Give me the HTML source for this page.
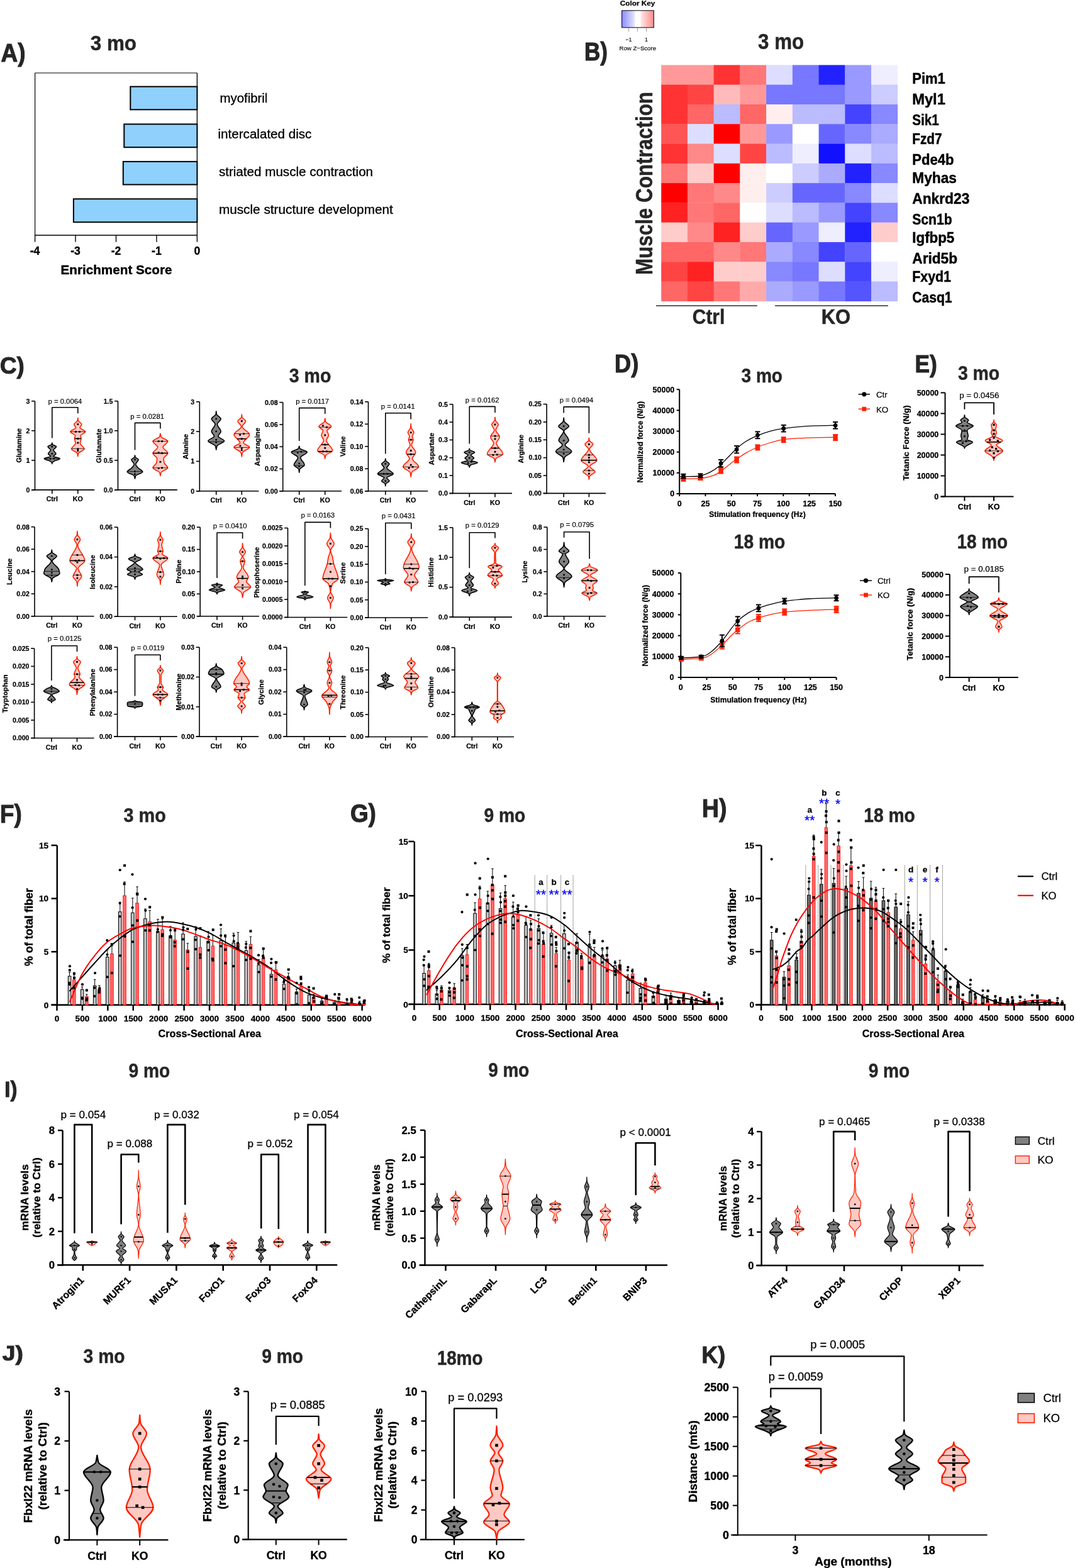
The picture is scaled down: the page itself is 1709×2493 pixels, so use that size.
<!DOCTYPE html><html><head><meta charset="utf-8"><title>Figure</title><style>html,body{margin:0;padding:0;background:#fff;width:1709px;height:2493px;overflow:hidden;}svg{display:block;}text{font-family:"Liberation Sans",Arial,Helvetica,sans-serif;}</style></head><body><svg width="1709" height="2493" viewBox="0 0 1709 2493" font-family="Liberation Sans, Arial, Helvetica, sans-serif"><text x="1.5" y="97.5" font-size="41" font-weight="bold" fill="#262626" textLength="39" lengthAdjust="spacingAndGlyphs" stroke="#262626" stroke-width="1.1" stroke-linejoin="round">A)</text>
<text x="143.7" y="80.4" font-size="32.7" font-weight="bold" stroke="#262626" stroke-width="0.48" fill="#262626" textLength="73.3" lengthAdjust="spacingAndGlyphs">3 mo</text>
<line x1="55.6" y1="116" x2="313.4" y2="116" stroke="#000" stroke-width="1.2"/>
<line x1="55.6" y1="116" x2="55.6" y2="374" stroke="#000" stroke-width="1.2"/>
<line x1="313.4" y1="116" x2="313.4" y2="374" stroke="#000" stroke-width="1.4"/>
<line x1="55.1" y1="374" x2="313.9" y2="374" stroke="#000" stroke-width="1.6"/>
<line x1="55.6" y1="374" x2="55.6" y2="384.7" stroke="#000" stroke-width="1.4"/>
<text x="55.6" y="405.1" font-size="17.6" font-weight="bold" stroke="#000" stroke-width="0.35" text-anchor="middle">-4</text>
<line x1="120.05" y1="374" x2="120.05" y2="384.7" stroke="#000" stroke-width="1.4"/>
<text x="120.05" y="405.1" font-size="17.6" font-weight="bold" stroke="#000" stroke-width="0.35" text-anchor="middle">-3</text>
<line x1="184.5" y1="374" x2="184.5" y2="384.7" stroke="#000" stroke-width="1.4"/>
<text x="184.5" y="405.1" font-size="17.6" font-weight="bold" stroke="#000" stroke-width="0.35" text-anchor="middle">-2</text>
<line x1="248.95" y1="374" x2="248.95" y2="384.7" stroke="#000" stroke-width="1.4"/>
<text x="248.95" y="405.1" font-size="17.6" font-weight="bold" stroke="#000" stroke-width="0.35" text-anchor="middle">-1</text>
<line x1="313.4" y1="374" x2="313.4" y2="384.7" stroke="#000" stroke-width="1.4"/>
<text x="313.4" y="405.1" font-size="17.6" font-weight="bold" stroke="#000" stroke-width="0.35" text-anchor="middle">0</text>
<text x="96.5" y="436.2" font-size="20.68" font-weight="bold" stroke="#000" stroke-width="0.41" textLength="177" lengthAdjust="spacingAndGlyphs">Enrichment Score</text>
<rect x="207.3" y="137.7" width="106.1" height="36.6" fill="#8fd0fc" stroke="#000" stroke-width="2"/>
<rect x="197.3" y="197.4" width="116.1" height="36.8" fill="#8fd0fc" stroke="#000" stroke-width="2"/>
<rect x="195.8" y="256.9" width="117.6" height="36.6" fill="#8fd0fc" stroke="#000" stroke-width="2"/>
<rect x="116.9" y="316.3" width="196.5" height="36.9" fill="#8fd0fc" stroke="#000" stroke-width="2"/>
<text x="349.5" y="162.7" font-size="20.39" stroke="#000" stroke-width="0.32" textLength="75.9" lengthAdjust="spacingAndGlyphs">myofibril</text>
<text x="346.5" y="219.5" font-size="20.61" stroke="#000" stroke-width="0.32" textLength="148.9" lengthAdjust="spacingAndGlyphs">intercalated disc</text>
<text x="347.9" y="280.4" font-size="20.62" stroke="#000" stroke-width="0.32" textLength="245.2" lengthAdjust="spacingAndGlyphs">striated muscle contraction</text>
<text x="347.9" y="339.8" font-size="20.76" stroke="#000" stroke-width="0.33" textLength="276.9" lengthAdjust="spacingAndGlyphs">muscle structure development</text>
<text x="928.9" y="95.9" font-size="39.8" font-weight="bold" fill="#262626" textLength="37" lengthAdjust="spacingAndGlyphs" stroke="#262626" stroke-width="1.1" stroke-linejoin="round">B)</text>
<text x="1205.1" y="77.8" font-size="34.6" font-weight="bold" stroke="#262626" stroke-width="0.48" fill="#262626" textLength="73" lengthAdjust="spacingAndGlyphs">3 mo</text>
<text x="985.8" y="9" font-size="11.77" font-weight="bold" stroke="#000" stroke-width="0.24" textLength="55.6" lengthAdjust="spacingAndGlyphs">Color Key</text>
<defs><linearGradient id="ck" x1="0" x2="1" y1="0" y2="0"><stop offset="0" stop-color="#8b8bff"/><stop offset="0.4" stop-color="#e6e6ff"/><stop offset="0.42" stop-color="#fff"/><stop offset="0.58" stop-color="#fff"/><stop offset="0.6" stop-color="#ffe6e6"/><stop offset="1" stop-color="#ff8b8b"/></linearGradient></defs>
<rect x="988.6" y="16.8" width="50.7" height="27" fill="url(#ck)" stroke="#000" stroke-width="1"/>
<line x1="999.5" y1="44.2" x2="999.5" y2="50.2" stroke="#555" stroke-width="0.6"/>
<line x1="1013.4" y1="44.2" x2="1013.4" y2="50.2" stroke="#555" stroke-width="0.6"/>
<line x1="1027.5" y1="44.2" x2="1027.5" y2="50.2" stroke="#555" stroke-width="0.6"/>
<text x="999.5" y="65.5" font-size="9" stroke="#000" stroke-width="0.14" text-anchor="middle">−1</text>
<text x="1027.5" y="65.5" font-size="9" stroke="#000" stroke-width="0.14" text-anchor="middle">1</text>
<text x="984.6" y="80.4" font-size="9.6" stroke="#000" stroke-width="0.15" textLength="58.4" lengthAdjust="spacingAndGlyphs">Row Z−Score</text>
<rect x="1051.2" y="103.4" width="42.08" height="31.63" fill="#ff9999"/>
<rect x="1092.93" y="103.4" width="42.08" height="31.63" fill="#ff9999"/>
<rect x="1134.67" y="103.4" width="42.08" height="31.63" fill="#ff3333"/>
<rect x="1176.4" y="103.4" width="42.08" height="31.63" fill="#ff7777"/>
<rect x="1218.13" y="103.4" width="42.08" height="31.63" fill="#ddddff"/>
<rect x="1259.87" y="103.4" width="42.08" height="31.63" fill="#7777ff"/>
<rect x="1301.6" y="103.4" width="42.08" height="31.63" fill="#2222ff"/>
<rect x="1343.33" y="103.4" width="42.08" height="31.63" fill="#9999ff"/>
<rect x="1385.07" y="103.4" width="42.08" height="31.63" fill="#eeeeff"/>
<rect x="1051.2" y="134.68" width="42.08" height="31.63" fill="#ff3333"/>
<rect x="1092.93" y="134.68" width="42.08" height="31.63" fill="#ff4444"/>
<rect x="1134.67" y="134.68" width="42.08" height="31.63" fill="#ffbbbb"/>
<rect x="1176.4" y="134.68" width="42.08" height="31.63" fill="#ff9999"/>
<rect x="1218.13" y="134.68" width="42.08" height="31.63" fill="#7777ff"/>
<rect x="1259.87" y="134.68" width="42.08" height="31.63" fill="#7777ff"/>
<rect x="1301.6" y="134.68" width="42.08" height="31.63" fill="#7777ff"/>
<rect x="1343.33" y="134.68" width="42.08" height="31.63" fill="#9999ff"/>
<rect x="1385.07" y="134.68" width="42.08" height="31.63" fill="#ccccff"/>
<rect x="1051.2" y="165.97" width="42.08" height="31.63" fill="#ff3333"/>
<rect x="1092.93" y="165.97" width="42.08" height="31.63" fill="#ff6666"/>
<rect x="1134.67" y="165.97" width="42.08" height="31.63" fill="#bbbbff"/>
<rect x="1176.4" y="165.97" width="42.08" height="31.63" fill="#ff6666"/>
<rect x="1218.13" y="165.97" width="42.08" height="31.63" fill="#ffeeee"/>
<rect x="1259.87" y="165.97" width="42.08" height="31.63" fill="#bbbbff"/>
<rect x="1301.6" y="165.97" width="42.08" height="31.63" fill="#bbbbff"/>
<rect x="1343.33" y="165.97" width="42.08" height="31.63" fill="#4444ff"/>
<rect x="1385.07" y="165.97" width="42.08" height="31.63" fill="#8888ff"/>
<rect x="1051.2" y="197.25" width="42.08" height="31.63" fill="#ff5555"/>
<rect x="1092.93" y="197.25" width="42.08" height="31.63" fill="#ddddff"/>
<rect x="1134.67" y="197.25" width="42.08" height="31.63" fill="#ff0000"/>
<rect x="1176.4" y="197.25" width="42.08" height="31.63" fill="#ff9999"/>
<rect x="1218.13" y="197.25" width="42.08" height="31.63" fill="#9999ff"/>
<rect x="1259.87" y="197.25" width="42.08" height="31.63" fill="#ffffff"/>
<rect x="1301.6" y="197.25" width="42.08" height="31.63" fill="#6666ff"/>
<rect x="1343.33" y="197.25" width="42.08" height="31.63" fill="#8888ff"/>
<rect x="1385.07" y="197.25" width="42.08" height="31.63" fill="#aaaaff"/>
<rect x="1051.2" y="228.53" width="42.08" height="31.63" fill="#ff3333"/>
<rect x="1092.93" y="228.53" width="42.08" height="31.63" fill="#ff8888"/>
<rect x="1134.67" y="228.53" width="42.08" height="31.63" fill="#ddddff"/>
<rect x="1176.4" y="228.53" width="42.08" height="31.63" fill="#ff4444"/>
<rect x="1218.13" y="228.53" width="42.08" height="31.63" fill="#bbbbff"/>
<rect x="1259.87" y="228.53" width="42.08" height="31.63" fill="#eeeeff"/>
<rect x="1301.6" y="228.53" width="42.08" height="31.63" fill="#1111ff"/>
<rect x="1343.33" y="228.53" width="42.08" height="31.63" fill="#ddddff"/>
<rect x="1385.07" y="228.53" width="42.08" height="31.63" fill="#bbbbff"/>
<rect x="1051.2" y="259.82" width="42.08" height="31.63" fill="#ff7777"/>
<rect x="1092.93" y="259.82" width="42.08" height="31.63" fill="#ffcccc"/>
<rect x="1134.67" y="259.82" width="42.08" height="31.63" fill="#ff0000"/>
<rect x="1176.4" y="259.82" width="42.08" height="31.63" fill="#ffeeee"/>
<rect x="1218.13" y="259.82" width="42.08" height="31.63" fill="#ffffff"/>
<rect x="1259.87" y="259.82" width="42.08" height="31.63" fill="#ccccff"/>
<rect x="1301.6" y="259.82" width="42.08" height="31.63" fill="#aaaaff"/>
<rect x="1343.33" y="259.82" width="42.08" height="31.63" fill="#2222ff"/>
<rect x="1385.07" y="259.82" width="42.08" height="31.63" fill="#8888ff"/>
<rect x="1051.2" y="291.1" width="42.08" height="31.63" fill="#ff0000"/>
<rect x="1092.93" y="291.1" width="42.08" height="31.63" fill="#ff7777"/>
<rect x="1134.67" y="291.1" width="42.08" height="31.63" fill="#ff8888"/>
<rect x="1176.4" y="291.1" width="42.08" height="31.63" fill="#ffeeee"/>
<rect x="1218.13" y="291.1" width="42.08" height="31.63" fill="#ccccff"/>
<rect x="1259.87" y="291.1" width="42.08" height="31.63" fill="#6666ff"/>
<rect x="1301.6" y="291.1" width="42.08" height="31.63" fill="#6666ff"/>
<rect x="1343.33" y="291.1" width="42.08" height="31.63" fill="#8888ff"/>
<rect x="1385.07" y="291.1" width="42.08" height="31.63" fill="#ddddff"/>
<rect x="1051.2" y="322.38" width="42.08" height="31.63" fill="#ff2222"/>
<rect x="1092.93" y="322.38" width="42.08" height="31.63" fill="#ff7777"/>
<rect x="1134.67" y="322.38" width="42.08" height="31.63" fill="#ff6666"/>
<rect x="1176.4" y="322.38" width="42.08" height="31.63" fill="#ffffff"/>
<rect x="1218.13" y="322.38" width="42.08" height="31.63" fill="#ddddff"/>
<rect x="1259.87" y="322.38" width="42.08" height="31.63" fill="#bbbbff"/>
<rect x="1301.6" y="322.38" width="42.08" height="31.63" fill="#9999ff"/>
<rect x="1343.33" y="322.38" width="42.08" height="31.63" fill="#4444ff"/>
<rect x="1385.07" y="322.38" width="42.08" height="31.63" fill="#8888ff"/>
<rect x="1051.2" y="353.67" width="42.08" height="31.63" fill="#ffcccc"/>
<rect x="1092.93" y="353.67" width="42.08" height="31.63" fill="#ff8888"/>
<rect x="1134.67" y="353.67" width="42.08" height="31.63" fill="#ff2222"/>
<rect x="1176.4" y="353.67" width="42.08" height="31.63" fill="#ffcccc"/>
<rect x="1218.13" y="353.67" width="42.08" height="31.63" fill="#6666ff"/>
<rect x="1259.87" y="353.67" width="42.08" height="31.63" fill="#9999ff"/>
<rect x="1301.6" y="353.67" width="42.08" height="31.63" fill="#eeeeff"/>
<rect x="1343.33" y="353.67" width="42.08" height="31.63" fill="#2222ff"/>
<rect x="1385.07" y="353.67" width="42.08" height="31.63" fill="#ffcccc"/>
<rect x="1051.2" y="384.95" width="42.08" height="31.63" fill="#ff6666"/>
<rect x="1092.93" y="384.95" width="42.08" height="31.63" fill="#ff6666"/>
<rect x="1134.67" y="384.95" width="42.08" height="31.63" fill="#ff8888"/>
<rect x="1176.4" y="384.95" width="42.08" height="31.63" fill="#ff7777"/>
<rect x="1218.13" y="384.95" width="42.08" height="31.63" fill="#aaaaff"/>
<rect x="1259.87" y="384.95" width="42.08" height="31.63" fill="#8888ff"/>
<rect x="1301.6" y="384.95" width="42.08" height="31.63" fill="#4444ff"/>
<rect x="1343.33" y="384.95" width="42.08" height="31.63" fill="#6666ff"/>
<rect x="1385.07" y="384.95" width="42.08" height="31.63" fill="#ffffff"/>
<rect x="1051.2" y="416.23" width="42.08" height="31.63" fill="#ff4444"/>
<rect x="1092.93" y="416.23" width="42.08" height="31.63" fill="#ff2222"/>
<rect x="1134.67" y="416.23" width="42.08" height="31.63" fill="#ffcccc"/>
<rect x="1176.4" y="416.23" width="42.08" height="31.63" fill="#ffcccc"/>
<rect x="1218.13" y="416.23" width="42.08" height="31.63" fill="#8888ff"/>
<rect x="1259.87" y="416.23" width="42.08" height="31.63" fill="#7777ff"/>
<rect x="1301.6" y="416.23" width="42.08" height="31.63" fill="#ddddff"/>
<rect x="1343.33" y="416.23" width="42.08" height="31.63" fill="#4444ff"/>
<rect x="1385.07" y="416.23" width="42.08" height="31.63" fill="#eeeeff"/>
<rect x="1051.2" y="447.52" width="42.08" height="31.63" fill="#ff6666"/>
<rect x="1092.93" y="447.52" width="42.08" height="31.63" fill="#ff4444"/>
<rect x="1134.67" y="447.52" width="42.08" height="31.63" fill="#ff7777"/>
<rect x="1176.4" y="447.52" width="42.08" height="31.63" fill="#ffaaaa"/>
<rect x="1218.13" y="447.52" width="42.08" height="31.63" fill="#aaaaff"/>
<rect x="1259.87" y="447.52" width="42.08" height="31.63" fill="#9999ff"/>
<rect x="1301.6" y="447.52" width="42.08" height="31.63" fill="#7777ff"/>
<rect x="1343.33" y="447.52" width="42.08" height="31.63" fill="#5555ff"/>
<rect x="1385.07" y="447.52" width="42.08" height="31.63" fill="#bbbbff"/>
<text x="1450.3" y="133.4" font-size="23.5" font-weight="bold" stroke="#000" stroke-width="0.47" textLength="52.5" lengthAdjust="spacingAndGlyphs">Pim1</text>
<text x="1450.3" y="166.4" font-size="23.5" font-weight="bold" stroke="#000" stroke-width="0.47" textLength="52.5" lengthAdjust="spacingAndGlyphs">Myl1</text>
<text x="1450.3" y="198.9" font-size="23.5" font-weight="bold" stroke="#000" stroke-width="0.47" textLength="42.4" lengthAdjust="spacingAndGlyphs">Sik1</text>
<text x="1450.3" y="228.5" font-size="23.5" font-weight="bold" stroke="#000" stroke-width="0.47" textLength="47.1" lengthAdjust="spacingAndGlyphs">Fzd7</text>
<text x="1450.3" y="261.5" font-size="23.5" font-weight="bold" stroke="#000" stroke-width="0.47" textLength="66.1" lengthAdjust="spacingAndGlyphs">Pde4b</text>
<text x="1450.3" y="291.1" font-size="23.5" font-weight="bold" stroke="#000" stroke-width="0.47" textLength="70.6" lengthAdjust="spacingAndGlyphs">Myhas</text>
<text x="1450.3" y="323.6" font-size="23.5" font-weight="bold" stroke="#000" stroke-width="0.47" textLength="91" lengthAdjust="spacingAndGlyphs">Ankrd23</text>
<text x="1450.3" y="356.7" font-size="23.5" font-weight="bold" stroke="#000" stroke-width="0.47" textLength="63.3" lengthAdjust="spacingAndGlyphs">Scn1b</text>
<text x="1450.3" y="386.2" font-size="23.5" font-weight="bold" stroke="#000" stroke-width="0.47" textLength="67" lengthAdjust="spacingAndGlyphs">Igfbp5</text>
<text x="1450.3" y="418.5" font-size="23.5" font-weight="bold" stroke="#000" stroke-width="0.47" textLength="71.7" lengthAdjust="spacingAndGlyphs">Arid5b</text>
<text x="1450.3" y="448.2" font-size="23.5" font-weight="bold" stroke="#000" stroke-width="0.47" textLength="61.6" lengthAdjust="spacingAndGlyphs">Fxyd1</text>
<text x="1450.3" y="481.1" font-size="23.5" font-weight="bold" stroke="#000" stroke-width="0.47" textLength="63.3" lengthAdjust="spacingAndGlyphs">Casq1</text>
<line x1="1043" y1="486.1" x2="1203.8" y2="486.1" stroke="#000" stroke-width="1.3"/>
<line x1="1232.1" y1="486.1" x2="1411.9" y2="486.1" stroke="#000" stroke-width="1.3"/>
<text x="1100.8" y="514.7" font-size="34" font-weight="bold" stroke="#262626" stroke-width="0.48" fill="#262626" textLength="51.5" lengthAdjust="spacingAndGlyphs">Ctrl</text>
<text x="1305.7" y="514.7" font-size="34" font-weight="bold" stroke="#262626" stroke-width="0.48" fill="#262626" textLength="46.5" lengthAdjust="spacingAndGlyphs">KO</text>
<text x="1037.1" y="437" font-size="36" font-weight="bold" stroke="#262626" stroke-width="0.48" fill="#262626" textLength="291" lengthAdjust="spacingAndGlyphs" transform="rotate(-90 1037.1 437)">Muscle Contraction</text>
<text x="0" y="594" font-size="37.5" font-weight="bold" fill="#262626" textLength="38.7" lengthAdjust="spacingAndGlyphs" stroke="#262626" stroke-width="1.1" stroke-linejoin="round">C)</text>
<text x="459.8" y="608" font-size="30.8" font-weight="bold" stroke="#262626" stroke-width="0.48" fill="#262626" textLength="66.5" lengthAdjust="spacingAndGlyphs">3 mo</text>
<line x1="55.5" y1="637.7" x2="55.5" y2="779.7" stroke="#000" stroke-width="1.6"/>
<line x1="50.1" y1="778.9" x2="150.2" y2="778.9" stroke="#000" stroke-width="1.6"/>
<line x1="50.1" y1="778.9" x2="55.5" y2="778.9" stroke="#000" stroke-width="1.6"/>
<text x="47.4" y="782.7" font-size="10.6" font-weight="bold" stroke="#000" stroke-width="0.21" text-anchor="end">0</text>
<line x1="50.1" y1="731.83" x2="55.5" y2="731.83" stroke="#000" stroke-width="1.6"/>
<text x="47.4" y="735.63" font-size="10.6" font-weight="bold" stroke="#000" stroke-width="0.21" text-anchor="end">1</text>
<line x1="50.1" y1="684.77" x2="55.5" y2="684.77" stroke="#000" stroke-width="1.6"/>
<text x="47.4" y="688.57" font-size="10.6" font-weight="bold" stroke="#000" stroke-width="0.21" text-anchor="end">2</text>
<line x1="50.1" y1="637.7" x2="55.5" y2="637.7" stroke="#000" stroke-width="1.6"/>
<text x="47.4" y="641.5" font-size="10.6" font-weight="bold" stroke="#000" stroke-width="0.21" text-anchor="end">3</text>
<line x1="82.8" y1="778.9" x2="82.8" y2="784.9" stroke="#000" stroke-width="1.6"/>
<text x="82.8" y="797.4" font-size="10.6" font-weight="bold" stroke="#000" stroke-width="0.21" text-anchor="middle">Ctrl</text>
<line x1="123.8" y1="778.9" x2="123.8" y2="784.9" stroke="#000" stroke-width="1.6"/>
<text x="123.8" y="797.4" font-size="10.6" font-weight="bold" stroke="#000" stroke-width="0.21" text-anchor="middle">KO</text>
<text x="34.4" y="708.3" font-size="11.2" font-weight="bold" stroke="#000" stroke-width="0.22" text-anchor="middle" transform="rotate(-90 34.4 708.3)">Glutamine</text>
<text x="103.4" y="641.5" font-size="11.3" stroke="#000" stroke-width="0.18" text-anchor="middle">p = 0.0064</text>
<polyline points="82.8,696.5 82.8,647.7 123.8,647.7 123.8,657.3" fill="none" stroke="#000" stroke-width="1.6" stroke-linejoin="round" stroke-linecap="butt"/>
<path d="M82.8,704.1C83,704.9 83.1,705.8 83.5,706.6C84,707.8 89.6,708.9 89.6,710.1C89.6,711.9 85,713.8 85,715.6C85,717.5 89,719.5 89,721.4C89,722.8 85,724.2 85,725.6C85,726.8 95.3,728 95.3,729.2C95.3,730.7 86.9,732.3 85,733.8C84.1,734.5 83.2,735.2 83,735.9C82.9,736.4 82.9,736.9 82.8,737.4C82.7,736.9 82.7,736.4 82.6,735.9C82.4,735.2 81.5,734.5 80.6,733.8C78.7,732.3 70.3,730.7 70.3,729.2C70.3,728 80.6,726.8 80.6,725.6C80.6,724.2 76.6,722.8 76.6,721.4C76.6,719.5 80.6,717.5 80.6,715.6C80.6,713.8 76,711.9 76,710.1C76,708.9 81.6,707.8 82.1,706.6C82.5,705.8 82.6,704.9 82.8,704.1Z" fill="#808080" stroke="#000" stroke-width="1.6" stroke-linejoin="round"/>
<line x1="70.3" y1="729.2" x2="95.3" y2="729.2" stroke="#000" stroke-width="0.8"/>
<circle cx="82.8" cy="710.3" r="1.44" fill="#000"/>
<circle cx="82.8" cy="721.4" r="1.44" fill="#000"/>
<circle cx="80" cy="729.8" r="1.44" fill="#000"/>
<circle cx="85.9" cy="729.2" r="1.44" fill="#000"/>
<path d="M123.8,664.6C124,666 124.1,667.4 124.4,668.8C124.9,670.7 129.9,672.7 129.9,674.6C129.9,676.4 127,678.3 127,680.1C127,682.2 135.7,684.3 135.7,686.4C135.7,688.5 128,690.7 128,692.8C128,694.3 129,695.9 129,697.4C129,699.8 127.5,702.3 127.5,704.7C127.5,707.7 134,710.8 134,713.8C134,716.1 125.6,718.4 124.8,720.6C124.3,722.3 124.1,723.9 123.8,725.6C123.5,723.9 123.3,722.3 122.8,720.6C122,718.4 113.6,716.1 113.6,713.8C113.6,710.8 120.1,707.7 120.1,704.7C120.1,702.3 118.6,699.8 118.6,697.4C118.6,695.9 119.6,694.3 119.6,692.8C119.6,690.7 111.9,688.5 111.9,686.4C111.9,684.3 120.6,682.2 120.6,680.1C120.6,678.3 117.7,676.4 117.7,674.6C117.7,672.7 122.7,670.7 123.2,668.8C123.5,667.4 123.6,666 123.8,664.6Z" fill="#ffc9c3" stroke="#ff2000" stroke-width="1.6" stroke-linejoin="round"/>
<line x1="111.9" y1="686.4" x2="135.7" y2="686.4" stroke="#000" stroke-width="0.8"/>
<line x1="118.6" y1="697.4" x2="129" y2="697.4" stroke="#000" stroke-width="1.6"/>
<line x1="113.66" y1="713.3" x2="133.94" y2="713.3" stroke="#000" stroke-width="0.8"/>
<rect x="122.4" y="673.2" width="2.8" height="2.8" fill="#000"/>
<rect x="119.1" y="685" width="2.8" height="2.8" fill="#000"/>
<rect x="125.1" y="685" width="2.8" height="2.8" fill="#000"/>
<rect x="122.4" y="696" width="2.8" height="2.8" fill="#000"/>
<rect x="122.4" y="702.7" width="2.8" height="2.8" fill="#000"/>
<rect x="122.4" y="712.4" width="2.8" height="2.8" fill="#000"/>
<rect x="122.4" y="715.2" width="2.8" height="2.8" fill="#000"/>
<line x1="187.5" y1="637.7" x2="187.5" y2="779.7" stroke="#000" stroke-width="1.6"/>
<line x1="182.1" y1="778.9" x2="281.8" y2="778.9" stroke="#000" stroke-width="1.6"/>
<line x1="182.1" y1="778.9" x2="187.5" y2="778.9" stroke="#000" stroke-width="1.6"/>
<text x="179.4" y="782.7" font-size="10.6" font-weight="bold" stroke="#000" stroke-width="0.21" text-anchor="end">0.0</text>
<line x1="182.1" y1="731.83" x2="187.5" y2="731.83" stroke="#000" stroke-width="1.6"/>
<text x="179.4" y="735.63" font-size="10.6" font-weight="bold" stroke="#000" stroke-width="0.21" text-anchor="end">0.5</text>
<line x1="182.1" y1="684.77" x2="187.5" y2="684.77" stroke="#000" stroke-width="1.6"/>
<text x="179.4" y="688.57" font-size="10.6" font-weight="bold" stroke="#000" stroke-width="0.21" text-anchor="end">1.0</text>
<line x1="182.1" y1="637.7" x2="187.5" y2="637.7" stroke="#000" stroke-width="1.6"/>
<text x="179.4" y="641.5" font-size="10.6" font-weight="bold" stroke="#000" stroke-width="0.21" text-anchor="end">1.5</text>
<line x1="214.5" y1="778.9" x2="214.5" y2="784.9" stroke="#000" stroke-width="1.6"/>
<text x="214.5" y="797.4" font-size="10.6" font-weight="bold" stroke="#000" stroke-width="0.21" text-anchor="middle">Ctrl</text>
<line x1="254.9" y1="778.9" x2="254.9" y2="784.9" stroke="#000" stroke-width="1.6"/>
<text x="254.9" y="797.4" font-size="10.6" font-weight="bold" stroke="#000" stroke-width="0.21" text-anchor="middle">KO</text>
<text x="160.9" y="708.8" font-size="11.2" font-weight="bold" stroke="#000" stroke-width="0.22" text-anchor="middle" transform="rotate(-90 160.9 708.8)">Glutamate</text>
<text x="234.1" y="665.5" font-size="11.3" stroke="#000" stroke-width="0.18" text-anchor="middle">p = 0.0281</text>
<polyline points="214.5,715.6 214.5,672.4 254.9,672.4 254.9,681.5" fill="none" stroke="#000" stroke-width="1.6" stroke-linejoin="round" stroke-linecap="butt"/>
<path d="M214.5,723.8C214.7,724.8 214.7,725.7 215.1,726.7C215.5,728 220.1,729.4 220.1,730.7C220.1,733.2 215.7,735.8 215.7,738.3C215.7,740.2 218.1,742.1 219.7,744C221.5,746.1 226.8,748.1 226.8,750.2C226.8,752.3 216.7,754.4 215.7,756.5C215,758 214.9,759.6 214.5,761.1C214.1,759.6 214,758 213.3,756.5C212.3,754.4 202.2,752.3 202.2,750.2C202.2,748.1 207.5,746.1 209.3,744C210.9,742.1 213.3,740.2 213.3,738.3C213.3,735.8 208.9,733.2 208.9,730.7C208.9,729.4 213.5,728 213.9,726.7C214.3,725.7 214.3,724.8 214.5,723.8Z" fill="#808080" stroke="#000" stroke-width="1.6" stroke-linejoin="round"/>
<line x1="202.34" y1="749.6" x2="226.66" y2="749.6" stroke="#000" stroke-width="0.8"/>
<circle cx="214.5" cy="730.7" r="1.44" fill="#000"/>
<circle cx="214.5" cy="749.6" r="1.44" fill="#000"/>
<circle cx="214.5" cy="753.8" r="1.44" fill="#000"/>
<path d="M254.9,689.2C255.3,690.9 255.4,692.7 256.1,694.4C257,696.8 266.8,699.2 266.8,701.6C266.8,704.7 259.1,707.9 259.1,711C259.1,714.2 266.8,717.3 266.8,720.5C266.8,723.4 260.1,726.3 260.1,729.2C260.1,731.5 260.6,733.7 261.1,736C261.7,738.6 266.8,741.2 266.8,743.8C266.8,746.3 257,748.7 256.1,751.2C255.4,752.9 255.3,754.7 254.9,756.5C254.5,754.7 254.4,752.9 253.7,751.2C252.8,748.7 243,746.3 243,743.8C243,741.2 248.1,738.6 248.7,736C249.2,733.7 249.7,731.5 249.7,729.2C249.7,726.3 243,723.4 243,720.5C243,717.3 250.7,714.2 250.7,711C250.7,707.9 243,704.7 243,701.6C243,699.2 252.8,696.8 253.7,694.4C254.4,692.7 254.5,690.9 254.9,689.2Z" fill="#ffc9c3" stroke="#ff2000" stroke-width="1.6" stroke-linejoin="round"/>
<line x1="243" y1="701.6" x2="266.8" y2="701.6" stroke="#000" stroke-width="0.8"/>
<line x1="243" y1="720.5" x2="266.8" y2="720.5" stroke="#000" stroke-width="1.6"/>
<line x1="243" y1="743.8" x2="266.8" y2="743.8" stroke="#000" stroke-width="0.8"/>
<rect x="250.7" y="700.2" width="2.8" height="2.8" fill="#000"/>
<rect x="256.2" y="700.2" width="2.8" height="2.8" fill="#000"/>
<rect x="250.7" y="718.4" width="2.8" height="2.8" fill="#000"/>
<rect x="256.2" y="719.1" width="2.8" height="2.8" fill="#000"/>
<rect x="253.5" y="732.9" width="2.8" height="2.8" fill="#000"/>
<rect x="250.7" y="743.3" width="2.8" height="2.8" fill="#000"/>
<rect x="256.2" y="742.4" width="2.8" height="2.8" fill="#000"/>
<line x1="317.3" y1="638.8" x2="317.3" y2="781.6" stroke="#000" stroke-width="1.6"/>
<line x1="311.9" y1="780.8" x2="411.4" y2="780.8" stroke="#000" stroke-width="1.6"/>
<line x1="311.9" y1="780.8" x2="317.3" y2="780.8" stroke="#000" stroke-width="1.6"/>
<text x="309.2" y="784.6" font-size="10.6" font-weight="bold" stroke="#000" stroke-width="0.21" text-anchor="end">0</text>
<line x1="311.9" y1="733.47" x2="317.3" y2="733.47" stroke="#000" stroke-width="1.6"/>
<text x="309.2" y="737.27" font-size="10.6" font-weight="bold" stroke="#000" stroke-width="0.21" text-anchor="end">1</text>
<line x1="311.9" y1="686.13" x2="317.3" y2="686.13" stroke="#000" stroke-width="1.6"/>
<text x="309.2" y="689.93" font-size="10.6" font-weight="bold" stroke="#000" stroke-width="0.21" text-anchor="end">2</text>
<line x1="311.9" y1="638.8" x2="317.3" y2="638.8" stroke="#000" stroke-width="1.6"/>
<text x="309.2" y="642.6" font-size="10.6" font-weight="bold" stroke="#000" stroke-width="0.21" text-anchor="end">3</text>
<line x1="343.7" y1="780.8" x2="343.7" y2="786.8" stroke="#000" stroke-width="1.6"/>
<text x="343.7" y="799.3" font-size="10.6" font-weight="bold" stroke="#000" stroke-width="0.21" text-anchor="middle">Ctrl</text>
<line x1="384.3" y1="780.8" x2="384.3" y2="786.8" stroke="#000" stroke-width="1.6"/>
<text x="384.3" y="799.3" font-size="10.6" font-weight="bold" stroke="#000" stroke-width="0.21" text-anchor="middle">KO</text>
<text x="299.3" y="710.1" font-size="11.2" font-weight="bold" stroke="#000" stroke-width="0.22" text-anchor="middle" transform="rotate(-90 299.3 710.1)">Alanine</text>
<path d="M343.7,653.7C343.9,655.4 344,657.1 344.4,658.8C345,661.2 351.1,663.5 351.1,665.9C351.1,668.8 345.4,671.7 345.4,674.6C345.4,678.4 351.1,682.1 351.1,685.9C351.1,688.5 346.9,691.1 346.9,693.7C346.9,696.1 356.6,698.6 356.6,701C356.6,703.7 346,706.4 345,709.1C344.3,711.1 344.1,713 343.7,715C343.3,713 343.1,711.1 342.4,709.1C341.4,706.4 330.8,703.7 330.8,701C330.8,698.6 340.5,696.1 340.5,693.7C340.5,691.1 336.3,688.5 336.3,685.9C336.3,682.1 342,678.4 342,674.6C342,671.7 336.3,668.8 336.3,665.9C336.3,663.5 342.4,661.2 343,658.8C343.4,657.1 343.5,655.4 343.7,653.7Z" fill="#808080" stroke="#000" stroke-width="1.6" stroke-linejoin="round"/>
<line x1="331.53" y1="702.3" x2="355.87" y2="702.3" stroke="#000" stroke-width="0.8"/>
<circle cx="343.7" cy="665.9" r="1.44" fill="#000"/>
<circle cx="343.7" cy="685.9" r="1.44" fill="#000"/>
<circle cx="343.7" cy="699.2" r="1.44" fill="#000"/>
<circle cx="343.7" cy="703.2" r="1.44" fill="#000"/>
<path d="M384.3,659.1C384.5,660.6 384.6,662 384.9,663.5C385.4,665.5 390.6,667.5 390.6,669.5C390.6,672.4 385,675.4 385,678.3C385,682.5 396.6,686.8 396.6,691C396.6,695.4 387,699.7 387,704.1C387,706.4 396.6,708.7 396.6,711C396.6,713.9 386.5,716.8 385.5,719.7C384.8,721.8 384.7,723.9 384.3,726C383.9,723.9 383.8,721.8 383.1,719.7C382.1,716.8 372,713.9 372,711C372,708.7 381.6,706.4 381.6,704.1C381.6,699.7 372,695.4 372,691C372,686.8 383.6,682.5 383.6,678.3C383.6,675.4 378,672.4 378,669.5C378,667.5 383.2,665.5 383.7,663.5C384,662 384.1,660.6 384.3,659.1Z" fill="#ffc9c3" stroke="#ff2000" stroke-width="1.6" stroke-linejoin="round"/>
<line x1="372.39" y1="689.6" x2="396.21" y2="689.6" stroke="#000" stroke-width="0.8"/>
<line x1="376.96" y1="697.7" x2="391.64" y2="697.7" stroke="#000" stroke-width="1.6"/>
<line x1="372.06" y1="711.4" x2="396.54" y2="711.4" stroke="#000" stroke-width="0.8"/>
<rect x="382.9" y="668.1" width="2.8" height="2.8" fill="#000"/>
<rect x="380.2" y="690" width="2.8" height="2.8" fill="#000"/>
<rect x="386" y="688.3" width="2.8" height="2.8" fill="#000"/>
<rect x="382.9" y="696.3" width="2.8" height="2.8" fill="#000"/>
<rect x="380.5" y="707.4" width="2.8" height="2.8" fill="#000"/>
<rect x="382.9" y="711.1" width="2.8" height="2.8" fill="#000"/>
<rect x="382.9" y="714.2" width="2.8" height="2.8" fill="#000"/>
<line x1="449.7" y1="639.7" x2="449.7" y2="781.6" stroke="#000" stroke-width="1.6"/>
<line x1="444.3" y1="780.8" x2="543.1" y2="780.8" stroke="#000" stroke-width="1.6"/>
<line x1="444.3" y1="780.8" x2="449.7" y2="780.8" stroke="#000" stroke-width="1.6"/>
<text x="441.6" y="784.6" font-size="10.6" font-weight="bold" stroke="#000" stroke-width="0.21" text-anchor="end">0.00</text>
<line x1="444.3" y1="745.52" x2="449.7" y2="745.52" stroke="#000" stroke-width="1.6"/>
<text x="441.6" y="749.32" font-size="10.6" font-weight="bold" stroke="#000" stroke-width="0.21" text-anchor="end">0.02</text>
<line x1="444.3" y1="710.25" x2="449.7" y2="710.25" stroke="#000" stroke-width="1.6"/>
<text x="441.6" y="714.05" font-size="10.6" font-weight="bold" stroke="#000" stroke-width="0.21" text-anchor="end">0.04</text>
<line x1="444.3" y1="674.98" x2="449.7" y2="674.98" stroke="#000" stroke-width="1.6"/>
<text x="441.6" y="678.77" font-size="10.6" font-weight="bold" stroke="#000" stroke-width="0.21" text-anchor="end">0.06</text>
<line x1="444.3" y1="639.7" x2="449.7" y2="639.7" stroke="#000" stroke-width="1.6"/>
<text x="441.6" y="643.5" font-size="10.6" font-weight="bold" stroke="#000" stroke-width="0.21" text-anchor="end">0.08</text>
<line x1="475.7" y1="780.8" x2="475.7" y2="786.8" stroke="#000" stroke-width="1.6"/>
<text x="475.7" y="799.3" font-size="10.6" font-weight="bold" stroke="#000" stroke-width="0.21" text-anchor="middle">Ctrl</text>
<line x1="516.7" y1="780.8" x2="516.7" y2="786.8" stroke="#000" stroke-width="1.6"/>
<text x="516.7" y="799.3" font-size="10.6" font-weight="bold" stroke="#000" stroke-width="0.21" text-anchor="middle">KO</text>
<text x="413.2" y="710.6" font-size="11.2" font-weight="bold" stroke="#000" stroke-width="0.22" text-anchor="middle" transform="rotate(-90 413.2 710.6)">Asparagine</text>
<text x="496.6" y="641.8" font-size="11.3" stroke="#000" stroke-width="0.18" text-anchor="middle">p = 0.0117</text>
<polyline points="475.7,701 475.7,648.6 516.7,648.6 516.7,657.9" fill="none" stroke="#000" stroke-width="1.6" stroke-linejoin="round" stroke-linecap="butt"/>
<path d="M475.7,709.2C476.1,710.5 476.3,711.9 476.9,713.2C477.9,715 488.2,716.9 488.2,718.7C488.2,721.6 477.9,724.5 477.9,727.4C477.9,731.3 484,735.3 484,739.2C484,741.5 477.2,743.8 476.5,746.1C476.1,747.8 476,749.4 475.7,751.1C475.4,749.4 475.3,747.8 474.9,746.1C474.2,743.8 467.4,741.5 467.4,739.2C467.4,735.3 473.5,731.3 473.5,727.4C473.5,724.5 463.2,721.6 463.2,718.7C463.2,716.9 473.5,715 474.4,713.2C475.1,711.9 475.3,710.5 475.7,709.2Z" fill="#808080" stroke="#000" stroke-width="1.6" stroke-linejoin="round"/>
<line x1="463.36" y1="718.3" x2="488.04" y2="718.3" stroke="#000" stroke-width="0.8"/>
<line x1="467.79" y1="740.2" x2="483.61" y2="740.2" stroke="#000" stroke-width="0.8"/>
<circle cx="473.4" cy="719.8" r="1.44" fill="#000"/>
<circle cx="478.8" cy="718.3" r="1.44" fill="#000"/>
<circle cx="475.7" cy="736.9" r="1.44" fill="#000"/>
<circle cx="475.7" cy="741.6" r="1.44" fill="#000"/>
<path d="M516.7,665.1C517,666.9 517.1,668.7 517.7,670.5C518.4,673 526.5,675.4 526.5,677.9C526.5,680.1 519.9,682.4 519.9,684.6C519.9,687 522.4,689.5 522.4,691.9C522.4,694.6 518.9,697.4 518.9,700.1C518.9,705.6 528.6,711 528.6,716.5C528.6,719 518.8,721.4 517.9,723.9C517.2,725.6 517.1,727.4 516.7,729.2C516.3,727.4 516.2,725.6 515.5,723.9C514.6,721.4 504.8,719 504.8,716.5C504.8,711 514.5,705.6 514.5,700.1C514.5,697.4 511,694.6 511,691.9C511,689.5 513.5,687 513.5,684.6C513.5,682.4 506.9,680.1 506.9,677.9C506.9,675.4 515,673 515.7,670.5C516.3,668.7 516.4,666.9 516.7,665.1Z" fill="#ffc9c3" stroke="#ff2000" stroke-width="1.6" stroke-linejoin="round"/>
<line x1="507.55" y1="679.2" x2="525.85" y2="679.2" stroke="#000" stroke-width="0.8"/>
<line x1="510.79" y1="707" x2="522.61" y2="707" stroke="#000" stroke-width="1.6"/>
<line x1="505.61" y1="717.8" x2="527.79" y2="717.8" stroke="#000" stroke-width="1.6"/>
<rect x="512" y="675.4" width="2.8" height="2.8" fill="#000"/>
<rect x="518" y="677.8" width="2.8" height="2.8" fill="#000"/>
<rect x="515.3" y="690.5" width="2.8" height="2.8" fill="#000"/>
<rect x="515.3" y="705.6" width="2.8" height="2.8" fill="#000"/>
<rect x="515.3" y="710.9" width="2.8" height="2.8" fill="#000"/>
<rect x="512" y="716.4" width="2.8" height="2.8" fill="#000"/>
<rect x="518" y="716.4" width="2.8" height="2.8" fill="#000"/>
<line x1="585.5" y1="638.8" x2="585.5" y2="781.6" stroke="#000" stroke-width="1.6"/>
<line x1="580.1" y1="780.8" x2="680.2" y2="780.8" stroke="#000" stroke-width="1.6"/>
<line x1="580.1" y1="780.8" x2="585.5" y2="780.8" stroke="#000" stroke-width="1.6"/>
<text x="577.4" y="784.6" font-size="10.6" font-weight="bold" stroke="#000" stroke-width="0.21" text-anchor="end">0.06</text>
<line x1="580.1" y1="745.3" x2="585.5" y2="745.3" stroke="#000" stroke-width="1.6"/>
<text x="577.4" y="749.1" font-size="10.6" font-weight="bold" stroke="#000" stroke-width="0.21" text-anchor="end">0.08</text>
<line x1="580.1" y1="709.8" x2="585.5" y2="709.8" stroke="#000" stroke-width="1.6"/>
<text x="577.4" y="713.6" font-size="10.6" font-weight="bold" stroke="#000" stroke-width="0.21" text-anchor="end">0.10</text>
<line x1="580.1" y1="674.3" x2="585.5" y2="674.3" stroke="#000" stroke-width="1.6"/>
<text x="577.4" y="678.1" font-size="10.6" font-weight="bold" stroke="#000" stroke-width="0.21" text-anchor="end">0.12</text>
<line x1="580.1" y1="638.8" x2="585.5" y2="638.8" stroke="#000" stroke-width="1.6"/>
<text x="577.4" y="642.6" font-size="10.6" font-weight="bold" stroke="#000" stroke-width="0.21" text-anchor="end">0.14</text>
<line x1="612.8" y1="780.8" x2="612.8" y2="786.8" stroke="#000" stroke-width="1.6"/>
<text x="612.8" y="799.3" font-size="10.6" font-weight="bold" stroke="#000" stroke-width="0.21" text-anchor="middle">Ctrl</text>
<line x1="653.2" y1="780.8" x2="653.2" y2="786.8" stroke="#000" stroke-width="1.6"/>
<text x="653.2" y="799.3" font-size="10.6" font-weight="bold" stroke="#000" stroke-width="0.21" text-anchor="middle">KO</text>
<text x="548.9" y="709.7" font-size="11.2" font-weight="bold" stroke="#000" stroke-width="0.22" text-anchor="middle" transform="rotate(-90 548.9 709.7)">Valine</text>
<text x="632.6" y="650" font-size="11.3" stroke="#000" stroke-width="0.18" text-anchor="middle">p = 0.0141</text>
<polyline points="612.8,721.6 612.8,656.8 653.2,656.8 653.2,666.4" fill="none" stroke="#000" stroke-width="1.6" stroke-linejoin="round" stroke-linecap="butt"/>
<path d="M612.8,729.2C613,730.3 613.1,731.5 613.4,732.6C613.9,734.2 618.9,735.8 618.9,737.4C618.9,739.5 615,741.7 615,743.8C615,747 625.1,750.2 625.1,753.4C625.1,755.5 615,757.7 615,759.8C615,761.4 618.9,763.1 618.9,764.7C618.9,766.2 613.9,767.8 613.4,769.3C613.1,770.4 613,771.5 612.8,772.6C612.6,771.5 612.5,770.4 612.2,769.3C611.7,767.8 606.7,766.2 606.7,764.7C606.7,763.1 610.6,761.4 610.6,759.8C610.6,757.7 600.5,755.5 600.5,753.4C600.5,750.2 610.6,747 610.6,743.8C610.6,741.7 606.7,739.5 606.7,737.4C606.7,735.8 611.7,734.2 612.2,732.6C612.5,731.5 612.6,730.3 612.8,729.2Z" fill="#808080" stroke="#000" stroke-width="1.6" stroke-linejoin="round"/>
<line x1="600.5" y1="753.4" x2="625.1" y2="753.4" stroke="#000" stroke-width="1.6"/>
<circle cx="612.8" cy="737.4" r="1.44" fill="#000"/>
<circle cx="610" cy="753.4" r="1.44" fill="#000"/>
<circle cx="615.5" cy="753.4" r="1.44" fill="#000"/>
<circle cx="612.8" cy="764.7" r="1.44" fill="#000"/>
<path d="M653.2,673.7C653.4,675.7 653.4,677.6 653.7,679.6C654,682.3 657.9,685 657.9,687.7C657.9,689.7 655.4,691.7 655.4,693.7C655.4,695.7 656.9,697.6 656.9,699.6C656.9,702.2 654.4,704.8 654.4,707.4C654.4,711.3 660.8,715.3 660.8,719.2C660.8,722.5 655.4,725.9 655.4,729.2C655.4,733.5 665.7,737.7 665.7,742C665.7,745.1 655.4,748.2 654.5,751.3C653.8,753.5 653.6,755.8 653.2,758C652.8,755.8 652.6,753.5 652,751.3C651,748.2 640.7,745.1 640.7,742C640.7,737.7 651,733.5 651,729.2C651,725.9 645.6,722.5 645.6,719.2C645.6,715.3 652,711.3 652,707.4C652,704.8 649.5,702.2 649.5,699.6C649.5,697.6 651,695.7 651,693.7C651,691.7 648.5,689.7 648.5,687.7C648.5,685 652.4,682.3 652.7,679.6C653,677.6 653,675.7 653.2,673.7Z" fill="#ffc9c3" stroke="#ff2000" stroke-width="1.6" stroke-linejoin="round"/>
<line x1="649.52" y1="699.2" x2="656.88" y2="699.2" stroke="#000" stroke-width="0.8"/>
<line x1="646.84" y1="722.3" x2="659.56" y2="722.3" stroke="#000" stroke-width="1.6"/>
<line x1="640.73" y1="742.3" x2="665.67" y2="742.3" stroke="#000" stroke-width="0.8"/>
<rect x="651.8" y="686.3" width="2.8" height="2.8" fill="#000"/>
<rect x="651.8" y="697.8" width="2.8" height="2.8" fill="#000"/>
<rect x="651.8" y="715.1" width="2.8" height="2.8" fill="#000"/>
<rect x="651.8" y="720.9" width="2.8" height="2.8" fill="#000"/>
<rect x="651.8" y="737.8" width="2.8" height="2.8" fill="#000"/>
<rect x="648.7" y="742.8" width="2.8" height="2.8" fill="#000"/>
<rect x="654.7" y="740.9" width="2.8" height="2.8" fill="#000"/>
<line x1="719.9" y1="642.8" x2="719.9" y2="785.2" stroke="#000" stroke-width="1.6"/>
<line x1="714.5" y1="784.4" x2="814" y2="784.4" stroke="#000" stroke-width="1.6"/>
<line x1="714.5" y1="784.4" x2="719.9" y2="784.4" stroke="#000" stroke-width="1.6"/>
<text x="711.8" y="788.2" font-size="10.6" font-weight="bold" stroke="#000" stroke-width="0.21" text-anchor="end">0.0</text>
<line x1="714.5" y1="756.08" x2="719.9" y2="756.08" stroke="#000" stroke-width="1.6"/>
<text x="711.8" y="759.88" font-size="10.6" font-weight="bold" stroke="#000" stroke-width="0.21" text-anchor="end">0.1</text>
<line x1="714.5" y1="727.76" x2="719.9" y2="727.76" stroke="#000" stroke-width="1.6"/>
<text x="711.8" y="731.56" font-size="10.6" font-weight="bold" stroke="#000" stroke-width="0.21" text-anchor="end">0.2</text>
<line x1="714.5" y1="699.44" x2="719.9" y2="699.44" stroke="#000" stroke-width="1.6"/>
<text x="711.8" y="703.24" font-size="10.6" font-weight="bold" stroke="#000" stroke-width="0.21" text-anchor="end">0.3</text>
<line x1="714.5" y1="671.12" x2="719.9" y2="671.12" stroke="#000" stroke-width="1.6"/>
<text x="711.8" y="674.92" font-size="10.6" font-weight="bold" stroke="#000" stroke-width="0.21" text-anchor="end">0.4</text>
<line x1="714.5" y1="642.8" x2="719.9" y2="642.8" stroke="#000" stroke-width="1.6"/>
<text x="711.8" y="646.6" font-size="10.6" font-weight="bold" stroke="#000" stroke-width="0.21" text-anchor="end">0.5</text>
<line x1="746.3" y1="784.4" x2="746.3" y2="790.4" stroke="#000" stroke-width="1.6"/>
<text x="746.3" y="802.9" font-size="10.6" font-weight="bold" stroke="#000" stroke-width="0.21" text-anchor="middle">Ctrl</text>
<line x1="787" y1="784.4" x2="787" y2="790.4" stroke="#000" stroke-width="1.6"/>
<text x="787" y="802.9" font-size="10.6" font-weight="bold" stroke="#000" stroke-width="0.21" text-anchor="middle">KO</text>
<text x="689.6" y="713.8" font-size="11.2" font-weight="bold" stroke="#000" stroke-width="0.22" text-anchor="middle" transform="rotate(-90 689.6 713.8)">Aspartate</text>
<text x="766.7" y="639.7" font-size="11.3" stroke="#000" stroke-width="0.18" text-anchor="middle">p = 0.0162</text>
<polyline points="746.3,705.6 746.3,646.4 787,646.4 787,656" fill="none" stroke="#000" stroke-width="1.6" stroke-linejoin="round" stroke-linecap="butt"/>
<path d="M746.3,713.2C746.6,714 746.7,714.9 747.1,715.7C747.8,716.9 754.6,718 754.6,719.2C754.6,720.6 748.5,722 748.5,723.4C748.5,725 753.5,726.7 753.5,728.3C753.5,729.5 749.5,730.8 749.5,732C749.5,733.2 759.2,734.4 759.2,735.6C759.2,737 748.6,738.4 747.6,739.8C746.9,740.9 746.7,741.9 746.3,742.9C745.9,741.9 745.7,740.9 745,739.8C744,738.4 733.4,737 733.4,735.6C733.4,734.4 743.1,733.2 743.1,732C743.1,730.8 739.1,729.5 739.1,728.3C739.1,726.7 744.1,725 744.1,723.4C744.1,722 738,720.6 738,719.2C738,718 744.8,716.9 745.5,715.7C745.9,714.9 746,714 746.3,713.2Z" fill="#808080" stroke="#000" stroke-width="1.6" stroke-linejoin="round"/>
<line x1="738.25" y1="733.8" x2="754.35" y2="733.8" stroke="#000" stroke-width="0.8"/>
<circle cx="746.3" cy="719.2" r="1.44" fill="#000"/>
<circle cx="746.3" cy="728.3" r="1.44" fill="#000"/>
<circle cx="749.4" cy="734.3" r="1.44" fill="#000"/>
<circle cx="744.1" cy="736.5" r="1.44" fill="#000"/>
<path d="M787,663.3C787.2,664.9 787.2,666.6 787.5,668.2C787.9,670.5 792.2,672.7 792.2,675C792.2,677.9 788.2,680.8 788.2,683.7C788.2,687.5 794.2,691.2 794.2,695C794.2,698.2 789.2,701.5 789.2,704.7C789.2,710.4 799.5,716.2 799.5,721.9C799.5,724.4 789.2,726.8 788.2,729.3C787.6,731.1 787.4,732.9 787,734.7C786.6,732.9 786.4,731.1 785.8,729.3C784.8,726.8 774.5,724.4 774.5,721.9C774.5,716.2 784.8,710.4 784.8,704.7C784.8,701.5 779.8,698.2 779.8,695C779.8,691.2 785.8,687.5 785.8,683.7C785.8,680.8 781.8,677.9 781.8,675C781.8,672.7 786.1,670.5 786.5,668.2C786.8,666.6 786.8,664.9 787,663.3Z" fill="#ffc9c3" stroke="#ff2000" stroke-width="1.6" stroke-linejoin="round"/>
<line x1="780.21" y1="693.2" x2="793.79" y2="693.2" stroke="#000" stroke-width="0.8"/>
<line x1="780.37" y1="712.5" x2="793.63" y2="712.5" stroke="#000" stroke-width="1.6"/>
<line x1="775.01" y1="722.9" x2="798.99" y2="722.9" stroke="#000" stroke-width="0.8"/>
<rect x="785.6" y="673.6" width="2.8" height="2.8" fill="#000"/>
<rect x="785.6" y="691.8" width="2.8" height="2.8" fill="#000"/>
<rect x="785.6" y="696.5" width="2.8" height="2.8" fill="#000"/>
<rect x="785.6" y="711.1" width="2.8" height="2.8" fill="#000"/>
<rect x="785.6" y="716.9" width="2.8" height="2.8" fill="#000"/>
<rect x="782.5" y="722" width="2.8" height="2.8" fill="#000"/>
<rect x="788.9" y="721.5" width="2.8" height="2.8" fill="#000"/>
<line x1="869.1" y1="642.6" x2="869.1" y2="785.2" stroke="#000" stroke-width="1.6"/>
<line x1="863.7" y1="784.4" x2="963" y2="784.4" stroke="#000" stroke-width="1.6"/>
<line x1="863.7" y1="784.4" x2="869.1" y2="784.4" stroke="#000" stroke-width="1.6"/>
<text x="861" y="788.2" font-size="10.6" font-weight="bold" stroke="#000" stroke-width="0.21" text-anchor="end">0.00</text>
<line x1="863.7" y1="756.04" x2="869.1" y2="756.04" stroke="#000" stroke-width="1.6"/>
<text x="861" y="759.84" font-size="10.6" font-weight="bold" stroke="#000" stroke-width="0.21" text-anchor="end">0.05</text>
<line x1="863.7" y1="727.68" x2="869.1" y2="727.68" stroke="#000" stroke-width="1.6"/>
<text x="861" y="731.48" font-size="10.6" font-weight="bold" stroke="#000" stroke-width="0.21" text-anchor="end">0.10</text>
<line x1="863.7" y1="699.32" x2="869.1" y2="699.32" stroke="#000" stroke-width="1.6"/>
<text x="861" y="703.12" font-size="10.6" font-weight="bold" stroke="#000" stroke-width="0.21" text-anchor="end">0.15</text>
<line x1="863.7" y1="670.96" x2="869.1" y2="670.96" stroke="#000" stroke-width="1.6"/>
<text x="861" y="674.76" font-size="10.6" font-weight="bold" stroke="#000" stroke-width="0.21" text-anchor="end">0.20</text>
<line x1="863.7" y1="642.6" x2="869.1" y2="642.6" stroke="#000" stroke-width="1.6"/>
<text x="861" y="646.4" font-size="10.6" font-weight="bold" stroke="#000" stroke-width="0.21" text-anchor="end">0.25</text>
<line x1="896.2" y1="784.4" x2="896.2" y2="790.4" stroke="#000" stroke-width="1.6"/>
<text x="896.2" y="802.9" font-size="10.6" font-weight="bold" stroke="#000" stroke-width="0.21" text-anchor="middle">Ctrl</text>
<line x1="936.4" y1="784.4" x2="936.4" y2="790.4" stroke="#000" stroke-width="1.6"/>
<text x="936.4" y="802.9" font-size="10.6" font-weight="bold" stroke="#000" stroke-width="0.21" text-anchor="middle">KO</text>
<text x="832.1" y="713.7" font-size="11.2" font-weight="bold" stroke="#000" stroke-width="0.22" text-anchor="middle" transform="rotate(-90 832.1 713.7)">Arginine</text>
<text x="916.5" y="640.1" font-size="11.3" stroke="#000" stroke-width="0.18" text-anchor="middle">p = 0.0494</text>
<polyline points="896.2,656.4 896.2,646.9 936.4,646.9 936.4,688.8" fill="none" stroke="#000" stroke-width="1.6" stroke-linejoin="round" stroke-linecap="butt"/>
<path d="M896.2,664.2C896.5,666.1 896.6,668 897,669.9C897.6,672.5 904.4,675.2 904.4,677.8C904.4,680.3 896.5,682.8 896.5,685.3C896.5,690.3 904.1,695.4 904.1,700.4C904.1,702.7 898.4,705.1 898.4,707.4C898.4,710.9 908.7,714.4 908.7,717.9C908.7,721.1 898.4,724.3 897.5,727.5C896.8,729.9 896.6,732.2 896.2,734.5C895.8,732.2 895.6,729.9 895,727.5C894,724.3 883.7,721.1 883.7,717.9C883.7,714.4 894,710.9 894,707.4C894,705.1 888.3,702.7 888.3,700.4C888.3,695.4 896,690.3 896,685.3C896,682.8 888,680.3 888,677.8C888,675.2 894.8,672.5 895.4,669.9C895.8,668 895.9,666.1 896.2,664.2Z" fill="#808080" stroke="#000" stroke-width="1.6" stroke-linejoin="round"/>
<line x1="884.01" y1="718.9" x2="908.39" y2="718.9" stroke="#000" stroke-width="0.8"/>
<circle cx="896.2" cy="677.8" r="1.44" fill="#000"/>
<circle cx="896.2" cy="700.4" r="1.44" fill="#000"/>
<circle cx="896.2" cy="714.9" r="1.44" fill="#000"/>
<circle cx="896.2" cy="721.4" r="1.44" fill="#000"/>
<path d="M936.4,696.3C936.6,697.7 936.7,699.1 937,700.5C937.5,702.4 942.8,704.3 942.8,706.2C942.8,708.8 937.1,711.3 937.1,713.9C937.1,719.9 948.9,726 948.9,732C948.9,735.2 937.6,738.3 937.6,741.5C937.6,744.4 945.9,747.2 945.9,750.1C945.9,752.4 938.1,754.7 937.4,757.1C936.8,758.7 936.7,760.4 936.4,762.1C936.1,760.4 936,758.7 935.4,757.1C934.7,754.7 926.9,752.4 926.9,750.1C926.9,747.2 935.2,744.4 935.2,741.5C935.2,738.3 923.9,735.2 923.9,732C923.9,726 935.7,719.9 935.7,713.9C935.7,711.3 930,708.8 930,706.2C930,704.3 935.3,702.4 935.8,700.5C936.1,699.1 936.2,697.7 936.4,696.3Z" fill="#ffc9c3" stroke="#ff2000" stroke-width="1.6" stroke-linejoin="round"/>
<line x1="929.46" y1="723.3" x2="943.34" y2="723.3" stroke="#000" stroke-width="0.8"/>
<line x1="923.91" y1="731.7" x2="948.89" y2="731.7" stroke="#000" stroke-width="1.6"/>
<line x1="928.04" y1="748.1" x2="944.76" y2="748.1" stroke="#000" stroke-width="0.8"/>
<rect x="935" y="705" width="2.8" height="2.8" fill="#000"/>
<rect x="935" y="721.9" width="2.8" height="2.8" fill="#000"/>
<rect x="935" y="726.1" width="2.8" height="2.8" fill="#000"/>
<rect x="935" y="730.3" width="2.8" height="2.8" fill="#000"/>
<rect x="935" y="733.6" width="2.8" height="2.8" fill="#000"/>
<rect x="935" y="746.7" width="2.8" height="2.8" fill="#000"/>
<rect x="935" y="751.7" width="2.8" height="2.8" fill="#000"/>
<line x1="55" y1="837.7" x2="55" y2="980.5" stroke="#000" stroke-width="1.6"/>
<line x1="49.6" y1="979.7" x2="149.6" y2="979.7" stroke="#000" stroke-width="1.6"/>
<line x1="49.6" y1="979.7" x2="55" y2="979.7" stroke="#000" stroke-width="1.6"/>
<text x="46.9" y="983.5" font-size="10.6" font-weight="bold" stroke="#000" stroke-width="0.21" text-anchor="end">0.00</text>
<line x1="49.6" y1="944.2" x2="55" y2="944.2" stroke="#000" stroke-width="1.6"/>
<text x="46.9" y="948" font-size="10.6" font-weight="bold" stroke="#000" stroke-width="0.21" text-anchor="end">0.02</text>
<line x1="49.6" y1="908.7" x2="55" y2="908.7" stroke="#000" stroke-width="1.6"/>
<text x="46.9" y="912.5" font-size="10.6" font-weight="bold" stroke="#000" stroke-width="0.21" text-anchor="end">0.04</text>
<line x1="49.6" y1="873.2" x2="55" y2="873.2" stroke="#000" stroke-width="1.6"/>
<text x="46.9" y="877" font-size="10.6" font-weight="bold" stroke="#000" stroke-width="0.21" text-anchor="end">0.06</text>
<line x1="49.6" y1="837.7" x2="55" y2="837.7" stroke="#000" stroke-width="1.6"/>
<text x="46.9" y="841.5" font-size="10.6" font-weight="bold" stroke="#000" stroke-width="0.21" text-anchor="end">0.08</text>
<line x1="82.3" y1="979.7" x2="82.3" y2="985.7" stroke="#000" stroke-width="1.6"/>
<text x="82.3" y="998.2" font-size="10.6" font-weight="bold" stroke="#000" stroke-width="0.21" text-anchor="middle">Ctrl</text>
<line x1="122.9" y1="979.7" x2="122.9" y2="985.7" stroke="#000" stroke-width="1.6"/>
<text x="122.9" y="998.2" font-size="10.6" font-weight="bold" stroke="#000" stroke-width="0.21" text-anchor="middle">KO</text>
<text x="18.6" y="908.8" font-size="11.2" font-weight="bold" stroke="#000" stroke-width="0.22" text-anchor="middle" transform="rotate(-90 18.6 908.8)">Leucine</text>
<path d="M82.3,874.3C82.6,875.7 82.7,877 83.1,878.4C83.7,880.3 90.2,882.2 90.2,884.1C90.2,886.7 83,889.3 83,891.9C83,896.5 92.1,901 93.5,905.6C94.1,907.7 94.8,909.8 94.8,911.9C94.8,914.5 84.5,917 83.5,919.6C82.9,921.5 82.7,923.3 82.3,925.2C81.9,923.3 81.7,921.5 81,919.6C80.1,917 69.8,914.5 69.8,911.9C69.8,909.8 70.5,907.7 71.1,905.6C72.5,901 81.6,896.5 81.6,891.9C81.6,889.3 74.4,886.7 74.4,884.1C74.4,882.2 80.9,880.3 81.5,878.4C81.9,877 82,875.7 82.3,874.3Z" fill="#808080" stroke="#000" stroke-width="1.6" stroke-linejoin="round"/>
<line x1="70.32" y1="908.3" x2="94.28" y2="908.3" stroke="#000" stroke-width="0.8"/>
<line x1="72.2" y1="914.3" x2="92.4" y2="914.3" stroke="#000" stroke-width="0.8"/>
<circle cx="82.3" cy="884.1" r="1.44" fill="#000"/>
<circle cx="82.3" cy="905.6" r="1.44" fill="#000"/>
<circle cx="82.3" cy="910.7" r="1.44" fill="#000"/>
<circle cx="82.3" cy="915" r="1.44" fill="#000"/>
<path d="M122.9,844.6C123.1,846.4 123.1,848.3 123.4,850.1C123.7,852.6 127.6,855.2 127.6,857.7C127.6,860.6 123.6,863.5 123.6,866.4C123.6,874.7 134.8,883.1 134.8,891.4C134.8,895.5 124.1,899.6 124.1,903.7C124.1,908 129.7,912.2 129.7,916.5C129.7,919.5 124.1,922.5 123.6,925.5C123.2,927.7 123.1,929.8 122.9,932C122.7,929.8 122.6,927.7 122.2,925.5C121.7,922.5 116.1,919.5 116.1,916.5C116.1,912.2 121.7,908 121.7,903.7C121.7,899.6 111,895.5 111,891.4C111,883.1 122.2,874.7 122.2,866.4C122.2,863.5 118.2,860.6 118.2,857.7C118.2,855.2 122.1,852.6 122.4,850.1C122.7,848.3 122.7,846.4 122.9,844.6Z" fill="#ffc9c3" stroke="#ff2000" stroke-width="1.6" stroke-linejoin="round"/>
<line x1="114.31" y1="882.4" x2="131.49" y2="882.4" stroke="#000" stroke-width="0.8"/>
<line x1="111" y1="891.4" x2="134.8" y2="891.4" stroke="#000" stroke-width="1.6"/>
<line x1="116.54" y1="914.3" x2="129.26" y2="914.3" stroke="#000" stroke-width="0.8"/>
<rect x="121.5" y="856.3" width="2.8" height="2.8" fill="#000"/>
<rect x="121.5" y="881" width="2.8" height="2.8" fill="#000"/>
<rect x="118.7" y="890" width="2.8" height="2.8" fill="#000"/>
<rect x="124.2" y="889.6" width="2.8" height="2.8" fill="#000"/>
<rect x="121.5" y="892.7" width="2.8" height="2.8" fill="#000"/>
<rect x="121.5" y="912.9" width="2.8" height="2.8" fill="#000"/>
<rect x="121.5" y="917.8" width="2.8" height="2.8" fill="#000"/>
<line x1="187.1" y1="838.2" x2="187.1" y2="981" stroke="#000" stroke-width="1.6"/>
<line x1="181.7" y1="980.2" x2="281.8" y2="980.2" stroke="#000" stroke-width="1.6"/>
<line x1="181.7" y1="980.2" x2="187.1" y2="980.2" stroke="#000" stroke-width="1.6"/>
<text x="179" y="984" font-size="10.6" font-weight="bold" stroke="#000" stroke-width="0.21" text-anchor="end">0.00</text>
<line x1="181.7" y1="932.87" x2="187.1" y2="932.87" stroke="#000" stroke-width="1.6"/>
<text x="179" y="936.67" font-size="10.6" font-weight="bold" stroke="#000" stroke-width="0.21" text-anchor="end">0.02</text>
<line x1="181.7" y1="885.53" x2="187.1" y2="885.53" stroke="#000" stroke-width="1.6"/>
<text x="179" y="889.33" font-size="10.6" font-weight="bold" stroke="#000" stroke-width="0.21" text-anchor="end">0.04</text>
<line x1="181.7" y1="838.2" x2="187.1" y2="838.2" stroke="#000" stroke-width="1.6"/>
<text x="179" y="842" font-size="10.6" font-weight="bold" stroke="#000" stroke-width="0.21" text-anchor="end">0.06</text>
<line x1="214.5" y1="980.2" x2="214.5" y2="986.2" stroke="#000" stroke-width="1.6"/>
<text x="214.5" y="998.7" font-size="10.6" font-weight="bold" stroke="#000" stroke-width="0.21" text-anchor="middle">Ctrl</text>
<line x1="254.9" y1="980.2" x2="254.9" y2="986.2" stroke="#000" stroke-width="1.6"/>
<text x="254.9" y="998.7" font-size="10.6" font-weight="bold" stroke="#000" stroke-width="0.21" text-anchor="middle">KO</text>
<text x="150.9" y="909.7" font-size="11.2" font-weight="bold" stroke="#000" stroke-width="0.22" text-anchor="middle" transform="rotate(-90 150.9 909.7)">Isoleucine</text>
<path d="M214.5,881C214.8,882.1 214.9,883.1 215.5,884.2C216.3,885.7 224.6,887.1 224.6,888.6C224.6,890.6 215.2,892.6 215.2,894.6C215.2,898.1 227,901.7 227,905.2C227,906.5 220.7,907.9 220.7,909.2C220.7,910.5 226.4,911.9 226.4,913.2C226.4,914.7 216.6,916.2 215.7,917.7C215,918.8 214.9,919.9 214.5,921C214.1,919.9 214,918.8 213.3,917.7C212.4,916.2 202.6,914.7 202.6,913.2C202.6,911.9 208.3,910.5 208.3,909.2C208.3,907.9 202,906.5 202,905.2C202,901.7 213.8,898.1 213.8,894.6C213.8,892.6 204.4,890.6 204.4,888.6C204.4,887.1 212.7,885.7 213.5,884.2C214.1,883.1 214.2,882.1 214.5,881Z" fill="#808080" stroke="#000" stroke-width="1.6" stroke-linejoin="round"/>
<line x1="202.05" y1="904.8" x2="226.95" y2="904.8" stroke="#000" stroke-width="0.8"/>
<line x1="208.3" y1="909.2" x2="220.7" y2="909.2" stroke="#000" stroke-width="0.8"/>
<circle cx="214.5" cy="888.6" r="1.44" fill="#000"/>
<circle cx="214.5" cy="903.2" r="1.44" fill="#000"/>
<circle cx="214.5" cy="907.4" r="1.44" fill="#000"/>
<circle cx="214.5" cy="913.2" r="1.44" fill="#000"/>
<path d="M254.9,845.9C255,847.6 255.1,849.3 255.3,851.1C255.6,853.4 259.1,855.8 259.1,858.2C259.1,860.9 257.1,863.7 257.1,866.4C257.1,869.7 259.1,873.1 259.1,876.4C259.1,877.8 257.6,879.1 257.6,880.5C257.6,882.8 266.8,885.1 266.8,887.4C266.8,891 256.1,894.7 256.1,898.3C256.1,903.5 260.5,908.6 260.5,913.8C260.5,916.8 255.9,919.8 255.5,922.7C255.1,924.9 255.1,927 254.9,929.2C254.7,927 254.7,924.9 254.3,922.7C253.9,919.8 249.3,916.8 249.3,913.8C249.3,908.6 253.7,903.5 253.7,898.3C253.7,894.7 243,891 243,887.4C243,885.1 252.2,882.8 252.2,880.5C252.2,879.1 250.7,877.8 250.7,876.4C250.7,873.1 252.7,869.7 252.7,866.4C252.7,863.7 250.7,860.9 250.7,858.2C250.7,855.8 254.2,853.4 254.5,851.1C254.7,849.3 254.8,847.6 254.9,845.9Z" fill="#ffc9c3" stroke="#ff2000" stroke-width="1.6" stroke-linejoin="round"/>
<line x1="250.7" y1="876.4" x2="259.1" y2="876.4" stroke="#000" stroke-width="0.8"/>
<line x1="243" y1="887.4" x2="266.8" y2="887.4" stroke="#000" stroke-width="1.6"/>
<line x1="250.09" y1="909.6" x2="259.71" y2="909.6" stroke="#000" stroke-width="0.8"/>
<rect x="253.5" y="856.8" width="2.8" height="2.8" fill="#000"/>
<rect x="253.5" y="875" width="2.8" height="2.8" fill="#000"/>
<rect x="248" y="885.1" width="2.8" height="2.8" fill="#000"/>
<rect x="253.5" y="886.9" width="2.8" height="2.8" fill="#000"/>
<rect x="259.3" y="886" width="2.8" height="2.8" fill="#000"/>
<rect x="253.5" y="908.2" width="2.8" height="2.8" fill="#000"/>
<rect x="253.5" y="915.5" width="2.8" height="2.8" fill="#000"/>
<line x1="318.2" y1="838.2" x2="318.2" y2="980.5" stroke="#000" stroke-width="1.6"/>
<line x1="312.8" y1="979.7" x2="412" y2="979.7" stroke="#000" stroke-width="1.6"/>
<line x1="312.8" y1="979.7" x2="318.2" y2="979.7" stroke="#000" stroke-width="1.6"/>
<text x="310.1" y="983.5" font-size="10.6" font-weight="bold" stroke="#000" stroke-width="0.21" text-anchor="end">0.00</text>
<line x1="312.8" y1="944.33" x2="318.2" y2="944.33" stroke="#000" stroke-width="1.6"/>
<text x="310.1" y="948.12" font-size="10.6" font-weight="bold" stroke="#000" stroke-width="0.21" text-anchor="end">0.05</text>
<line x1="312.8" y1="908.95" x2="318.2" y2="908.95" stroke="#000" stroke-width="1.6"/>
<text x="310.1" y="912.75" font-size="10.6" font-weight="bold" stroke="#000" stroke-width="0.21" text-anchor="end">0.10</text>
<line x1="312.8" y1="873.58" x2="318.2" y2="873.58" stroke="#000" stroke-width="1.6"/>
<text x="310.1" y="877.38" font-size="10.6" font-weight="bold" stroke="#000" stroke-width="0.21" text-anchor="end">0.15</text>
<line x1="312.8" y1="838.2" x2="318.2" y2="838.2" stroke="#000" stroke-width="1.6"/>
<text x="310.1" y="842" font-size="10.6" font-weight="bold" stroke="#000" stroke-width="0.21" text-anchor="end">0.20</text>
<line x1="345" y1="979.7" x2="345" y2="985.7" stroke="#000" stroke-width="1.6"/>
<text x="345" y="998.2" font-size="10.6" font-weight="bold" stroke="#000" stroke-width="0.21" text-anchor="middle">Ctrl</text>
<line x1="385.6" y1="979.7" x2="385.6" y2="985.7" stroke="#000" stroke-width="1.6"/>
<text x="385.6" y="998.2" font-size="10.6" font-weight="bold" stroke="#000" stroke-width="0.21" text-anchor="middle">KO</text>
<text x="288" y="908.8" font-size="11.2" font-weight="bold" stroke="#000" stroke-width="0.22" text-anchor="middle" transform="rotate(-90 288 908.8)">Proline</text>
<text x="365.6" y="840" font-size="11.3" stroke="#000" stroke-width="0.18" text-anchor="middle">p = 0.0410</text>
<polyline points="345,918.9 345,847 385.6,847 385.6,856.4" fill="none" stroke="#000" stroke-width="1.6" stroke-linejoin="round" stroke-linecap="butt"/>
<path d="M345,926.9C345.3,927.4 345.4,927.8 345.9,928.3C346.5,928.9 353.5,929.6 353.5,930.2C353.5,931.4 348.2,932.6 348.2,933.8C348.2,935.2 357.5,936.6 357.5,938C357.5,939.2 347.2,940.5 346.2,941.7C345.6,942.6 345.4,943.5 345,944.4C344.6,943.5 344.4,942.6 343.8,941.7C342.8,940.5 332.5,939.2 332.5,938C332.5,936.6 341.8,935.2 341.8,933.8C341.8,932.6 336.5,931.4 336.5,930.2C336.5,929.6 343.5,928.9 344.1,928.3C344.6,927.8 344.7,927.4 345,926.9Z" fill="#808080" stroke="#000" stroke-width="1.6" stroke-linejoin="round"/>
<line x1="333.02" y1="937.4" x2="356.98" y2="937.4" stroke="#000" stroke-width="0.8"/>
<circle cx="345" cy="930.2" r="1.44" fill="#000"/>
<circle cx="345" cy="938.3" r="1.44" fill="#000"/>
<path d="M385.6,863.7C385.8,865.7 385.8,867.6 386.1,869.6C386.4,872.3 390.3,875 390.3,877.7C390.3,880 386.3,882.3 386.3,884.6C386.3,887.2 389.3,889.7 389.3,892.3C389.3,895.5 386.8,898.7 386.8,901.9C386.8,907.1 394.8,912.2 394.8,917.4C394.8,919.8 391.8,922.3 391.8,924.7C391.8,927.4 398.5,930.2 398.5,932.9C398.5,936.2 387.9,939.6 386.9,942.9C386.2,945.4 386,947.8 385.6,950.2C385.2,947.8 385,945.4 384.3,942.9C383.3,939.6 372.7,936.2 372.7,932.9C372.7,930.2 379.4,927.4 379.4,924.7C379.4,922.3 376.4,919.8 376.4,917.4C376.4,912.2 384.4,907.1 384.4,901.9C384.4,898.7 381.9,895.5 381.9,892.3C381.9,889.7 384.9,887.2 384.9,884.6C384.9,882.3 380.9,880 380.9,877.7C380.9,875 384.8,872.3 385.1,869.6C385.4,867.6 385.4,865.7 385.6,863.7Z" fill="#ffc9c3" stroke="#ff2000" stroke-width="1.6" stroke-linejoin="round"/>
<line x1="381.9" y1="892.3" x2="389.3" y2="892.3" stroke="#000" stroke-width="0.8"/>
<line x1="377.05" y1="919.6" x2="394.15" y2="919.6" stroke="#000" stroke-width="1.6"/>
<line x1="372.78" y1="933.4" x2="398.42" y2="933.4" stroke="#000" stroke-width="0.8"/>
<rect x="384.2" y="876.3" width="2.8" height="2.8" fill="#000"/>
<rect x="384.2" y="890.9" width="2.8" height="2.8" fill="#000"/>
<rect x="384.2" y="915.1" width="2.8" height="2.8" fill="#000"/>
<rect x="384.2" y="918.2" width="2.8" height="2.8" fill="#000"/>
<rect x="384.2" y="928.8" width="2.8" height="2.8" fill="#000"/>
<rect x="384.2" y="934.2" width="2.8" height="2.8" fill="#000"/>
<line x1="457.5" y1="839.5" x2="457.5" y2="982.3" stroke="#000" stroke-width="1.6"/>
<line x1="452.1" y1="981.5" x2="552.2" y2="981.5" stroke="#000" stroke-width="1.6"/>
<line x1="452.1" y1="981.5" x2="457.5" y2="981.5" stroke="#000" stroke-width="1.6"/>
<text x="449.4" y="985.3" font-size="10.6" font-weight="bold" stroke="#000" stroke-width="0.21" text-anchor="end">0.0000</text>
<line x1="452.1" y1="953.1" x2="457.5" y2="953.1" stroke="#000" stroke-width="1.6"/>
<text x="449.4" y="956.9" font-size="10.6" font-weight="bold" stroke="#000" stroke-width="0.21" text-anchor="end">0.0005</text>
<line x1="452.1" y1="924.7" x2="457.5" y2="924.7" stroke="#000" stroke-width="1.6"/>
<text x="449.4" y="928.5" font-size="10.6" font-weight="bold" stroke="#000" stroke-width="0.21" text-anchor="end">0.0010</text>
<line x1="452.1" y1="896.3" x2="457.5" y2="896.3" stroke="#000" stroke-width="1.6"/>
<text x="449.4" y="900.1" font-size="10.6" font-weight="bold" stroke="#000" stroke-width="0.21" text-anchor="end">0.0015</text>
<line x1="452.1" y1="867.9" x2="457.5" y2="867.9" stroke="#000" stroke-width="1.6"/>
<text x="449.4" y="871.7" font-size="10.6" font-weight="bold" stroke="#000" stroke-width="0.21" text-anchor="end">0.0020</text>
<line x1="452.1" y1="839.5" x2="457.5" y2="839.5" stroke="#000" stroke-width="1.6"/>
<text x="449.4" y="843.3" font-size="10.6" font-weight="bold" stroke="#000" stroke-width="0.21" text-anchor="end">0.0025</text>
<line x1="484.8" y1="981.5" x2="484.8" y2="987.5" stroke="#000" stroke-width="1.6"/>
<text x="484.8" y="1000" font-size="10.6" font-weight="bold" stroke="#000" stroke-width="0.21" text-anchor="middle">Ctrl</text>
<line x1="525.4" y1="981.5" x2="525.4" y2="987.5" stroke="#000" stroke-width="1.6"/>
<text x="525.4" y="1000" font-size="10.6" font-weight="bold" stroke="#000" stroke-width="0.21" text-anchor="middle">KO</text>
<text x="412.2" y="910.2" font-size="11.2" font-weight="bold" stroke="#000" stroke-width="0.22" text-anchor="middle" transform="rotate(-90 412.2 910.2)">Phosphoserine</text>
<text x="505.3" y="822.7" font-size="11.3" stroke="#000" stroke-width="0.18" text-anchor="middle">p = 0.0163</text>
<polyline points="484.8,931.1 484.8,830.4 525.4,830.4 525.4,839.5" fill="none" stroke="#000" stroke-width="1.6" stroke-linejoin="round" stroke-linecap="butt"/>
<path d="M484.8,939.6C485,939.9 485,940.1 485.4,940.4C485.8,940.7 490.4,941.1 490.4,941.4C490.4,942.5 486,943.6 486,944.7C486,946.2 497.7,947.8 497.7,949.3C497.7,950.2 487.1,951 486.1,951.9C485.4,952.5 485.2,953.2 484.8,953.8C484.4,953.2 484.2,952.5 483.5,951.9C482.5,951 471.9,950.2 471.9,949.3C471.9,947.8 483.6,946.2 483.6,944.7C483.6,943.6 479.2,942.5 479.2,941.4C479.2,941.1 483.8,940.7 484.2,940.4C484.6,940.1 484.6,939.9 484.8,939.6Z" fill="#808080" stroke="#000" stroke-width="1.6" stroke-linejoin="round"/>
<circle cx="484.8" cy="941.4" r="1.44" fill="#000"/>
<circle cx="484.8" cy="949.8" r="1.44" fill="#000"/>
<path d="M525.4,847.3C525.6,849.7 525.7,852.1 526,854.4C526.4,857.7 531.1,861 531.1,864.3C531.1,868 525.6,871.8 525.6,875.5C525.6,878.8 527.8,882.2 528.6,885.5C529.4,889.2 529.8,892.8 530.6,896.5C532.3,904.4 537.7,912.2 537.7,920.1C537.7,922.8 529.7,925.6 528.6,928.3C526.9,932.6 525.6,936.8 525.6,941.1C525.6,944.2 530.1,947.4 530.1,950.5C530.1,953.8 526.2,957.1 525.9,960.4C525.6,962.7 525.6,965.1 525.4,967.5C525.2,965.1 525.2,962.7 524.9,960.4C524.6,957.1 520.7,953.8 520.7,950.5C520.7,947.4 525.1,944.2 525.1,941.1C525.1,936.8 523.9,932.6 522.2,928.3C521.1,925.6 513.1,922.8 513.1,920.1C513.1,912.2 518.5,904.4 520.2,896.5C521,892.8 521.4,889.2 522.2,885.5C523,882.2 525.1,878.8 525.1,875.5C525.1,871.8 519.7,868 519.7,864.3C519.7,861 524.4,857.7 524.8,854.4C525.1,852.1 525.2,849.7 525.4,847.3Z" fill="#ffc9c3" stroke="#ff2000" stroke-width="1.6" stroke-linejoin="round"/>
<line x1="520.2" y1="896.5" x2="530.6" y2="896.5" stroke="#000" stroke-width="0.8"/>
<line x1="513.1" y1="920.1" x2="537.7" y2="920.1" stroke="#000" stroke-width="1.6"/>
<line x1="523.55" y1="932" x2="527.25" y2="932" stroke="#000" stroke-width="0.8"/>
<rect x="524" y="862.9" width="2.8" height="2.8" fill="#000"/>
<rect x="524" y="895.1" width="2.8" height="2.8" fill="#000"/>
<rect x="524" y="907.8" width="2.8" height="2.8" fill="#000"/>
<rect x="521.1" y="918.7" width="2.8" height="2.8" fill="#000"/>
<rect x="527.1" y="918.7" width="2.8" height="2.8" fill="#000"/>
<rect x="524" y="930.6" width="2.8" height="2.8" fill="#000"/>
<rect x="524" y="949.1" width="2.8" height="2.8" fill="#000"/>
<line x1="585.5" y1="840.6" x2="585.5" y2="982.8" stroke="#000" stroke-width="1.6"/>
<line x1="580.1" y1="982" x2="680.2" y2="982" stroke="#000" stroke-width="1.6"/>
<line x1="580.1" y1="982" x2="585.5" y2="982" stroke="#000" stroke-width="1.6"/>
<text x="577.4" y="985.8" font-size="10.6" font-weight="bold" stroke="#000" stroke-width="0.21" text-anchor="end">0.00</text>
<line x1="580.1" y1="953.72" x2="585.5" y2="953.72" stroke="#000" stroke-width="1.6"/>
<text x="577.4" y="957.52" font-size="10.6" font-weight="bold" stroke="#000" stroke-width="0.21" text-anchor="end">0.05</text>
<line x1="580.1" y1="925.44" x2="585.5" y2="925.44" stroke="#000" stroke-width="1.6"/>
<text x="577.4" y="929.24" font-size="10.6" font-weight="bold" stroke="#000" stroke-width="0.21" text-anchor="end">0.10</text>
<line x1="580.1" y1="897.16" x2="585.5" y2="897.16" stroke="#000" stroke-width="1.6"/>
<text x="577.4" y="900.96" font-size="10.6" font-weight="bold" stroke="#000" stroke-width="0.21" text-anchor="end">0.15</text>
<line x1="580.1" y1="868.88" x2="585.5" y2="868.88" stroke="#000" stroke-width="1.6"/>
<text x="577.4" y="872.68" font-size="10.6" font-weight="bold" stroke="#000" stroke-width="0.21" text-anchor="end">0.20</text>
<line x1="580.1" y1="840.6" x2="585.5" y2="840.6" stroke="#000" stroke-width="1.6"/>
<text x="577.4" y="844.4" font-size="10.6" font-weight="bold" stroke="#000" stroke-width="0.21" text-anchor="end">0.25</text>
<line x1="612.8" y1="982" x2="612.8" y2="988" stroke="#000" stroke-width="1.6"/>
<text x="612.8" y="1000.5" font-size="10.6" font-weight="bold" stroke="#000" stroke-width="0.21" text-anchor="middle">Ctrl</text>
<line x1="653.8" y1="982" x2="653.8" y2="988" stroke="#000" stroke-width="1.6"/>
<text x="653.8" y="1000.5" font-size="10.6" font-weight="bold" stroke="#000" stroke-width="0.21" text-anchor="middle">KO</text>
<text x="548.9" y="911.2" font-size="11.2" font-weight="bold" stroke="#000" stroke-width="0.22" text-anchor="middle" transform="rotate(-90 548.9 911.2)">Serine</text>
<text x="633.6" y="824.2" font-size="11.3" stroke="#000" stroke-width="0.18" text-anchor="middle">p = 0.0431</text>
<polyline points="612.8,912.9 612.8,831.5 653.8,831.5 653.8,841" fill="none" stroke="#000" stroke-width="1.6" stroke-linejoin="round" stroke-linecap="butt"/>
<path d="M612.8,919.8C613.2,920.2 613.4,920.7 614.1,921.1C615.1,921.7 625.7,922.3 625.7,922.9C625.7,923.8 616,924.7 616,925.6C616,926.5 620,927.4 620,928.3C620,928.9 614.1,929.6 613.5,930.2C613.1,930.7 613,931.1 612.8,931.6C612.6,931.1 612.5,930.7 612.1,930.2C611.5,929.6 605.6,928.9 605.6,928.3C605.6,927.4 609.6,926.5 609.6,925.6C609.6,924.7 599.9,923.8 599.9,922.9C599.9,922.3 610.5,921.7 611.5,921.1C612.2,920.7 612.4,920.2 612.8,919.8Z" fill="#808080" stroke="#000" stroke-width="1.6" stroke-linejoin="round"/>
<line x1="599.9" y1="922.9" x2="625.7" y2="922.9" stroke="#000" stroke-width="0.8"/>
<circle cx="612.8" cy="923.2" r="1.44" fill="#000"/>
<circle cx="612.8" cy="928.3" r="1.44" fill="#000"/>
<path d="M653.8,848.6C654,850.5 654,852.3 654.4,854.2C654.8,856.8 659.4,859.3 659.4,861.9C659.4,865.2 654.5,868.6 654.5,871.9C654.5,881.9 666.3,891.9 666.3,901.9C666.3,906.2 659,910.4 659,914.7C659,918.3 664.8,922 664.8,925.6C664.8,928.3 655.7,931 654.9,933.7C654.3,935.7 654.2,937.6 653.8,939.6C653.4,937.6 653.3,935.7 652.7,933.7C651.9,931 642.8,928.3 642.8,925.6C642.8,922 648.6,918.3 648.6,914.7C648.6,910.4 641.3,906.2 641.3,901.9C641.3,891.9 653.1,881.9 653.1,871.9C653.1,868.6 648.2,865.2 648.2,861.9C648.2,859.3 652.8,856.8 653.2,854.2C653.6,852.3 653.6,850.5 653.8,848.6Z" fill="#ffc9c3" stroke="#ff2000" stroke-width="1.6" stroke-linejoin="round"/>
<line x1="642.14" y1="897" x2="665.46" y2="897" stroke="#000" stroke-width="0.8"/>
<line x1="641.73" y1="903.8" x2="665.87" y2="903.8" stroke="#000" stroke-width="1.6"/>
<line x1="642.8" y1="925.6" x2="664.8" y2="925.6" stroke="#000" stroke-width="0.8"/>
<rect x="652.4" y="860.5" width="2.8" height="2.8" fill="#000"/>
<rect x="652.4" y="895.6" width="2.8" height="2.8" fill="#000"/>
<rect x="649.7" y="901.8" width="2.8" height="2.8" fill="#000"/>
<rect x="655.1" y="902.9" width="2.8" height="2.8" fill="#000"/>
<rect x="652.4" y="912" width="2.8" height="2.8" fill="#000"/>
<rect x="649.7" y="924.7" width="2.8" height="2.8" fill="#000"/>
<rect x="655.1" y="924.2" width="2.8" height="2.8" fill="#000"/>
<line x1="719.9" y1="838.8" x2="719.9" y2="981.9" stroke="#000" stroke-width="1.6"/>
<line x1="714.5" y1="981.1" x2="814" y2="981.1" stroke="#000" stroke-width="1.6"/>
<line x1="714.5" y1="981.1" x2="719.9" y2="981.1" stroke="#000" stroke-width="1.6"/>
<text x="711.8" y="984.9" font-size="10.6" font-weight="bold" stroke="#000" stroke-width="0.21" text-anchor="end">0.0</text>
<line x1="714.5" y1="933.67" x2="719.9" y2="933.67" stroke="#000" stroke-width="1.6"/>
<text x="711.8" y="937.47" font-size="10.6" font-weight="bold" stroke="#000" stroke-width="0.21" text-anchor="end">0.5</text>
<line x1="714.5" y1="886.23" x2="719.9" y2="886.23" stroke="#000" stroke-width="1.6"/>
<text x="711.8" y="890.03" font-size="10.6" font-weight="bold" stroke="#000" stroke-width="0.21" text-anchor="end">1.0</text>
<line x1="714.5" y1="838.8" x2="719.9" y2="838.8" stroke="#000" stroke-width="1.6"/>
<text x="711.8" y="842.6" font-size="10.6" font-weight="bold" stroke="#000" stroke-width="0.21" text-anchor="end">1.5</text>
<line x1="746.3" y1="981.1" x2="746.3" y2="987.1" stroke="#000" stroke-width="1.6"/>
<text x="746.3" y="999.6" font-size="10.6" font-weight="bold" stroke="#000" stroke-width="0.21" text-anchor="middle">Ctrl</text>
<line x1="787" y1="981.1" x2="787" y2="987.1" stroke="#000" stroke-width="1.6"/>
<text x="787" y="999.6" font-size="10.6" font-weight="bold" stroke="#000" stroke-width="0.21" text-anchor="middle">KO</text>
<text x="689.1" y="910" font-size="11.2" font-weight="bold" stroke="#000" stroke-width="0.22" text-anchor="middle" transform="rotate(-90 689.1 910)">Histidine</text>
<text x="766.7" y="839.1" font-size="11.3" stroke="#000" stroke-width="0.18" text-anchor="middle">p = 0.0129</text>
<polyline points="746.3,903.2 746.3,846.8 787,846.8 787,855.5" fill="none" stroke="#000" stroke-width="1.6" stroke-linejoin="round" stroke-linecap="butt"/>
<path d="M746.3,910.5C746.5,911.5 746.6,912.5 747,913.6C747.5,915 753.1,916.4 753.1,917.8C753.1,919.8 748.5,921.8 748.5,923.8C748.5,926 752.5,928.3 752.5,930.5C752.5,931.9 748.5,933.3 748.5,934.7C748.5,936.1 758.6,937.5 758.6,938.9C758.6,940.5 748.5,942.2 747.5,943.8C746.8,945 746.7,946.2 746.3,947.4C745.9,946.2 745.8,945 745.1,943.8C744.1,942.2 734,940.5 734,938.9C734,937.5 744.1,936.1 744.1,934.7C744.1,933.3 740.1,931.9 740.1,930.5C740.1,928.3 744.1,926 744.1,923.8C744.1,921.8 739.5,919.8 739.5,917.8C739.5,916.4 745.1,915 745.6,913.6C746,912.5 746.1,911.5 746.3,910.5Z" fill="#808080" stroke="#000" stroke-width="1.6" stroke-linejoin="round"/>
<circle cx="746.3" cy="917.8" r="1.44" fill="#000"/>
<circle cx="746.3" cy="930.5" r="1.44" fill="#000"/>
<circle cx="743.5" cy="940.2" r="1.44" fill="#000"/>
<circle cx="749.4" cy="938.3" r="1.44" fill="#000"/>
<path d="M787,863.7C787.2,864.7 787.2,865.7 787.6,866.8C788,868.2 792.6,869.6 792.6,871C792.6,873.4 787.7,875.9 787.7,878.3C787.7,884.1 787.8,889.8 788.2,895.6C788.3,897.4 798.2,899.2 798.2,901C798.2,902.7 792.2,904.4 792.2,906.1C792.2,909 798.6,911.8 798.6,914.7C798.6,916.8 789.2,918.9 789.2,921C789.2,923.3 792.6,925.7 792.6,928C792.6,929.4 788,930.8 787.6,932.2C787.2,933.2 787.2,934.2 787,935.2C786.8,934.2 786.8,933.2 786.4,932.2C786,930.8 781.4,929.4 781.4,928C781.4,925.7 784.8,923.3 784.8,921C784.8,918.9 775.4,916.8 775.4,914.7C775.4,911.8 781.8,909 781.8,906.1C781.8,904.4 775.8,902.7 775.8,901C775.8,899.2 785.7,897.4 785.8,895.6C786.2,889.8 786.3,884.1 786.3,878.3C786.3,875.9 781.4,873.4 781.4,871C781.4,869.6 786,868.2 786.4,866.8C786.8,865.7 786.8,864.7 787,863.7Z" fill="#ffc9c3" stroke="#ff2000" stroke-width="1.6" stroke-linejoin="round"/>
<line x1="777.45" y1="899.6" x2="796.55" y2="899.6" stroke="#000" stroke-width="0.8"/>
<line x1="779.9" y1="909.2" x2="794.1" y2="909.2" stroke="#000" stroke-width="1.6"/>
<line x1="775.57" y1="915.2" x2="798.43" y2="915.2" stroke="#000" stroke-width="0.8"/>
<rect x="785.6" y="869.6" width="2.8" height="2.8" fill="#000"/>
<rect x="782.5" y="901.1" width="2.8" height="2.8" fill="#000"/>
<rect x="788.5" y="898.2" width="2.8" height="2.8" fill="#000"/>
<rect x="785.6" y="907.8" width="2.8" height="2.8" fill="#000"/>
<rect x="782.5" y="913.3" width="2.8" height="2.8" fill="#000"/>
<rect x="788.5" y="913.8" width="2.8" height="2.8" fill="#000"/>
<rect x="785.6" y="926.6" width="2.8" height="2.8" fill="#000"/>
<line x1="869.8" y1="838.1" x2="869.8" y2="980.5" stroke="#000" stroke-width="1.6"/>
<line x1="864.4" y1="979.7" x2="963" y2="979.7" stroke="#000" stroke-width="1.6"/>
<line x1="864.4" y1="979.7" x2="869.8" y2="979.7" stroke="#000" stroke-width="1.6"/>
<text x="861.7" y="983.5" font-size="10.6" font-weight="bold" stroke="#000" stroke-width="0.21" text-anchor="end">0.0</text>
<line x1="864.4" y1="944.3" x2="869.8" y2="944.3" stroke="#000" stroke-width="1.6"/>
<text x="861.7" y="948.1" font-size="10.6" font-weight="bold" stroke="#000" stroke-width="0.21" text-anchor="end">0.2</text>
<line x1="864.4" y1="908.9" x2="869.8" y2="908.9" stroke="#000" stroke-width="1.6"/>
<text x="861.7" y="912.7" font-size="10.6" font-weight="bold" stroke="#000" stroke-width="0.21" text-anchor="end">0.4</text>
<line x1="864.4" y1="873.5" x2="869.8" y2="873.5" stroke="#000" stroke-width="1.6"/>
<text x="861.7" y="877.3" font-size="10.6" font-weight="bold" stroke="#000" stroke-width="0.21" text-anchor="end">0.6</text>
<line x1="864.4" y1="838.1" x2="869.8" y2="838.1" stroke="#000" stroke-width="1.6"/>
<text x="861.7" y="841.9" font-size="10.6" font-weight="bold" stroke="#000" stroke-width="0.21" text-anchor="end">0.8</text>
<line x1="896.6" y1="979.7" x2="896.6" y2="985.7" stroke="#000" stroke-width="1.6"/>
<text x="896.6" y="998.2" font-size="10.6" font-weight="bold" stroke="#000" stroke-width="0.21" text-anchor="middle">Ctrl</text>
<line x1="937.1" y1="979.7" x2="937.1" y2="985.7" stroke="#000" stroke-width="1.6"/>
<text x="937.1" y="998.2" font-size="10.6" font-weight="bold" stroke="#000" stroke-width="0.21" text-anchor="middle">KO</text>
<text x="838.1" y="909" font-size="11.2" font-weight="bold" stroke="#000" stroke-width="0.22" text-anchor="middle" transform="rotate(-90 838.1 909)">Lysine</text>
<text x="917.2" y="838.3" font-size="11.3" stroke="#000" stroke-width="0.18" text-anchor="middle">p = 0.0795</text>
<polyline points="896.6,854.7 896.6,845.7 937.1,845.7 937.1,888.5" fill="none" stroke="#000" stroke-width="1.6" stroke-linejoin="round" stroke-linecap="butt"/>
<path d="M896.6,862.2C896.9,864.2 897,866.2 897.4,868.2C898,871 904.6,873.7 904.6,876.5C904.6,877.9 898.8,879.4 898.8,880.8C898.8,884.8 904.4,888.9 904.4,892.9C904.4,896.6 896.9,900.2 896.9,903.9C896.9,908.1 909,912.3 909,916.5C909,919.8 898.8,923.1 897.8,926.4C897.2,928.7 897,931.1 896.6,933.5C896.2,931.1 896,928.7 895.4,926.4C894.4,923.1 884.2,919.8 884.2,916.5C884.2,912.3 896.4,908.1 896.4,903.9C896.4,900.2 888.8,896.6 888.8,892.9C888.8,888.9 894.4,884.8 894.4,880.8C894.4,879.4 888.6,877.9 888.6,876.5C888.6,873.7 895.2,871 895.8,868.2C896.2,866.2 896.3,864.2 896.6,862.2Z" fill="#808080" stroke="#000" stroke-width="1.6" stroke-linejoin="round"/>
<line x1="893.99" y1="880.1" x2="899.21" y2="880.1" stroke="#000" stroke-width="0.8"/>
<line x1="885.1" y1="918.3" x2="908.1" y2="918.3" stroke="#000" stroke-width="0.8"/>
<circle cx="896.6" cy="876.5" r="1.44" fill="#000"/>
<circle cx="896.6" cy="892.9" r="1.44" fill="#000"/>
<circle cx="896.6" cy="914" r="1.44" fill="#000"/>
<circle cx="896.6" cy="919.5" r="1.44" fill="#000"/>
<path d="M937.1,896.2C937.5,897.6 937.7,899.1 938.4,900.5C939.4,902.5 949.9,904.4 949.9,906.4C949.9,909.3 938.3,912.1 938.3,915C938.3,917.8 949.6,920.5 949.6,923.3C949.6,925.7 942.3,928.1 942.3,930.5C942.3,932 943.3,933.5 943.3,935C943.3,936.2 941.8,937.3 941.8,938.5C941.8,940 949.1,941.6 949.1,943.1C949.1,945.3 939.2,947.5 938.3,949.8C937.6,951.4 937.5,953 937.1,954.6C936.7,953 936.6,951.4 935.9,949.8C935,947.5 925.1,945.3 925.1,943.1C925.1,941.6 932.4,940 932.4,938.5C932.4,937.3 930.9,936.2 930.9,935C930.9,933.5 931.9,932 931.9,930.5C931.9,928.1 924.6,925.7 924.6,923.3C924.6,920.5 935.9,917.8 935.9,915C935.9,912.1 924.3,909.3 924.3,906.4C924.3,904.4 934.8,902.5 935.8,900.5C936.5,899.1 936.7,897.6 937.1,896.2Z" fill="#ffc9c3" stroke="#ff2000" stroke-width="1.6" stroke-linejoin="round"/>
<line x1="924.32" y1="906.6" x2="949.88" y2="906.6" stroke="#000" stroke-width="0.8"/>
<line x1="924.6" y1="923.3" x2="949.6" y2="923.3" stroke="#000" stroke-width="1.6"/>
<line x1="925.19" y1="942.8" x2="949.01" y2="942.8" stroke="#000" stroke-width="0.8"/>
<rect x="933" y="905" width="2.8" height="2.8" fill="#000"/>
<rect x="938.4" y="905.2" width="2.8" height="2.8" fill="#000"/>
<rect x="933" y="920.9" width="2.8" height="2.8" fill="#000"/>
<rect x="938.4" y="922.3" width="2.8" height="2.8" fill="#000"/>
<rect x="935.7" y="933.1" width="2.8" height="2.8" fill="#000"/>
<rect x="933" y="942.7" width="2.8" height="2.8" fill="#000"/>
<rect x="938.4" y="941.4" width="2.8" height="2.8" fill="#000"/>
<line x1="54.6" y1="1030.9" x2="54.6" y2="1174.3" stroke="#000" stroke-width="1.6"/>
<line x1="49.2" y1="1173.5" x2="149.6" y2="1173.5" stroke="#000" stroke-width="1.6"/>
<line x1="49.2" y1="1173.5" x2="54.6" y2="1173.5" stroke="#000" stroke-width="1.6"/>
<text x="46.5" y="1177.3" font-size="10.6" font-weight="bold" stroke="#000" stroke-width="0.21" text-anchor="end">0.000</text>
<line x1="49.2" y1="1144.98" x2="54.6" y2="1144.98" stroke="#000" stroke-width="1.6"/>
<text x="46.5" y="1148.78" font-size="10.6" font-weight="bold" stroke="#000" stroke-width="0.21" text-anchor="end">0.005</text>
<line x1="49.2" y1="1116.46" x2="54.6" y2="1116.46" stroke="#000" stroke-width="1.6"/>
<text x="46.5" y="1120.26" font-size="10.6" font-weight="bold" stroke="#000" stroke-width="0.21" text-anchor="end">0.010</text>
<line x1="49.2" y1="1087.94" x2="54.6" y2="1087.94" stroke="#000" stroke-width="1.6"/>
<text x="46.5" y="1091.74" font-size="10.6" font-weight="bold" stroke="#000" stroke-width="0.21" text-anchor="end">0.015</text>
<line x1="49.2" y1="1059.42" x2="54.6" y2="1059.42" stroke="#000" stroke-width="1.6"/>
<text x="46.5" y="1063.22" font-size="10.6" font-weight="bold" stroke="#000" stroke-width="0.21" text-anchor="end">0.020</text>
<line x1="49.2" y1="1030.9" x2="54.6" y2="1030.9" stroke="#000" stroke-width="1.6"/>
<text x="46.5" y="1034.7" font-size="10.6" font-weight="bold" stroke="#000" stroke-width="0.21" text-anchor="end">0.025</text>
<line x1="81.9" y1="1173.5" x2="81.9" y2="1179.5" stroke="#000" stroke-width="1.6"/>
<text x="81.9" y="1192" font-size="10.6" font-weight="bold" stroke="#000" stroke-width="0.21" text-anchor="middle">Ctrl</text>
<line x1="122.5" y1="1173.5" x2="122.5" y2="1179.5" stroke="#000" stroke-width="1.6"/>
<text x="122.5" y="1192" font-size="10.6" font-weight="bold" stroke="#000" stroke-width="0.21" text-anchor="middle">KO</text>
<text x="12" y="1102.9" font-size="11.2" font-weight="bold" stroke="#000" stroke-width="0.22" text-anchor="middle" transform="rotate(-90 12 1102.9)">Tryptophan</text>
<text x="102.6" y="1019.1" font-size="11.3" stroke="#000" stroke-width="0.18" text-anchor="middle">p = 0.0125</text>
<polyline points="81.9,1081.9 81.9,1026.7 122.5,1026.7 122.5,1035.9" fill="none" stroke="#000" stroke-width="1.6" stroke-linejoin="round" stroke-linecap="butt"/>
<path d="M81.9,1089.7C82.1,1090.4 82.2,1091.1 82.6,1091.8C83.1,1092.8 87.2,1093.7 88.7,1094.7C91.1,1096.2 94.2,1097.7 94.2,1099.2C94.2,1101 82.6,1102.9 82.6,1104.7C82.6,1107.2 88.1,1109.8 88.1,1112.3C88.1,1113.3 83,1114.3 82.5,1115.3C82.2,1116 82.1,1116.7 81.9,1117.4C81.7,1116.7 81.6,1116 81.3,1115.3C80.8,1114.3 75.7,1113.3 75.7,1112.3C75.7,1109.8 81.2,1107.2 81.2,1104.7C81.2,1102.9 69.6,1101 69.6,1099.2C69.6,1097.7 72.7,1096.2 75.1,1094.7C76.6,1093.7 80.7,1092.8 81.2,1091.8C81.6,1091.1 81.7,1090.4 81.9,1089.7Z" fill="#808080" stroke="#000" stroke-width="1.6" stroke-linejoin="round"/>
<line x1="69.6" y1="1099.2" x2="94.2" y2="1099.2" stroke="#000" stroke-width="0.8"/>
<circle cx="81.9" cy="1095.2" r="1.44" fill="#000"/>
<circle cx="81.9" cy="1099.6" r="1.44" fill="#000"/>
<circle cx="81.9" cy="1112.3" r="1.44" fill="#000"/>
<path d="M122.5,1043.7C122.7,1044.9 122.7,1046.1 123.1,1047.4C123.5,1049 128.1,1050.7 128.1,1052.4C128.1,1055.6 123.7,1058.7 123.7,1061.9C123.7,1065.2 127.2,1068.6 127.2,1071.9C127.2,1073.3 125.7,1074.6 125.7,1076C125.7,1080.1 134.8,1084.2 134.8,1088.3C134.8,1091.4 124.7,1094.5 123.7,1097.6C123,1099.8 122.9,1102.1 122.5,1104.3C122.1,1102.1 122,1099.8 121.3,1097.6C120.3,1094.5 110.2,1091.4 110.2,1088.3C110.2,1084.2 119.3,1080.1 119.3,1076C119.3,1074.6 117.8,1073.3 117.8,1071.9C117.8,1068.6 121.3,1065.2 121.3,1061.9C121.3,1058.7 116.9,1055.6 116.9,1052.4C116.9,1050.7 121.5,1049 121.9,1047.4C122.3,1046.1 122.3,1044.9 122.5,1043.7Z" fill="#ffc9c3" stroke="#ff2000" stroke-width="1.6" stroke-linejoin="round"/>
<line x1="117.8" y1="1071.9" x2="127.2" y2="1071.9" stroke="#000" stroke-width="0.8"/>
<line x1="111.64" y1="1085.2" x2="133.36" y2="1085.2" stroke="#000" stroke-width="1.6"/>
<line x1="110.74" y1="1089.6" x2="134.26" y2="1089.6" stroke="#000" stroke-width="0.8"/>
<rect x="121.1" y="1051" width="2.8" height="2.8" fill="#000"/>
<rect x="121.1" y="1070.5" width="2.8" height="2.8" fill="#000"/>
<rect x="121.1" y="1079.6" width="2.8" height="2.8" fill="#000"/>
<rect x="121.1" y="1083.8" width="2.8" height="2.8" fill="#000"/>
<rect x="118.4" y="1087.8" width="2.8" height="2.8" fill="#000"/>
<rect x="124.2" y="1088.3" width="2.8" height="2.8" fill="#000"/>
<rect x="121.1" y="1094.2" width="2.8" height="2.8" fill="#000"/>
<line x1="186.6" y1="1029.1" x2="186.6" y2="1171.9" stroke="#000" stroke-width="1.6"/>
<line x1="181.2" y1="1171.1" x2="281.8" y2="1171.1" stroke="#000" stroke-width="1.6"/>
<line x1="181.2" y1="1171.1" x2="186.6" y2="1171.1" stroke="#000" stroke-width="1.6"/>
<text x="178.5" y="1174.9" font-size="10.6" font-weight="bold" stroke="#000" stroke-width="0.21" text-anchor="end">0.00</text>
<line x1="181.2" y1="1135.6" x2="186.6" y2="1135.6" stroke="#000" stroke-width="1.6"/>
<text x="178.5" y="1139.4" font-size="10.6" font-weight="bold" stroke="#000" stroke-width="0.21" text-anchor="end">0.02</text>
<line x1="181.2" y1="1100.1" x2="186.6" y2="1100.1" stroke="#000" stroke-width="1.6"/>
<text x="178.5" y="1103.9" font-size="10.6" font-weight="bold" stroke="#000" stroke-width="0.21" text-anchor="end">0.04</text>
<line x1="181.2" y1="1064.6" x2="186.6" y2="1064.6" stroke="#000" stroke-width="1.6"/>
<text x="178.5" y="1068.4" font-size="10.6" font-weight="bold" stroke="#000" stroke-width="0.21" text-anchor="end">0.06</text>
<line x1="181.2" y1="1029.1" x2="186.6" y2="1029.1" stroke="#000" stroke-width="1.6"/>
<text x="178.5" y="1032.9" font-size="10.6" font-weight="bold" stroke="#000" stroke-width="0.21" text-anchor="end">0.08</text>
<line x1="214.5" y1="1171.1" x2="214.5" y2="1177.1" stroke="#000" stroke-width="1.6"/>
<text x="214.5" y="1189.6" font-size="10.6" font-weight="bold" stroke="#000" stroke-width="0.21" text-anchor="middle">Ctrl</text>
<line x1="254.9" y1="1171.1" x2="254.9" y2="1177.1" stroke="#000" stroke-width="1.6"/>
<text x="254.9" y="1189.6" font-size="10.6" font-weight="bold" stroke="#000" stroke-width="0.21" text-anchor="middle">KO</text>
<text x="150.9" y="1101" font-size="11.2" font-weight="bold" stroke="#000" stroke-width="0.22" text-anchor="middle" transform="rotate(-90 150.9 1101)">Phenylalanine</text>
<text x="234.8" y="1033.7" font-size="11.3" stroke="#000" stroke-width="0.18" text-anchor="middle">p = 0.0119</text>
<polyline points="214.5,1106.5 214.5,1041.3 254.9,1041.3 254.9,1050.1" fill="none" stroke="#000" stroke-width="1.6" stroke-linejoin="round" stroke-linecap="butt"/>
<path d="M214.5,1113.8C214.9,1114.2 215,1114.6 215.6,1114.9C216.5,1115.5 225.3,1116 225.7,1116.5C226.4,1117.4 226.7,1118.3 226.7,1119.2C226.7,1120.4 226.4,1121.7 225.7,1122.9C225.3,1123.5 216.5,1124.1 215.6,1124.8C215,1125.2 214.9,1125.7 214.5,1126.1C214.1,1125.7 214,1125.2 213.4,1124.8C212.5,1124.1 203.7,1123.5 203.3,1122.9C202.6,1121.7 202.3,1120.4 202.3,1119.2C202.3,1118.3 202.6,1117.4 203.3,1116.5C203.7,1116 212.5,1115.5 213.4,1114.9C214,1114.6 214.1,1114.2 214.5,1113.8Z" fill="#808080" stroke="#000" stroke-width="1.6" stroke-linejoin="round"/>
<line x1="203.3" y1="1116.5" x2="225.7" y2="1116.5" stroke="#000" stroke-width="0.8"/>
<line x1="202.3" y1="1119.2" x2="226.7" y2="1119.2" stroke="#000" stroke-width="0.8"/>
<line x1="203.3" y1="1122.9" x2="225.7" y2="1122.9" stroke="#000" stroke-width="0.8"/>
<circle cx="214.5" cy="1119.2" r="1.44" fill="#000"/>
<path d="M254.9,1057.7C255.1,1058.9 255.1,1060.1 255.4,1061.2C255.7,1062.9 259.6,1064.5 259.6,1066.1C259.6,1068.3 256.1,1070.6 256.1,1072.8C256.1,1077.4 256.1,1081.9 256.1,1086.5C256.1,1088.6 259.6,1090.7 259.6,1092.8C259.6,1094 258.1,1095.3 258.1,1096.5C258.1,1099.1 266.8,1101.7 266.8,1104.3C266.8,1107.6 257,1110.9 256.1,1114.2C255.4,1116.6 255.3,1119 254.9,1121.4C254.5,1119 254.4,1116.6 253.7,1114.2C252.8,1110.9 243,1107.6 243,1104.3C243,1101.7 251.7,1099.1 251.7,1096.5C251.7,1095.3 250.2,1094 250.2,1092.8C250.2,1090.7 253.7,1088.6 253.7,1086.5C253.7,1081.9 253.7,1077.4 253.7,1072.8C253.7,1070.6 250.2,1068.3 250.2,1066.1C250.2,1064.5 254.1,1062.9 254.4,1061.2C254.7,1060.1 254.7,1058.9 254.9,1057.7Z" fill="#ffc9c3" stroke="#ff2000" stroke-width="1.6" stroke-linejoin="round"/>
<line x1="250.22" y1="1092.5" x2="259.58" y2="1092.5" stroke="#000" stroke-width="0.8"/>
<line x1="243" y1="1104.3" x2="266.8" y2="1104.3" stroke="#000" stroke-width="1.6"/>
<line x1="247.92" y1="1109.2" x2="261.88" y2="1109.2" stroke="#000" stroke-width="0.8"/>
<rect x="253.5" y="1064.7" width="2.8" height="2.8" fill="#000"/>
<rect x="253.5" y="1091.1" width="2.8" height="2.8" fill="#000"/>
<rect x="253.5" y="1098.7" width="2.8" height="2.8" fill="#000"/>
<rect x="249.8" y="1102.9" width="2.8" height="2.8" fill="#000"/>
<rect x="256.7" y="1102.9" width="2.8" height="2.8" fill="#000"/>
<rect x="253.5" y="1107.8" width="2.8" height="2.8" fill="#000"/>
<rect x="253.5" y="1112.4" width="2.8" height="2.8" fill="#000"/>
<line x1="317" y1="1029.1" x2="317" y2="1171.9" stroke="#000" stroke-width="1.6"/>
<line x1="311.6" y1="1171.1" x2="411.1" y2="1171.1" stroke="#000" stroke-width="1.6"/>
<line x1="311.6" y1="1171.1" x2="317" y2="1171.1" stroke="#000" stroke-width="1.6"/>
<text x="308.9" y="1174.9" font-size="10.6" font-weight="bold" stroke="#000" stroke-width="0.21" text-anchor="end">0.00</text>
<line x1="311.6" y1="1123.77" x2="317" y2="1123.77" stroke="#000" stroke-width="1.6"/>
<text x="308.9" y="1127.57" font-size="10.6" font-weight="bold" stroke="#000" stroke-width="0.21" text-anchor="end">0.01</text>
<line x1="311.6" y1="1076.43" x2="317" y2="1076.43" stroke="#000" stroke-width="1.6"/>
<text x="308.9" y="1080.23" font-size="10.6" font-weight="bold" stroke="#000" stroke-width="0.21" text-anchor="end">0.02</text>
<line x1="311.6" y1="1029.1" x2="317" y2="1029.1" stroke="#000" stroke-width="1.6"/>
<text x="308.9" y="1032.9" font-size="10.6" font-weight="bold" stroke="#000" stroke-width="0.21" text-anchor="end">0.03</text>
<line x1="343.7" y1="1171.1" x2="343.7" y2="1177.1" stroke="#000" stroke-width="1.6"/>
<text x="343.7" y="1189.6" font-size="10.6" font-weight="bold" stroke="#000" stroke-width="0.21" text-anchor="middle">Ctrl</text>
<line x1="384.1" y1="1171.1" x2="384.1" y2="1177.1" stroke="#000" stroke-width="1.6"/>
<text x="384.1" y="1189.6" font-size="10.6" font-weight="bold" stroke="#000" stroke-width="0.21" text-anchor="middle">KO</text>
<text x="288" y="1100.2" font-size="11.2" font-weight="bold" stroke="#000" stroke-width="0.22" text-anchor="middle" transform="rotate(-90 288 1100.2)">Methionine</text>
<path d="M343.7,1055.1C344,1056.4 344.1,1057.8 344.6,1059.1C345.3,1060.9 351.5,1062.8 352.9,1064.6C354.5,1066.7 356,1068.9 356,1071C356,1073.7 344.4,1076.5 344.4,1079.2C344.4,1083.4 350.9,1087.7 350.9,1091.9C350.9,1093.6 345,1095.3 344.4,1097C344,1098.2 343.9,1099.5 343.7,1100.7C343.5,1099.5 343.4,1098.2 343,1097C342.4,1095.3 336.5,1093.6 336.5,1091.9C336.5,1087.7 343,1083.4 343,1079.2C343,1076.5 331.4,1073.7 331.4,1071C331.4,1068.9 332.9,1066.7 334.5,1064.6C335.9,1062.8 342.1,1060.9 342.8,1059.1C343.3,1057.8 343.4,1056.4 343.7,1055.1Z" fill="#808080" stroke="#000" stroke-width="1.6" stroke-linejoin="round"/>
<line x1="334.5" y1="1064.6" x2="352.9" y2="1064.6" stroke="#000" stroke-width="0.8"/>
<line x1="331.79" y1="1071.9" x2="355.61" y2="1071.9" stroke="#000" stroke-width="1.6"/>
<circle cx="343.7" cy="1064.6" r="1.44" fill="#000"/>
<circle cx="343.7" cy="1070.1" r="1.44" fill="#000"/>
<circle cx="343.7" cy="1072.3" r="1.44" fill="#000"/>
<circle cx="343.7" cy="1091.9" r="1.44" fill="#000"/>
<path d="M384.1,1043.7C384.3,1045.2 384.4,1046.8 384.7,1048.3C385.1,1050.4 389.8,1052.5 389.8,1054.6C389.8,1057.3 384.8,1060.1 384.8,1062.8C384.8,1070.7 396.6,1078.6 396.6,1086.5C396.6,1088.3 392.3,1090.1 392.3,1091.9C392.3,1093.6 396.3,1095.3 396.3,1097C396.3,1098.9 388.3,1100.9 388.3,1102.8C388.3,1104.9 389.8,1107.1 389.8,1109.2C389.8,1111.3 385.3,1113.5 385.3,1115.6C385.3,1118 390.3,1120.5 390.3,1122.9C390.3,1125 385.2,1127.1 384.7,1129.2C384.4,1130.7 384.3,1132.3 384.1,1133.8C383.9,1132.3 383.8,1130.7 383.5,1129.2C383,1127.1 377.9,1125 377.9,1122.9C377.9,1120.5 382.9,1118 382.9,1115.6C382.9,1113.5 378.4,1111.3 378.4,1109.2C378.4,1107.1 379.9,1104.9 379.9,1102.8C379.9,1100.9 371.9,1098.9 371.9,1097C371.9,1095.3 375.9,1093.6 375.9,1091.9C375.9,1090.1 371.6,1088.3 371.6,1086.5C371.6,1078.6 383.4,1070.7 383.4,1062.8C383.4,1060.1 378.4,1057.3 378.4,1054.6C378.4,1052.5 383.1,1050.4 383.5,1048.3C383.8,1046.8 383.9,1045.2 384.1,1043.7Z" fill="#ffc9c3" stroke="#ff2000" stroke-width="1.6" stroke-linejoin="round"/>
<line x1="371.64" y1="1086.8" x2="396.56" y2="1086.8" stroke="#000" stroke-width="0.8"/>
<line x1="372.01" y1="1096.5" x2="396.19" y2="1096.5" stroke="#000" stroke-width="1.6"/>
<line x1="378.4" y1="1109.2" x2="389.8" y2="1109.2" stroke="#000" stroke-width="0.8"/>
<rect x="382.7" y="1053.2" width="2.8" height="2.8" fill="#000"/>
<rect x="382.7" y="1085.1" width="2.8" height="2.8" fill="#000"/>
<rect x="382.7" y="1087.8" width="2.8" height="2.8" fill="#000"/>
<rect x="380.2" y="1097.4" width="2.8" height="2.8" fill="#000"/>
<rect x="386" y="1095.1" width="2.8" height="2.8" fill="#000"/>
<rect x="382.7" y="1107.8" width="2.8" height="2.8" fill="#000"/>
<rect x="382.7" y="1121.5" width="2.8" height="2.8" fill="#000"/>
<line x1="455.7" y1="1029.1" x2="455.7" y2="1171.9" stroke="#000" stroke-width="1.6"/>
<line x1="450.3" y1="1171.1" x2="550.3" y2="1171.1" stroke="#000" stroke-width="1.6"/>
<line x1="450.3" y1="1171.1" x2="455.7" y2="1171.1" stroke="#000" stroke-width="1.6"/>
<text x="447.6" y="1174.9" font-size="10.6" font-weight="bold" stroke="#000" stroke-width="0.21" text-anchor="end">0.00</text>
<line x1="450.3" y1="1135.6" x2="455.7" y2="1135.6" stroke="#000" stroke-width="1.6"/>
<text x="447.6" y="1139.4" font-size="10.6" font-weight="bold" stroke="#000" stroke-width="0.21" text-anchor="end">0.01</text>
<line x1="450.3" y1="1100.1" x2="455.7" y2="1100.1" stroke="#000" stroke-width="1.6"/>
<text x="447.6" y="1103.9" font-size="10.6" font-weight="bold" stroke="#000" stroke-width="0.21" text-anchor="end">0.02</text>
<line x1="450.3" y1="1064.6" x2="455.7" y2="1064.6" stroke="#000" stroke-width="1.6"/>
<text x="447.6" y="1068.4" font-size="10.6" font-weight="bold" stroke="#000" stroke-width="0.21" text-anchor="end">0.03</text>
<line x1="450.3" y1="1029.1" x2="455.7" y2="1029.1" stroke="#000" stroke-width="1.6"/>
<text x="447.6" y="1032.9" font-size="10.6" font-weight="bold" stroke="#000" stroke-width="0.21" text-anchor="end">0.04</text>
<line x1="483.5" y1="1171.1" x2="483.5" y2="1177.1" stroke="#000" stroke-width="1.6"/>
<text x="483.5" y="1189.6" font-size="10.6" font-weight="bold" stroke="#000" stroke-width="0.21" text-anchor="middle">Ctrl</text>
<line x1="523.9" y1="1171.1" x2="523.9" y2="1177.1" stroke="#000" stroke-width="1.6"/>
<text x="523.9" y="1189.6" font-size="10.6" font-weight="bold" stroke="#000" stroke-width="0.21" text-anchor="middle">KO</text>
<text x="419.4" y="1100.6" font-size="11.2" font-weight="bold" stroke="#000" stroke-width="0.22" text-anchor="middle" transform="rotate(-90 419.4 1100.6)">Glycine</text>
<path d="M483.5,1088.3C483.9,1089.7 484,1091.1 484.7,1092.5C485.7,1094.4 495.8,1096.4 495.8,1098.3C495.8,1101 484.7,1103.8 484.7,1106.5C484.7,1111 489.1,1115.6 489.1,1120.1C489.1,1121.8 484.5,1123.4 484.1,1125.1C483.7,1126.3 483.7,1127.5 483.5,1128.7C483.3,1127.5 483.3,1126.3 482.9,1125.1C482.5,1123.4 477.9,1121.8 477.9,1120.1C477.9,1115.6 482.3,1111 482.3,1106.5C482.3,1103.8 471.2,1101 471.2,1098.3C471.2,1096.4 481.3,1094.4 482.3,1092.5C483,1091.1 483.1,1089.7 483.5,1088.3Z" fill="#808080" stroke="#000" stroke-width="1.6" stroke-linejoin="round"/>
<line x1="471.57" y1="1099.2" x2="495.43" y2="1099.2" stroke="#000" stroke-width="0.8"/>
<circle cx="483.5" cy="1097" r="1.44" fill="#000"/>
<circle cx="486" cy="1097" r="1.44" fill="#000"/>
<circle cx="483.5" cy="1101" r="1.44" fill="#000"/>
<circle cx="483.5" cy="1120.1" r="1.44" fill="#000"/>
<path d="M523.9,1037.3C524,1039.5 524.1,1041.6 524.3,1043.8C524.6,1046.8 527.6,1049.8 527.6,1052.8C527.6,1054.9 525.1,1057.1 525.1,1059.2C525.1,1061.6 527.6,1064 527.6,1066.4C527.6,1069.4 524.1,1072.5 524.1,1075.5C524.1,1078.8 527.6,1082.2 527.6,1085.5C527.6,1088.2 525.1,1091 525.1,1093.7C525.1,1098 536.2,1102.2 536.2,1106.5C536.2,1109.5 530.7,1112.6 529.1,1115.6C527,1119.5 524.8,1123.3 524.4,1127.2C524.1,1130 524.1,1132.8 523.9,1135.6C523.7,1132.8 523.7,1130 523.4,1127.2C523,1123.3 520.8,1119.5 518.7,1115.6C517.1,1112.6 511.6,1109.5 511.6,1106.5C511.6,1102.2 522.7,1098 522.7,1093.7C522.7,1091 520.2,1088.2 520.2,1085.5C520.2,1082.2 523.6,1078.8 523.6,1075.5C523.6,1072.5 520.2,1069.4 520.2,1066.4C520.2,1064 522.7,1061.6 522.7,1059.2C522.7,1057.1 520.2,1054.9 520.2,1052.8C520.2,1049.8 523.2,1046.8 523.5,1043.8C523.7,1041.6 523.8,1039.5 523.9,1037.3Z" fill="#ffc9c3" stroke="#ff2000" stroke-width="1.6" stroke-linejoin="round"/>
<line x1="520.21" y1="1066.1" x2="527.59" y2="1066.1" stroke="#000" stroke-width="0.8"/>
<line x1="511.87" y1="1105.3" x2="535.93" y2="1105.3" stroke="#000" stroke-width="1.6"/>
<line x1="512.17" y1="1108.3" x2="535.63" y2="1108.3" stroke="#000" stroke-width="0.8"/>
<rect x="522.5" y="1051.4" width="2.8" height="2.8" fill="#000"/>
<rect x="522.5" y="1064.7" width="2.8" height="2.8" fill="#000"/>
<rect x="522.5" y="1084.1" width="2.8" height="2.8" fill="#000"/>
<rect x="520.7" y="1105.1" width="2.8" height="2.8" fill="#000"/>
<rect x="525.2" y="1104.7" width="2.8" height="2.8" fill="#000"/>
<rect x="522.5" y="1117.8" width="2.8" height="2.8" fill="#000"/>
<line x1="585.9" y1="1029.7" x2="585.9" y2="1172.3" stroke="#000" stroke-width="1.6"/>
<line x1="580.5" y1="1171.5" x2="680.2" y2="1171.5" stroke="#000" stroke-width="1.6"/>
<line x1="580.5" y1="1171.5" x2="585.9" y2="1171.5" stroke="#000" stroke-width="1.6"/>
<text x="577.8" y="1175.3" font-size="10.6" font-weight="bold" stroke="#000" stroke-width="0.21" text-anchor="end">0.00</text>
<line x1="580.5" y1="1136.05" x2="585.9" y2="1136.05" stroke="#000" stroke-width="1.6"/>
<text x="577.8" y="1139.85" font-size="10.6" font-weight="bold" stroke="#000" stroke-width="0.21" text-anchor="end">0.05</text>
<line x1="580.5" y1="1100.6" x2="585.9" y2="1100.6" stroke="#000" stroke-width="1.6"/>
<text x="577.8" y="1104.4" font-size="10.6" font-weight="bold" stroke="#000" stroke-width="0.21" text-anchor="end">0.10</text>
<line x1="580.5" y1="1065.15" x2="585.9" y2="1065.15" stroke="#000" stroke-width="1.6"/>
<text x="577.8" y="1068.95" font-size="10.6" font-weight="bold" stroke="#000" stroke-width="0.21" text-anchor="end">0.15</text>
<line x1="580.5" y1="1029.7" x2="585.9" y2="1029.7" stroke="#000" stroke-width="1.6"/>
<text x="577.8" y="1033.5" font-size="10.6" font-weight="bold" stroke="#000" stroke-width="0.21" text-anchor="end">0.20</text>
<line x1="612.8" y1="1171.5" x2="612.8" y2="1177.5" stroke="#000" stroke-width="1.6"/>
<text x="612.8" y="1190" font-size="10.6" font-weight="bold" stroke="#000" stroke-width="0.21" text-anchor="middle">Ctrl</text>
<line x1="653.8" y1="1171.5" x2="653.8" y2="1177.5" stroke="#000" stroke-width="1.6"/>
<text x="653.8" y="1190" font-size="10.6" font-weight="bold" stroke="#000" stroke-width="0.21" text-anchor="middle">KO</text>
<text x="549.5" y="1100.6" font-size="11.2" font-weight="bold" stroke="#000" stroke-width="0.22" text-anchor="middle" transform="rotate(-90 549.5 1100.6)">Threonine</text>
<path d="M612.8,1069.2C613,1070 613.1,1070.7 613.5,1071.5C614,1072.5 619.5,1073.6 619.5,1074.6C619.5,1075.5 616,1076.5 616,1077.4C616,1078.3 617.5,1079.2 617.5,1080.1C617.5,1081.6 614,1083.1 614,1084.6C614,1086.4 625.7,1088.3 625.7,1090.1C625.7,1091.2 615.1,1092.3 614.1,1093.5C613.4,1094.3 613.2,1095.1 612.8,1095.9C612.4,1095.1 612.2,1094.3 611.5,1093.5C610.5,1092.3 599.9,1091.2 599.9,1090.1C599.9,1088.3 611.6,1086.4 611.6,1084.6C611.6,1083.1 608.1,1081.6 608.1,1080.1C608.1,1079.2 609.6,1078.3 609.6,1077.4C609.6,1076.5 606.1,1075.5 606.1,1074.6C606.1,1073.6 611.6,1072.5 612.1,1071.5C612.5,1070.7 612.6,1070 612.8,1069.2Z" fill="#808080" stroke="#000" stroke-width="1.6" stroke-linejoin="round"/>
<circle cx="612.8" cy="1074.6" r="1.44" fill="#000"/>
<circle cx="612.8" cy="1080.1" r="1.44" fill="#000"/>
<circle cx="612.8" cy="1090.1" r="1.44" fill="#000"/>
<circle cx="610" cy="1090.5" r="1.44" fill="#000"/>
<path d="M653.8,1045.5C654,1046.7 654.1,1047.9 654.4,1049.2C654.9,1050.8 660,1052.5 660,1054.2C660,1057.4 654.5,1060.5 654.5,1063.7C654.5,1067.6 665.7,1071.6 665.7,1075.5C665.7,1078.5 660,1081.6 660,1084.6C660,1087.6 664.5,1090.7 664.5,1093.7C664.5,1095.8 655.7,1098 654.9,1100.1C654.3,1101.6 654.2,1103.2 653.8,1104.7C653.4,1103.2 653.3,1101.6 652.7,1100.1C651.9,1098 643.1,1095.8 643.1,1093.7C643.1,1090.7 647.6,1087.6 647.6,1084.6C647.6,1081.6 641.9,1078.5 641.9,1075.5C641.9,1071.6 653.1,1067.6 653.1,1063.7C653.1,1060.5 647.6,1057.4 647.6,1054.2C647.6,1052.5 652.7,1050.8 653.2,1049.2C653.5,1047.9 653.6,1046.7 653.8,1045.5Z" fill="#ffc9c3" stroke="#ff2000" stroke-width="1.6" stroke-linejoin="round"/>
<line x1="644.89" y1="1071.5" x2="662.71" y2="1071.5" stroke="#000" stroke-width="0.8"/>
<line x1="643.43" y1="1078.6" x2="664.17" y2="1078.6" stroke="#000" stroke-width="1.6"/>
<line x1="643.39" y1="1092.3" x2="664.21" y2="1092.3" stroke="#000" stroke-width="0.8"/>
<rect x="652.4" y="1052.8" width="2.8" height="2.8" fill="#000"/>
<rect x="652.4" y="1070.1" width="2.8" height="2.8" fill="#000"/>
<rect x="652.4" y="1074.1" width="2.8" height="2.8" fill="#000"/>
<rect x="652.4" y="1077.2" width="2.8" height="2.8" fill="#000"/>
<rect x="652.4" y="1085.1" width="2.8" height="2.8" fill="#000"/>
<rect x="652.4" y="1092" width="2.8" height="2.8" fill="#000"/>
<rect x="652.4" y="1094.5" width="2.8" height="2.8" fill="#000"/>
<line x1="723" y1="1029.7" x2="723" y2="1172.3" stroke="#000" stroke-width="1.6"/>
<line x1="717.6" y1="1171.5" x2="817.1" y2="1171.5" stroke="#000" stroke-width="1.6"/>
<line x1="717.6" y1="1171.5" x2="723" y2="1171.5" stroke="#000" stroke-width="1.6"/>
<text x="714.9" y="1175.3" font-size="10.6" font-weight="bold" stroke="#000" stroke-width="0.21" text-anchor="end">0.00</text>
<line x1="717.6" y1="1136.05" x2="723" y2="1136.05" stroke="#000" stroke-width="1.6"/>
<text x="714.9" y="1139.85" font-size="10.6" font-weight="bold" stroke="#000" stroke-width="0.21" text-anchor="end">0.02</text>
<line x1="717.6" y1="1100.6" x2="723" y2="1100.6" stroke="#000" stroke-width="1.6"/>
<text x="714.9" y="1104.4" font-size="10.6" font-weight="bold" stroke="#000" stroke-width="0.21" text-anchor="end">0.04</text>
<line x1="717.6" y1="1065.15" x2="723" y2="1065.15" stroke="#000" stroke-width="1.6"/>
<text x="714.9" y="1068.95" font-size="10.6" font-weight="bold" stroke="#000" stroke-width="0.21" text-anchor="end">0.06</text>
<line x1="717.6" y1="1029.7" x2="723" y2="1029.7" stroke="#000" stroke-width="1.6"/>
<text x="714.9" y="1033.5" font-size="10.6" font-weight="bold" stroke="#000" stroke-width="0.21" text-anchor="end">0.08</text>
<line x1="750.3" y1="1171.5" x2="750.3" y2="1177.5" stroke="#000" stroke-width="1.6"/>
<text x="750.3" y="1190" font-size="10.6" font-weight="bold" stroke="#000" stroke-width="0.21" text-anchor="middle">Ctrl</text>
<line x1="790.9" y1="1171.5" x2="790.9" y2="1177.5" stroke="#000" stroke-width="1.6"/>
<text x="790.9" y="1190" font-size="10.6" font-weight="bold" stroke="#000" stroke-width="0.21" text-anchor="middle">KO</text>
<text x="689.1" y="1100.2" font-size="11.2" font-weight="bold" stroke="#000" stroke-width="0.22" text-anchor="middle" transform="rotate(-90 689.1 1100.2)">Ornithine</text>
<path d="M750.3,1116.5C750.7,1117.6 750.8,1118.7 751.5,1119.8C752.4,1121.3 762.2,1122.8 762.2,1124.3C762.2,1125.3 756.1,1126.4 755.5,1127.4C754.9,1128.3 754.9,1129.3 754.5,1130.2C753.5,1132.9 751,1135.6 751,1138.3C751,1140.7 755.5,1143.2 755.5,1145.6C755.5,1147 751.2,1148.4 750.8,1149.8C750.5,1150.9 750.5,1151.9 750.3,1152.9C750.1,1151.9 750.1,1150.9 749.8,1149.8C749.4,1148.4 745.1,1147 745.1,1145.6C745.1,1143.2 749.6,1140.7 749.6,1138.3C749.6,1135.6 747.1,1132.9 746.1,1130.2C745.7,1129.3 745.7,1128.3 745.1,1127.4C744.5,1126.4 738.4,1125.3 738.4,1124.3C738.4,1122.8 748.2,1121.3 749.1,1119.8C749.8,1118.7 749.9,1117.6 750.3,1116.5Z" fill="#808080" stroke="#000" stroke-width="1.6" stroke-linejoin="round"/>
<line x1="738.4" y1="1124.3" x2="762.2" y2="1124.3" stroke="#000" stroke-width="1.6"/>
<circle cx="747.6" cy="1124.7" r="1.44" fill="#000"/>
<circle cx="753.1" cy="1124.3" r="1.44" fill="#000"/>
<circle cx="750.3" cy="1130.2" r="1.44" fill="#000"/>
<circle cx="750.3" cy="1145.6" r="1.44" fill="#000"/>
<path d="M790.9,1070.1C791.1,1071.1 791.1,1072.1 791.4,1073.2C791.8,1074.6 796.1,1076 796.1,1077.4C796.1,1079.8 791.1,1082.2 791.1,1084.6C791.1,1094.3 791.1,1104.1 791.1,1113.8C791.1,1115.6 795.3,1117.4 796.5,1119.2C799.4,1123.5 802.8,1127.7 802.8,1132C802.8,1133.8 796.1,1135.6 796.1,1137.4C796.1,1138.7 797.1,1140.1 797.1,1141.4C797.1,1142.9 792,1144.5 791.5,1146C791.2,1147.1 791.1,1148.2 790.9,1149.3C790.7,1148.2 790.6,1147.1 790.3,1146C789.8,1144.5 784.7,1142.9 784.7,1141.4C784.7,1140.1 785.7,1138.7 785.7,1137.4C785.7,1135.6 779,1133.8 779,1132C779,1127.7 782.4,1123.5 785.3,1119.2C786.5,1117.4 790.6,1115.6 790.6,1113.8C790.6,1104.1 790.6,1094.3 790.6,1084.6C790.6,1082.2 785.7,1079.8 785.7,1077.4C785.7,1076 790,1074.6 790.4,1073.2C790.7,1072.1 790.7,1071.1 790.9,1070.1Z" fill="#ffc9c3" stroke="#ff2000" stroke-width="1.6" stroke-linejoin="round"/>
<line x1="785.3" y1="1119.2" x2="796.5" y2="1119.2" stroke="#000" stroke-width="0.8"/>
<line x1="779.19" y1="1130.2" x2="802.61" y2="1130.2" stroke="#000" stroke-width="1.6"/>
<line x1="783.45" y1="1135.3" x2="798.35" y2="1135.3" stroke="#000" stroke-width="0.8"/>
<rect x="789.5" y="1076" width="2.8" height="2.8" fill="#000"/>
<rect x="789.5" y="1117.8" width="2.8" height="2.8" fill="#000"/>
<rect x="789.5" y="1122.4" width="2.8" height="2.8" fill="#000"/>
<rect x="786.2" y="1130.2" width="2.8" height="2.8" fill="#000"/>
<rect x="792.5" y="1128.4" width="2.8" height="2.8" fill="#000"/>
<rect x="789.5" y="1134.2" width="2.8" height="2.8" fill="#000"/>
<rect x="789.5" y="1140" width="2.8" height="2.8" fill="#000"/>
<text x="977" y="591.8" font-size="40.6" font-weight="bold" fill="#262626" textLength="38.2" lengthAdjust="spacingAndGlyphs" stroke="#262626" stroke-width="1.1" stroke-linejoin="round">D)</text>
<text x="1178.5" y="607.9" font-size="30.8" font-weight="bold" stroke="#262626" stroke-width="0.48" fill="#262626" textLength="65.5" lengthAdjust="spacingAndGlyphs">3 mo</text>
<line x1="1080.2" y1="619.2" x2="1080.2" y2="785" stroke="#000" stroke-width="2"/>
<line x1="1075.7" y1="785" x2="1327.9" y2="785" stroke="#000" stroke-width="2"/>
<line x1="1075.7" y1="785" x2="1080.2" y2="785" stroke="#000" stroke-width="2"/>
<text x="1072.3" y="789.4" font-size="12.5" font-weight="bold" stroke="#000" stroke-width="0.25" text-anchor="end">0</text>
<line x1="1075.7" y1="751.84" x2="1080.2" y2="751.84" stroke="#000" stroke-width="2"/>
<text x="1072.3" y="756.24" font-size="12.5" font-weight="bold" stroke="#000" stroke-width="0.25" text-anchor="end">10000</text>
<line x1="1075.7" y1="718.68" x2="1080.2" y2="718.68" stroke="#000" stroke-width="2"/>
<text x="1072.3" y="723.08" font-size="12.5" font-weight="bold" stroke="#000" stroke-width="0.25" text-anchor="end">20000</text>
<line x1="1075.7" y1="685.52" x2="1080.2" y2="685.52" stroke="#000" stroke-width="2"/>
<text x="1072.3" y="689.92" font-size="12.5" font-weight="bold" stroke="#000" stroke-width="0.25" text-anchor="end">30000</text>
<line x1="1075.7" y1="652.36" x2="1080.2" y2="652.36" stroke="#000" stroke-width="2"/>
<text x="1072.3" y="656.76" font-size="12.5" font-weight="bold" stroke="#000" stroke-width="0.25" text-anchor="end">40000</text>
<line x1="1075.7" y1="619.2" x2="1080.2" y2="619.2" stroke="#000" stroke-width="2"/>
<text x="1072.3" y="623.6" font-size="12.5" font-weight="bold" stroke="#000" stroke-width="0.25" text-anchor="end">50000</text>
<line x1="1080.2" y1="785" x2="1080.2" y2="789" stroke="#000" stroke-width="2"/>
<text x="1080.2" y="804.5" font-size="12.5" font-weight="bold" stroke="#000" stroke-width="0.25" text-anchor="middle">0</text>
<line x1="1121.48" y1="785" x2="1121.48" y2="789" stroke="#000" stroke-width="2"/>
<text x="1121.48" y="804.5" font-size="12.5" font-weight="bold" stroke="#000" stroke-width="0.25" text-anchor="middle">25</text>
<line x1="1162.77" y1="785" x2="1162.77" y2="789" stroke="#000" stroke-width="2"/>
<text x="1162.77" y="804.5" font-size="12.5" font-weight="bold" stroke="#000" stroke-width="0.25" text-anchor="middle">50</text>
<line x1="1204.05" y1="785" x2="1204.05" y2="789" stroke="#000" stroke-width="2"/>
<text x="1204.05" y="804.5" font-size="12.5" font-weight="bold" stroke="#000" stroke-width="0.25" text-anchor="middle">75</text>
<line x1="1245.33" y1="785" x2="1245.33" y2="789" stroke="#000" stroke-width="2"/>
<text x="1245.33" y="804.5" font-size="12.5" font-weight="bold" stroke="#000" stroke-width="0.25" text-anchor="middle">100</text>
<line x1="1286.62" y1="785" x2="1286.62" y2="789" stroke="#000" stroke-width="2"/>
<text x="1286.62" y="804.5" font-size="12.5" font-weight="bold" stroke="#000" stroke-width="0.25" text-anchor="middle">125</text>
<line x1="1327.9" y1="785" x2="1327.9" y2="789" stroke="#000" stroke-width="2"/>
<text x="1327.9" y="804.5" font-size="12.5" font-weight="bold" stroke="#000" stroke-width="0.25" text-anchor="middle">150</text>
<text x="1127.3" y="822" font-size="12.11" font-weight="bold" stroke="#000" stroke-width="0.24" textLength="153.4" lengthAdjust="spacingAndGlyphs">Stimulation frequency (Hz)</text>
<text x="1022.1" y="702.8" font-size="12.1" font-weight="bold" stroke="#000" stroke-width="0.24" text-anchor="middle" textLength="129.5" lengthAdjust="spacingAndGlyphs" transform="rotate(-90 1022.1 702.8)">Normalized force (N/g)</text>
<path d="M1081.6,757.6C1086.5,757.5 1103.4,758.1 1111.2,757C1119,755.9 1123,753.6 1128.2,751.1C1133.4,748.6 1137.6,746 1142.3,742.1C1147,738.2 1151.7,732.7 1156.4,728C1161.1,723.3 1165.9,718 1170.6,713.8C1175.3,709.5 1179.2,706 1184.7,702.5C1190.2,699 1197.3,695.5 1203.9,692.7C1210.5,689.9 1217.3,687.5 1224.2,685.6C1231.1,683.7 1235.7,682.7 1245.1,681.4C1254.5,680.1 1266.9,678.6 1280.7,677.7C1294.5,676.9 1320,676.5 1327.9,676.3" fill="none" stroke="#000" stroke-width="1.3" stroke-linejoin="round" stroke-linecap="round"/>
<path d="M1081.6,761.3C1086.9,761.2 1104.5,761.6 1113.2,760.7C1121.9,759.9 1128.3,758.1 1133.8,756.2C1139.3,754.3 1141.3,752.5 1146,749.2C1150.7,745.9 1158,739.6 1162.1,736.4C1166.2,733.2 1167,732.8 1170.8,730.2C1174.6,727.6 1179.2,724.1 1184.7,720.9C1190.2,717.7 1197.3,713.8 1203.9,711C1210.5,708.2 1217.3,706 1224.2,704C1231.1,702 1235.7,700.2 1245.1,698.9C1254.5,697.6 1266.9,696.9 1280.7,696.3C1294.5,695.7 1320,695.4 1327.9,695.2" fill="none" stroke="#ff2000" stroke-width="1.3" stroke-linejoin="round" stroke-linecap="round"/>
<line x1="1086.5" y1="759.5" x2="1086.5" y2="764.5" stroke="#ff2000" stroke-width="2"/>
<line x1="1082.5" y1="759.5" x2="1090.5" y2="759.5" stroke="#ff2000" stroke-width="2"/>
<line x1="1082.5" y1="764.5" x2="1090.5" y2="764.5" stroke="#ff2000" stroke-width="2"/>
<rect x="1082.8" y="758.3" width="7.4" height="7.4" fill="#ff2000"/>
<line x1="1113.5" y1="757.9" x2="1113.5" y2="762.9" stroke="#ff2000" stroke-width="2"/>
<line x1="1109.5" y1="757.9" x2="1117.5" y2="757.9" stroke="#ff2000" stroke-width="2"/>
<line x1="1109.5" y1="762.9" x2="1117.5" y2="762.9" stroke="#ff2000" stroke-width="2"/>
<rect x="1109.8" y="756.7" width="7.4" height="7.4" fill="#ff2000"/>
<line x1="1146.1" y1="743.6" x2="1146.1" y2="752.6" stroke="#ff2000" stroke-width="2"/>
<line x1="1142.1" y1="743.6" x2="1150.1" y2="743.6" stroke="#ff2000" stroke-width="2"/>
<line x1="1142.1" y1="752.6" x2="1150.1" y2="752.6" stroke="#ff2000" stroke-width="2"/>
<rect x="1142.4" y="744.4" width="7.4" height="7.4" fill="#ff2000"/>
<line x1="1171.1" y1="726.5" x2="1171.1" y2="735.5" stroke="#ff2000" stroke-width="2"/>
<line x1="1167.1" y1="726.5" x2="1175.1" y2="726.5" stroke="#ff2000" stroke-width="2"/>
<line x1="1167.1" y1="735.5" x2="1175.1" y2="735.5" stroke="#ff2000" stroke-width="2"/>
<rect x="1167.4" y="727.3" width="7.4" height="7.4" fill="#ff2000"/>
<line x1="1204.4" y1="707.4" x2="1204.4" y2="715.4" stroke="#ff2000" stroke-width="2"/>
<line x1="1200.4" y1="707.4" x2="1208.4" y2="707.4" stroke="#ff2000" stroke-width="2"/>
<line x1="1200.4" y1="715.4" x2="1208.4" y2="715.4" stroke="#ff2000" stroke-width="2"/>
<rect x="1200.7" y="707.7" width="7.4" height="7.4" fill="#ff2000"/>
<line x1="1245.7" y1="695.2" x2="1245.7" y2="703.2" stroke="#ff2000" stroke-width="2"/>
<line x1="1241.7" y1="695.2" x2="1249.7" y2="695.2" stroke="#ff2000" stroke-width="2"/>
<line x1="1241.7" y1="703.2" x2="1249.7" y2="703.2" stroke="#ff2000" stroke-width="2"/>
<rect x="1242" y="695.5" width="7.4" height="7.4" fill="#ff2000"/>
<line x1="1328.1" y1="691.1" x2="1328.1" y2="700.1" stroke="#ff2000" stroke-width="2"/>
<line x1="1324.1" y1="691.1" x2="1332.1" y2="691.1" stroke="#ff2000" stroke-width="2"/>
<line x1="1324.1" y1="700.1" x2="1332.1" y2="700.1" stroke="#ff2000" stroke-width="2"/>
<rect x="1324.4" y="691.9" width="7.4" height="7.4" fill="#ff2000"/>
<line x1="1086.5" y1="753.8" x2="1086.5" y2="760.4" stroke="#000" stroke-width="2"/>
<line x1="1082.5" y1="753.8" x2="1090.5" y2="753.8" stroke="#000" stroke-width="2"/>
<line x1="1082.5" y1="760.4" x2="1090.5" y2="760.4" stroke="#000" stroke-width="2"/>
<circle cx="1086.5" cy="757.1" r="3.4" fill="#000"/>
<line x1="1113.5" y1="753.3" x2="1113.5" y2="759.3" stroke="#000" stroke-width="2"/>
<line x1="1109.5" y1="753.3" x2="1117.5" y2="753.3" stroke="#000" stroke-width="2"/>
<line x1="1109.5" y1="759.3" x2="1117.5" y2="759.3" stroke="#000" stroke-width="2"/>
<circle cx="1113.5" cy="756.3" r="3.4" fill="#000"/>
<line x1="1146.1" y1="731" x2="1146.1" y2="742.4" stroke="#000" stroke-width="2"/>
<line x1="1142.1" y1="731" x2="1150.1" y2="731" stroke="#000" stroke-width="2"/>
<line x1="1142.1" y1="742.4" x2="1150.1" y2="742.4" stroke="#000" stroke-width="2"/>
<circle cx="1146.1" cy="736.7" r="3.4" fill="#000"/>
<line x1="1171.1" y1="709" x2="1171.1" y2="720.4" stroke="#000" stroke-width="2"/>
<line x1="1167.1" y1="709" x2="1175.1" y2="709" stroke="#000" stroke-width="2"/>
<line x1="1167.1" y1="720.4" x2="1175.1" y2="720.4" stroke="#000" stroke-width="2"/>
<circle cx="1171.1" cy="714.7" r="3.4" fill="#000"/>
<line x1="1204.4" y1="686.4" x2="1204.4" y2="697.2" stroke="#000" stroke-width="2"/>
<line x1="1200.4" y1="686.4" x2="1208.4" y2="686.4" stroke="#000" stroke-width="2"/>
<line x1="1200.4" y1="697.2" x2="1208.4" y2="697.2" stroke="#000" stroke-width="2"/>
<circle cx="1204.4" cy="691.8" r="3.4" fill="#000"/>
<line x1="1245.7" y1="675.9" x2="1245.7" y2="686.5" stroke="#000" stroke-width="2"/>
<line x1="1241.7" y1="675.9" x2="1249.7" y2="675.9" stroke="#000" stroke-width="2"/>
<line x1="1241.7" y1="686.5" x2="1249.7" y2="686.5" stroke="#000" stroke-width="2"/>
<circle cx="1245.7" cy="681.2" r="3.4" fill="#000"/>
<line x1="1328.1" y1="671" x2="1328.1" y2="681.6" stroke="#000" stroke-width="2"/>
<line x1="1324.1" y1="671" x2="1332.1" y2="671" stroke="#000" stroke-width="2"/>
<line x1="1324.1" y1="681.6" x2="1332.1" y2="681.6" stroke="#000" stroke-width="2"/>
<circle cx="1328.1" cy="676.3" r="3.4" fill="#000"/>
<line x1="1364.6" y1="626.8" x2="1383" y2="626.8" stroke="#000" stroke-width="1.5"/>
<circle cx="1373.8" cy="626.8" r="3.6" fill="#000"/>
<line x1="1364.6" y1="650.3" x2="1383" y2="650.3" stroke="#ff2000" stroke-width="1.5"/>
<rect x="1370.4" y="646.9" width="6.8" height="6.8" fill="#ff2000"/>
<text x="1392.9" y="632.1" font-size="13.4" stroke="#000" stroke-width="0.21">Ctr</text>
<text x="1392.9" y="655.6" font-size="13.4" stroke="#000" stroke-width="0.21">KO</text>
<text x="1166.8" y="871.8" font-size="30.8" font-weight="bold" stroke="#262626" stroke-width="0.48" fill="#262626" textLength="81.5" lengthAdjust="spacingAndGlyphs">18 mo</text>
<line x1="1082.3" y1="911" x2="1082.3" y2="1077" stroke="#000" stroke-width="2"/>
<line x1="1077.8" y1="1077" x2="1329.6" y2="1077" stroke="#000" stroke-width="2"/>
<line x1="1077.8" y1="1077" x2="1082.3" y2="1077" stroke="#000" stroke-width="2"/>
<text x="1071.5" y="1081.4" font-size="12.5" font-weight="bold" stroke="#000" stroke-width="0.25" text-anchor="end">0</text>
<line x1="1077.8" y1="1043.8" x2="1082.3" y2="1043.8" stroke="#000" stroke-width="2"/>
<text x="1071.5" y="1048.2" font-size="12.5" font-weight="bold" stroke="#000" stroke-width="0.25" text-anchor="end">10000</text>
<line x1="1077.8" y1="1010.6" x2="1082.3" y2="1010.6" stroke="#000" stroke-width="2"/>
<text x="1071.5" y="1015" font-size="12.5" font-weight="bold" stroke="#000" stroke-width="0.25" text-anchor="end">20000</text>
<line x1="1077.8" y1="977.4" x2="1082.3" y2="977.4" stroke="#000" stroke-width="2"/>
<text x="1071.5" y="981.8" font-size="12.5" font-weight="bold" stroke="#000" stroke-width="0.25" text-anchor="end">30000</text>
<line x1="1077.8" y1="944.2" x2="1082.3" y2="944.2" stroke="#000" stroke-width="2"/>
<text x="1071.5" y="948.6" font-size="12.5" font-weight="bold" stroke="#000" stroke-width="0.25" text-anchor="end">40000</text>
<line x1="1077.8" y1="911" x2="1082.3" y2="911" stroke="#000" stroke-width="2"/>
<text x="1071.5" y="915.4" font-size="12.5" font-weight="bold" stroke="#000" stroke-width="0.25" text-anchor="end">50000</text>
<line x1="1082.3" y1="1077" x2="1082.3" y2="1081" stroke="#000" stroke-width="2"/>
<text x="1082.3" y="1096.5" font-size="12.5" font-weight="bold" stroke="#000" stroke-width="0.25" text-anchor="middle">0</text>
<line x1="1123.52" y1="1077" x2="1123.52" y2="1081" stroke="#000" stroke-width="2"/>
<text x="1123.52" y="1096.5" font-size="12.5" font-weight="bold" stroke="#000" stroke-width="0.25" text-anchor="middle">25</text>
<line x1="1164.73" y1="1077" x2="1164.73" y2="1081" stroke="#000" stroke-width="2"/>
<text x="1164.73" y="1096.5" font-size="12.5" font-weight="bold" stroke="#000" stroke-width="0.25" text-anchor="middle">50</text>
<line x1="1205.95" y1="1077" x2="1205.95" y2="1081" stroke="#000" stroke-width="2"/>
<text x="1205.95" y="1096.5" font-size="12.5" font-weight="bold" stroke="#000" stroke-width="0.25" text-anchor="middle">75</text>
<line x1="1247.17" y1="1077" x2="1247.17" y2="1081" stroke="#000" stroke-width="2"/>
<text x="1247.17" y="1096.5" font-size="12.5" font-weight="bold" stroke="#000" stroke-width="0.25" text-anchor="middle">100</text>
<line x1="1288.38" y1="1077" x2="1288.38" y2="1081" stroke="#000" stroke-width="2"/>
<text x="1288.38" y="1096.5" font-size="12.5" font-weight="bold" stroke="#000" stroke-width="0.25" text-anchor="middle">125</text>
<line x1="1329.6" y1="1077" x2="1329.6" y2="1081" stroke="#000" stroke-width="2"/>
<text x="1329.6" y="1096.5" font-size="12.5" font-weight="bold" stroke="#000" stroke-width="0.25" text-anchor="middle">150</text>
<text x="1129.2" y="1117.2" font-size="12.11" font-weight="bold" stroke="#000" stroke-width="0.24" textLength="153.4" lengthAdjust="spacingAndGlyphs">Stimulation frequency (Hz)</text>
<text x="1030.5" y="994.7" font-size="12.1" font-weight="bold" stroke="#000" stroke-width="0.24" text-anchor="middle" textLength="129.5" lengthAdjust="spacingAndGlyphs" transform="rotate(-90 1030.5 994.7)">Normalized force (N/g)</text>
<path d="M1083.1,1045.9C1088.4,1045.6 1106.8,1045.6 1114.7,1044C1122.6,1042.4 1124.9,1040.7 1130.4,1036.5C1135.9,1032.3 1143,1024.6 1147.9,1019C1152.9,1013.4 1156,1008.1 1160.1,1002.8C1164.2,997.5 1167.8,992.1 1172.7,987.4C1177.6,982.7 1184.2,977.8 1189.7,974.4C1195.2,971 1200.1,969.1 1205.9,966.9C1211.8,964.6 1217.9,962.8 1224.8,960.9C1231.7,959 1236.8,957.3 1247.2,955.8C1257.6,954.3 1273.2,952.9 1286.9,952C1300.6,951.1 1322.5,950.9 1329.6,950.7" fill="none" stroke="#000" stroke-width="1.3" stroke-linejoin="round" stroke-linecap="round"/>
<path d="M1083.1,1048.1C1088.4,1047.9 1106.8,1048 1114.7,1046.7C1122.6,1045.4 1124.9,1044 1130.4,1040.5C1135.9,1037 1142.5,1030.7 1147.9,1025.7C1153.3,1020.7 1158.7,1014.3 1162.8,1010.3C1166.9,1006.2 1168.2,1004.9 1172.7,1001.4C1177.2,997.9 1184.2,992.4 1189.7,989.3C1195.2,986.1 1200.1,984.5 1205.9,982.5C1211.8,980.5 1217.9,978.7 1224.8,977.1C1231.7,975.5 1236.8,974.2 1247.2,973.1C1257.6,972 1273.2,971.1 1286.9,970.4C1300.6,969.7 1322.5,969.2 1329.6,969" fill="none" stroke="#ff2000" stroke-width="1.3" stroke-linejoin="round" stroke-linecap="round"/>
<line x1="1083.1" y1="1046.1" x2="1083.1" y2="1050.1" stroke="#ff2000" stroke-width="2"/>
<line x1="1079.1" y1="1046.1" x2="1087.1" y2="1046.1" stroke="#ff2000" stroke-width="2"/>
<line x1="1079.1" y1="1050.1" x2="1087.1" y2="1050.1" stroke="#ff2000" stroke-width="2"/>
<rect x="1079.4" y="1044.4" width="7.4" height="7.4" fill="#ff2000"/>
<line x1="1114.7" y1="1044.7" x2="1114.7" y2="1048.7" stroke="#ff2000" stroke-width="2"/>
<line x1="1110.7" y1="1044.7" x2="1118.7" y2="1044.7" stroke="#ff2000" stroke-width="2"/>
<line x1="1110.7" y1="1048.7" x2="1118.7" y2="1048.7" stroke="#ff2000" stroke-width="2"/>
<rect x="1111" y="1043" width="7.4" height="7.4" fill="#ff2000"/>
<line x1="1147.9" y1="1019.9" x2="1147.9" y2="1031.5" stroke="#ff2000" stroke-width="2"/>
<line x1="1143.9" y1="1019.9" x2="1151.9" y2="1019.9" stroke="#ff2000" stroke-width="2"/>
<line x1="1143.9" y1="1031.5" x2="1151.9" y2="1031.5" stroke="#ff2000" stroke-width="2"/>
<rect x="1144.2" y="1022" width="7.4" height="7.4" fill="#ff2000"/>
<line x1="1172.7" y1="995.4" x2="1172.7" y2="1007.4" stroke="#ff2000" stroke-width="2"/>
<line x1="1168.7" y1="995.4" x2="1176.7" y2="995.4" stroke="#ff2000" stroke-width="2"/>
<line x1="1168.7" y1="1007.4" x2="1176.7" y2="1007.4" stroke="#ff2000" stroke-width="2"/>
<rect x="1169" y="997.7" width="7.4" height="7.4" fill="#ff2000"/>
<line x1="1205.9" y1="977.1" x2="1205.9" y2="987.9" stroke="#ff2000" stroke-width="2"/>
<line x1="1201.9" y1="977.1" x2="1209.9" y2="977.1" stroke="#ff2000" stroke-width="2"/>
<line x1="1201.9" y1="987.9" x2="1209.9" y2="987.9" stroke="#ff2000" stroke-width="2"/>
<rect x="1202.2" y="978.8" width="7.4" height="7.4" fill="#ff2000"/>
<line x1="1247.2" y1="968.4" x2="1247.2" y2="977.8" stroke="#ff2000" stroke-width="2"/>
<line x1="1243.2" y1="968.4" x2="1251.2" y2="968.4" stroke="#ff2000" stroke-width="2"/>
<line x1="1243.2" y1="977.8" x2="1251.2" y2="977.8" stroke="#ff2000" stroke-width="2"/>
<rect x="1243.5" y="969.4" width="7.4" height="7.4" fill="#ff2000"/>
<line x1="1329.6" y1="964.1" x2="1329.6" y2="973.9" stroke="#ff2000" stroke-width="2"/>
<line x1="1325.6" y1="964.1" x2="1333.6" y2="964.1" stroke="#ff2000" stroke-width="2"/>
<line x1="1325.6" y1="973.9" x2="1333.6" y2="973.9" stroke="#ff2000" stroke-width="2"/>
<rect x="1325.9" y="965.3" width="7.4" height="7.4" fill="#ff2000"/>
<line x1="1083.1" y1="1043.9" x2="1083.1" y2="1047.9" stroke="#000" stroke-width="2"/>
<line x1="1079.1" y1="1043.9" x2="1087.1" y2="1043.9" stroke="#000" stroke-width="2"/>
<line x1="1079.1" y1="1047.9" x2="1087.1" y2="1047.9" stroke="#000" stroke-width="2"/>
<circle cx="1083.1" cy="1045.9" r="3.4" fill="#000"/>
<line x1="1114.7" y1="1042" x2="1114.7" y2="1046" stroke="#000" stroke-width="2"/>
<line x1="1110.7" y1="1042" x2="1118.7" y2="1042" stroke="#000" stroke-width="2"/>
<line x1="1110.7" y1="1046" x2="1118.7" y2="1046" stroke="#000" stroke-width="2"/>
<circle cx="1114.7" cy="1044" r="3.4" fill="#000"/>
<line x1="1147.9" y1="1009.6" x2="1147.9" y2="1028.4" stroke="#000" stroke-width="2"/>
<line x1="1143.9" y1="1009.6" x2="1151.9" y2="1009.6" stroke="#000" stroke-width="2"/>
<line x1="1143.9" y1="1028.4" x2="1151.9" y2="1028.4" stroke="#000" stroke-width="2"/>
<circle cx="1147.9" cy="1019" r="3.4" fill="#000"/>
<line x1="1172.7" y1="980.4" x2="1172.7" y2="994.4" stroke="#000" stroke-width="2"/>
<line x1="1168.7" y1="980.4" x2="1176.7" y2="980.4" stroke="#000" stroke-width="2"/>
<line x1="1168.7" y1="994.4" x2="1176.7" y2="994.4" stroke="#000" stroke-width="2"/>
<circle cx="1172.7" cy="987.4" r="3.4" fill="#000"/>
<line x1="1205.9" y1="961.5" x2="1205.9" y2="972.3" stroke="#000" stroke-width="2"/>
<line x1="1201.9" y1="961.5" x2="1209.9" y2="961.5" stroke="#000" stroke-width="2"/>
<line x1="1201.9" y1="972.3" x2="1209.9" y2="972.3" stroke="#000" stroke-width="2"/>
<circle cx="1205.9" cy="966.9" r="3.4" fill="#000"/>
<line x1="1247.2" y1="951.5" x2="1247.2" y2="960.1" stroke="#000" stroke-width="2"/>
<line x1="1243.2" y1="951.5" x2="1251.2" y2="951.5" stroke="#000" stroke-width="2"/>
<line x1="1243.2" y1="960.1" x2="1251.2" y2="960.1" stroke="#000" stroke-width="2"/>
<circle cx="1247.2" cy="955.8" r="3.4" fill="#000"/>
<line x1="1329.6" y1="946.2" x2="1329.6" y2="955.2" stroke="#000" stroke-width="2"/>
<line x1="1325.6" y1="946.2" x2="1333.6" y2="946.2" stroke="#000" stroke-width="2"/>
<line x1="1325.6" y1="955.2" x2="1333.6" y2="955.2" stroke="#000" stroke-width="2"/>
<circle cx="1329.6" cy="950.7" r="3.4" fill="#000"/>
<line x1="1367" y1="923.1" x2="1386" y2="923.1" stroke="#000" stroke-width="1.5"/>
<circle cx="1376.5" cy="923.1" r="3.6" fill="#000"/>
<line x1="1367" y1="946" x2="1386" y2="946" stroke="#ff2000" stroke-width="1.5"/>
<rect x="1373.1" y="942.6" width="6.8" height="6.8" fill="#ff2000"/>
<text x="1394.9" y="928.4" font-size="13.4" stroke="#000" stroke-width="0.21">Ctrl</text>
<text x="1394.9" y="951.3" font-size="13.4" stroke="#000" stroke-width="0.21">KO</text>
<text x="1454.5" y="591.7" font-size="39.2" font-weight="bold" fill="#262626" textLength="35.3" lengthAdjust="spacingAndGlyphs" stroke="#262626" stroke-width="1.1" stroke-linejoin="round">E)</text>
<text x="1522.9" y="603.5" font-size="30.8" font-weight="bold" stroke="#262626" stroke-width="0.48" fill="#262626" textLength="66.2" lengthAdjust="spacingAndGlyphs">3 mo</text>
<line x1="1502.5" y1="624.4" x2="1502.5" y2="789.5" stroke="#000" stroke-width="2"/>
<line x1="1495.5" y1="789.5" x2="1611.4" y2="789.5" stroke="#000" stroke-width="2"/>
<line x1="1495.5" y1="789.5" x2="1502.5" y2="789.5" stroke="#000" stroke-width="2"/>
<text x="1492.2" y="793.9" font-size="12.4" font-weight="bold" stroke="#000" stroke-width="0.25" text-anchor="end">0</text>
<line x1="1495.5" y1="756.48" x2="1502.5" y2="756.48" stroke="#000" stroke-width="2"/>
<text x="1492.2" y="760.88" font-size="12.4" font-weight="bold" stroke="#000" stroke-width="0.25" text-anchor="end">10000</text>
<line x1="1495.5" y1="723.46" x2="1502.5" y2="723.46" stroke="#000" stroke-width="2"/>
<text x="1492.2" y="727.86" font-size="12.4" font-weight="bold" stroke="#000" stroke-width="0.25" text-anchor="end">20000</text>
<line x1="1495.5" y1="690.44" x2="1502.5" y2="690.44" stroke="#000" stroke-width="2"/>
<text x="1492.2" y="694.84" font-size="12.4" font-weight="bold" stroke="#000" stroke-width="0.25" text-anchor="end">30000</text>
<line x1="1495.5" y1="657.42" x2="1502.5" y2="657.42" stroke="#000" stroke-width="2"/>
<text x="1492.2" y="661.82" font-size="12.4" font-weight="bold" stroke="#000" stroke-width="0.25" text-anchor="end">40000</text>
<line x1="1495.5" y1="624.4" x2="1502.5" y2="624.4" stroke="#000" stroke-width="2"/>
<text x="1492.2" y="628.8" font-size="12.4" font-weight="bold" stroke="#000" stroke-width="0.25" text-anchor="end">50000</text>
<line x1="1533.4" y1="789.5" x2="1533.4" y2="796.5" stroke="#000" stroke-width="2"/>
<text x="1533.4" y="810.3" font-size="12.4" font-weight="bold" stroke="#000" stroke-width="0.25" text-anchor="middle">Ctrl</text>
<line x1="1580" y1="789.5" x2="1580" y2="796.5" stroke="#000" stroke-width="2"/>
<text x="1580" y="810.3" font-size="12.4" font-weight="bold" stroke="#000" stroke-width="0.25" text-anchor="middle">KO</text>
<text x="1445.1" y="704.2" font-size="12.4" font-weight="bold" stroke="#000" stroke-width="0.25" text-anchor="middle" textLength="119.8" lengthAdjust="spacingAndGlyphs" transform="rotate(-90 1445.1 704.2)">Tetanic Force (N/g)</text>
<text x="1556.8" y="632.5" font-size="13.3" stroke="#000" stroke-width="0.21" text-anchor="middle">p = 0.0456</text>
<polyline points="1533.4,650.7 1533.4,640.3 1580,640.3 1580,658.9" fill="none" stroke="#000" stroke-width="1.8" stroke-linejoin="round"/>
<path d="M1533.4,659.8C1533.6,660.9 1533.7,662.1 1534,663.2C1534.5,664.8 1539.6,666.3 1539.6,667.9C1539.6,669.1 1537.6,670.3 1537.6,671.5C1537.6,673.3 1547.1,675.2 1547.1,677C1547.1,679.4 1537.6,681.9 1537.6,684.3C1537.6,687.3 1539.1,690.3 1539.1,693.3C1539.1,695.1 1537.6,697 1537.6,698.8C1537.6,700.2 1546.2,701.5 1546.2,702.9C1546.2,704.8 1539.2,706.8 1536.6,708.7C1535.5,709.5 1534,710.3 1533.7,711.1C1533.5,711.7 1533.5,712.3 1533.4,712.9C1533.3,712.3 1533.3,711.7 1533.1,711.1C1532.8,710.3 1531.3,709.5 1530.2,708.7C1527.6,706.8 1520.6,704.8 1520.6,702.9C1520.6,701.5 1529.2,700.2 1529.2,698.8C1529.2,697 1527.7,695.1 1527.7,693.3C1527.7,690.3 1529.2,687.3 1529.2,684.3C1529.2,681.9 1519.7,679.4 1519.7,677C1519.7,675.2 1529.2,673.3 1529.2,671.5C1529.2,670.3 1527.2,669.1 1527.2,667.9C1527.2,666.3 1532.3,664.8 1532.8,663.2C1533.1,662.1 1533.2,660.9 1533.4,659.8Z" fill="#808080" stroke="#000" stroke-width="1.6" stroke-linejoin="round"/>
<line x1="1519.7" y1="677" x2="1547.1" y2="677" stroke="#000" stroke-width="0.8"/>
<line x1="1529.14" y1="685.4" x2="1537.66" y2="685.4" stroke="#000" stroke-width="1.6"/>
<line x1="1523.21" y1="701.4" x2="1543.59" y2="701.4" stroke="#000" stroke-width="0.8"/>
<circle cx="1533.4" cy="669" r="1.6" fill="#000"/>
<circle cx="1530.5" cy="677.2" r="1.6" fill="#000"/>
<circle cx="1537.6" cy="677" r="1.6" fill="#000"/>
<circle cx="1533.4" cy="684" r="1.6" fill="#000"/>
<circle cx="1533.4" cy="693.7" r="1.6" fill="#000"/>
<circle cx="1536" cy="701.4" r="1.6" fill="#000"/>
<circle cx="1530.5" cy="704.3" r="1.6" fill="#000"/>
<path d="M1580,667.6C1580.1,668.7 1580.2,669.8 1580.4,670.9C1580.7,672.4 1584.2,673.9 1584.2,675.4C1584.2,677.9 1582.7,680.5 1582.7,683C1582.7,684.6 1584.2,686.3 1584.2,687.9C1584.2,689.8 1582.2,691.6 1582.2,693.5C1582.2,695.9 1593.7,698.2 1593.7,700.6C1593.7,702.9 1584.2,705.2 1584.2,707.5C1584.2,710.6 1594.2,713.8 1594.2,716.9C1594.2,719.4 1586.7,722 1584.2,724.5C1582.7,726 1580.7,727.5 1580.4,729C1580.2,730.1 1580.1,731.2 1580,732.3C1579.9,731.2 1579.8,730.1 1579.6,729C1579.3,727.5 1577.3,726 1575.8,724.5C1573.3,722 1565.8,719.4 1565.8,716.9C1565.8,713.8 1575.8,710.6 1575.8,707.5C1575.8,705.2 1566.3,702.9 1566.3,700.6C1566.3,698.2 1577.8,695.9 1577.8,693.5C1577.8,691.6 1575.8,689.8 1575.8,687.9C1575.8,686.3 1577.3,684.6 1577.3,683C1577.3,680.5 1575.8,677.9 1575.8,675.4C1575.8,673.9 1579.3,672.4 1579.6,670.9C1579.8,669.8 1579.9,668.7 1580,667.6Z" fill="#ffc9c3" stroke="#ff2000" stroke-width="1.6" stroke-linejoin="round"/>
<line x1="1577.77" y1="693.7" x2="1582.23" y2="693.7" stroke="#000" stroke-width="0.8"/>
<line x1="1568.58" y1="702.8" x2="1591.42" y2="702.8" stroke="#000" stroke-width="1.6"/>
<line x1="1565.8" y1="716.9" x2="1594.2" y2="716.9" stroke="#000" stroke-width="0.8"/>
<rect x="1578.4" y="673.8" width="3.2" height="3.2" fill="#000"/>
<rect x="1578.4" y="682.5" width="3.2" height="3.2" fill="#000"/>
<rect x="1578.4" y="688.2" width="3.2" height="3.2" fill="#000"/>
<rect x="1578.4" y="694.4" width="3.2" height="3.2" fill="#000"/>
<rect x="1572" y="697.9" width="3.2" height="3.2" fill="#000"/>
<rect x="1584.7" y="699.4" width="3.2" height="3.2" fill="#000"/>
<rect x="1575.6" y="709.4" width="3.2" height="3.2" fill="#000"/>
<rect x="1581.9" y="711.9" width="3.2" height="3.2" fill="#000"/>
<rect x="1572" y="714.6" width="3.2" height="3.2" fill="#000"/>
<rect x="1584.7" y="715.8" width="3.2" height="3.2" fill="#000"/>
<rect x="1578.4" y="719" width="3.2" height="3.2" fill="#000"/>
<rect x="1578.4" y="726.1" width="3.2" height="3.2" fill="#000"/>
<text x="1521.6" y="872.1" font-size="30.8" font-weight="bold" stroke="#262626" stroke-width="0.48" fill="#262626" textLength="80.4" lengthAdjust="spacingAndGlyphs">18 mo</text>
<line x1="1509.8" y1="913.1" x2="1509.8" y2="1077.1" stroke="#000" stroke-width="2"/>
<line x1="1502.8" y1="1077.1" x2="1618.7" y2="1077.1" stroke="#000" stroke-width="2"/>
<line x1="1502.8" y1="1077.1" x2="1509.8" y2="1077.1" stroke="#000" stroke-width="2"/>
<text x="1499.8" y="1081.5" font-size="12.4" font-weight="bold" stroke="#000" stroke-width="0.25" text-anchor="end">0</text>
<line x1="1502.8" y1="1044.3" x2="1509.8" y2="1044.3" stroke="#000" stroke-width="2"/>
<text x="1499.8" y="1048.7" font-size="12.4" font-weight="bold" stroke="#000" stroke-width="0.25" text-anchor="end">10000</text>
<line x1="1502.8" y1="1011.5" x2="1509.8" y2="1011.5" stroke="#000" stroke-width="2"/>
<text x="1499.8" y="1015.9" font-size="12.4" font-weight="bold" stroke="#000" stroke-width="0.25" text-anchor="end">20000</text>
<line x1="1502.8" y1="978.7" x2="1509.8" y2="978.7" stroke="#000" stroke-width="2"/>
<text x="1499.8" y="983.1" font-size="12.4" font-weight="bold" stroke="#000" stroke-width="0.25" text-anchor="end">30000</text>
<line x1="1502.8" y1="945.9" x2="1509.8" y2="945.9" stroke="#000" stroke-width="2"/>
<text x="1499.8" y="950.3" font-size="12.4" font-weight="bold" stroke="#000" stroke-width="0.25" text-anchor="end">40000</text>
<line x1="1502.8" y1="913.1" x2="1509.8" y2="913.1" stroke="#000" stroke-width="2"/>
<text x="1499.8" y="917.5" font-size="12.4" font-weight="bold" stroke="#000" stroke-width="0.25" text-anchor="end">50000</text>
<line x1="1540.6" y1="1077.1" x2="1540.6" y2="1084.1" stroke="#000" stroke-width="2"/>
<text x="1540.6" y="1097.9" font-size="12.4" font-weight="bold" stroke="#000" stroke-width="0.25" text-anchor="middle">Ctrl</text>
<line x1="1587.8" y1="1077.1" x2="1587.8" y2="1084.1" stroke="#000" stroke-width="2"/>
<text x="1587.8" y="1097.9" font-size="12.4" font-weight="bold" stroke="#000" stroke-width="0.25" text-anchor="middle">KO</text>
<text x="1451.5" y="992.4" font-size="12.4" font-weight="bold" stroke="#000" stroke-width="0.25" text-anchor="middle" textLength="115" lengthAdjust="spacingAndGlyphs" transform="rotate(-90 1451.5 992.4)">Tetanic force (N/g)</text>
<text x="1564.2" y="908.9" font-size="13.3" stroke="#000" stroke-width="0.21" text-anchor="middle">p = 0.0185</text>
<polyline points="1540.6,928 1540.6,917.1 1587.8,917.1 1587.8,942.1" fill="none" stroke="#000" stroke-width="1.8" stroke-linejoin="round"/>
<path d="M1540.6,936.1C1540.8,937.1 1540.9,938.1 1541.3,939.2C1541.9,940.6 1545.9,942 1547.8,943.4C1550.6,945.5 1555.2,947.6 1555.2,949.7C1555.2,952.1 1543.8,954.6 1543.8,957C1543.8,959.4 1554.3,961.9 1554.3,964.3C1554.3,966.1 1550.2,967.9 1547.8,969.7C1545.8,971.2 1541.9,972.6 1541.3,974.1C1540.9,975.2 1540.8,976.2 1540.6,977.3C1540.4,976.2 1540.3,975.2 1539.9,974.1C1539.3,972.6 1535.4,971.2 1533.4,969.7C1531,967.9 1526.9,966.1 1526.9,964.3C1526.9,961.9 1537.4,959.4 1537.4,957C1537.4,954.6 1526,952.1 1526,949.7C1526,947.6 1530.6,945.5 1533.4,943.4C1535.3,942 1539.3,940.6 1539.9,939.2C1540.3,938.1 1540.4,937.1 1540.6,936.1Z" fill="#808080" stroke="#000" stroke-width="1.6" stroke-linejoin="round"/>
<line x1="1526" y1="949.7" x2="1555.2" y2="949.7" stroke="#000" stroke-width="0.8"/>
<line x1="1537.4" y1="957" x2="1543.8" y2="957" stroke="#000" stroke-width="1.6"/>
<line x1="1526.9" y1="964.3" x2="1554.3" y2="964.3" stroke="#000" stroke-width="0.8"/>
<circle cx="1540.6" cy="943.5" r="1.6" fill="#000"/>
<circle cx="1537.8" cy="950" r="1.6" fill="#000"/>
<circle cx="1543.4" cy="950.5" r="1.6" fill="#000"/>
<circle cx="1538.5" cy="963.5" r="1.6" fill="#000"/>
<circle cx="1543.5" cy="964.8" r="1.6" fill="#000"/>
<circle cx="1540.6" cy="970.5" r="1.6" fill="#000"/>
<path d="M1587.8,950.6C1588.2,951.9 1588.4,953.3 1589.1,954.6C1590.2,956.4 1601.2,958.3 1601.2,960.1C1601.2,963 1589,965.9 1589,968.8C1589,972.2 1602,975.7 1602,979.1C1602,982 1589,984.9 1589,987.8C1589,990.7 1593,993.5 1593,996.4C1593,998.1 1588.7,999.8 1588.3,1001.4C1588,1002.7 1588,1003.9 1587.8,1005.1C1587.6,1003.9 1587.6,1002.7 1587.3,1001.4C1586.9,999.8 1582.6,998.1 1582.6,996.4C1582.6,993.5 1586.6,990.7 1586.6,987.8C1586.6,984.9 1573.6,982 1573.6,979.1C1573.6,975.7 1586.6,972.2 1586.6,968.8C1586.6,965.9 1574.4,963 1574.4,960.1C1574.4,958.3 1585.4,956.4 1586.5,954.6C1587.2,953.3 1587.4,951.9 1587.8,950.6Z" fill="#ffc9c3" stroke="#ff2000" stroke-width="1.6" stroke-linejoin="round"/>
<line x1="1574.4" y1="960.1" x2="1601.2" y2="960.1" stroke="#000" stroke-width="1.6"/>
<line x1="1573.6" y1="979.1" x2="1602" y2="979.1" stroke="#000" stroke-width="1.6"/>
<line x1="1576.02" y1="981.5" x2="1599.58" y2="981.5" stroke="#000" stroke-width="0.8"/>
<rect x="1579.6" y="957.9" width="3.2" height="3.2" fill="#000"/>
<rect x="1586.2" y="958.9" width="3.2" height="3.2" fill="#000"/>
<rect x="1592.7" y="958.5" width="3.2" height="3.2" fill="#000"/>
<rect x="1579.6" y="977.5" width="3.2" height="3.2" fill="#000"/>
<rect x="1586.2" y="975.9" width="3.2" height="3.2" fill="#000"/>
<rect x="1586.2" y="979.6" width="3.2" height="3.2" fill="#000"/>
<rect x="1592.7" y="977.8" width="3.2" height="3.2" fill="#000"/>
<rect x="1586.2" y="994.8" width="3.2" height="3.2" fill="#000"/>
<text x="0" y="1308.4" font-size="41.5" font-weight="bold" fill="#262626" textLength="34.7" lengthAdjust="spacingAndGlyphs" stroke="#262626" stroke-width="1.1" stroke-linejoin="round">F)</text>
<text x="196.6" y="1307.3" font-size="30.8" font-weight="bold" stroke="#262626" stroke-width="0.48" fill="#262626" textLength="67.1" lengthAdjust="spacingAndGlyphs">3 mo</text>
<line x1="90.8" y1="1344" x2="90.8" y2="1597.8" stroke="#000" stroke-width="2.5"/>
<line x1="81.5" y1="1597.8" x2="580" y2="1597.8" stroke="#000" stroke-width="2.5"/>
<line x1="81.5" y1="1597.8" x2="90.5" y2="1597.8" stroke="#000" stroke-width="2.5"/>
<text x="77.2" y="1602.6" font-size="13.6" font-weight="bold" stroke="#000" stroke-width="0.27" text-anchor="end">0</text>
<line x1="81.5" y1="1513.2" x2="90.5" y2="1513.2" stroke="#000" stroke-width="2.5"/>
<text x="77.2" y="1518" font-size="13.6" font-weight="bold" stroke="#000" stroke-width="0.27" text-anchor="end">5</text>
<line x1="81.5" y1="1428.6" x2="90.5" y2="1428.6" stroke="#000" stroke-width="2.5"/>
<text x="77.2" y="1433.4" font-size="13.6" font-weight="bold" stroke="#000" stroke-width="0.27" text-anchor="end">10</text>
<line x1="81.5" y1="1344" x2="90.5" y2="1344" stroke="#000" stroke-width="2.5"/>
<text x="77.2" y="1348.8" font-size="13.6" font-weight="bold" stroke="#000" stroke-width="0.27" text-anchor="end">15</text>
<line x1="90.5" y1="1597.8" x2="90.5" y2="1606.8" stroke="#000" stroke-width="2.5"/>
<text x="90.5" y="1624" font-size="13.6" font-weight="bold" stroke="#000" stroke-width="0.27" text-anchor="middle">0</text>
<line x1="130.93" y1="1597.8" x2="130.93" y2="1606.8" stroke="#000" stroke-width="2.5"/>
<text x="130.93" y="1624" font-size="13.6" font-weight="bold" stroke="#000" stroke-width="0.27" text-anchor="middle">500</text>
<line x1="171.35" y1="1597.8" x2="171.35" y2="1606.8" stroke="#000" stroke-width="2.5"/>
<text x="171.35" y="1624" font-size="13.6" font-weight="bold" stroke="#000" stroke-width="0.27" text-anchor="middle">1000</text>
<line x1="211.78" y1="1597.8" x2="211.78" y2="1606.8" stroke="#000" stroke-width="2.5"/>
<text x="211.78" y="1624" font-size="13.6" font-weight="bold" stroke="#000" stroke-width="0.27" text-anchor="middle">1500</text>
<line x1="252.2" y1="1597.8" x2="252.2" y2="1606.8" stroke="#000" stroke-width="2.5"/>
<text x="252.2" y="1624" font-size="13.6" font-weight="bold" stroke="#000" stroke-width="0.27" text-anchor="middle">2000</text>
<line x1="292.62" y1="1597.8" x2="292.62" y2="1606.8" stroke="#000" stroke-width="2.5"/>
<text x="292.62" y="1624" font-size="13.6" font-weight="bold" stroke="#000" stroke-width="0.27" text-anchor="middle">2500</text>
<line x1="333.05" y1="1597.8" x2="333.05" y2="1606.8" stroke="#000" stroke-width="2.5"/>
<text x="333.05" y="1624" font-size="13.6" font-weight="bold" stroke="#000" stroke-width="0.27" text-anchor="middle">3000</text>
<line x1="373.48" y1="1597.8" x2="373.48" y2="1606.8" stroke="#000" stroke-width="2.5"/>
<text x="373.48" y="1624" font-size="13.6" font-weight="bold" stroke="#000" stroke-width="0.27" text-anchor="middle">3500</text>
<line x1="413.9" y1="1597.8" x2="413.9" y2="1606.8" stroke="#000" stroke-width="2.5"/>
<text x="413.9" y="1624" font-size="13.6" font-weight="bold" stroke="#000" stroke-width="0.27" text-anchor="middle">4000</text>
<line x1="454.33" y1="1597.8" x2="454.33" y2="1606.8" stroke="#000" stroke-width="2.5"/>
<text x="454.33" y="1624" font-size="13.6" font-weight="bold" stroke="#000" stroke-width="0.27" text-anchor="middle">4500</text>
<line x1="494.75" y1="1597.8" x2="494.75" y2="1606.8" stroke="#000" stroke-width="2.5"/>
<text x="494.75" y="1624" font-size="13.6" font-weight="bold" stroke="#000" stroke-width="0.27" text-anchor="middle">5000</text>
<line x1="535.17" y1="1597.8" x2="535.17" y2="1606.8" stroke="#000" stroke-width="2.5"/>
<text x="535.17" y="1624" font-size="13.6" font-weight="bold" stroke="#000" stroke-width="0.27" text-anchor="middle">5500</text>
<line x1="575.6" y1="1597.8" x2="575.6" y2="1606.8" stroke="#000" stroke-width="2.5"/>
<text x="575.6" y="1624" font-size="13.6" font-weight="bold" stroke="#000" stroke-width="0.27" text-anchor="middle">6000</text>
<text x="251.6" y="1649.3" font-size="16.15" font-weight="bold" stroke="#000" stroke-width="0.32" textLength="163.4" lengthAdjust="spacingAndGlyphs">Cross-Sectional Area</text>
<text x="52.3" y="1474" font-size="17.86" font-weight="bold" stroke="#000" stroke-width="0.36" text-anchor="middle" textLength="124" lengthAdjust="spacingAndGlyphs" transform="rotate(-90 52.3 1474)">% of total fiber</text>
<rect x="108.3" y="1552.12" width="4.6" height="45.68" fill="#c4c4c4" stroke="#000" stroke-width="1"/>
<line x1="110.6" y1="1552.12" x2="110.6" y2="1545.43" stroke="#000" stroke-width="1"/>
<line x1="108.8" y1="1545.43" x2="112.4" y2="1545.43" stroke="#000" stroke-width="1"/>
<rect x="115.5" y="1558.04" width="4.6" height="39.76" fill="#ff6a6a" stroke="#ff1f1f" stroke-width="1"/>
<line x1="117.8" y1="1558.04" x2="117.8" y2="1549.81" stroke="#000" stroke-width="1"/>
<line x1="116" y1="1549.81" x2="119.6" y2="1549.81" stroke="#000" stroke-width="1"/>
<rect x="128.35" y="1573.27" width="4.6" height="24.53" fill="#c4c4c4" stroke="#000" stroke-width="1"/>
<line x1="130.65" y1="1573.27" x2="130.65" y2="1568.96" stroke="#000" stroke-width="1"/>
<line x1="128.85" y1="1568.96" x2="132.45" y2="1568.96" stroke="#000" stroke-width="1"/>
<rect x="135.55" y="1584.26" width="4.6" height="13.54" fill="#ff6a6a" stroke="#ff1f1f" stroke-width="1"/>
<line x1="137.85" y1="1584.26" x2="137.85" y2="1580.98" stroke="#000" stroke-width="1"/>
<line x1="136.05" y1="1580.98" x2="139.65" y2="1580.98" stroke="#000" stroke-width="1"/>
<rect x="148.4" y="1567.34" width="4.6" height="30.46" fill="#c4c4c4" stroke="#000" stroke-width="1"/>
<line x1="150.7" y1="1567.34" x2="150.7" y2="1557.36" stroke="#000" stroke-width="1"/>
<line x1="148.9" y1="1557.36" x2="152.5" y2="1557.36" stroke="#000" stroke-width="1"/>
<rect x="155.6" y="1573.77" width="4.6" height="24.03" fill="#ff6a6a" stroke="#ff1f1f" stroke-width="1"/>
<line x1="157.9" y1="1573.77" x2="157.9" y2="1566.93" stroke="#000" stroke-width="1"/>
<line x1="156.1" y1="1566.93" x2="159.7" y2="1566.93" stroke="#000" stroke-width="1"/>
<rect x="168.45" y="1521.66" width="4.6" height="76.14" fill="#c4c4c4" stroke="#000" stroke-width="1"/>
<line x1="170.75" y1="1521.66" x2="170.75" y2="1509.95" stroke="#000" stroke-width="1"/>
<line x1="168.95" y1="1509.95" x2="172.55" y2="1509.95" stroke="#000" stroke-width="1"/>
<rect x="175.65" y="1516.58" width="4.6" height="81.22" fill="#ff6a6a" stroke="#ff1f1f" stroke-width="1"/>
<line x1="177.95" y1="1516.58" x2="177.95" y2="1503.71" stroke="#000" stroke-width="1"/>
<line x1="176.15" y1="1503.71" x2="179.75" y2="1503.71" stroke="#000" stroke-width="1"/>
<rect x="188.5" y="1449.75" width="4.6" height="148.05" fill="#c4c4c4" stroke="#000" stroke-width="1"/>
<line x1="190.8" y1="1449.75" x2="190.8" y2="1434.26" stroke="#000" stroke-width="1"/>
<line x1="189" y1="1434.26" x2="192.6" y2="1434.26" stroke="#000" stroke-width="1"/>
<rect x="195.7" y="1424.03" width="4.6" height="173.77" fill="#ff6a6a" stroke="#ff1f1f" stroke-width="1"/>
<line x1="198" y1="1424.03" x2="198" y2="1402.07" stroke="#000" stroke-width="1"/>
<line x1="196.2" y1="1402.07" x2="199.8" y2="1402.07" stroke="#000" stroke-width="1"/>
<rect x="208.55" y="1451.27" width="4.6" height="146.53" fill="#c4c4c4" stroke="#000" stroke-width="1"/>
<line x1="210.85" y1="1451.27" x2="210.85" y2="1427.91" stroke="#000" stroke-width="1"/>
<line x1="209.05" y1="1427.91" x2="212.65" y2="1427.91" stroke="#000" stroke-width="1"/>
<rect x="215.75" y="1435.88" width="4.6" height="161.92" fill="#ff6a6a" stroke="#ff1f1f" stroke-width="1"/>
<line x1="218.05" y1="1435.88" x2="218.05" y2="1409.96" stroke="#000" stroke-width="1"/>
<line x1="216.25" y1="1409.96" x2="219.85" y2="1409.96" stroke="#000" stroke-width="1"/>
<rect x="228.6" y="1460.75" width="4.6" height="137.05" fill="#c4c4c4" stroke="#000" stroke-width="1"/>
<line x1="230.9" y1="1460.75" x2="230.9" y2="1445.06" stroke="#000" stroke-width="1"/>
<line x1="229.1" y1="1445.06" x2="232.7" y2="1445.06" stroke="#000" stroke-width="1"/>
<rect x="235.8" y="1465.32" width="4.6" height="132.48" fill="#ff6a6a" stroke="#ff1f1f" stroke-width="1"/>
<line x1="238.1" y1="1465.32" x2="238.1" y2="1447.6" stroke="#000" stroke-width="1"/>
<line x1="236.3" y1="1447.6" x2="239.9" y2="1447.6" stroke="#000" stroke-width="1"/>
<rect x="248.65" y="1481.05" width="4.6" height="116.75" fill="#c4c4c4" stroke="#000" stroke-width="1"/>
<line x1="250.95" y1="1481.05" x2="250.95" y2="1461.5" stroke="#000" stroke-width="1"/>
<line x1="249.15" y1="1461.5" x2="252.75" y2="1461.5" stroke="#000" stroke-width="1"/>
<rect x="255.85" y="1478.01" width="4.6" height="119.79" fill="#ff6a6a" stroke="#ff1f1f" stroke-width="1"/>
<line x1="258.15" y1="1478.01" x2="258.15" y2="1460.93" stroke="#000" stroke-width="1"/>
<line x1="256.35" y1="1460.93" x2="259.95" y2="1460.93" stroke="#000" stroke-width="1"/>
<rect x="268.7" y="1487.82" width="4.6" height="109.98" fill="#c4c4c4" stroke="#000" stroke-width="1"/>
<line x1="271" y1="1487.82" x2="271" y2="1472.85" stroke="#000" stroke-width="1"/>
<line x1="269.2" y1="1472.85" x2="272.8" y2="1472.85" stroke="#000" stroke-width="1"/>
<rect x="275.9" y="1494.59" width="4.6" height="103.21" fill="#ff6a6a" stroke="#ff1f1f" stroke-width="1"/>
<line x1="278.2" y1="1494.59" x2="278.2" y2="1480.7" stroke="#000" stroke-width="1"/>
<line x1="276.4" y1="1480.7" x2="280" y2="1480.7" stroke="#000" stroke-width="1"/>
<rect x="288.75" y="1485.11" width="4.6" height="112.69" fill="#c4c4c4" stroke="#000" stroke-width="1"/>
<line x1="291.05" y1="1485.11" x2="291.05" y2="1467.01" stroke="#000" stroke-width="1"/>
<line x1="289.25" y1="1467.01" x2="292.85" y2="1467.01" stroke="#000" stroke-width="1"/>
<rect x="295.95" y="1510.15" width="4.6" height="87.65" fill="#ff6a6a" stroke="#ff1f1f" stroke-width="1"/>
<line x1="298.25" y1="1510.15" x2="298.25" y2="1499.79" stroke="#000" stroke-width="1"/>
<line x1="296.45" y1="1499.79" x2="300.05" y2="1499.79" stroke="#000" stroke-width="1"/>
<rect x="308.8" y="1489" width="4.6" height="108.8" fill="#c4c4c4" stroke="#000" stroke-width="1"/>
<line x1="311.1" y1="1489" x2="311.1" y2="1473.06" stroke="#000" stroke-width="1"/>
<line x1="309.3" y1="1473.06" x2="312.9" y2="1473.06" stroke="#000" stroke-width="1"/>
<rect x="316" y="1506.43" width="4.6" height="91.37" fill="#ff6a6a" stroke="#ff1f1f" stroke-width="1"/>
<line x1="318.3" y1="1506.43" x2="318.3" y2="1488.09" stroke="#000" stroke-width="1"/>
<line x1="316.5" y1="1488.09" x2="320.1" y2="1488.09" stroke="#000" stroke-width="1"/>
<rect x="328.85" y="1496.28" width="4.6" height="101.52" fill="#c4c4c4" stroke="#000" stroke-width="1"/>
<line x1="331.15" y1="1496.28" x2="331.15" y2="1480.93" stroke="#000" stroke-width="1"/>
<line x1="329.35" y1="1480.93" x2="332.95" y2="1480.93" stroke="#000" stroke-width="1"/>
<rect x="336.05" y="1504.23" width="4.6" height="93.57" fill="#ff6a6a" stroke="#ff1f1f" stroke-width="1"/>
<line x1="338.35" y1="1504.23" x2="338.35" y2="1486.94" stroke="#000" stroke-width="1"/>
<line x1="336.55" y1="1486.94" x2="340.15" y2="1486.94" stroke="#000" stroke-width="1"/>
<rect x="348.9" y="1495.6" width="4.6" height="102.2" fill="#c4c4c4" stroke="#000" stroke-width="1"/>
<line x1="351.2" y1="1495.6" x2="351.2" y2="1476.84" stroke="#000" stroke-width="1"/>
<line x1="349.4" y1="1476.84" x2="353" y2="1476.84" stroke="#000" stroke-width="1"/>
<rect x="356.1" y="1502.71" width="4.6" height="95.09" fill="#ff6a6a" stroke="#ff1f1f" stroke-width="1"/>
<line x1="358.4" y1="1502.71" x2="358.4" y2="1490.01" stroke="#000" stroke-width="1"/>
<line x1="356.6" y1="1490.01" x2="360.2" y2="1490.01" stroke="#000" stroke-width="1"/>
<rect x="368.95" y="1499.16" width="4.6" height="98.64" fill="#c4c4c4" stroke="#000" stroke-width="1"/>
<line x1="371.25" y1="1499.16" x2="371.25" y2="1483.71" stroke="#000" stroke-width="1"/>
<line x1="369.45" y1="1483.71" x2="373.05" y2="1483.71" stroke="#000" stroke-width="1"/>
<rect x="376.15" y="1500.34" width="4.6" height="97.46" fill="#ff6a6a" stroke="#ff1f1f" stroke-width="1"/>
<line x1="378.45" y1="1500.34" x2="378.45" y2="1482.4" stroke="#000" stroke-width="1"/>
<line x1="376.65" y1="1482.4" x2="380.25" y2="1482.4" stroke="#000" stroke-width="1"/>
<rect x="389" y="1511.34" width="4.6" height="86.46" fill="#c4c4c4" stroke="#000" stroke-width="1"/>
<line x1="391.3" y1="1511.34" x2="391.3" y2="1496.72" stroke="#000" stroke-width="1"/>
<line x1="389.5" y1="1496.72" x2="393.1" y2="1496.72" stroke="#000" stroke-width="1"/>
<rect x="396.2" y="1501.36" width="4.6" height="96.44" fill="#ff6a6a" stroke="#ff1f1f" stroke-width="1"/>
<line x1="398.5" y1="1501.36" x2="398.5" y2="1489.28" stroke="#000" stroke-width="1"/>
<line x1="396.7" y1="1489.28" x2="400.3" y2="1489.28" stroke="#000" stroke-width="1"/>
<rect x="409.05" y="1534.18" width="4.6" height="63.62" fill="#c4c4c4" stroke="#000" stroke-width="1"/>
<line x1="411.35" y1="1534.18" x2="411.35" y2="1525.59" stroke="#000" stroke-width="1"/>
<line x1="409.55" y1="1525.59" x2="413.15" y2="1525.59" stroke="#000" stroke-width="1"/>
<rect x="416.25" y="1523.18" width="4.6" height="74.62" fill="#ff6a6a" stroke="#ff1f1f" stroke-width="1"/>
<line x1="418.55" y1="1523.18" x2="418.55" y2="1508.11" stroke="#000" stroke-width="1"/>
<line x1="416.75" y1="1508.11" x2="420.35" y2="1508.11" stroke="#000" stroke-width="1"/>
<rect x="429.1" y="1549.07" width="4.6" height="48.73" fill="#c4c4c4" stroke="#000" stroke-width="1"/>
<line x1="431.4" y1="1549.07" x2="431.4" y2="1539.18" stroke="#000" stroke-width="1"/>
<line x1="429.6" y1="1539.18" x2="433.2" y2="1539.18" stroke="#000" stroke-width="1"/>
<rect x="436.3" y="1541.96" width="4.6" height="55.84" fill="#ff6a6a" stroke="#ff1f1f" stroke-width="1"/>
<line x1="438.6" y1="1541.96" x2="438.6" y2="1530.49" stroke="#000" stroke-width="1"/>
<line x1="436.8" y1="1530.49" x2="440.4" y2="1530.49" stroke="#000" stroke-width="1"/>
<rect x="449.15" y="1564.81" width="4.6" height="32.99" fill="#c4c4c4" stroke="#000" stroke-width="1"/>
<line x1="451.45" y1="1564.81" x2="451.45" y2="1554.83" stroke="#000" stroke-width="1"/>
<line x1="449.65" y1="1554.83" x2="453.25" y2="1554.83" stroke="#000" stroke-width="1"/>
<rect x="456.35" y="1555.33" width="4.6" height="42.47" fill="#ff6a6a" stroke="#ff1f1f" stroke-width="1"/>
<line x1="458.65" y1="1555.33" x2="458.65" y2="1547.03" stroke="#000" stroke-width="1"/>
<line x1="456.85" y1="1547.03" x2="460.45" y2="1547.03" stroke="#000" stroke-width="1"/>
<rect x="469.2" y="1576.99" width="4.6" height="20.81" fill="#c4c4c4" stroke="#000" stroke-width="1"/>
<line x1="471.5" y1="1576.99" x2="471.5" y2="1572.32" stroke="#000" stroke-width="1"/>
<line x1="469.7" y1="1572.32" x2="473.3" y2="1572.32" stroke="#000" stroke-width="1"/>
<rect x="476.4" y="1568.7" width="4.6" height="29.1" fill="#ff6a6a" stroke="#ff1f1f" stroke-width="1"/>
<line x1="478.7" y1="1568.7" x2="478.7" y2="1562.26" stroke="#000" stroke-width="1"/>
<line x1="476.9" y1="1562.26" x2="480.5" y2="1562.26" stroke="#000" stroke-width="1"/>
<rect x="489.25" y="1582.06" width="4.6" height="15.74" fill="#c4c4c4" stroke="#000" stroke-width="1"/>
<line x1="491.55" y1="1582.06" x2="491.55" y2="1576.57" stroke="#000" stroke-width="1"/>
<line x1="489.75" y1="1576.57" x2="493.35" y2="1576.57" stroke="#000" stroke-width="1"/>
<rect x="496.45" y="1585.28" width="4.6" height="12.52" fill="#ff6a6a" stroke="#ff1f1f" stroke-width="1"/>
<line x1="498.75" y1="1585.28" x2="498.75" y2="1580.89" stroke="#000" stroke-width="1"/>
<line x1="496.95" y1="1580.89" x2="500.55" y2="1580.89" stroke="#000" stroke-width="1"/>
<rect x="509.3" y="1591.37" width="4.6" height="6.43" fill="#c4c4c4" stroke="#000" stroke-width="1"/>
<line x1="511.6" y1="1591.37" x2="511.6" y2="1587.81" stroke="#000" stroke-width="1"/>
<line x1="509.8" y1="1587.81" x2="513.4" y2="1587.81" stroke="#000" stroke-width="1"/>
<rect x="516.5" y="1587.65" width="4.6" height="10.15" fill="#ff6a6a" stroke="#ff1f1f" stroke-width="1"/>
<line x1="518.8" y1="1587.65" x2="518.8" y2="1582.28" stroke="#000" stroke-width="1"/>
<line x1="517" y1="1582.28" x2="520.6" y2="1582.28" stroke="#000" stroke-width="1"/>
<rect x="529.35" y="1593.74" width="4.6" height="4.06" fill="#c4c4c4" stroke="#000" stroke-width="1"/>
<line x1="531.65" y1="1593.74" x2="531.65" y2="1590.52" stroke="#000" stroke-width="1"/>
<line x1="529.85" y1="1590.52" x2="533.45" y2="1590.52" stroke="#000" stroke-width="1"/>
<rect x="536.55" y="1593.06" width="4.6" height="4.74" fill="#ff6a6a" stroke="#ff1f1f" stroke-width="1"/>
<line x1="538.85" y1="1593.06" x2="538.85" y2="1588.56" stroke="#000" stroke-width="1"/>
<line x1="537.05" y1="1588.56" x2="540.65" y2="1588.56" stroke="#000" stroke-width="1"/>
<rect x="549.4" y="1594.59" width="4.6" height="3.21" fill="#c4c4c4" stroke="#000" stroke-width="1"/>
<line x1="551.7" y1="1594.59" x2="551.7" y2="1590.69" stroke="#000" stroke-width="1"/>
<line x1="549.9" y1="1590.69" x2="553.5" y2="1590.69" stroke="#000" stroke-width="1"/>
<rect x="556.6" y="1594.59" width="4.6" height="3.21" fill="#ff6a6a" stroke="#ff1f1f" stroke-width="1"/>
<line x1="558.9" y1="1594.59" x2="558.9" y2="1591.8" stroke="#000" stroke-width="1"/>
<line x1="557.1" y1="1591.8" x2="560.7" y2="1591.8" stroke="#000" stroke-width="1"/>
<rect x="569.45" y="1595.43" width="4.6" height="2.37" fill="#c4c4c4" stroke="#000" stroke-width="1"/>
<line x1="571.75" y1="1595.43" x2="571.75" y2="1591.9" stroke="#000" stroke-width="1"/>
<line x1="569.95" y1="1591.9" x2="573.55" y2="1591.9" stroke="#000" stroke-width="1"/>
<rect x="576.65" y="1595.43" width="4.6" height="2.37" fill="#ff6a6a" stroke="#ff1f1f" stroke-width="1"/>
<line x1="578.95" y1="1595.43" x2="578.95" y2="1591.74" stroke="#000" stroke-width="1"/>
<line x1="577.15" y1="1591.74" x2="580.75" y2="1591.74" stroke="#000" stroke-width="1"/>
<path d="M110.9,1575.4C114.2,1571.7 123.9,1560.8 130.5,1553.4C137.1,1546 143.8,1538.3 150.5,1531C157.2,1523.7 163.8,1516 170.5,1509.5C177.2,1503 183.8,1497.2 190.5,1492C197.2,1486.8 203.9,1481.6 210.5,1478.1C217.1,1474.6 225,1472.7 230.2,1471C235.4,1469.3 236,1468.8 241.9,1467.9C247.8,1467 257.6,1465.4 265.5,1465.5C273.4,1465.6 281.1,1467.1 289,1468.7C296.9,1470.3 304.9,1472.4 312.6,1475C320.3,1477.6 326.9,1480.3 335,1484.4C343.1,1488.5 351.8,1494.2 361.4,1499.6C371,1505 382.3,1510.9 392.8,1516.9C403.3,1522.9 413.8,1528.6 424.2,1535.7C434.6,1542.8 445.1,1552.2 455.5,1559.3C465.9,1566.4 476.4,1573.3 486.9,1578.1C497.4,1582.9 507.8,1585.5 518.3,1588.3C528.8,1591 540.5,1593.1 549.7,1594.6C558.9,1596 569.4,1596.6 573.3,1597" fill="none" stroke="#000" stroke-width="2" stroke-linejoin="round" stroke-linecap="round"/>
<path d="M110.9,1592.7C114.2,1585.4 123.8,1561 130.5,1548.7C137.2,1536.4 144.2,1527.4 150.9,1518.9C157.6,1510.4 163.2,1503.7 170.5,1497.7C177.8,1491.7 188.2,1486.5 194.9,1482.8C201.6,1479.1 202.7,1477.6 210.5,1475.7C218.3,1473.8 234.1,1472 241.9,1471.5C249.8,1471 249.8,1471.5 257.6,1472.6C265.5,1473.7 276.1,1474.4 289,1478.1C301.9,1481.8 322.9,1490.5 335,1494.6C347.1,1498.7 351.8,1498.8 361.4,1502.8C371,1506.8 382.3,1512.8 392.8,1518.5C403.3,1524.2 413.8,1531.3 424.2,1537.3C434.6,1543.3 445.1,1548.8 455.5,1554.6C465.9,1560.3 477.7,1566.8 486.9,1571.8C496.1,1576.8 502.6,1581 510.5,1584.4C518.4,1587.8 526.1,1590.2 534,1592.2C541.9,1594.2 550.8,1595.3 557.6,1596.2C564.4,1597.1 571.9,1597.2 574.8,1597.4" fill="none" stroke="#ff0000" stroke-width="2" stroke-linejoin="round" stroke-linecap="round"/>
<circle cx="110.95" cy="1536.21" r="2.1" fill="#000"/>
<circle cx="110.86" cy="1542.3" r="2.1" fill="#000"/>
<circle cx="110.36" cy="1562.78" r="2.1" fill="#000"/>
<circle cx="110.6" cy="1565.14" r="2.1" fill="#000"/>
<rect x="115.95" y="1545.72" width="4" height="4" fill="#000"/>
<rect x="116.09" y="1552.82" width="4" height="4" fill="#000"/>
<rect x="115.39" y="1568.56" width="4" height="4" fill="#000"/>
<circle cx="130.99" cy="1565.14" r="2.1" fill="#000"/>
<circle cx="130.58" cy="1586.29" r="2.1" fill="#000"/>
<circle cx="130.91" cy="1587.82" r="2.1" fill="#000"/>
<rect x="135.8" y="1572.45" width="4" height="4" fill="#000"/>
<rect x="136.07" y="1585.82" width="4" height="4" fill="#000"/>
<rect x="135.58" y="1588.19" width="4" height="4" fill="#000"/>
<circle cx="151.1" cy="1547.04" r="2.1" fill="#000"/>
<circle cx="150.23" cy="1570.56" r="2.1" fill="#000"/>
<circle cx="150.23" cy="1583.93" r="2.1" fill="#000"/>
<rect x="156.34" y="1569.4" width="4" height="4" fill="#000"/>
<rect x="155.78" y="1571.77" width="4" height="4" fill="#000"/>
<rect x="155.62" y="1575.67" width="4" height="4" fill="#000"/>
<circle cx="170.28" cy="1495.1" r="2.1" fill="#000"/>
<circle cx="170.47" cy="1517.77" r="2.1" fill="#000"/>
<circle cx="170.69" cy="1553.3" r="2.1" fill="#000"/>
<rect x="175.68" y="1499.36" width="4" height="4" fill="#000"/>
<rect x="175.68" y="1545.04" width="4" height="4" fill="#000"/>
<circle cx="190.76" cy="1383.25" r="2.1" fill="#000"/>
<circle cx="190.59" cy="1436.04" r="2.1" fill="#000"/>
<circle cx="190.32" cy="1457.19" r="2.1" fill="#000"/>
<circle cx="191.14" cy="1519.46" r="2.1" fill="#000"/>
<rect x="196.14" y="1374.15" width="4" height="4" fill="#000"/>
<rect x="195.69" y="1403.25" width="4" height="4" fill="#000"/>
<rect x="196.49" y="1486.67" width="4" height="4" fill="#000"/>
<circle cx="210.47" cy="1390.36" r="2.1" fill="#000"/>
<circle cx="210.68" cy="1443.15" r="2.1" fill="#000"/>
<circle cx="211.07" cy="1471.41" r="2.1" fill="#000"/>
<circle cx="211.06" cy="1497.46" r="2.1" fill="#000"/>
<rect x="215.97" y="1418.99" width="4" height="4" fill="#000"/>
<rect x="216.38" y="1419.83" width="4" height="4" fill="#000"/>
<rect x="216.22" y="1461.62" width="4" height="4" fill="#000"/>
<circle cx="230.99" cy="1429.28" r="2.1" fill="#000"/>
<circle cx="231.28" cy="1447.72" r="2.1" fill="#000"/>
<circle cx="231.25" cy="1479.36" r="2.1" fill="#000"/>
<rect x="236.19" y="1440.31" width="4" height="4" fill="#000"/>
<rect x="235.63" y="1468.56" width="4" height="4" fill="#000"/>
<rect x="235.84" y="1477.36" width="4" height="4" fill="#000"/>
<circle cx="250.86" cy="1477.67" r="2.1" fill="#000"/>
<circle cx="250.62" cy="1481.56" r="2.1" fill="#000"/>
<rect x="256.35" y="1456.55" width="4" height="4" fill="#000"/>
<rect x="256.32" y="1483.62" width="4" height="4" fill="#000"/>
<rect x="256.02" y="1485.82" width="4" height="4" fill="#000"/>
<circle cx="271.01" cy="1479.02" r="2.1" fill="#000"/>
<circle cx="271.28" cy="1488.67" r="2.1" fill="#000"/>
<circle cx="271.02" cy="1490.36" r="2.1" fill="#000"/>
<rect x="276.19" y="1476.51" width="4" height="4" fill="#000"/>
<rect x="275.73" y="1496.14" width="4" height="4" fill="#000"/>
<rect x="275.74" y="1502.4" width="4" height="4" fill="#000"/>
<circle cx="291.53" cy="1474.62" r="2.1" fill="#000"/>
<circle cx="291.14" cy="1478.51" r="2.1" fill="#000"/>
<circle cx="290.94" cy="1493.4" r="2.1" fill="#000"/>
<rect x="296.25" y="1474.99" width="4" height="4" fill="#000"/>
<rect x="296.73" y="1511.2" width="4" height="4" fill="#000"/>
<rect x="296.52" y="1537.93" width="4" height="4" fill="#000"/>
<circle cx="311.46" cy="1477.67" r="2.1" fill="#000"/>
<circle cx="310.83" cy="1494.25" r="2.1" fill="#000"/>
<circle cx="311.11" cy="1509.14" r="2.1" fill="#000"/>
<rect x="316.38" y="1474.15" width="4" height="4" fill="#000"/>
<rect x="316.26" y="1515.77" width="4" height="4" fill="#000"/>
<rect x="316.07" y="1520.51" width="4" height="4" fill="#000"/>
<circle cx="331.61" cy="1489.51" r="2.1" fill="#000"/>
<circle cx="330.66" cy="1498.14" r="2.1" fill="#000"/>
<circle cx="331.43" cy="1510.83" r="2.1" fill="#000"/>
<rect x="336.72" y="1476.32" width="4" height="4" fill="#000"/>
<rect x="336.37" y="1524.74" width="4" height="4" fill="#000"/>
<rect x="335.82" y="1522.63" width="4" height="4" fill="#000"/>
<circle cx="351.28" cy="1504.43" r="2.1" fill="#000"/>
<circle cx="351.18" cy="1487.42" r="2.1" fill="#000"/>
<circle cx="351.03" cy="1470.5" r="2.1" fill="#000"/>
<rect x="356.53" y="1529.39" width="4" height="4" fill="#000"/>
<rect x="356.35" y="1507.78" width="4" height="4" fill="#000"/>
<rect x="356.01" y="1485.68" width="4" height="4" fill="#000"/>
<circle cx="371.68" cy="1496.41" r="2.1" fill="#000"/>
<circle cx="371.63" cy="1487.54" r="2.1" fill="#000"/>
<circle cx="370.96" cy="1536.14" r="2.1" fill="#000"/>
<rect x="375.87" y="1502.51" width="4" height="4" fill="#000"/>
<rect x="375.87" y="1506.28" width="4" height="4" fill="#000"/>
<rect x="375.98" y="1497.77" width="4" height="4" fill="#000"/>
<circle cx="391.11" cy="1526.3" r="2.1" fill="#000"/>
<circle cx="391.33" cy="1500.78" r="2.1" fill="#000"/>
<circle cx="390.9" cy="1506.41" r="2.1" fill="#000"/>
<rect x="396.29" y="1504.98" width="4" height="4" fill="#000"/>
<rect x="396.47" y="1522.19" width="4" height="4" fill="#000"/>
<rect x="396.41" y="1478.48" width="4" height="4" fill="#000"/>
<circle cx="410.88" cy="1531.83" r="2.1" fill="#000"/>
<circle cx="411" cy="1518.63" r="2.1" fill="#000"/>
<circle cx="411.48" cy="1545.5" r="2.1" fill="#000"/>
<rect x="416.13" y="1517.82" width="4" height="4" fill="#000"/>
<rect x="416.81" y="1520.74" width="4" height="4" fill="#000"/>
<rect x="416.76" y="1506.27" width="4" height="4" fill="#000"/>
<circle cx="431.06" cy="1530.96" r="2.1" fill="#000"/>
<circle cx="431.42" cy="1524.83" r="2.1" fill="#000"/>
<circle cx="431.07" cy="1552.82" r="2.1" fill="#000"/>
<rect x="436.39" y="1555.33" width="4" height="4" fill="#000"/>
<rect x="436.76" y="1528.03" width="4" height="4" fill="#000"/>
<rect x="437.16" y="1528.3" width="4" height="4" fill="#000"/>
<circle cx="451.22" cy="1561.4" r="2.1" fill="#000"/>
<circle cx="451.98" cy="1558.72" r="2.1" fill="#000"/>
<circle cx="451.74" cy="1572.3" r="2.1" fill="#000"/>
<rect x="457.1" y="1553.36" width="4" height="4" fill="#000"/>
<rect x="456.1" y="1551.67" width="4" height="4" fill="#000"/>
<rect x="456.73" y="1539.58" width="4" height="4" fill="#000"/>
<circle cx="471.94" cy="1596.95" r="2.1" fill="#000"/>
<circle cx="471.51" cy="1562.75" r="2.1" fill="#000"/>
<circle cx="471.35" cy="1579.36" r="2.1" fill="#000"/>
<rect x="476.62" y="1562.35" width="4" height="4" fill="#000"/>
<rect x="476.33" y="1551.46" width="4" height="4" fill="#000"/>
<rect x="476.46" y="1554.29" width="4" height="4" fill="#000"/>
<circle cx="491.34" cy="1574.44" r="2.1" fill="#000"/>
<circle cx="490.97" cy="1569.54" r="2.1" fill="#000"/>
<circle cx="491.19" cy="1595.13" r="2.1" fill="#000"/>
<rect x="496.56" y="1569.48" width="4" height="4" fill="#000"/>
<rect x="496.41" y="1584.4" width="4" height="4" fill="#000"/>
<rect x="497.27" y="1590.19" width="4" height="4" fill="#000"/>
<circle cx="512.06" cy="1596.95" r="2.1" fill="#000"/>
<circle cx="512.18" cy="1594.45" r="2.1" fill="#000"/>
<circle cx="511.28" cy="1596.95" r="2.1" fill="#000"/>
<rect x="517.29" y="1581.68" width="4" height="4" fill="#000"/>
<rect x="516.46" y="1583.31" width="4" height="4" fill="#000"/>
<rect x="517.21" y="1585.06" width="4" height="4" fill="#000"/>
<circle cx="531.46" cy="1596.95" r="2.1" fill="#000"/>
<circle cx="531.77" cy="1596.95" r="2.1" fill="#000"/>
<circle cx="532.2" cy="1580.97" r="2.1" fill="#000"/>
<rect x="536.38" y="1585.48" width="4" height="4" fill="#000"/>
<rect x="536.3" y="1584.71" width="4" height="4" fill="#000"/>
<rect x="537.2" y="1579.06" width="4" height="4" fill="#000"/>
<circle cx="551.51" cy="1588.86" r="2.1" fill="#000"/>
<circle cx="551.55" cy="1596.95" r="2.1" fill="#000"/>
<circle cx="551.78" cy="1596.95" r="2.1" fill="#000"/>
<rect x="557.37" y="1588.17" width="4" height="4" fill="#000"/>
<rect x="556.98" y="1590.09" width="4" height="4" fill="#000"/>
<rect x="556.63" y="1586.24" width="4" height="4" fill="#000"/>
<circle cx="572.14" cy="1596.95" r="2.1" fill="#000"/>
<circle cx="571.26" cy="1586.07" r="2.1" fill="#000"/>
<circle cx="571.29" cy="1594.7" r="2.1" fill="#000"/>
<rect x="577.54" y="1588.91" width="4" height="4" fill="#000"/>
<rect x="576.86" y="1592.27" width="4" height="4" fill="#000"/>
<rect x="576.64" y="1590.58" width="4" height="4" fill="#000"/>
<text x="556.9" y="1307.4" font-size="40" font-weight="bold" fill="#262626" textLength="41" lengthAdjust="spacingAndGlyphs" stroke="#262626" stroke-width="1.1" stroke-linejoin="round">G)</text>
<text x="769.4" y="1307.4" font-size="30.8" font-weight="bold" stroke="#262626" stroke-width="0.48" fill="#262626" textLength="65.9" lengthAdjust="spacingAndGlyphs">9 mo</text>
<line x1="658.8" y1="1337.9" x2="658.8" y2="1596.8" stroke="#000" stroke-width="2.5"/>
<line x1="649.5" y1="1596.8" x2="1143" y2="1596.8" stroke="#000" stroke-width="2.5"/>
<line x1="649.5" y1="1596.8" x2="658.5" y2="1596.8" stroke="#000" stroke-width="2.5"/>
<text x="648.8" y="1601.6" font-size="13.6" font-weight="bold" stroke="#000" stroke-width="0.27" text-anchor="end">0</text>
<line x1="649.5" y1="1510.5" x2="658.5" y2="1510.5" stroke="#000" stroke-width="2.5"/>
<text x="648.8" y="1515.3" font-size="13.6" font-weight="bold" stroke="#000" stroke-width="0.27" text-anchor="end">5</text>
<line x1="649.5" y1="1424.2" x2="658.5" y2="1424.2" stroke="#000" stroke-width="2.5"/>
<text x="648.8" y="1429" font-size="13.6" font-weight="bold" stroke="#000" stroke-width="0.27" text-anchor="end">10</text>
<line x1="649.5" y1="1337.9" x2="658.5" y2="1337.9" stroke="#000" stroke-width="2.5"/>
<text x="648.8" y="1342.7" font-size="13.6" font-weight="bold" stroke="#000" stroke-width="0.27" text-anchor="end">15</text>
<line x1="658.5" y1="1596.8" x2="658.5" y2="1605.8" stroke="#000" stroke-width="2.5"/>
<text x="658.5" y="1623.3" font-size="13.6" font-weight="bold" stroke="#000" stroke-width="0.27" text-anchor="middle">0</text>
<line x1="698.76" y1="1596.8" x2="698.76" y2="1605.8" stroke="#000" stroke-width="2.5"/>
<text x="698.76" y="1623.3" font-size="13.6" font-weight="bold" stroke="#000" stroke-width="0.27" text-anchor="middle">500</text>
<line x1="739.02" y1="1596.8" x2="739.02" y2="1605.8" stroke="#000" stroke-width="2.5"/>
<text x="739.02" y="1623.3" font-size="13.6" font-weight="bold" stroke="#000" stroke-width="0.27" text-anchor="middle">1000</text>
<line x1="779.27" y1="1596.8" x2="779.27" y2="1605.8" stroke="#000" stroke-width="2.5"/>
<text x="779.27" y="1623.3" font-size="13.6" font-weight="bold" stroke="#000" stroke-width="0.27" text-anchor="middle">1500</text>
<line x1="819.53" y1="1596.8" x2="819.53" y2="1605.8" stroke="#000" stroke-width="2.5"/>
<text x="819.53" y="1623.3" font-size="13.6" font-weight="bold" stroke="#000" stroke-width="0.27" text-anchor="middle">2000</text>
<line x1="859.79" y1="1596.8" x2="859.79" y2="1605.8" stroke="#000" stroke-width="2.5"/>
<text x="859.79" y="1623.3" font-size="13.6" font-weight="bold" stroke="#000" stroke-width="0.27" text-anchor="middle">2500</text>
<line x1="900.05" y1="1596.8" x2="900.05" y2="1605.8" stroke="#000" stroke-width="2.5"/>
<text x="900.05" y="1623.3" font-size="13.6" font-weight="bold" stroke="#000" stroke-width="0.27" text-anchor="middle">3000</text>
<line x1="940.31" y1="1596.8" x2="940.31" y2="1605.8" stroke="#000" stroke-width="2.5"/>
<text x="940.31" y="1623.3" font-size="13.6" font-weight="bold" stroke="#000" stroke-width="0.27" text-anchor="middle">3500</text>
<line x1="980.57" y1="1596.8" x2="980.57" y2="1605.8" stroke="#000" stroke-width="2.5"/>
<text x="980.57" y="1623.3" font-size="13.6" font-weight="bold" stroke="#000" stroke-width="0.27" text-anchor="middle">4000</text>
<line x1="1020.83" y1="1596.8" x2="1020.83" y2="1605.8" stroke="#000" stroke-width="2.5"/>
<text x="1020.83" y="1623.3" font-size="13.6" font-weight="bold" stroke="#000" stroke-width="0.27" text-anchor="middle">4500</text>
<line x1="1061.08" y1="1596.8" x2="1061.08" y2="1605.8" stroke="#000" stroke-width="2.5"/>
<text x="1061.08" y="1623.3" font-size="13.6" font-weight="bold" stroke="#000" stroke-width="0.27" text-anchor="middle">5000</text>
<line x1="1101.34" y1="1596.8" x2="1101.34" y2="1605.8" stroke="#000" stroke-width="2.5"/>
<text x="1101.34" y="1623.3" font-size="13.6" font-weight="bold" stroke="#000" stroke-width="0.27" text-anchor="middle">5500</text>
<line x1="1141.6" y1="1596.8" x2="1141.6" y2="1605.8" stroke="#000" stroke-width="2.5"/>
<text x="1141.6" y="1623.3" font-size="13.6" font-weight="bold" stroke="#000" stroke-width="0.27" text-anchor="middle">6000</text>
<text x="820" y="1648.6" font-size="16.09" font-weight="bold" stroke="#000" stroke-width="0.32" textLength="162.7" lengthAdjust="spacingAndGlyphs">Cross-Sectional Area</text>
<text x="620.4" y="1471" font-size="17.37" font-weight="bold" stroke="#000" stroke-width="0.35" text-anchor="middle" textLength="120.6" lengthAdjust="spacingAndGlyphs" transform="rotate(-90 620.4 1471)">% of total fiber</text>
<rect x="671.8" y="1547.44" width="4.6" height="49.36" fill="#c4c4c4" stroke="#000" stroke-width="1"/>
<line x1="674.1" y1="1547.44" x2="674.1" y2="1534.39" stroke="#000" stroke-width="1"/>
<line x1="672.3" y1="1534.39" x2="675.9" y2="1534.39" stroke="#000" stroke-width="1"/>
<rect x="679.4" y="1543.12" width="4.6" height="53.68" fill="#ff6a6a" stroke="#ff1f1f" stroke-width="1"/>
<line x1="681.7" y1="1543.12" x2="681.7" y2="1531.64" stroke="#000" stroke-width="1"/>
<line x1="679.9" y1="1531.64" x2="683.5" y2="1531.64" stroke="#000" stroke-width="1"/>
<rect x="692.05" y="1580.23" width="4.6" height="16.57" fill="#c4c4c4" stroke="#000" stroke-width="1"/>
<line x1="694.35" y1="1580.23" x2="694.35" y2="1574.84" stroke="#000" stroke-width="1"/>
<line x1="692.55" y1="1574.84" x2="696.15" y2="1574.84" stroke="#000" stroke-width="1"/>
<rect x="699.65" y="1574.02" width="4.6" height="22.78" fill="#ff6a6a" stroke="#ff1f1f" stroke-width="1"/>
<line x1="701.95" y1="1574.02" x2="701.95" y2="1567.25" stroke="#000" stroke-width="1"/>
<line x1="700.15" y1="1567.25" x2="703.75" y2="1567.25" stroke="#000" stroke-width="1"/>
<rect x="712.3" y="1574.88" width="4.6" height="21.92" fill="#c4c4c4" stroke="#000" stroke-width="1"/>
<line x1="714.6" y1="1574.88" x2="714.6" y2="1570.75" stroke="#000" stroke-width="1"/>
<line x1="712.8" y1="1570.75" x2="716.4" y2="1570.75" stroke="#000" stroke-width="1"/>
<rect x="719.9" y="1570.91" width="4.6" height="25.89" fill="#ff6a6a" stroke="#ff1f1f" stroke-width="1"/>
<line x1="722.2" y1="1570.91" x2="722.2" y2="1563.82" stroke="#000" stroke-width="1"/>
<line x1="720.4" y1="1563.82" x2="724" y2="1563.82" stroke="#000" stroke-width="1"/>
<rect x="732.55" y="1519.13" width="4.6" height="77.67" fill="#c4c4c4" stroke="#000" stroke-width="1"/>
<line x1="734.85" y1="1519.13" x2="734.85" y2="1508.07" stroke="#000" stroke-width="1"/>
<line x1="733.05" y1="1508.07" x2="736.65" y2="1508.07" stroke="#000" stroke-width="1"/>
<rect x="740.15" y="1517.92" width="4.6" height="78.88" fill="#ff6a6a" stroke="#ff1f1f" stroke-width="1"/>
<line x1="742.45" y1="1517.92" x2="742.45" y2="1501.51" stroke="#000" stroke-width="1"/>
<line x1="740.65" y1="1501.51" x2="744.25" y2="1501.51" stroke="#000" stroke-width="1"/>
<rect x="752.8" y="1452.16" width="4.6" height="144.64" fill="#c4c4c4" stroke="#000" stroke-width="1"/>
<line x1="755.1" y1="1452.16" x2="755.1" y2="1435.15" stroke="#000" stroke-width="1"/>
<line x1="753.3" y1="1435.15" x2="756.9" y2="1435.15" stroke="#000" stroke-width="1"/>
<rect x="760.4" y="1429.21" width="4.6" height="167.59" fill="#ff6a6a" stroke="#ff1f1f" stroke-width="1"/>
<line x1="762.7" y1="1429.21" x2="762.7" y2="1408.91" stroke="#000" stroke-width="1"/>
<line x1="760.9" y1="1408.91" x2="764.5" y2="1408.91" stroke="#000" stroke-width="1"/>
<rect x="773.05" y="1435.42" width="4.6" height="161.38" fill="#c4c4c4" stroke="#000" stroke-width="1"/>
<line x1="775.35" y1="1435.42" x2="775.35" y2="1417.06" stroke="#000" stroke-width="1"/>
<line x1="773.55" y1="1417.06" x2="777.15" y2="1417.06" stroke="#000" stroke-width="1"/>
<rect x="780.65" y="1406.94" width="4.6" height="189.86" fill="#ff6a6a" stroke="#ff1f1f" stroke-width="1"/>
<line x1="782.95" y1="1406.94" x2="782.95" y2="1381.07" stroke="#000" stroke-width="1"/>
<line x1="781.15" y1="1381.07" x2="784.75" y2="1381.07" stroke="#000" stroke-width="1"/>
<rect x="793.3" y="1444.57" width="4.6" height="152.23" fill="#c4c4c4" stroke="#000" stroke-width="1"/>
<line x1="795.6" y1="1444.57" x2="795.6" y2="1419.84" stroke="#000" stroke-width="1"/>
<line x1="793.8" y1="1419.84" x2="797.4" y2="1419.84" stroke="#000" stroke-width="1"/>
<rect x="800.9" y="1428.86" width="4.6" height="167.94" fill="#ff6a6a" stroke="#ff1f1f" stroke-width="1"/>
<line x1="803.2" y1="1428.86" x2="803.2" y2="1407.96" stroke="#000" stroke-width="1"/>
<line x1="801.4" y1="1407.96" x2="805" y2="1407.96" stroke="#000" stroke-width="1"/>
<rect x="813.55" y="1457.86" width="4.6" height="138.94" fill="#c4c4c4" stroke="#000" stroke-width="1"/>
<line x1="815.85" y1="1457.86" x2="815.85" y2="1434.2" stroke="#000" stroke-width="1"/>
<line x1="814.05" y1="1434.2" x2="817.65" y2="1434.2" stroke="#000" stroke-width="1"/>
<rect x="821.15" y="1454.06" width="4.6" height="142.74" fill="#ff6a6a" stroke="#ff1f1f" stroke-width="1"/>
<line x1="823.45" y1="1454.06" x2="823.45" y2="1439.21" stroke="#000" stroke-width="1"/>
<line x1="821.65" y1="1439.21" x2="825.25" y2="1439.21" stroke="#000" stroke-width="1"/>
<rect x="833.8" y="1471.15" width="4.6" height="125.65" fill="#c4c4c4" stroke="#000" stroke-width="1"/>
<line x1="836.1" y1="1471.15" x2="836.1" y2="1457.17" stroke="#000" stroke-width="1"/>
<line x1="834.3" y1="1457.17" x2="837.9" y2="1457.17" stroke="#000" stroke-width="1"/>
<rect x="841.4" y="1477.53" width="4.6" height="119.27" fill="#ff6a6a" stroke="#ff1f1f" stroke-width="1"/>
<line x1="843.7" y1="1477.53" x2="843.7" y2="1463.84" stroke="#000" stroke-width="1"/>
<line x1="841.9" y1="1463.84" x2="845.5" y2="1463.84" stroke="#000" stroke-width="1"/>
<rect x="854.05" y="1475.98" width="4.6" height="120.82" fill="#c4c4c4" stroke="#000" stroke-width="1"/>
<line x1="856.35" y1="1475.98" x2="856.35" y2="1460.82" stroke="#000" stroke-width="1"/>
<line x1="854.55" y1="1460.82" x2="858.15" y2="1460.82" stroke="#000" stroke-width="1"/>
<rect x="861.65" y="1501.18" width="4.6" height="95.62" fill="#ff6a6a" stroke="#ff1f1f" stroke-width="1"/>
<line x1="863.95" y1="1501.18" x2="863.95" y2="1484.45" stroke="#000" stroke-width="1"/>
<line x1="862.15" y1="1484.45" x2="865.75" y2="1484.45" stroke="#000" stroke-width="1"/>
<rect x="874.3" y="1483.75" width="4.6" height="113.05" fill="#c4c4c4" stroke="#000" stroke-width="1"/>
<line x1="876.6" y1="1483.75" x2="876.6" y2="1471.22" stroke="#000" stroke-width="1"/>
<line x1="874.8" y1="1471.22" x2="878.4" y2="1471.22" stroke="#000" stroke-width="1"/>
<rect x="881.9" y="1516.02" width="4.6" height="80.78" fill="#ff6a6a" stroke="#ff1f1f" stroke-width="1"/>
<line x1="884.2" y1="1516.02" x2="884.2" y2="1506.31" stroke="#000" stroke-width="1"/>
<line x1="882.4" y1="1506.31" x2="886" y2="1506.31" stroke="#000" stroke-width="1"/>
<rect x="894.55" y="1484.61" width="4.6" height="112.19" fill="#c4c4c4" stroke="#000" stroke-width="1"/>
<line x1="896.85" y1="1484.61" x2="896.85" y2="1470.46" stroke="#000" stroke-width="1"/>
<line x1="895.05" y1="1470.46" x2="898.65" y2="1470.46" stroke="#000" stroke-width="1"/>
<rect x="902.15" y="1526.21" width="4.6" height="70.59" fill="#ff6a6a" stroke="#ff1f1f" stroke-width="1"/>
<line x1="904.45" y1="1526.21" x2="904.45" y2="1514.49" stroke="#000" stroke-width="1"/>
<line x1="902.65" y1="1514.49" x2="906.25" y2="1514.49" stroke="#000" stroke-width="1"/>
<rect x="914.8" y="1497.9" width="4.6" height="98.9" fill="#c4c4c4" stroke="#000" stroke-width="1"/>
<line x1="917.1" y1="1497.9" x2="917.1" y2="1484.3" stroke="#000" stroke-width="1"/>
<line x1="915.3" y1="1484.3" x2="918.9" y2="1484.3" stroke="#000" stroke-width="1"/>
<rect x="922.4" y="1524.65" width="4.6" height="72.15" fill="#ff6a6a" stroke="#ff1f1f" stroke-width="1"/>
<line x1="924.7" y1="1524.65" x2="924.7" y2="1515.71" stroke="#000" stroke-width="1"/>
<line x1="922.9" y1="1515.71" x2="926.5" y2="1515.71" stroke="#000" stroke-width="1"/>
<rect x="935.05" y="1504.29" width="4.6" height="92.51" fill="#c4c4c4" stroke="#000" stroke-width="1"/>
<line x1="937.35" y1="1504.29" x2="937.35" y2="1485.24" stroke="#000" stroke-width="1"/>
<line x1="935.55" y1="1485.24" x2="939.15" y2="1485.24" stroke="#000" stroke-width="1"/>
<rect x="942.65" y="1518.27" width="4.6" height="78.53" fill="#ff6a6a" stroke="#ff1f1f" stroke-width="1"/>
<line x1="944.95" y1="1518.27" x2="944.95" y2="1506.23" stroke="#000" stroke-width="1"/>
<line x1="943.15" y1="1506.23" x2="946.75" y2="1506.23" stroke="#000" stroke-width="1"/>
<rect x="955.3" y="1520.68" width="4.6" height="76.12" fill="#c4c4c4" stroke="#000" stroke-width="1"/>
<line x1="957.6" y1="1520.68" x2="957.6" y2="1511.06" stroke="#000" stroke-width="1"/>
<line x1="955.8" y1="1511.06" x2="959.4" y2="1511.06" stroke="#000" stroke-width="1"/>
<rect x="962.9" y="1524.65" width="4.6" height="72.15" fill="#ff6a6a" stroke="#ff1f1f" stroke-width="1"/>
<line x1="965.2" y1="1524.65" x2="965.2" y2="1508.46" stroke="#000" stroke-width="1"/>
<line x1="963.4" y1="1508.46" x2="967" y2="1508.46" stroke="#000" stroke-width="1"/>
<rect x="975.55" y="1535.53" width="4.6" height="61.27" fill="#c4c4c4" stroke="#000" stroke-width="1"/>
<line x1="977.85" y1="1535.53" x2="977.85" y2="1527.83" stroke="#000" stroke-width="1"/>
<line x1="976.05" y1="1527.83" x2="979.65" y2="1527.83" stroke="#000" stroke-width="1"/>
<rect x="983.15" y="1533.97" width="4.6" height="62.83" fill="#ff6a6a" stroke="#ff1f1f" stroke-width="1"/>
<line x1="985.45" y1="1533.97" x2="985.45" y2="1526.78" stroke="#000" stroke-width="1"/>
<line x1="983.65" y1="1526.78" x2="987.25" y2="1526.78" stroke="#000" stroke-width="1"/>
<rect x="995.8" y="1558.31" width="4.6" height="38.49" fill="#c4c4c4" stroke="#000" stroke-width="1"/>
<line x1="998.1" y1="1558.31" x2="998.1" y2="1549.91" stroke="#000" stroke-width="1"/>
<line x1="996.3" y1="1549.91" x2="999.9" y2="1549.91" stroke="#000" stroke-width="1"/>
<rect x="1003.4" y="1548.13" width="4.6" height="48.67" fill="#ff6a6a" stroke="#ff1f1f" stroke-width="1"/>
<line x1="1005.7" y1="1548.13" x2="1005.7" y2="1540.71" stroke="#000" stroke-width="1"/>
<line x1="1003.9" y1="1540.71" x2="1007.5" y2="1540.71" stroke="#000" stroke-width="1"/>
<rect x="1016.05" y="1571.6" width="4.6" height="25.2" fill="#c4c4c4" stroke="#000" stroke-width="1"/>
<line x1="1018.35" y1="1571.6" x2="1018.35" y2="1562.91" stroke="#000" stroke-width="1"/>
<line x1="1016.55" y1="1562.91" x2="1020.15" y2="1562.91" stroke="#000" stroke-width="1"/>
<rect x="1023.65" y="1562.28" width="4.6" height="34.52" fill="#ff6a6a" stroke="#ff1f1f" stroke-width="1"/>
<line x1="1025.95" y1="1562.28" x2="1025.95" y2="1555.13" stroke="#000" stroke-width="1"/>
<line x1="1024.15" y1="1555.13" x2="1027.75" y2="1555.13" stroke="#000" stroke-width="1"/>
<rect x="1036.3" y="1583.51" width="4.6" height="13.29" fill="#c4c4c4" stroke="#000" stroke-width="1"/>
<line x1="1038.6" y1="1583.51" x2="1038.6" y2="1577.05" stroke="#000" stroke-width="1"/>
<line x1="1036.8" y1="1577.05" x2="1040.4" y2="1577.05" stroke="#000" stroke-width="1"/>
<rect x="1043.9" y="1574.88" width="4.6" height="21.92" fill="#ff6a6a" stroke="#ff1f1f" stroke-width="1"/>
<line x1="1046.2" y1="1574.88" x2="1046.2" y2="1566.91" stroke="#000" stroke-width="1"/>
<line x1="1044.4" y1="1566.91" x2="1048" y2="1566.91" stroke="#000" stroke-width="1"/>
<rect x="1056.55" y="1588.17" width="4.6" height="8.63" fill="#c4c4c4" stroke="#000" stroke-width="1"/>
<line x1="1058.85" y1="1588.17" x2="1058.85" y2="1582.25" stroke="#000" stroke-width="1"/>
<line x1="1057.05" y1="1582.25" x2="1060.65" y2="1582.25" stroke="#000" stroke-width="1"/>
<rect x="1064.15" y="1582.65" width="4.6" height="14.15" fill="#ff6a6a" stroke="#ff1f1f" stroke-width="1"/>
<line x1="1066.45" y1="1582.65" x2="1066.45" y2="1578.84" stroke="#000" stroke-width="1"/>
<line x1="1064.65" y1="1578.84" x2="1068.25" y2="1578.84" stroke="#000" stroke-width="1"/>
<rect x="1076.8" y="1590.59" width="4.6" height="6.21" fill="#c4c4c4" stroke="#000" stroke-width="1"/>
<line x1="1079.1" y1="1590.59" x2="1079.1" y2="1586.7" stroke="#000" stroke-width="1"/>
<line x1="1077.3" y1="1586.7" x2="1080.9" y2="1586.7" stroke="#000" stroke-width="1"/>
<rect x="1084.4" y="1587.48" width="4.6" height="9.32" fill="#ff6a6a" stroke="#ff1f1f" stroke-width="1"/>
<line x1="1086.7" y1="1587.48" x2="1086.7" y2="1582.63" stroke="#000" stroke-width="1"/>
<line x1="1084.9" y1="1582.63" x2="1088.5" y2="1582.63" stroke="#000" stroke-width="1"/>
<rect x="1097.05" y="1592.14" width="4.6" height="4.66" fill="#c4c4c4" stroke="#000" stroke-width="1"/>
<line x1="1099.35" y1="1592.14" x2="1099.35" y2="1588.53" stroke="#000" stroke-width="1"/>
<line x1="1097.55" y1="1588.53" x2="1101.15" y2="1588.53" stroke="#000" stroke-width="1"/>
<rect x="1104.65" y="1591.28" width="4.6" height="5.52" fill="#ff6a6a" stroke="#ff1f1f" stroke-width="1"/>
<line x1="1106.95" y1="1591.28" x2="1106.95" y2="1587.67" stroke="#000" stroke-width="1"/>
<line x1="1105.15" y1="1587.67" x2="1108.75" y2="1587.67" stroke="#000" stroke-width="1"/>
<rect x="1117.3" y="1593.69" width="4.6" height="3.11" fill="#c4c4c4" stroke="#000" stroke-width="1"/>
<line x1="1119.6" y1="1593.69" x2="1119.6" y2="1589.8" stroke="#000" stroke-width="1"/>
<line x1="1117.8" y1="1589.8" x2="1121.4" y2="1589.8" stroke="#000" stroke-width="1"/>
<rect x="1124.9" y="1592.14" width="4.6" height="4.66" fill="#ff6a6a" stroke="#ff1f1f" stroke-width="1"/>
<line x1="1127.2" y1="1592.14" x2="1127.2" y2="1587.87" stroke="#000" stroke-width="1"/>
<line x1="1125.4" y1="1587.87" x2="1129" y2="1587.87" stroke="#000" stroke-width="1"/>
<rect x="1137.55" y="1595.25" width="4.6" height="1.55" fill="#c4c4c4" stroke="#000" stroke-width="1"/>
<line x1="1139.85" y1="1595.25" x2="1139.85" y2="1592.67" stroke="#000" stroke-width="1"/>
<line x1="1138.05" y1="1592.67" x2="1141.65" y2="1592.67" stroke="#000" stroke-width="1"/>
<rect x="1145.15" y="1595.07" width="4.6" height="1.73" fill="#ff6a6a" stroke="#ff1f1f" stroke-width="1"/>
<line x1="1147.45" y1="1595.07" x2="1147.45" y2="1591.91" stroke="#000" stroke-width="1"/>
<line x1="1145.65" y1="1591.91" x2="1149.25" y2="1591.91" stroke="#000" stroke-width="1"/>
<path d="M678.5,1574C682.4,1570.5 694.2,1560.5 702.1,1552.8C710,1545.1 717.8,1537.1 725.6,1527.7C733.5,1518.3 741.4,1505.8 749.2,1496.4C757.1,1487 764.9,1477.8 772.7,1471.2C780.5,1464.7 788.4,1460.8 796.2,1457.1C804.1,1453.4 814,1450.9 819.8,1449.3C825.6,1447.7 825.6,1447.6 830.8,1447.7C836,1447.8 843.9,1448.7 851.2,1450.1C858.5,1451.5 866.9,1452.8 874.7,1456.3C882.6,1459.8 891,1465.7 898.3,1471.2C905.6,1476.8 911.2,1483 918.5,1489.6C925.8,1496.1 934.2,1503.9 942.1,1510.5C950,1517.1 957.8,1522.8 965.6,1529.3C973.5,1535.8 981.4,1543.7 989.2,1549.7C997.1,1555.7 1004.9,1561 1012.7,1565.4C1020.5,1569.9 1028.4,1573.5 1036.2,1576.4C1044,1579.3 1052,1581 1059.8,1582.7C1067.6,1584.4 1075.4,1585.3 1083.3,1586.6C1091.2,1587.9 1099.1,1589.1 1106.9,1590.5C1114.8,1591.9 1124.9,1594.2 1130.4,1595.2C1135.9,1596.2 1138.2,1596.5 1139.8,1596.8" fill="none" stroke="#000" stroke-width="2" stroke-linejoin="round" stroke-linecap="round"/>
<path d="M678.5,1581.1C682.4,1574 694.2,1551.8 702.1,1538.7C710,1525.6 717.8,1512.9 725.6,1502.6C733.5,1492.3 741.4,1483.5 749.2,1476.7C757.1,1469.9 764.9,1465.6 772.7,1461.8C780.5,1458 789.7,1455.5 796.2,1453.9C802.7,1452.3 806.7,1452.2 811.9,1452.4C817.1,1452.6 821,1453 827.6,1454.8C834.2,1456.6 843.4,1459.9 851.2,1463.4C859.1,1466.9 867.4,1471.4 874.7,1476C882,1480.6 887.7,1485.7 895,1490.9C902.3,1496.1 910.6,1501.4 918.5,1507.3C926.4,1513.2 934.2,1520.7 942.1,1526.2C950,1531.7 957.8,1536.4 965.6,1540.3C973.5,1544.2 981.4,1546 989.2,1549.7C997.1,1553.4 1004.9,1558.9 1012.7,1562.3C1020.5,1565.7 1028.4,1568 1036.2,1570.1C1044,1572.2 1052,1573.5 1059.8,1574.8C1067.6,1576.1 1076.8,1577 1083.3,1578C1089.8,1579 1093.8,1579.5 1099,1581.1C1104.2,1582.7 1109.5,1585.1 1114.7,1587.4C1119.9,1589.8 1126.5,1593.6 1130.4,1595.2C1134.3,1596.8 1136.7,1596.7 1138,1597" fill="none" stroke="#ff0000" stroke-width="2" stroke-linejoin="round" stroke-linecap="round"/>
<circle cx="674.55" cy="1520.86" r="2.1" fill="#000"/>
<circle cx="673.66" cy="1526.03" r="2.1" fill="#000"/>
<circle cx="673.68" cy="1534.66" r="2.1" fill="#000"/>
<circle cx="674.44" cy="1557.1" r="2.1" fill="#000"/>
<circle cx="674.34" cy="1567.46" r="2.1" fill="#000"/>
<rect x="679.51" y="1510.92" width="4" height="4" fill="#000"/>
<rect x="679.81" y="1532.66" width="4" height="4" fill="#000"/>
<rect x="679.81" y="1535.25" width="4" height="4" fill="#000"/>
<rect x="679.78" y="1549.92" width="4" height="4" fill="#000"/>
<rect x="679.36" y="1567.18" width="4" height="4" fill="#000"/>
<circle cx="694.24" cy="1569.18" r="2.1" fill="#000"/>
<circle cx="694.57" cy="1571.77" r="2.1" fill="#000"/>
<circle cx="694.84" cy="1581.27" r="2.1" fill="#000"/>
<circle cx="694.8" cy="1588.17" r="2.1" fill="#000"/>
<rect x="699.89" y="1568.91" width="4" height="4" fill="#000"/>
<rect x="699.72" y="1574.09" width="4" height="4" fill="#000"/>
<rect x="699.49" y="1587.03" width="4" height="4" fill="#000"/>
<circle cx="714.56" cy="1562.28" r="2.1" fill="#000"/>
<circle cx="714.42" cy="1570.91" r="2.1" fill="#000"/>
<circle cx="714.48" cy="1577.81" r="2.1" fill="#000"/>
<circle cx="714.99" cy="1582.99" r="2.1" fill="#000"/>
<rect x="720.26" y="1569.77" width="4" height="4" fill="#000"/>
<rect x="719.94" y="1575.81" width="4" height="4" fill="#000"/>
<rect x="719.72" y="1584.44" width="4" height="4" fill="#000"/>
<circle cx="734.49" cy="1450.09" r="2.1" fill="#000"/>
<circle cx="734.86" cy="1501.87" r="2.1" fill="#000"/>
<circle cx="735.35" cy="1522.58" r="2.1" fill="#000"/>
<circle cx="735.02" cy="1534.66" r="2.1" fill="#000"/>
<circle cx="734.53" cy="1558.83" r="2.1" fill="#000"/>
<rect x="740.75" y="1420.47" width="4" height="4" fill="#000"/>
<rect x="740.68" y="1505.05" width="4" height="4" fill="#000"/>
<rect x="740.86" y="1534.39" width="4" height="4" fill="#000"/>
<rect x="740.71" y="1549.92" width="4" height="4" fill="#000"/>
<rect x="740.74" y="1555.1" width="4" height="4" fill="#000"/>
<circle cx="755.58" cy="1372.42" r="2.1" fill="#000"/>
<circle cx="755.56" cy="1422.47" r="2.1" fill="#000"/>
<circle cx="754.76" cy="1446.64" r="2.1" fill="#000"/>
<circle cx="755.35" cy="1488.06" r="2.1" fill="#000"/>
<circle cx="755.32" cy="1510.5" r="2.1" fill="#000"/>
<rect x="760.73" y="1394.58" width="4" height="4" fill="#000"/>
<rect x="760.69" y="1410.12" width="4" height="4" fill="#000"/>
<rect x="761.12" y="1441.19" width="4" height="4" fill="#000"/>
<rect x="760.7" y="1475.71" width="4" height="4" fill="#000"/>
<rect x="761.03" y="1486.06" width="4" height="4" fill="#000"/>
<circle cx="775.73" cy="1365.52" r="2.1" fill="#000"/>
<circle cx="775.75" cy="1424.2" r="2.1" fill="#000"/>
<circle cx="775.31" cy="1436.28" r="2.1" fill="#000"/>
<circle cx="775.42" cy="1448.36" r="2.1" fill="#000"/>
<circle cx="775.77" cy="1469.08" r="2.1" fill="#000"/>
<rect x="780.94" y="1392.86" width="4" height="4" fill="#000"/>
<rect x="780.67" y="1404.94" width="4" height="4" fill="#000"/>
<rect x="780.77" y="1413.57" width="4" height="4" fill="#000"/>
<rect x="781.15" y="1427.38" width="4" height="4" fill="#000"/>
<rect x="780.62" y="1482.61" width="4" height="4" fill="#000"/>
<circle cx="795.37" cy="1425.93" r="2.1" fill="#000"/>
<circle cx="796.01" cy="1434.56" r="2.1" fill="#000"/>
<circle cx="795.41" cy="1448.36" r="2.1" fill="#000"/>
<circle cx="796.06" cy="1462.17" r="2.1" fill="#000"/>
<circle cx="795.81" cy="1467.35" r="2.1" fill="#000"/>
<rect x="801.22" y="1391.13" width="4" height="4" fill="#000"/>
<rect x="801.35" y="1417.02" width="4" height="4" fill="#000"/>
<rect x="801.29" y="1422.2" width="4" height="4" fill="#000"/>
<rect x="801.01" y="1430.83" width="4" height="4" fill="#000"/>
<rect x="800.91" y="1439.46" width="4" height="4" fill="#000"/>
<rect x="801.21" y="1463.62" width="4" height="4" fill="#000"/>
<circle cx="815.97" cy="1424.2" r="2.1" fill="#000"/>
<circle cx="815.43" cy="1441.46" r="2.1" fill="#000"/>
<circle cx="816.17" cy="1456.99" r="2.1" fill="#000"/>
<circle cx="816.08" cy="1470.8" r="2.1" fill="#000"/>
<circle cx="816.26" cy="1475.98" r="2.1" fill="#000"/>
<rect x="821.69" y="1437.73" width="4" height="4" fill="#000"/>
<rect x="821.01" y="1442.91" width="4" height="4" fill="#000"/>
<rect x="821.6" y="1448.09" width="4" height="4" fill="#000"/>
<rect x="821.22" y="1461.9" width="4" height="4" fill="#000"/>
<circle cx="836.48" cy="1441.46" r="2.1" fill="#000"/>
<circle cx="835.71" cy="1467.35" r="2.1" fill="#000"/>
<circle cx="836.12" cy="1469.08" r="2.1" fill="#000"/>
<circle cx="836.45" cy="1489.79" r="2.1" fill="#000"/>
<rect x="841.41" y="1453.27" width="4" height="4" fill="#000"/>
<rect x="842.08" y="1467.08" width="4" height="4" fill="#000"/>
<rect x="841.62" y="1475.71" width="4" height="4" fill="#000"/>
<rect x="841.92" y="1491.24" width="4" height="4" fill="#000"/>
<rect x="841.23" y="1505.05" width="4" height="4" fill="#000"/>
<circle cx="856.02" cy="1455.27" r="2.1" fill="#000"/>
<circle cx="856.52" cy="1472.53" r="2.1" fill="#000"/>
<circle cx="855.93" cy="1479.43" r="2.1" fill="#000"/>
<circle cx="856.8" cy="1494.97" r="2.1" fill="#000"/>
<circle cx="855.88" cy="1500.14" r="2.1" fill="#000"/>
<rect x="861.47" y="1480.88" width="4" height="4" fill="#000"/>
<rect x="861.71" y="1494.69" width="4" height="4" fill="#000"/>
<rect x="862.26" y="1498.14" width="4" height="4" fill="#000"/>
<rect x="861.61" y="1518.86" width="4" height="4" fill="#000"/>
<circle cx="876.79" cy="1458.72" r="2.1" fill="#000"/>
<circle cx="876.49" cy="1474.25" r="2.1" fill="#000"/>
<circle cx="876.14" cy="1488.06" r="2.1" fill="#000"/>
<circle cx="877.09" cy="1501.87" r="2.1" fill="#000"/>
<rect x="881.74" y="1487.79" width="4" height="4" fill="#000"/>
<rect x="882.04" y="1496.42" width="4" height="4" fill="#000"/>
<rect x="882.32" y="1499.87" width="4" height="4" fill="#000"/>
<rect x="882.44" y="1510.23" width="4" height="4" fill="#000"/>
<rect x="881.81" y="1534.39" width="4" height="4" fill="#000"/>
<circle cx="897.17" cy="1458.92" r="2.1" fill="#000"/>
<circle cx="897.14" cy="1479.57" r="2.1" fill="#000"/>
<circle cx="897.28" cy="1451.73" r="2.1" fill="#000"/>
<circle cx="897.1" cy="1507.87" r="2.1" fill="#000"/>
<rect x="902.23" y="1520.3" width="4" height="4" fill="#000"/>
<rect x="901.97" y="1499.01" width="4" height="4" fill="#000"/>
<rect x="902" y="1557.66" width="4" height="4" fill="#000"/>
<rect x="902.55" y="1512.83" width="4" height="4" fill="#000"/>
<circle cx="917.65" cy="1510.03" r="2.1" fill="#000"/>
<circle cx="916.81" cy="1499.03" r="2.1" fill="#000"/>
<circle cx="916.52" cy="1515.83" r="2.1" fill="#000"/>
<circle cx="917.17" cy="1512" r="2.1" fill="#000"/>
<rect x="922.29" y="1518.35" width="4" height="4" fill="#000"/>
<rect x="922.22" y="1521.05" width="4" height="4" fill="#000"/>
<rect x="923.28" y="1536.5" width="4" height="4" fill="#000"/>
<rect x="923.22" y="1538.38" width="4" height="4" fill="#000"/>
<circle cx="937.05" cy="1501.8" r="2.1" fill="#000"/>
<circle cx="937.46" cy="1481.82" r="2.1" fill="#000"/>
<circle cx="937.6" cy="1530.88" r="2.1" fill="#000"/>
<circle cx="937.06" cy="1530.6" r="2.1" fill="#000"/>
<rect x="942.39" y="1518.07" width="4" height="4" fill="#000"/>
<rect x="942.84" y="1516.57" width="4" height="4" fill="#000"/>
<rect x="942.64" y="1493.41" width="4" height="4" fill="#000"/>
<rect x="942.47" y="1497.07" width="4" height="4" fill="#000"/>
<circle cx="957.62" cy="1519.21" r="2.1" fill="#000"/>
<circle cx="957.56" cy="1508.01" r="2.1" fill="#000"/>
<circle cx="957.25" cy="1530.25" r="2.1" fill="#000"/>
<circle cx="958.09" cy="1496.39" r="2.1" fill="#000"/>
<rect x="963.21" y="1525.13" width="4" height="4" fill="#000"/>
<rect x="963.3" y="1541.24" width="4" height="4" fill="#000"/>
<rect x="963.23" y="1505.3" width="4" height="4" fill="#000"/>
<rect x="962.82" y="1516.86" width="4" height="4" fill="#000"/>
<circle cx="977.87" cy="1530.61" r="2.1" fill="#000"/>
<circle cx="978.36" cy="1549.84" r="2.1" fill="#000"/>
<circle cx="978.43" cy="1545.6" r="2.1" fill="#000"/>
<circle cx="977.7" cy="1543.91" r="2.1" fill="#000"/>
<rect x="983.22" y="1534.91" width="4" height="4" fill="#000"/>
<rect x="983.86" y="1538.8" width="4" height="4" fill="#000"/>
<rect x="983.39" y="1533.31" width="4" height="4" fill="#000"/>
<rect x="983.34" y="1534.51" width="4" height="4" fill="#000"/>
<circle cx="997.59" cy="1554.09" r="2.1" fill="#000"/>
<circle cx="997.84" cy="1542.6" r="2.1" fill="#000"/>
<circle cx="997.59" cy="1578.23" r="2.1" fill="#000"/>
<circle cx="998.41" cy="1537.86" r="2.1" fill="#000"/>
<rect x="1003.66" y="1558.55" width="4" height="4" fill="#000"/>
<rect x="1004" y="1552.12" width="4" height="4" fill="#000"/>
<rect x="1003.25" y="1551.7" width="4" height="4" fill="#000"/>
<rect x="1003.2" y="1541.81" width="4" height="4" fill="#000"/>
<circle cx="1018.58" cy="1587.75" r="2.1" fill="#000"/>
<circle cx="1017.78" cy="1591.37" r="2.1" fill="#000"/>
<circle cx="1018.62" cy="1581.03" r="2.1" fill="#000"/>
<circle cx="1018.35" cy="1586.29" r="2.1" fill="#000"/>
<rect x="1023.67" y="1580.24" width="4" height="4" fill="#000"/>
<rect x="1023.98" y="1554.76" width="4" height="4" fill="#000"/>
<rect x="1024.32" y="1588.76" width="4" height="4" fill="#000"/>
<rect x="1024.47" y="1556.24" width="4" height="4" fill="#000"/>
<circle cx="1038.59" cy="1585.23" r="2.1" fill="#000"/>
<circle cx="1038.31" cy="1577.83" r="2.1" fill="#000"/>
<circle cx="1039.1" cy="1594.57" r="2.1" fill="#000"/>
<circle cx="1038.7" cy="1578.1" r="2.1" fill="#000"/>
<rect x="1044.8" y="1565.5" width="4" height="4" fill="#000"/>
<rect x="1043.78" y="1567.8" width="4" height="4" fill="#000"/>
<rect x="1043.7" y="1575.96" width="4" height="4" fill="#000"/>
<rect x="1044.67" y="1571.11" width="4" height="4" fill="#000"/>
<circle cx="1058.61" cy="1590.5" r="2.1" fill="#000"/>
<circle cx="1058.53" cy="1591.29" r="2.1" fill="#000"/>
<circle cx="1058.78" cy="1593.53" r="2.1" fill="#000"/>
<circle cx="1058.88" cy="1595.94" r="2.1" fill="#000"/>
<rect x="1064.76" y="1593.94" width="4" height="4" fill="#000"/>
<rect x="1063.97" y="1585.81" width="4" height="4" fill="#000"/>
<rect x="1064.16" y="1593.74" width="4" height="4" fill="#000"/>
<rect x="1064.92" y="1582.01" width="4" height="4" fill="#000"/>
<circle cx="1079.69" cy="1592.66" r="2.1" fill="#000"/>
<circle cx="1079.44" cy="1595.94" r="2.1" fill="#000"/>
<circle cx="1079.03" cy="1594.11" r="2.1" fill="#000"/>
<circle cx="1078.54" cy="1592.34" r="2.1" fill="#000"/>
<rect x="1084.71" y="1581.98" width="4" height="4" fill="#000"/>
<rect x="1084.68" y="1588.69" width="4" height="4" fill="#000"/>
<rect x="1085.22" y="1593.94" width="4" height="4" fill="#000"/>
<rect x="1084.95" y="1578.81" width="4" height="4" fill="#000"/>
<circle cx="1099.64" cy="1586.23" r="2.1" fill="#000"/>
<circle cx="1099.54" cy="1593.58" r="2.1" fill="#000"/>
<circle cx="1099.02" cy="1591.17" r="2.1" fill="#000"/>
<circle cx="1099.5" cy="1595.94" r="2.1" fill="#000"/>
<rect x="1105.11" y="1593.94" width="4" height="4" fill="#000"/>
<rect x="1104.36" y="1593.94" width="4" height="4" fill="#000"/>
<rect x="1105.41" y="1593.94" width="4" height="4" fill="#000"/>
<rect x="1105.13" y="1586.86" width="4" height="4" fill="#000"/>
<circle cx="1119.88" cy="1578.12" r="2.1" fill="#000"/>
<circle cx="1119.73" cy="1592.01" r="2.1" fill="#000"/>
<circle cx="1119.12" cy="1582.44" r="2.1" fill="#000"/>
<circle cx="1119.98" cy="1595.94" r="2.1" fill="#000"/>
<rect x="1125.3" y="1586.65" width="4" height="4" fill="#000"/>
<rect x="1124.83" y="1579.49" width="4" height="4" fill="#000"/>
<rect x="1125.33" y="1588.91" width="4" height="4" fill="#000"/>
<rect x="1125.12" y="1593.62" width="4" height="4" fill="#000"/>
<circle cx="1139.5" cy="1595.94" r="2.1" fill="#000"/>
<circle cx="1140.41" cy="1595.94" r="2.1" fill="#000"/>
<circle cx="1139.83" cy="1594.81" r="2.1" fill="#000"/>
<circle cx="1140.25" cy="1595.03" r="2.1" fill="#000"/>
<rect x="1145.66" y="1592.86" width="4" height="4" fill="#000"/>
<rect x="1145.25" y="1593.94" width="4" height="4" fill="#000"/>
<rect x="1144.88" y="1593.87" width="4" height="4" fill="#000"/>
<rect x="1144.95" y="1585.65" width="4" height="4" fill="#000"/>
<line x1="850.2" y1="1391.7" x2="850.2" y2="1596" stroke="#333" stroke-width="0.9" stroke-dasharray="1.2,1.2"/>
<line x1="869.7" y1="1391.7" x2="869.7" y2="1596" stroke="#333" stroke-width="0.9" stroke-dasharray="1.2,1.2"/>
<line x1="891.6" y1="1391.7" x2="891.6" y2="1596" stroke="#333" stroke-width="0.9" stroke-dasharray="1.2,1.2"/>
<line x1="911.1" y1="1391.7" x2="911.1" y2="1596" stroke="#333" stroke-width="0.9" stroke-dasharray="1.2,1.2"/>
<text x="860" y="1407" font-size="13.5" font-weight="bold" stroke="#000" stroke-width="0.27" text-anchor="middle">a</text>
<text x="860" y="1428.8" font-size="21" stroke="#0000ff" stroke-width="0.33" text-anchor="middle" fill="#0000ff">**</text>
<text x="880.7" y="1407" font-size="13.5" font-weight="bold" stroke="#000" stroke-width="0.27" text-anchor="middle">b</text>
<text x="880.7" y="1428.8" font-size="21" stroke="#0000ff" stroke-width="0.33" text-anchor="middle" fill="#0000ff">**</text>
<text x="901.4" y="1407" font-size="13.5" font-weight="bold" stroke="#000" stroke-width="0.27" text-anchor="middle">c</text>
<text x="901.4" y="1428.8" font-size="21" stroke="#0000ff" stroke-width="0.33" text-anchor="middle" fill="#0000ff">**</text>
<text x="1116.1" y="1299.3" font-size="40" font-weight="bold" fill="#262626" textLength="39.3" lengthAdjust="spacingAndGlyphs" stroke="#262626" stroke-width="1.1" stroke-linejoin="round">H)</text>
<text x="1373.3" y="1306.9" font-size="30.8" font-weight="bold" stroke="#262626" stroke-width="0.48" fill="#262626" textLength="81.5" lengthAdjust="spacingAndGlyphs">18 mo</text>
<line x1="1210.4" y1="1344.15" x2="1210.4" y2="1597.5" stroke="#000" stroke-width="2.5"/>
<line x1="1201.1" y1="1597.5" x2="1694" y2="1597.5" stroke="#000" stroke-width="2.5"/>
<line x1="1201.1" y1="1597.5" x2="1210.1" y2="1597.5" stroke="#000" stroke-width="2.5"/>
<text x="1199" y="1602.3" font-size="13.6" font-weight="bold" stroke="#000" stroke-width="0.27" text-anchor="end">0</text>
<line x1="1201.1" y1="1513.05" x2="1210.1" y2="1513.05" stroke="#000" stroke-width="2.5"/>
<text x="1199" y="1517.85" font-size="13.6" font-weight="bold" stroke="#000" stroke-width="0.27" text-anchor="end">5</text>
<line x1="1201.1" y1="1428.6" x2="1210.1" y2="1428.6" stroke="#000" stroke-width="2.5"/>
<text x="1199" y="1433.4" font-size="13.6" font-weight="bold" stroke="#000" stroke-width="0.27" text-anchor="end">10</text>
<line x1="1201.1" y1="1344.15" x2="1210.1" y2="1344.15" stroke="#000" stroke-width="2.5"/>
<text x="1199" y="1348.95" font-size="13.6" font-weight="bold" stroke="#000" stroke-width="0.27" text-anchor="end">15</text>
<line x1="1210.1" y1="1597.5" x2="1210.1" y2="1606.5" stroke="#000" stroke-width="2.5"/>
<text x="1210.1" y="1623.4" font-size="13.6" font-weight="bold" stroke="#000" stroke-width="0.27" text-anchor="middle">0</text>
<line x1="1250.31" y1="1597.5" x2="1250.31" y2="1606.5" stroke="#000" stroke-width="2.5"/>
<text x="1250.31" y="1623.4" font-size="13.6" font-weight="bold" stroke="#000" stroke-width="0.27" text-anchor="middle">500</text>
<line x1="1290.52" y1="1597.5" x2="1290.52" y2="1606.5" stroke="#000" stroke-width="2.5"/>
<text x="1290.52" y="1623.4" font-size="13.6" font-weight="bold" stroke="#000" stroke-width="0.27" text-anchor="middle">1000</text>
<line x1="1330.72" y1="1597.5" x2="1330.72" y2="1606.5" stroke="#000" stroke-width="2.5"/>
<text x="1330.72" y="1623.4" font-size="13.6" font-weight="bold" stroke="#000" stroke-width="0.27" text-anchor="middle">1500</text>
<line x1="1370.93" y1="1597.5" x2="1370.93" y2="1606.5" stroke="#000" stroke-width="2.5"/>
<text x="1370.93" y="1623.4" font-size="13.6" font-weight="bold" stroke="#000" stroke-width="0.27" text-anchor="middle">2000</text>
<line x1="1411.14" y1="1597.5" x2="1411.14" y2="1606.5" stroke="#000" stroke-width="2.5"/>
<text x="1411.14" y="1623.4" font-size="13.6" font-weight="bold" stroke="#000" stroke-width="0.27" text-anchor="middle">2500</text>
<line x1="1451.35" y1="1597.5" x2="1451.35" y2="1606.5" stroke="#000" stroke-width="2.5"/>
<text x="1451.35" y="1623.4" font-size="13.6" font-weight="bold" stroke="#000" stroke-width="0.27" text-anchor="middle">3000</text>
<line x1="1491.56" y1="1597.5" x2="1491.56" y2="1606.5" stroke="#000" stroke-width="2.5"/>
<text x="1491.56" y="1623.4" font-size="13.6" font-weight="bold" stroke="#000" stroke-width="0.27" text-anchor="middle">3500</text>
<line x1="1531.77" y1="1597.5" x2="1531.77" y2="1606.5" stroke="#000" stroke-width="2.5"/>
<text x="1531.77" y="1623.4" font-size="13.6" font-weight="bold" stroke="#000" stroke-width="0.27" text-anchor="middle">4000</text>
<line x1="1571.97" y1="1597.5" x2="1571.97" y2="1606.5" stroke="#000" stroke-width="2.5"/>
<text x="1571.97" y="1623.4" font-size="13.6" font-weight="bold" stroke="#000" stroke-width="0.27" text-anchor="middle">4500</text>
<line x1="1612.18" y1="1597.5" x2="1612.18" y2="1606.5" stroke="#000" stroke-width="2.5"/>
<text x="1612.18" y="1623.4" font-size="13.6" font-weight="bold" stroke="#000" stroke-width="0.27" text-anchor="middle">5000</text>
<line x1="1652.39" y1="1597.5" x2="1652.39" y2="1606.5" stroke="#000" stroke-width="2.5"/>
<text x="1652.39" y="1623.4" font-size="13.6" font-weight="bold" stroke="#000" stroke-width="0.27" text-anchor="middle">5500</text>
<line x1="1692.6" y1="1597.5" x2="1692.6" y2="1606.5" stroke="#000" stroke-width="2.5"/>
<text x="1692.6" y="1623.4" font-size="13.6" font-weight="bold" stroke="#000" stroke-width="0.27" text-anchor="middle">6000</text>
<text x="1370.7" y="1648.7" font-size="16.06" font-weight="bold" stroke="#000" stroke-width="0.32" textLength="162.4" lengthAdjust="spacingAndGlyphs">Cross-Sectional Area</text>
<text x="1170.2" y="1473.2" font-size="17.63" font-weight="bold" stroke="#000" stroke-width="0.35" text-anchor="middle" textLength="122.4" lengthAdjust="spacingAndGlyphs" transform="rotate(-90 1170.2 1473.2)">% of total fiber</text>
<rect x="1224.4" y="1494.81" width="4.6" height="102.69" fill="#6e6e6e" stroke="#000" stroke-width="1"/>
<line x1="1226.7" y1="1494.81" x2="1226.7" y2="1482.59" stroke="#000" stroke-width="1"/>
<line x1="1224.9" y1="1482.59" x2="1228.5" y2="1482.59" stroke="#000" stroke-width="1"/>
<rect x="1232.1" y="1519.81" width="4.6" height="77.69" fill="#ff6a6a" stroke="#ff1f1f" stroke-width="1"/>
<line x1="1234.4" y1="1519.81" x2="1234.4" y2="1511.66" stroke="#000" stroke-width="1"/>
<line x1="1232.6" y1="1511.66" x2="1236.2" y2="1511.66" stroke="#000" stroke-width="1"/>
<rect x="1244.15" y="1553.59" width="4.6" height="43.91" fill="#6e6e6e" stroke="#000" stroke-width="1"/>
<line x1="1246.45" y1="1553.59" x2="1246.45" y2="1544.72" stroke="#000" stroke-width="1"/>
<line x1="1244.65" y1="1544.72" x2="1248.25" y2="1544.72" stroke="#000" stroke-width="1"/>
<rect x="1251.85" y="1535.51" width="4.6" height="61.99" fill="#ff6a6a" stroke="#ff1f1f" stroke-width="1"/>
<line x1="1254.15" y1="1535.51" x2="1254.15" y2="1524.36" stroke="#000" stroke-width="1"/>
<line x1="1252.35" y1="1524.36" x2="1255.95" y2="1524.36" stroke="#000" stroke-width="1"/>
<rect x="1263.9" y="1526.22" width="4.6" height="71.28" fill="#6e6e6e" stroke="#000" stroke-width="1"/>
<line x1="1266.2" y1="1526.22" x2="1266.2" y2="1516.03" stroke="#000" stroke-width="1"/>
<line x1="1264.4" y1="1516.03" x2="1268" y2="1516.03" stroke="#000" stroke-width="1"/>
<rect x="1271.6" y="1496.33" width="4.6" height="101.17" fill="#ff6a6a" stroke="#ff1f1f" stroke-width="1"/>
<line x1="1273.9" y1="1496.33" x2="1273.9" y2="1477.61" stroke="#000" stroke-width="1"/>
<line x1="1272.1" y1="1477.61" x2="1275.7" y2="1477.61" stroke="#000" stroke-width="1"/>
<rect x="1283.65" y="1423.2" width="4.6" height="174.3" fill="#6e6e6e" stroke="#000" stroke-width="1"/>
<line x1="1285.95" y1="1423.2" x2="1285.95" y2="1402.72" stroke="#000" stroke-width="1"/>
<line x1="1284.15" y1="1402.72" x2="1287.75" y2="1402.72" stroke="#000" stroke-width="1"/>
<rect x="1291.35" y="1361.38" width="4.6" height="236.12" fill="#ff6a6a" stroke="#ff1f1f" stroke-width="1"/>
<line x1="1293.65" y1="1361.38" x2="1293.65" y2="1327.78" stroke="#000" stroke-width="1"/>
<line x1="1291.85" y1="1327.78" x2="1295.45" y2="1327.78" stroke="#000" stroke-width="1"/>
<rect x="1303.4" y="1405.97" width="4.6" height="191.53" fill="#6e6e6e" stroke="#000" stroke-width="1"/>
<line x1="1305.7" y1="1405.97" x2="1305.7" y2="1382.1" stroke="#000" stroke-width="1"/>
<line x1="1303.9" y1="1382.1" x2="1307.5" y2="1382.1" stroke="#000" stroke-width="1"/>
<rect x="1311.1" y="1315.94" width="4.6" height="281.56" fill="#ff6a6a" stroke="#ff1f1f" stroke-width="1"/>
<line x1="1313.4" y1="1315.94" x2="1313.4" y2="1277.71" stroke="#000" stroke-width="1"/>
<line x1="1311.6" y1="1277.71" x2="1315.2" y2="1277.71" stroke="#000" stroke-width="1"/>
<rect x="1323.15" y="1404.45" width="4.6" height="193.05" fill="#6e6e6e" stroke="#000" stroke-width="1"/>
<line x1="1325.45" y1="1404.45" x2="1325.45" y2="1380.68" stroke="#000" stroke-width="1"/>
<line x1="1323.65" y1="1380.68" x2="1327.25" y2="1380.68" stroke="#000" stroke-width="1"/>
<rect x="1330.85" y="1344.99" width="4.6" height="252.51" fill="#ff6a6a" stroke="#ff1f1f" stroke-width="1"/>
<line x1="1333.15" y1="1344.99" x2="1333.15" y2="1324.59" stroke="#000" stroke-width="1"/>
<line x1="1331.35" y1="1324.59" x2="1334.95" y2="1324.59" stroke="#000" stroke-width="1"/>
<rect x="1342.9" y="1412.39" width="4.6" height="185.11" fill="#6e6e6e" stroke="#000" stroke-width="1"/>
<line x1="1345.2" y1="1412.39" x2="1345.2" y2="1393.14" stroke="#000" stroke-width="1"/>
<line x1="1343.4" y1="1393.14" x2="1347" y2="1393.14" stroke="#000" stroke-width="1"/>
<rect x="1350.6" y="1376.24" width="4.6" height="221.26" fill="#ff6a6a" stroke="#ff1f1f" stroke-width="1"/>
<line x1="1352.9" y1="1376.24" x2="1352.9" y2="1347.84" stroke="#000" stroke-width="1"/>
<line x1="1351.1" y1="1347.84" x2="1354.7" y2="1347.84" stroke="#000" stroke-width="1"/>
<rect x="1362.65" y="1420.32" width="4.6" height="177.18" fill="#6e6e6e" stroke="#000" stroke-width="1"/>
<line x1="1364.95" y1="1420.32" x2="1364.95" y2="1401.46" stroke="#000" stroke-width="1"/>
<line x1="1363.15" y1="1401.46" x2="1366.75" y2="1401.46" stroke="#000" stroke-width="1"/>
<rect x="1370.35" y="1415.59" width="4.6" height="181.91" fill="#ff6a6a" stroke="#ff1f1f" stroke-width="1"/>
<line x1="1372.65" y1="1415.59" x2="1372.65" y2="1395.01" stroke="#000" stroke-width="1"/>
<line x1="1370.85" y1="1395.01" x2="1374.45" y2="1395.01" stroke="#000" stroke-width="1"/>
<rect x="1382.4" y="1428.09" width="4.6" height="169.41" fill="#6e6e6e" stroke="#000" stroke-width="1"/>
<line x1="1384.7" y1="1428.09" x2="1384.7" y2="1401.14" stroke="#000" stroke-width="1"/>
<line x1="1382.9" y1="1401.14" x2="1386.5" y2="1401.14" stroke="#000" stroke-width="1"/>
<rect x="1390.1" y="1432.99" width="4.6" height="164.51" fill="#ff6a6a" stroke="#ff1f1f" stroke-width="1"/>
<line x1="1392.4" y1="1432.99" x2="1392.4" y2="1410.69" stroke="#000" stroke-width="1"/>
<line x1="1390.6" y1="1410.69" x2="1394.2" y2="1410.69" stroke="#000" stroke-width="1"/>
<rect x="1402.15" y="1431.98" width="4.6" height="165.52" fill="#6e6e6e" stroke="#000" stroke-width="1"/>
<line x1="1404.45" y1="1431.98" x2="1404.45" y2="1412.39" stroke="#000" stroke-width="1"/>
<line x1="1402.65" y1="1412.39" x2="1406.25" y2="1412.39" stroke="#000" stroke-width="1"/>
<rect x="1409.85" y="1450.89" width="4.6" height="146.61" fill="#ff6a6a" stroke="#ff1f1f" stroke-width="1"/>
<line x1="1412.15" y1="1450.89" x2="1412.15" y2="1431.75" stroke="#000" stroke-width="1"/>
<line x1="1410.35" y1="1431.75" x2="1413.95" y2="1431.75" stroke="#000" stroke-width="1"/>
<rect x="1421.9" y="1442.11" width="4.6" height="155.39" fill="#6e6e6e" stroke="#000" stroke-width="1"/>
<line x1="1424.2" y1="1442.11" x2="1424.2" y2="1421" stroke="#000" stroke-width="1"/>
<line x1="1422.4" y1="1421" x2="1426" y2="1421" stroke="#000" stroke-width="1"/>
<rect x="1429.6" y="1476.74" width="4.6" height="120.76" fill="#ff6a6a" stroke="#ff1f1f" stroke-width="1"/>
<line x1="1431.9" y1="1476.74" x2="1431.9" y2="1461.8" stroke="#000" stroke-width="1"/>
<line x1="1430.1" y1="1461.8" x2="1433.7" y2="1461.8" stroke="#000" stroke-width="1"/>
<rect x="1441.65" y="1454.27" width="4.6" height="143.23" fill="#6e6e6e" stroke="#000" stroke-width="1"/>
<line x1="1443.95" y1="1454.27" x2="1443.95" y2="1433.52" stroke="#000" stroke-width="1"/>
<line x1="1442.15" y1="1433.52" x2="1445.75" y2="1433.52" stroke="#000" stroke-width="1"/>
<rect x="1449.35" y="1494.98" width="4.6" height="102.52" fill="#ff6a6a" stroke="#ff1f1f" stroke-width="1"/>
<line x1="1451.65" y1="1494.98" x2="1451.65" y2="1481.46" stroke="#000" stroke-width="1"/>
<line x1="1449.85" y1="1481.46" x2="1453.45" y2="1481.46" stroke="#000" stroke-width="1"/>
<rect x="1461.4" y="1479.27" width="4.6" height="118.23" fill="#6e6e6e" stroke="#000" stroke-width="1"/>
<line x1="1463.7" y1="1479.27" x2="1463.7" y2="1460.27" stroke="#000" stroke-width="1"/>
<line x1="1461.9" y1="1460.27" x2="1465.5" y2="1460.27" stroke="#000" stroke-width="1"/>
<rect x="1469.1" y="1532.47" width="4.6" height="65.03" fill="#ff6a6a" stroke="#ff1f1f" stroke-width="1"/>
<line x1="1471.4" y1="1532.47" x2="1471.4" y2="1522.66" stroke="#000" stroke-width="1"/>
<line x1="1469.6" y1="1522.66" x2="1473.2" y2="1522.66" stroke="#000" stroke-width="1"/>
<rect x="1481.15" y="1510.18" width="4.6" height="87.32" fill="#6e6e6e" stroke="#000" stroke-width="1"/>
<line x1="1483.45" y1="1510.18" x2="1483.45" y2="1497.15" stroke="#000" stroke-width="1"/>
<line x1="1481.65" y1="1497.15" x2="1485.25" y2="1497.15" stroke="#000" stroke-width="1"/>
<rect x="1488.85" y="1560.34" width="4.6" height="37.16" fill="#ff6a6a" stroke="#ff1f1f" stroke-width="1"/>
<line x1="1491.15" y1="1560.34" x2="1491.15" y2="1550.17" stroke="#000" stroke-width="1"/>
<line x1="1489.35" y1="1550.17" x2="1492.95" y2="1550.17" stroke="#000" stroke-width="1"/>
<rect x="1500.9" y="1543.96" width="4.6" height="53.54" fill="#6e6e6e" stroke="#000" stroke-width="1"/>
<line x1="1503.2" y1="1543.96" x2="1503.2" y2="1534.5" stroke="#000" stroke-width="1"/>
<line x1="1501.4" y1="1534.5" x2="1505" y2="1534.5" stroke="#000" stroke-width="1"/>
<rect x="1508.6" y="1576.56" width="4.6" height="20.94" fill="#ff6a6a" stroke="#ff1f1f" stroke-width="1"/>
<line x1="1510.9" y1="1576.56" x2="1510.9" y2="1570.64" stroke="#000" stroke-width="1"/>
<line x1="1509.1" y1="1570.64" x2="1512.7" y2="1570.64" stroke="#000" stroke-width="1"/>
<rect x="1520.65" y="1566.08" width="4.6" height="31.42" fill="#6e6e6e" stroke="#000" stroke-width="1"/>
<line x1="1522.95" y1="1566.08" x2="1522.95" y2="1559.44" stroke="#000" stroke-width="1"/>
<line x1="1521.15" y1="1559.44" x2="1524.75" y2="1559.44" stroke="#000" stroke-width="1"/>
<rect x="1528.35" y="1592.94" width="4.6" height="4.56" fill="#ff6a6a" stroke="#ff1f1f" stroke-width="1"/>
<line x1="1530.65" y1="1592.94" x2="1530.65" y2="1588.42" stroke="#000" stroke-width="1"/>
<line x1="1528.85" y1="1588.42" x2="1532.45" y2="1588.42" stroke="#000" stroke-width="1"/>
<rect x="1540.4" y="1576.56" width="4.6" height="20.94" fill="#6e6e6e" stroke="#000" stroke-width="1"/>
<line x1="1542.7" y1="1576.56" x2="1542.7" y2="1570.22" stroke="#000" stroke-width="1"/>
<line x1="1540.9" y1="1570.22" x2="1544.5" y2="1570.22" stroke="#000" stroke-width="1"/>
<rect x="1548.1" y="1589.56" width="4.6" height="7.94" fill="#ff6a6a" stroke="#ff1f1f" stroke-width="1"/>
<line x1="1550.4" y1="1589.56" x2="1550.4" y2="1585.75" stroke="#000" stroke-width="1"/>
<line x1="1548.6" y1="1585.75" x2="1552.2" y2="1585.75" stroke="#000" stroke-width="1"/>
<rect x="1560.15" y="1584.66" width="4.6" height="12.84" fill="#6e6e6e" stroke="#000" stroke-width="1"/>
<line x1="1562.45" y1="1584.66" x2="1562.45" y2="1581.42" stroke="#000" stroke-width="1"/>
<line x1="1560.65" y1="1581.42" x2="1564.25" y2="1581.42" stroke="#000" stroke-width="1"/>
<rect x="1567.85" y="1592.1" width="4.6" height="5.4" fill="#ff6a6a" stroke="#ff1f1f" stroke-width="1"/>
<line x1="1570.15" y1="1592.1" x2="1570.15" y2="1587.67" stroke="#000" stroke-width="1"/>
<line x1="1568.35" y1="1587.67" x2="1571.95" y2="1587.67" stroke="#000" stroke-width="1"/>
<rect x="1579.9" y="1589.56" width="4.6" height="7.94" fill="#6e6e6e" stroke="#000" stroke-width="1"/>
<line x1="1582.2" y1="1589.56" x2="1582.2" y2="1585.31" stroke="#000" stroke-width="1"/>
<line x1="1580.4" y1="1585.31" x2="1584" y2="1585.31" stroke="#000" stroke-width="1"/>
<rect x="1587.6" y="1592.94" width="4.6" height="4.56" fill="#ff6a6a" stroke="#ff1f1f" stroke-width="1"/>
<line x1="1589.9" y1="1592.94" x2="1589.9" y2="1590.17" stroke="#000" stroke-width="1"/>
<line x1="1588.1" y1="1590.17" x2="1591.7" y2="1590.17" stroke="#000" stroke-width="1"/>
<rect x="1599.65" y="1592.1" width="4.6" height="5.4" fill="#6e6e6e" stroke="#000" stroke-width="1"/>
<line x1="1601.95" y1="1592.1" x2="1601.95" y2="1588.61" stroke="#000" stroke-width="1"/>
<line x1="1600.15" y1="1588.61" x2="1603.75" y2="1588.61" stroke="#000" stroke-width="1"/>
<rect x="1607.35" y="1593.78" width="4.6" height="3.72" fill="#ff6a6a" stroke="#ff1f1f" stroke-width="1"/>
<line x1="1609.65" y1="1593.78" x2="1609.65" y2="1590.46" stroke="#000" stroke-width="1"/>
<line x1="1607.85" y1="1590.46" x2="1611.45" y2="1590.46" stroke="#000" stroke-width="1"/>
<rect x="1619.4" y="1593.78" width="4.6" height="3.72" fill="#6e6e6e" stroke="#000" stroke-width="1"/>
<line x1="1621.7" y1="1593.78" x2="1621.7" y2="1590.63" stroke="#000" stroke-width="1"/>
<line x1="1619.9" y1="1590.63" x2="1623.5" y2="1590.63" stroke="#000" stroke-width="1"/>
<rect x="1627.1" y="1592.94" width="4.6" height="4.56" fill="#ff6a6a" stroke="#ff1f1f" stroke-width="1"/>
<line x1="1629.4" y1="1592.94" x2="1629.4" y2="1588.71" stroke="#000" stroke-width="1"/>
<line x1="1627.6" y1="1588.71" x2="1631.2" y2="1588.71" stroke="#000" stroke-width="1"/>
<rect x="1639.15" y="1594.46" width="4.6" height="3.04" fill="#6e6e6e" stroke="#000" stroke-width="1"/>
<line x1="1641.45" y1="1594.46" x2="1641.45" y2="1592.03" stroke="#000" stroke-width="1"/>
<line x1="1639.65" y1="1592.03" x2="1643.25" y2="1592.03" stroke="#000" stroke-width="1"/>
<rect x="1646.85" y="1594.12" width="4.6" height="3.38" fill="#ff6a6a" stroke="#ff1f1f" stroke-width="1"/>
<line x1="1649.15" y1="1594.12" x2="1649.15" y2="1590.47" stroke="#000" stroke-width="1"/>
<line x1="1647.35" y1="1590.47" x2="1650.95" y2="1590.47" stroke="#000" stroke-width="1"/>
<rect x="1658.9" y="1594.46" width="4.6" height="3.04" fill="#6e6e6e" stroke="#000" stroke-width="1"/>
<line x1="1661.2" y1="1594.46" x2="1661.2" y2="1591.92" stroke="#000" stroke-width="1"/>
<line x1="1659.4" y1="1591.92" x2="1663" y2="1591.92" stroke="#000" stroke-width="1"/>
<rect x="1666.6" y="1594.12" width="4.6" height="3.38" fill="#ff6a6a" stroke="#ff1f1f" stroke-width="1"/>
<line x1="1668.9" y1="1594.12" x2="1668.9" y2="1591.27" stroke="#000" stroke-width="1"/>
<line x1="1667.1" y1="1591.27" x2="1670.7" y2="1591.27" stroke="#000" stroke-width="1"/>
<rect x="1678.65" y="1593.78" width="4.6" height="3.72" fill="#6e6e6e" stroke="#000" stroke-width="1"/>
<line x1="1680.95" y1="1593.78" x2="1680.95" y2="1590.38" stroke="#000" stroke-width="1"/>
<line x1="1679.15" y1="1590.38" x2="1682.75" y2="1590.38" stroke="#000" stroke-width="1"/>
<rect x="1686.35" y="1594.12" width="4.6" height="3.38" fill="#ff6a6a" stroke="#ff1f1f" stroke-width="1"/>
<line x1="1688.65" y1="1594.12" x2="1688.65" y2="1590.82" stroke="#000" stroke-width="1"/>
<line x1="1686.85" y1="1590.82" x2="1690.45" y2="1590.82" stroke="#000" stroke-width="1"/>
<path d="M1228.8,1541.2C1230.2,1540.7 1234.7,1539.4 1237.4,1538.2C1240.1,1537 1242.2,1536.2 1245.1,1534.3C1248,1532.3 1251,1530.1 1254.6,1526.5C1258.2,1522.9 1263.1,1516.1 1266.6,1512.8C1270,1509.5 1272.4,1509.7 1275.3,1506.7C1278.2,1503.7 1281,1497.9 1283.9,1494.7C1286.8,1491.5 1289.6,1490.4 1292.5,1487.8C1295.4,1485.2 1298.2,1481.9 1301.1,1479.2C1304,1476.5 1306.1,1474.6 1309.7,1471.4C1313.3,1468.2 1318.4,1463.5 1322.6,1460.3C1326.8,1457.1 1329.8,1455 1335,1452.5C1340.2,1450 1347,1446.9 1354.1,1445.4C1361.2,1444 1369.8,1443.2 1377.6,1443.8C1385.4,1444.4 1393.3,1445.8 1401.2,1449.3C1409.1,1452.8 1418.2,1460 1424.7,1464.5C1431.2,1469 1433.9,1471 1440,1476.5C1446.1,1482 1454.1,1490.5 1461.2,1497.7C1468.3,1504.9 1475.3,1512.4 1482.4,1519.7C1489.5,1527 1496.6,1535 1503.7,1541.8C1510.8,1548.6 1517.8,1554.9 1524.9,1560.5C1532,1566.1 1539,1570.8 1546.1,1575.2C1553.2,1579.6 1560.5,1583.6 1567.3,1586.7C1574.1,1589.8 1580.9,1592.4 1586.9,1594C1592.9,1595.6 1597.8,1596.2 1603.2,1596.5C1608.6,1596.8 1612.7,1596 1619.5,1595.6C1626.3,1595.2 1637.2,1594.4 1644,1594C1650.8,1593.6 1654.8,1593.1 1660.3,1593.2C1665.8,1593.3 1672.3,1594 1676.7,1594.8C1681.1,1595.6 1684.8,1597.5 1686.4,1598" fill="none" stroke="#000" stroke-width="2" stroke-linejoin="round" stroke-linecap="round"/>
<path d="M1228.8,1571.3C1230.1,1567.4 1234.1,1555.8 1236.5,1548.1C1238.9,1540.3 1241,1532.3 1243.4,1524.8C1245.9,1517.3 1248.8,1509.8 1251.2,1503.3C1253.6,1496.8 1255.4,1491.8 1258,1486.1C1260.6,1480.4 1263.7,1474.1 1266.6,1468.9C1269.5,1463.7 1272.4,1459.4 1275.3,1455.1C1278.2,1450.8 1281,1446.7 1283.9,1443C1286.8,1439.3 1289.6,1435.7 1292.5,1432.7C1295.4,1429.7 1298.2,1427.3 1301.1,1425C1304,1422.7 1306.8,1420.6 1309.7,1418.9C1312.6,1417.2 1314.6,1415.5 1318.3,1414.6C1322,1413.6 1327.3,1412.9 1332,1413.2C1336.7,1413.5 1339.9,1413.8 1346.2,1416.4C1352.5,1419 1362,1423.4 1369.8,1428.9C1377.6,1434.4 1385.4,1441.2 1393.3,1449.3C1401.2,1457.4 1409.5,1468.8 1416.9,1477.6C1424.4,1486.4 1430.6,1493.6 1438,1502C1445.4,1510.4 1453.8,1519.8 1461.2,1527.9C1468.6,1536 1475.3,1543.6 1482.4,1550.7C1489.5,1557.8 1496.6,1564.3 1503.7,1570.3C1510.8,1576.3 1517.8,1582.2 1524.9,1586.7C1532,1591.2 1536.9,1595.5 1546.1,1597.3C1555.3,1599.1 1569.1,1597.6 1580,1597.6C1590.9,1597.6 1603.5,1598.2 1611.4,1597.3C1619.4,1596.4 1620.9,1593.6 1627.7,1592.4C1634.5,1591.2 1645.4,1590 1652.2,1589.9C1659,1589.8 1663.1,1590.2 1668.5,1591.6C1673.9,1592.9 1682.1,1596.9 1684.8,1598" fill="none" stroke="#ff0000" stroke-width="2" stroke-linejoin="round" stroke-linecap="round"/>
<circle cx="1226.74" cy="1366.11" r="2.1" fill="#000"/>
<circle cx="1226.57" cy="1474.2" r="2.1" fill="#000"/>
<circle cx="1226.8" cy="1507.98" r="2.1" fill="#000"/>
<circle cx="1226.83" cy="1553.59" r="2.1" fill="#000"/>
<circle cx="1226.27" cy="1562.03" r="2.1" fill="#000"/>
<rect x="1232.74" y="1475.58" width="4" height="4" fill="#000"/>
<rect x="1232.16" y="1478.96" width="4" height="4" fill="#000"/>
<rect x="1232.13" y="1511.05" width="4" height="4" fill="#000"/>
<rect x="1232.9" y="1521.18" width="4" height="4" fill="#000"/>
<rect x="1232.37" y="1539.76" width="4" height="4" fill="#000"/>
<rect x="1232.74" y="1560.03" width="4" height="4" fill="#000"/>
<circle cx="1246.59" cy="1484.34" r="2.1" fill="#000"/>
<circle cx="1246.1" cy="1556.96" r="2.1" fill="#000"/>
<circle cx="1246.58" cy="1567.1" r="2.1" fill="#000"/>
<circle cx="1246.82" cy="1587.37" r="2.1" fill="#000"/>
<rect x="1252.39" y="1507.67" width="4" height="4" fill="#000"/>
<rect x="1252.32" y="1514.43" width="4" height="4" fill="#000"/>
<rect x="1251.71" y="1539.76" width="4" height="4" fill="#000"/>
<rect x="1252.41" y="1554.96" width="4" height="4" fill="#000"/>
<rect x="1252.24" y="1563.41" width="4" height="4" fill="#000"/>
<circle cx="1265.73" cy="1462.38" r="2.1" fill="#000"/>
<circle cx="1266.57" cy="1523.18" r="2.1" fill="#000"/>
<circle cx="1266.17" cy="1545.14" r="2.1" fill="#000"/>
<circle cx="1266.42" cy="1562.03" r="2.1" fill="#000"/>
<rect x="1272.11" y="1478.96" width="4" height="4" fill="#000"/>
<rect x="1272.32" y="1487.4" width="4" height="4" fill="#000"/>
<rect x="1271.79" y="1495.85" width="4" height="4" fill="#000"/>
<rect x="1272.2" y="1502.61" width="4" height="4" fill="#000"/>
<circle cx="1286.39" cy="1396.51" r="2.1" fill="#000"/>
<circle cx="1286.33" cy="1401.58" r="2.1" fill="#000"/>
<circle cx="1285.55" cy="1413.4" r="2.1" fill="#000"/>
<circle cx="1285.59" cy="1455.62" r="2.1" fill="#000"/>
<circle cx="1285.67" cy="1467.45" r="2.1" fill="#000"/>
<rect x="1291.59" y="1328.64" width="4" height="4" fill="#000"/>
<rect x="1291.78" y="1332.02" width="4" height="4" fill="#000"/>
<rect x="1291.45" y="1347.22" width="4" height="4" fill="#000"/>
<rect x="1291.66" y="1355.66" width="4" height="4" fill="#000"/>
<rect x="1291.54" y="1364.11" width="4" height="4" fill="#000"/>
<rect x="1291.5" y="1424.91" width="4" height="4" fill="#000"/>
<circle cx="1305.78" cy="1339.08" r="2.1" fill="#000"/>
<circle cx="1306.1" cy="1389.75" r="2.1" fill="#000"/>
<circle cx="1305.88" cy="1396.51" r="2.1" fill="#000"/>
<circle cx="1306.13" cy="1431.98" r="2.1" fill="#000"/>
<circle cx="1306.06" cy="1457.31" r="2.1" fill="#000"/>
<rect x="1311.57" y="1288.1" width="4" height="4" fill="#000"/>
<rect x="1311.06" y="1294.86" width="4" height="4" fill="#000"/>
<rect x="1311.76" y="1304.99" width="4" height="4" fill="#000"/>
<rect x="1311.86" y="1321.88" width="4" height="4" fill="#000"/>
<rect x="1311.8" y="1353.97" width="4" height="4" fill="#000"/>
<circle cx="1325.66" cy="1342.46" r="2.1" fill="#000"/>
<circle cx="1325.16" cy="1367.8" r="2.1" fill="#000"/>
<circle cx="1325.78" cy="1396.51" r="2.1" fill="#000"/>
<circle cx="1325.52" cy="1408.33" r="2.1" fill="#000"/>
<circle cx="1325.23" cy="1482.65" r="2.1" fill="#000"/>
<rect x="1331.5" y="1303.3" width="4" height="4" fill="#000"/>
<rect x="1331.64" y="1321.88" width="4" height="4" fill="#000"/>
<rect x="1330.74" y="1333.7" width="4" height="4" fill="#000"/>
<rect x="1331.45" y="1352.28" width="4" height="4" fill="#000"/>
<rect x="1331.06" y="1369.17" width="4" height="4" fill="#000"/>
<rect x="1330.8" y="1382.69" width="4" height="4" fill="#000"/>
<circle cx="1345.47" cy="1374.55" r="2.1" fill="#000"/>
<circle cx="1345.57" cy="1384.69" r="2.1" fill="#000"/>
<circle cx="1344.74" cy="1410.02" r="2.1" fill="#000"/>
<circle cx="1345.31" cy="1426.91" r="2.1" fill="#000"/>
<circle cx="1344.74" cy="1442.11" r="2.1" fill="#000"/>
<rect x="1350.73" y="1333.7" width="4" height="4" fill="#000"/>
<rect x="1351.28" y="1345.53" width="4" height="4" fill="#000"/>
<rect x="1351.38" y="1369.17" width="4" height="4" fill="#000"/>
<rect x="1350.91" y="1379.31" width="4" height="4" fill="#000"/>
<rect x="1351.4" y="1406.33" width="4" height="4" fill="#000"/>
<circle cx="1364.53" cy="1379.62" r="2.1" fill="#000"/>
<circle cx="1365.05" cy="1411.71" r="2.1" fill="#000"/>
<circle cx="1364.48" cy="1440.42" r="2.1" fill="#000"/>
<circle cx="1364.65" cy="1464.07" r="2.1" fill="#000"/>
<rect x="1370.76" y="1374.24" width="4" height="4" fill="#000"/>
<rect x="1370.31" y="1386.06" width="4" height="4" fill="#000"/>
<rect x="1370.19" y="1413.09" width="4" height="4" fill="#000"/>
<rect x="1371.02" y="1421.53" width="4" height="4" fill="#000"/>
<rect x="1370.46" y="1445.18" width="4" height="4" fill="#000"/>
<circle cx="1385.1" cy="1413.4" r="2.1" fill="#000"/>
<circle cx="1384.58" cy="1430.29" r="2.1" fill="#000"/>
<circle cx="1384.66" cy="1459" r="2.1" fill="#000"/>
<circle cx="1384.72" cy="1475.89" r="2.1" fill="#000"/>
<rect x="1390.5" y="1413.09" width="4" height="4" fill="#000"/>
<rect x="1390.46" y="1419.84" width="4" height="4" fill="#000"/>
<rect x="1390.52" y="1429.98" width="4" height="4" fill="#000"/>
<rect x="1390.84" y="1443.49" width="4" height="4" fill="#000"/>
<rect x="1390.41" y="1458.69" width="4" height="4" fill="#000"/>
<circle cx="1404.67" cy="1383" r="2.1" fill="#000"/>
<circle cx="1404.19" cy="1426.91" r="2.1" fill="#000"/>
<circle cx="1404.25" cy="1445.49" r="2.1" fill="#000"/>
<circle cx="1404.93" cy="1464.07" r="2.1" fill="#000"/>
<rect x="1410.2" y="1429.98" width="4" height="4" fill="#000"/>
<rect x="1409.66" y="1441.8" width="4" height="4" fill="#000"/>
<rect x="1410.07" y="1458.69" width="4" height="4" fill="#000"/>
<rect x="1410.23" y="1463.76" width="4" height="4" fill="#000"/>
<rect x="1409.67" y="1470.51" width="4" height="4" fill="#000"/>
<circle cx="1424.33" cy="1383" r="2.1" fill="#000"/>
<circle cx="1423.76" cy="1431.98" r="2.1" fill="#000"/>
<circle cx="1424.33" cy="1437.05" r="2.1" fill="#000"/>
<circle cx="1424.17" cy="1472.51" r="2.1" fill="#000"/>
<circle cx="1424.38" cy="1499.54" r="2.1" fill="#000"/>
<rect x="1430.11" y="1435.05" width="4" height="4" fill="#000"/>
<rect x="1430.14" y="1463.76" width="4" height="4" fill="#000"/>
<rect x="1429.42" y="1482.34" width="4" height="4" fill="#000"/>
<rect x="1429.46" y="1487.4" width="4" height="4" fill="#000"/>
<circle cx="1444.41" cy="1426.91" r="2.1" fill="#000"/>
<circle cx="1443.7" cy="1438.73" r="2.1" fill="#000"/>
<circle cx="1443.91" cy="1450.56" r="2.1" fill="#000"/>
<circle cx="1444.04" cy="1472.51" r="2.1" fill="#000"/>
<circle cx="1443.77" cy="1506.29" r="2.1" fill="#000"/>
<rect x="1449.76" y="1501.2" width="4" height="4" fill="#000"/>
<rect x="1449.41" y="1473.2" width="4" height="4" fill="#000"/>
<rect x="1449.08" y="1520.49" width="4" height="4" fill="#000"/>
<rect x="1449.73" y="1466.2" width="4" height="4" fill="#000"/>
<circle cx="1464.06" cy="1485.76" r="2.1" fill="#000"/>
<circle cx="1463.39" cy="1462.89" r="2.1" fill="#000"/>
<circle cx="1463.94" cy="1469.1" r="2.1" fill="#000"/>
<circle cx="1463.22" cy="1454.76" r="2.1" fill="#000"/>
<rect x="1469.33" y="1545.99" width="4" height="4" fill="#000"/>
<rect x="1469.83" y="1503.76" width="4" height="4" fill="#000"/>
<rect x="1469.58" y="1523.29" width="4" height="4" fill="#000"/>
<rect x="1469.86" y="1517.55" width="4" height="4" fill="#000"/>
<circle cx="1483.49" cy="1508.6" r="2.1" fill="#000"/>
<circle cx="1483.08" cy="1500.21" r="2.1" fill="#000"/>
<circle cx="1483.07" cy="1496.92" r="2.1" fill="#000"/>
<circle cx="1483.18" cy="1545.75" r="2.1" fill="#000"/>
<rect x="1488.96" y="1571.83" width="4" height="4" fill="#000"/>
<rect x="1488.71" y="1575.06" width="4" height="4" fill="#000"/>
<rect x="1488.88" y="1563.83" width="4" height="4" fill="#000"/>
<rect x="1488.97" y="1538" width="4" height="4" fill="#000"/>
<circle cx="1503.7" cy="1556.97" r="2.1" fill="#000"/>
<circle cx="1502.79" cy="1536.78" r="2.1" fill="#000"/>
<circle cx="1503.66" cy="1509.29" r="2.1" fill="#000"/>
<circle cx="1503.78" cy="1542.94" r="2.1" fill="#000"/>
<rect x="1508.57" y="1554.38" width="4" height="4" fill="#000"/>
<rect x="1509.19" y="1581.09" width="4" height="4" fill="#000"/>
<rect x="1508.92" y="1567.48" width="4" height="4" fill="#000"/>
<rect x="1508.65" y="1586.24" width="4" height="4" fill="#000"/>
<circle cx="1523.06" cy="1565.51" r="2.1" fill="#000"/>
<circle cx="1522.69" cy="1562.02" r="2.1" fill="#000"/>
<circle cx="1523.43" cy="1564.86" r="2.1" fill="#000"/>
<circle cx="1523.18" cy="1569.17" r="2.1" fill="#000"/>
<rect x="1528.74" y="1579.6" width="4" height="4" fill="#000"/>
<rect x="1528.07" y="1594.66" width="4" height="4" fill="#000"/>
<rect x="1528.41" y="1591.06" width="4" height="4" fill="#000"/>
<rect x="1528.85" y="1594.66" width="4" height="4" fill="#000"/>
<circle cx="1542.83" cy="1595.33" r="2.1" fill="#000"/>
<circle cx="1542.51" cy="1565.26" r="2.1" fill="#000"/>
<circle cx="1542.67" cy="1576.84" r="2.1" fill="#000"/>
<circle cx="1543.04" cy="1558.14" r="2.1" fill="#000"/>
<rect x="1548.78" y="1584.68" width="4" height="4" fill="#000"/>
<rect x="1548.01" y="1579.16" width="4" height="4" fill="#000"/>
<rect x="1548.77" y="1583.37" width="4" height="4" fill="#000"/>
<rect x="1548.79" y="1594.66" width="4" height="4" fill="#000"/>
<circle cx="1561.91" cy="1595.63" r="2.1" fill="#000"/>
<circle cx="1562.18" cy="1596.14" r="2.1" fill="#000"/>
<circle cx="1562.36" cy="1585.8" r="2.1" fill="#000"/>
<circle cx="1562.42" cy="1574.98" r="2.1" fill="#000"/>
<rect x="1567.7" y="1587.82" width="4" height="4" fill="#000"/>
<rect x="1567.7" y="1590.07" width="4" height="4" fill="#000"/>
<rect x="1568.58" y="1573.39" width="4" height="4" fill="#000"/>
<rect x="1567.65" y="1582.44" width="4" height="4" fill="#000"/>
<circle cx="1582.02" cy="1592.07" r="2.1" fill="#000"/>
<circle cx="1582.38" cy="1583.85" r="2.1" fill="#000"/>
<circle cx="1581.83" cy="1595.37" r="2.1" fill="#000"/>
<circle cx="1581.99" cy="1593.08" r="2.1" fill="#000"/>
<rect x="1587.76" y="1594.66" width="4" height="4" fill="#000"/>
<rect x="1587.4" y="1594.54" width="4" height="4" fill="#000"/>
<rect x="1588.03" y="1588.15" width="4" height="4" fill="#000"/>
<rect x="1588.24" y="1585.16" width="4" height="4" fill="#000"/>
<circle cx="1601.87" cy="1589.11" r="2.1" fill="#000"/>
<circle cx="1601.8" cy="1596.66" r="2.1" fill="#000"/>
<circle cx="1601.85" cy="1596.66" r="2.1" fill="#000"/>
<circle cx="1602.18" cy="1591.84" r="2.1" fill="#000"/>
<rect x="1607.88" y="1591.54" width="4" height="4" fill="#000"/>
<rect x="1607.14" y="1583.73" width="4" height="4" fill="#000"/>
<rect x="1608.11" y="1594.66" width="4" height="4" fill="#000"/>
<rect x="1608.17" y="1588.67" width="4" height="4" fill="#000"/>
<circle cx="1621.41" cy="1584.56" r="2.1" fill="#000"/>
<circle cx="1621.66" cy="1596.66" r="2.1" fill="#000"/>
<circle cx="1621.89" cy="1585.26" r="2.1" fill="#000"/>
<circle cx="1622.16" cy="1585.46" r="2.1" fill="#000"/>
<rect x="1627.48" y="1594.66" width="4" height="4" fill="#000"/>
<rect x="1626.92" y="1594.66" width="4" height="4" fill="#000"/>
<rect x="1626.97" y="1591.5" width="4" height="4" fill="#000"/>
<rect x="1627.73" y="1591.28" width="4" height="4" fill="#000"/>
<circle cx="1641.91" cy="1592.01" r="2.1" fill="#000"/>
<circle cx="1641.06" cy="1592.86" r="2.1" fill="#000"/>
<circle cx="1641" cy="1582.31" r="2.1" fill="#000"/>
<circle cx="1641.86" cy="1592.65" r="2.1" fill="#000"/>
<rect x="1647.24" y="1583.92" width="4" height="4" fill="#000"/>
<rect x="1647.51" y="1594.66" width="4" height="4" fill="#000"/>
<rect x="1647.16" y="1581.39" width="4" height="4" fill="#000"/>
<rect x="1647.41" y="1589.63" width="4" height="4" fill="#000"/>
<circle cx="1660.67" cy="1594.56" r="2.1" fill="#000"/>
<circle cx="1660.99" cy="1596.66" r="2.1" fill="#000"/>
<circle cx="1660.89" cy="1596.66" r="2.1" fill="#000"/>
<circle cx="1660.82" cy="1596.66" r="2.1" fill="#000"/>
<rect x="1666.77" y="1594.66" width="4" height="4" fill="#000"/>
<rect x="1666.74" y="1594.66" width="4" height="4" fill="#000"/>
<rect x="1666.8" y="1594.66" width="4" height="4" fill="#000"/>
<rect x="1666.4" y="1588.5" width="4" height="4" fill="#000"/>
<circle cx="1681.25" cy="1587.17" r="2.1" fill="#000"/>
<circle cx="1680.54" cy="1594.92" r="2.1" fill="#000"/>
<circle cx="1681.16" cy="1596.66" r="2.1" fill="#000"/>
<circle cx="1680.97" cy="1596.66" r="2.1" fill="#000"/>
<rect x="1686.23" y="1594.66" width="4" height="4" fill="#000"/>
<rect x="1686.17" y="1594.66" width="4" height="4" fill="#000"/>
<rect x="1686.67" y="1592.29" width="4" height="4" fill="#000"/>
<rect x="1686.58" y="1594.66" width="4" height="4" fill="#000"/>
<line x1="1280.8" y1="1375.7" x2="1280.8" y2="1597" stroke="#333" stroke-width="0.9" stroke-dasharray="1.2,1.2"/>
<line x1="1300.7" y1="1375.7" x2="1300.7" y2="1597" stroke="#333" stroke-width="0.9" stroke-dasharray="1.2,1.2"/>
<line x1="1321" y1="1375.7" x2="1321" y2="1597" stroke="#333" stroke-width="0.9" stroke-dasharray="1.2,1.2"/>
<line x1="1340.8" y1="1375.7" x2="1340.8" y2="1597" stroke="#333" stroke-width="0.9" stroke-dasharray="1.2,1.2"/>
<line x1="1438.3" y1="1375.7" x2="1438.3" y2="1597" stroke="#333" stroke-width="0.9" stroke-dasharray="1.2,1.2"/>
<line x1="1458.3" y1="1375.7" x2="1458.3" y2="1597" stroke="#333" stroke-width="0.9" stroke-dasharray="1.2,1.2"/>
<line x1="1478.6" y1="1375.7" x2="1478.6" y2="1597" stroke="#333" stroke-width="0.9" stroke-dasharray="1.2,1.2"/>
<line x1="1498.4" y1="1375.7" x2="1498.4" y2="1597" stroke="#333" stroke-width="0.9" stroke-dasharray="1.2,1.2"/>
<text x="1287.3" y="1292.4" font-size="13.5" font-weight="bold" stroke="#000" stroke-width="0.27" text-anchor="middle">a</text>
<text x="1287.3" y="1310.8" font-size="21" stroke="#0000ff" stroke-width="0.33" text-anchor="middle" fill="#0000ff">**</text>
<text x="1310.3" y="1264.8" font-size="13.5" font-weight="bold" stroke="#000" stroke-width="0.27" text-anchor="middle">b</text>
<text x="1310.3" y="1283.8" font-size="21" stroke="#0000ff" stroke-width="0.33" text-anchor="middle" fill="#0000ff">**</text>
<text x="1332" y="1264.8" font-size="13.5" font-weight="bold" stroke="#000" stroke-width="0.27" text-anchor="middle">c</text>
<text x="1332" y="1284.5" font-size="21" stroke="#0000ff" stroke-width="0.33" text-anchor="middle" fill="#0000ff">*</text>
<text x="1448.2" y="1386.5" font-size="13.5" font-weight="bold" stroke="#000" stroke-width="0.27" text-anchor="middle">d</text>
<text x="1448.2" y="1408.6" font-size="21" stroke="#0000ff" stroke-width="0.33" text-anchor="middle" fill="#0000ff">*</text>
<text x="1470.5" y="1386.5" font-size="13.5" font-weight="bold" stroke="#000" stroke-width="0.27" text-anchor="middle">e</text>
<text x="1470.5" y="1408.6" font-size="21" stroke="#0000ff" stroke-width="0.33" text-anchor="middle" fill="#0000ff">*</text>
<text x="1489.6" y="1386.5" font-size="13.5" font-weight="bold" stroke="#000" stroke-width="0.27" text-anchor="middle">f</text>
<text x="1489.6" y="1408.6" font-size="21" stroke="#0000ff" stroke-width="0.33" text-anchor="middle" fill="#0000ff">*</text>
<line x1="1617.9" y1="1393.3" x2="1642.9" y2="1393.3" stroke="#000" stroke-width="2.2"/>
<line x1="1617.9" y1="1423.8" x2="1642.9" y2="1423.8" stroke="#ff0000" stroke-width="2.2"/>
<text x="1655.5" y="1398.6" font-size="16.6" stroke="#000" stroke-width="0.26">Ctrl</text>
<text x="1655.5" y="1429.5" font-size="16.6" stroke="#000" stroke-width="0.26">KO</text>
<text x="7.3" y="1743.7" font-size="35.6" font-weight="bold" fill="#262626" textLength="20" lengthAdjust="spacingAndGlyphs" stroke="#262626" stroke-width="1.1" stroke-linejoin="round">I)</text>
<text x="204.6" y="1712.8" font-size="30.8" font-weight="bold" stroke="#262626" stroke-width="0.48" fill="#262626" textLength="65.6" lengthAdjust="spacingAndGlyphs">9 mo</text>
<line x1="99.6" y1="1797.22" x2="99.6" y2="2012.5" stroke="#000" stroke-width="2.4"/>
<line x1="92.1" y1="2011.3" x2="99.6" y2="2011.3" stroke="#000" stroke-width="2.4"/>
<text x="86.9" y="2017.28" font-size="16.6" font-weight="bold" stroke="#000" stroke-width="0.33" text-anchor="end">0</text>
<line x1="92.1" y1="1957.78" x2="99.6" y2="1957.78" stroke="#000" stroke-width="2.4"/>
<text x="86.9" y="1963.76" font-size="16.6" font-weight="bold" stroke="#000" stroke-width="0.33" text-anchor="end">2</text>
<line x1="92.1" y1="1904.26" x2="99.6" y2="1904.26" stroke="#000" stroke-width="2.4"/>
<text x="86.9" y="1910.24" font-size="16.6" font-weight="bold" stroke="#000" stroke-width="0.33" text-anchor="end">4</text>
<line x1="92.1" y1="1850.74" x2="99.6" y2="1850.74" stroke="#000" stroke-width="2.4"/>
<text x="86.9" y="1856.72" font-size="16.6" font-weight="bold" stroke="#000" stroke-width="0.33" text-anchor="end">6</text>
<line x1="92.1" y1="1797.22" x2="99.6" y2="1797.22" stroke="#000" stroke-width="2.4"/>
<text x="86.9" y="1803.2" font-size="16.6" font-weight="bold" stroke="#000" stroke-width="0.33" text-anchor="end">8</text>
<line x1="91" y1="2011.3" x2="536.2" y2="2011.3" stroke="#000" stroke-width="2.6"/>
<line x1="131.8" y1="2011.3" x2="131.8" y2="2020.4" stroke="#000" stroke-width="2.6"/>
<text x="134.6" y="2036.5" font-size="15.8" font-weight="bold" stroke="#000" stroke-width="0.32" text-anchor="end" transform="rotate(-45 134.6 2036.5)">Atrogin1</text>
<line x1="206.1" y1="2011.3" x2="206.1" y2="2020.4" stroke="#000" stroke-width="2.6"/>
<text x="208.9" y="2036.5" font-size="15.8" font-weight="bold" stroke="#000" stroke-width="0.32" text-anchor="end" transform="rotate(-45 208.9 2036.5)">MURF1</text>
<line x1="280.4" y1="2011.3" x2="280.4" y2="2020.4" stroke="#000" stroke-width="2.6"/>
<text x="283.2" y="2036.5" font-size="15.8" font-weight="bold" stroke="#000" stroke-width="0.32" text-anchor="end" transform="rotate(-45 283.2 2036.5)">MUSA1</text>
<line x1="354.7" y1="2011.3" x2="354.7" y2="2020.4" stroke="#000" stroke-width="2.6"/>
<text x="357.5" y="2036.5" font-size="15.8" font-weight="bold" stroke="#000" stroke-width="0.32" text-anchor="end" transform="rotate(-45 357.5 2036.5)">FoxO1</text>
<line x1="429" y1="2011.3" x2="429" y2="2020.4" stroke="#000" stroke-width="2.6"/>
<text x="431.8" y="2036.5" font-size="15.8" font-weight="bold" stroke="#000" stroke-width="0.32" text-anchor="end" transform="rotate(-45 431.8 2036.5)">FoxO3</text>
<line x1="503.3" y1="2011.3" x2="503.3" y2="2020.4" stroke="#000" stroke-width="2.6"/>
<text x="506.1" y="2036.5" font-size="15.8" font-weight="bold" stroke="#000" stroke-width="0.32" text-anchor="end" transform="rotate(-45 506.1 2036.5)">FoxO4</text>
<text x="45.4" y="1904" font-size="17.4" font-weight="bold" stroke="#000" stroke-width="0.35" text-anchor="middle" textLength="105.7" lengthAdjust="spacingAndGlyphs" transform="rotate(-90 45.4 1904)">mRNA levels</text>
<text x="64.2" y="1904" font-size="17.4" font-weight="bold" stroke="#000" stroke-width="0.35" text-anchor="middle" textLength="127.4" lengthAdjust="spacingAndGlyphs" transform="rotate(-90 64.2 1904)">(relative to Ctrl)</text>
<text x="132.4" y="1777.6" font-size="17.1" stroke="#000" stroke-width="0.27" text-anchor="middle">p = 0.054</text>
<text x="206.3" y="1823.8" font-size="17.1" stroke="#000" stroke-width="0.27" text-anchor="middle">p = 0.088</text>
<text x="280.8" y="1777.6" font-size="17.1" stroke="#000" stroke-width="0.27" text-anchor="middle">p = 0.032</text>
<text x="429.3" y="1823.8" font-size="17.1" stroke="#000" stroke-width="0.27" text-anchor="middle">p = 0.052</text>
<text x="503" y="1777.6" font-size="17.1" stroke="#000" stroke-width="0.27" text-anchor="middle">p = 0.054</text>
<polyline points="118.4,1960.7 118.4,1788.1 146.2,1788.1 146.2,1960.7" fill="none" stroke="#000" stroke-width="2.6" stroke-linejoin="round"/>
<polyline points="192.6,1946.4 192.6,1835.5 220.3,1835.5 220.3,1848.6" fill="none" stroke="#000" stroke-width="2.6" stroke-linejoin="round"/>
<polyline points="266.4,1960 266.4,1788.1 294.3,1788.1 294.3,1915.5" fill="none" stroke="#000" stroke-width="2.6" stroke-linejoin="round"/>
<polyline points="415.2,1953.2 415.2,1835.5 442.8,1835.5 442.8,1954" fill="none" stroke="#000" stroke-width="2.6" stroke-linejoin="round"/>
<polyline points="489.5,1960.7 489.5,1788.1 517.4,1788.1 517.4,1960.7" fill="none" stroke="#000" stroke-width="2.6" stroke-linejoin="round"/>
<path d="M118.4,1972.8C118.5,1973.4 118.5,1974 118.7,1974.6C119,1975.4 120.7,1976.2 121.8,1977C123.2,1978.1 126.4,1979.2 126.4,1980.3C126.4,1981.2 121.8,1982.1 121.8,1983C121.8,1984.2 121.8,1985.3 121.8,1986.5C121.8,1987.7 118.8,1988.8 118.8,1990C118.8,1992 119.2,1994 119.8,1996C120.1,1997.3 122.1,1998.6 122.1,1999.9C122.1,2000.9 120.9,2002 119.8,2003C119.5,2003.3 118.6,2003.5 118.5,2003.8C118.5,2004 118.4,2004.2 118.4,2004.4C118.4,2004.2 118.3,2004 118.3,2003.8C118.2,2003.5 117.3,2003.3 117,2003C115.9,2002 114.7,2000.9 114.7,1999.9C114.7,1998.6 116.7,1997.3 117,1996C117.6,1994 118,1992 118,1990C118,1988.8 115,1987.7 115,1986.5C115,1985.3 115,1984.2 115,1983C115,1982.1 110.4,1981.2 110.4,1980.3C110.4,1979.2 113.6,1978.1 115,1977C116.1,1976.2 117.8,1975.4 118.1,1974.6C118.3,1974 118.3,1973.4 118.4,1972.8Z" fill="#808080" stroke="#000" stroke-width="1.25" stroke-linejoin="round"/>
<line x1="110.43" y1="1980.3" x2="126.38" y2="1980.3" stroke="#000" stroke-width="0.9"/>
<circle cx="118.4" cy="1980.5" r="1.2" fill="#000"/>
<circle cx="118.4" cy="1986.5" r="1.2" fill="#000"/>
<circle cx="118.4" cy="1999.9" r="1.2" fill="#000"/>
<path d="M146.2,1972.5C146.5,1972.8 146.6,1973.1 147,1973.5C147.7,1973.9 154.6,1974.4 154.6,1974.8C154.6,1975.5 152.4,1976.3 151.6,1977C150.8,1977.7 150.6,1978.3 149.6,1979C149,1979.4 146.8,1979.8 146.5,1980.2C146.3,1980.5 146.3,1980.8 146.2,1981.1C146.1,1980.8 146.1,1980.5 145.9,1980.2C145.6,1979.8 143.4,1979.4 142.8,1979C141.8,1978.3 141.6,1977.7 140.8,1977C140,1976.3 137.8,1975.5 137.8,1974.8C137.8,1974.4 144.7,1973.9 145.4,1973.5C145.8,1973.1 145.9,1972.8 146.2,1972.5Z" fill="#ffc9c3" stroke="#ff2000" stroke-width="1.25" stroke-linejoin="round"/>
<line x1="137.82" y1="1974.8" x2="154.57" y2="1974.8" stroke="#000" stroke-width="2"/>
<rect x="142.8" y="1973.8" width="2.4" height="2.4" fill="#000"/>
<rect x="147.3" y="1973.8" width="2.4" height="2.4" fill="#000"/>
<rect x="145" y="1976.3" width="2.4" height="2.4" fill="#000"/>
<path d="M192.6,1958.2C192.7,1959.3 192.8,1960.5 193,1961.6C193.4,1963.2 197.1,1964.7 197.1,1966.3C197.1,1968.2 194,1970.1 194,1972C194,1974.8 199.8,1977.5 199.8,1980.3C199.8,1981.8 195,1983.3 195,1984.8C195,1986.3 200.6,1987.9 200.6,1989.4C200.6,1991.9 194,1994.4 194,1996.9C194,1998.9 197,2000.9 197,2002.9C197,2004.4 193.4,2005.8 193,2007.3C192.8,2008.4 192.7,2009.4 192.6,2010.5C192.5,2009.4 192.4,2008.4 192.2,2007.3C191.8,2005.8 188.2,2004.4 188.2,2002.9C188.2,2000.9 191.2,1998.9 191.2,1996.9C191.2,1994.4 184.6,1991.9 184.6,1989.4C184.6,1987.9 190.2,1986.3 190.2,1984.8C190.2,1983.3 185.4,1981.8 185.4,1980.3C185.4,1977.5 191.2,1974.8 191.2,1972C191.2,1970.1 188.1,1968.2 188.1,1966.3C188.1,1964.7 191.8,1963.2 192.2,1961.6C192.4,1960.5 192.5,1959.3 192.6,1958.2Z" fill="#808080" stroke="#000" stroke-width="1.25" stroke-linejoin="round"/>
<circle cx="192.6" cy="1966.3" r="1.2" fill="#000"/>
<circle cx="192.6" cy="1980.3" r="1.2" fill="#000"/>
<circle cx="192.6" cy="1989.4" r="1.2" fill="#000"/>
<circle cx="192.6" cy="2002.9" r="1.2" fill="#000"/>
<path d="M220.3,1860.5C220.4,1864.1 220.4,1867.7 220.6,1871.3C220.8,1876.3 223.2,1881.2 223.2,1886.2C223.2,1890.7 220.6,1895.2 220.6,1899.7C220.6,1910.3 223.2,1920.8 223.2,1931.4C223.2,1936.4 220.6,1941.4 220.6,1946.4C220.6,1954.9 228.4,1963.5 228.4,1972C228.4,1977.5 221.7,1983.1 221.1,1988.6C220.7,1992.7 220.6,1996.7 220.3,2000.7C220,1996.7 219.9,1992.7 219.5,1988.6C218.9,1983.1 212.2,1977.5 212.2,1972C212.2,1963.5 220.1,1954.9 220.1,1946.4C220.1,1941.4 217.4,1936.4 217.4,1931.4C217.4,1920.8 220.1,1910.3 220.1,1899.7C220.1,1895.2 217.4,1890.7 217.4,1886.2C217.4,1881.2 219.8,1876.3 220,1871.3C220.2,1867.7 220.2,1864.1 220.3,1860.5Z" fill="#ffc9c3" stroke="#ff2000" stroke-width="1.25" stroke-linejoin="round"/>
<line x1="213.06" y1="1966.8" x2="227.54" y2="1966.8" stroke="#000" stroke-width="2"/>
<line x1="212.57" y1="1974.3" x2="228.03" y2="1974.3" stroke="#000" stroke-width="0.9"/>
<rect x="219.1" y="1885" width="2.4" height="2.4" fill="#000"/>
<rect x="219.1" y="1930.2" width="2.4" height="2.4" fill="#000"/>
<rect x="219.1" y="1973.1" width="2.4" height="2.4" fill="#000"/>
<path d="M266.4,1972C266.7,1973.2 266.8,1974.3 267.2,1975.5C267.9,1977.1 274.8,1978.7 274.8,1980.3C274.8,1981.5 270.3,1982.8 269.8,1984C269.2,1985.3 269.2,1986.6 268.8,1987.9C268.3,1989.3 266.8,1990.6 266.8,1992C266.8,1994.6 269.8,1997.3 269.8,1999.9C269.8,2000.9 267,2001.9 266.7,2003C266.5,2003.7 266.5,2004.5 266.4,2005.2C266.3,2004.5 266.3,2003.7 266.1,2003C265.8,2001.9 263,2000.9 263,1999.9C263,1997.3 266,1994.6 266,1992C266,1990.6 264.5,1989.3 264,1987.9C263.6,1986.6 263.6,1985.3 263,1984C262.5,1982.8 258,1981.5 258,1980.3C258,1978.7 264.9,1977.1 265.6,1975.5C266,1974.3 266.1,1973.2 266.4,1972Z" fill="#808080" stroke="#000" stroke-width="1.25" stroke-linejoin="round"/>
<line x1="258.02" y1="1980.3" x2="274.77" y2="1980.3" stroke="#000" stroke-width="0.9"/>
<circle cx="266.4" cy="1980.3" r="1.2" fill="#000"/>
<circle cx="266.4" cy="1987.9" r="1.2" fill="#000"/>
<circle cx="266.4" cy="1999.9" r="1.2" fill="#000"/>
<path d="M294.3,1928.3C294.4,1929.7 294.4,1931 294.6,1932.4C294.8,1934.3 297.2,1936.2 297.2,1938.1C297.2,1941.4 294.6,1944.6 294.6,1947.9C294.6,1955.4 302.6,1963 302.6,1970.5C302.6,1973.1 295.8,1975.8 295.1,1978.4C294.7,1980.3 294.6,1982.2 294.3,1984.1C294,1982.2 293.9,1980.3 293.5,1978.4C292.8,1975.8 286,1973.1 286,1970.5C286,1963 294.1,1955.4 294.1,1947.9C294.1,1944.6 291.4,1941.4 291.4,1938.1C291.4,1936.2 293.8,1934.3 294,1932.4C294.2,1931 294.2,1929.7 294.3,1928.3Z" fill="#ffc9c3" stroke="#ff2000" stroke-width="1.25" stroke-linejoin="round"/>
<line x1="286.24" y1="1968.3" x2="302.36" y2="1968.3" stroke="#000" stroke-width="2"/>
<line x1="287.44" y1="1972.8" x2="301.16" y2="1972.8" stroke="#000" stroke-width="0.9"/>
<rect x="293.1" y="1936.9" width="2.4" height="2.4" fill="#000"/>
<rect x="293.1" y="1967.3" width="2.4" height="2.4" fill="#000"/>
<rect x="293.1" y="1971.6" width="2.4" height="2.4" fill="#000"/>
<path d="M341.1,1975C341.4,1975.9 341.5,1976.7 341.9,1977.6C342.5,1978.7 349.2,1979.9 349.2,1981.1C349.2,1982.2 343.5,1983.4 343.5,1984.5C343.5,1985.5 343.5,1986.4 343.5,1987.4C343.5,1988.9 341.5,1990.5 341.5,1992C341.5,1993.8 344.5,1995.5 344.5,1997.3C344.5,1998.2 341.7,1999.2 341.4,2000.1C341.2,2000.8 341.2,2001.5 341.1,2002.2C341,2001.5 341,2000.8 340.8,2000.1C340.5,1999.2 337.7,1998.2 337.7,1997.3C337.7,1995.5 340.7,1993.8 340.7,1992C340.7,1990.5 338.7,1988.9 338.7,1987.4C338.7,1986.4 338.7,1985.5 338.7,1984.5C338.7,1983.4 333,1982.2 333,1981.1C333,1979.9 339.7,1978.7 340.3,1977.6C340.7,1976.7 340.8,1975.9 341.1,1975Z" fill="#808080" stroke="#000" stroke-width="1.25" stroke-linejoin="round"/>
<line x1="333.03" y1="1981.1" x2="349.18" y2="1981.1" stroke="#000" stroke-width="2"/>
<circle cx="341.1" cy="1981.1" r="1.2" fill="#000"/>
<circle cx="341.1" cy="1987.4" r="1.2" fill="#000"/>
<circle cx="341.1" cy="1997.3" r="1.2" fill="#000"/>
<path d="M368.5,1969.8C368.8,1970.8 368.8,1971.7 369.3,1972.7C369.9,1974 376.3,1975.3 376.3,1976.6C376.3,1977.8 370.9,1979.1 370.9,1980.3C370.9,1981.6 376.6,1982.8 376.6,1984.1C376.6,1986.1 368.9,1988.1 368.9,1990.1C368.9,1992.6 372.4,1995.1 372.4,1997.6C372.4,1998.8 369.2,2000 368.9,2001.1C368.7,2002 368.6,2002.8 368.5,2003.7C368.4,2002.8 368.3,2002 368.1,2001.1C367.8,2000 364.6,1998.8 364.6,1997.6C364.6,1995.1 368.1,1992.6 368.1,1990.1C368.1,1988.1 360.4,1986.1 360.4,1984.1C360.4,1982.8 366.1,1981.6 366.1,1980.3C366.1,1979.1 360.7,1977.8 360.7,1976.6C360.7,1975.3 367.1,1974 367.7,1972.7C368.2,1971.7 368.2,1970.8 368.5,1969.8Z" fill="#ffc9c3" stroke="#ff2000" stroke-width="1.25" stroke-linejoin="round"/>
<line x1="360.73" y1="1976.6" x2="376.27" y2="1976.6" stroke="#000" stroke-width="0.9"/>
<line x1="360.43" y1="1984.1" x2="376.57" y2="1984.1" stroke="#000" stroke-width="2"/>
<rect x="367.3" y="1975.4" width="2.4" height="2.4" fill="#000"/>
<rect x="367.3" y="1982.9" width="2.4" height="2.4" fill="#000"/>
<rect x="367.3" y="1996.4" width="2.4" height="2.4" fill="#000"/>
<path d="M414.9,1965.3C415,1966.2 415.1,1967.2 415.3,1968.1C415.6,1969.4 418.8,1970.7 418.8,1972C418.8,1973.5 417.3,1975.1 417.3,1976.6C417.3,1978.1 418.8,1979.6 418.8,1981.1C418.8,1982.1 417.3,1983.1 417.3,1984.1C417.3,1985.2 423,1986.3 423,1987.4C423,1989.3 415.3,1991.2 415.3,1993.1C415.3,1995.5 418.8,1998 418.8,2000.4C418.8,2001.8 415.6,2003.1 415.3,2004.5C415.1,2005.4 415,2006.4 414.9,2007.4C414.8,2006.4 414.7,2005.4 414.5,2004.5C414.2,2003.1 411,2001.8 411,2000.4C411,1998 414.5,1995.5 414.5,1993.1C414.5,1991.2 406.8,1989.3 406.8,1987.4C406.8,1986.3 412.5,1985.2 412.5,1984.1C412.5,1983.1 411,1982.1 411,1981.1C411,1979.6 412.5,1978.1 412.5,1976.6C412.5,1975.1 411,1973.5 411,1972C411,1970.7 414.2,1969.4 414.5,1968.1C414.7,1967.2 414.8,1966.2 414.9,1965.3Z" fill="#808080" stroke="#000" stroke-width="1.25" stroke-linejoin="round"/>
<line x1="406.82" y1="1987.4" x2="422.97" y2="1987.4" stroke="#000" stroke-width="2"/>
<circle cx="414.9" cy="1972" r="1.2" fill="#000"/>
<circle cx="414.9" cy="1981.1" r="1.2" fill="#000"/>
<circle cx="414.9" cy="1987.4" r="1.2" fill="#000"/>
<circle cx="414.9" cy="2000.4" r="1.2" fill="#000"/>
<path d="M442.8,1966C442.9,1966.5 442.9,1967.1 443.1,1967.6C443.4,1968.3 445.3,1969.1 446.2,1969.8C448,1971.4 450.7,1973.1 450.7,1974.7C450.7,1976.7 448.8,1978.8 446.7,1980.8C446,1981.4 443.5,1982.1 443.2,1982.7C443,1983.2 442.9,1983.6 442.8,1984.1C442.7,1983.6 442.6,1983.2 442.4,1982.7C442.1,1982.1 439.6,1981.4 438.9,1980.8C436.8,1978.8 434.9,1976.7 434.9,1974.7C434.9,1973.1 437.6,1971.4 439.4,1969.8C440.3,1969.1 442.2,1968.3 442.5,1967.6C442.7,1967.1 442.7,1966.5 442.8,1966Z" fill="#ffc9c3" stroke="#ff2000" stroke-width="1.25" stroke-linejoin="round"/>
<line x1="434.93" y1="1974.7" x2="450.68" y2="1974.7" stroke="#000" stroke-width="2"/>
<rect x="441.6" y="1968.6" width="2.4" height="2.4" fill="#000"/>
<rect x="441.6" y="1973.5" width="2.4" height="2.4" fill="#000"/>
<rect x="441.6" y="1979.6" width="2.4" height="2.4" fill="#000"/>
<path d="M489.2,1972.8C489.5,1973.8 489.6,1974.8 490,1975.8C490.6,1977.2 497.3,1978.5 497.3,1979.9C497.3,1980.9 492.6,1982 492.6,1983C492.6,1984.1 492.6,1985.2 492.6,1986.3C492.6,1987.5 489.6,1988.8 489.6,1990C489.6,1993.2 492.6,1996.4 492.6,1999.6C492.6,2000.5 489.8,2001.5 489.5,2002.4C489.3,2003.1 489.3,2003.7 489.2,2004.4C489.1,2003.7 489.1,2003.1 488.9,2002.4C488.6,2001.5 485.8,2000.5 485.8,1999.6C485.8,1996.4 488.8,1993.2 488.8,1990C488.8,1988.8 485.8,1987.5 485.8,1986.3C485.8,1985.2 485.8,1984.1 485.8,1983C485.8,1982 481.1,1980.9 481.1,1979.9C481.1,1978.5 487.8,1977.2 488.4,1975.8C488.8,1974.8 488.9,1973.8 489.2,1972.8Z" fill="#808080" stroke="#000" stroke-width="1.25" stroke-linejoin="round"/>
<line x1="481.12" y1="1979.9" x2="497.27" y2="1979.9" stroke="#000" stroke-width="0.9"/>
<circle cx="489.2" cy="1980" r="1.2" fill="#000"/>
<circle cx="489.2" cy="1986.3" r="1.2" fill="#000"/>
<circle cx="489.2" cy="1999.6" r="1.2" fill="#000"/>
<path d="M517.4,1972.5C517.7,1972.8 517.7,1973.1 518.2,1973.5C518.8,1973.9 525.3,1974.4 525.3,1974.8C525.3,1975.5 523.6,1976.3 522.8,1977C522.1,1977.7 521.8,1978.3 520.8,1979C520.2,1979.4 518,1979.8 517.7,1980.2C517.5,1980.5 517.5,1980.8 517.4,1981.1C517.3,1980.8 517.3,1980.5 517.1,1980.2C516.8,1979.8 514.6,1979.4 514,1979C513,1978.3 512.7,1977.7 512,1977C511.2,1976.3 509.5,1975.5 509.5,1974.8C509.5,1974.4 516,1973.9 516.6,1973.5C517.1,1973.1 517.1,1972.8 517.4,1972.5Z" fill="#ffc9c3" stroke="#ff2000" stroke-width="1.25" stroke-linejoin="round"/>
<line x1="509.52" y1="1974.8" x2="525.27" y2="1974.8" stroke="#000" stroke-width="2"/>
<rect x="513.8" y="1973.8" width="2.4" height="2.4" fill="#000"/>
<rect x="518.3" y="1973.8" width="2.4" height="2.4" fill="#000"/>
<rect x="516.2" y="1976.3" width="2.4" height="2.4" fill="#000"/>
<text x="776.3" y="1712.2" font-size="30.8" font-weight="bold" stroke="#262626" stroke-width="0.48" fill="#262626" textLength="65.1" lengthAdjust="spacingAndGlyphs">9 mo</text>
<line x1="675.5" y1="1796.9" x2="675.5" y2="2012.7" stroke="#000" stroke-width="2.4"/>
<line x1="668" y1="2011.5" x2="675.5" y2="2011.5" stroke="#000" stroke-width="2.4"/>
<text x="661.7" y="2017.48" font-size="16.6" font-weight="bold" stroke="#000" stroke-width="0.33" text-anchor="end">0.0</text>
<line x1="668" y1="1968.58" x2="675.5" y2="1968.58" stroke="#000" stroke-width="2.4"/>
<text x="661.7" y="1974.56" font-size="16.6" font-weight="bold" stroke="#000" stroke-width="0.33" text-anchor="end">0.5</text>
<line x1="668" y1="1925.66" x2="675.5" y2="1925.66" stroke="#000" stroke-width="2.4"/>
<text x="661.7" y="1931.64" font-size="16.6" font-weight="bold" stroke="#000" stroke-width="0.33" text-anchor="end">1.0</text>
<line x1="668" y1="1882.74" x2="675.5" y2="1882.74" stroke="#000" stroke-width="2.4"/>
<text x="661.7" y="1888.72" font-size="16.6" font-weight="bold" stroke="#000" stroke-width="0.33" text-anchor="end">1.5</text>
<line x1="668" y1="1839.82" x2="675.5" y2="1839.82" stroke="#000" stroke-width="2.4"/>
<text x="661.7" y="1845.8" font-size="16.6" font-weight="bold" stroke="#000" stroke-width="0.33" text-anchor="end">2.0</text>
<line x1="668" y1="1796.9" x2="675.5" y2="1796.9" stroke="#000" stroke-width="2.4"/>
<text x="661.7" y="1802.88" font-size="16.6" font-weight="bold" stroke="#000" stroke-width="0.33" text-anchor="end">2.5</text>
<line x1="666.5" y1="2011.5" x2="1061" y2="2011.5" stroke="#000" stroke-width="2.6"/>
<line x1="708.5" y1="2011.5" x2="708.5" y2="2020.5" stroke="#000" stroke-width="2.6"/>
<text x="711.3" y="2036.7" font-size="15.8" font-weight="bold" stroke="#000" stroke-width="0.32" text-anchor="end" transform="rotate(-45 711.3 2036.7)">CathepsinL</text>
<line x1="788.1" y1="2011.5" x2="788.1" y2="2020.5" stroke="#000" stroke-width="2.6"/>
<text x="790.9" y="2036.7" font-size="15.8" font-weight="bold" stroke="#000" stroke-width="0.32" text-anchor="end" transform="rotate(-45 790.9 2036.7)">GabarapL</text>
<line x1="867.7" y1="2011.5" x2="867.7" y2="2020.5" stroke="#000" stroke-width="2.6"/>
<text x="870.5" y="2036.7" font-size="15.8" font-weight="bold" stroke="#000" stroke-width="0.32" text-anchor="end" transform="rotate(-45 870.5 2036.7)">LC3</text>
<line x1="947.3" y1="2011.5" x2="947.3" y2="2020.5" stroke="#000" stroke-width="2.6"/>
<text x="950.1" y="2036.7" font-size="15.8" font-weight="bold" stroke="#000" stroke-width="0.32" text-anchor="end" transform="rotate(-45 950.1 2036.7)">Beclin1</text>
<line x1="1026.9" y1="2011.5" x2="1026.9" y2="2020.5" stroke="#000" stroke-width="2.6"/>
<text x="1029.7" y="2036.7" font-size="15.8" font-weight="bold" stroke="#000" stroke-width="0.32" text-anchor="end" transform="rotate(-45 1029.7 2036.7)">BNIP3</text>
<text x="604" y="1904" font-size="17.4" font-weight="bold" stroke="#000" stroke-width="0.35" text-anchor="middle" textLength="105.1" lengthAdjust="spacingAndGlyphs" transform="rotate(-90 604 1904)">mRNA levels</text>
<text x="624.6" y="1904" font-size="17.4" font-weight="bold" stroke="#000" stroke-width="0.35" text-anchor="middle" textLength="123.7" lengthAdjust="spacingAndGlyphs" transform="rotate(-90 624.6 1904)">(relative to Ctrl)</text>
<text x="1026.1" y="1806.1" font-size="17.1" stroke="#000" stroke-width="0.27" text-anchor="middle">p &lt; 0.0001</text>
<polyline points="1010.8,1900.3 1010.8,1817.3 1041.4,1817.3 1041.4,1852.9" fill="none" stroke="#000" stroke-width="2.6" stroke-linejoin="round"/>
<path d="M694.9,1897C695,1898.5 695,1900 695.2,1901.5C695.5,1903.6 698.3,1905.7 698.3,1907.8C698.3,1909.5 697.3,1911.3 697.3,1913C697.3,1915 703.5,1917 703.5,1919C703.5,1921.3 695.9,1923.7 695.8,1926C695.3,1937.3 695.1,1948.7 695.1,1960C695.1,1963.6 698.3,1967.2 698.3,1970.8C698.3,1972.9 695.5,1975 695.2,1977.1C695,1978.6 695,1980.2 694.9,1981.7C694.8,1980.2 694.8,1978.6 694.6,1977.1C694.3,1975 691.5,1972.9 691.5,1970.8C691.5,1967.2 694.6,1963.6 694.6,1960C694.6,1948.7 694.5,1937.3 694,1926C693.9,1923.7 686.3,1921.3 686.3,1919C686.3,1917 692.5,1915 692.5,1913C692.5,1911.3 691.5,1909.5 691.5,1907.8C691.5,1905.7 694.3,1903.6 694.6,1901.5C694.8,1900 694.8,1898.5 694.9,1897Z" fill="#808080" stroke="#000" stroke-width="1.25" stroke-linejoin="round"/>
<line x1="686.32" y1="1919" x2="703.48" y2="1919" stroke="#000" stroke-width="2"/>
<circle cx="694.9" cy="1907.8" r="1.2" fill="#000"/>
<circle cx="694.9" cy="1919" r="1.2" fill="#000"/>
<circle cx="694.9" cy="1970.8" r="1.2" fill="#000"/>
<path d="M724.4,1893.6C724.7,1895.5 724.8,1897.4 725.3,1899.3C725.9,1901.9 733,1904.5 733,1907.1C733,1909.1 726.8,1911 726.8,1913C726.8,1915 727.8,1917 727.8,1919C727.8,1921.7 725.3,1924.3 725.3,1927C725.3,1930.5 728.8,1934.1 728.8,1937.6C728.8,1939.6 725.2,1941.5 724.8,1943.5C724.6,1944.9 724.5,1946.4 724.4,1947.8C724.3,1946.4 724.2,1944.9 724,1943.5C723.6,1941.5 720,1939.6 720,1937.6C720,1934.1 723.5,1930.5 723.5,1927C723.5,1924.3 721,1921.7 721,1919C721,1917 722,1915 722,1913C722,1911 715.8,1909.1 715.8,1907.1C715.8,1904.5 722.9,1901.9 723.5,1899.3C724,1897.4 724.1,1895.5 724.4,1893.6Z" fill="#ffc9c3" stroke="#ff2000" stroke-width="1.25" stroke-linejoin="round"/>
<line x1="717.67" y1="1904.5" x2="731.13" y2="1904.5" stroke="#000" stroke-width="0.9"/>
<line x1="717.34" y1="1909" x2="731.46" y2="1909" stroke="#000" stroke-width="2"/>
<rect x="723.2" y="1905.9" width="2.4" height="2.4" fill="#000"/>
<rect x="723.2" y="1917.8" width="2.4" height="2.4" fill="#000"/>
<rect x="723.2" y="1936.4" width="2.4" height="2.4" fill="#000"/>
<path d="M773.6,1899.7C773.7,1900.8 773.7,1902 773.9,1903.1C774.2,1904.7 777,1906.2 777,1907.8C777,1909.2 776,1910.6 776,1912C776,1915.1 782.5,1918.3 782.5,1921.4C782.5,1924.3 774.6,1927.1 774.5,1930C774.1,1936.7 774,1943.3 774,1950C774,1952.4 777,1954.9 777,1957.3C777,1959.1 774.2,1960.8 773.9,1962.6C773.7,1963.9 773.7,1965.1 773.6,1966.4C773.5,1965.1 773.5,1963.9 773.3,1962.6C773,1960.8 770.2,1959.1 770.2,1957.3C770.2,1954.9 773.2,1952.4 773.2,1950C773.2,1943.3 773.1,1936.7 772.7,1930C772.6,1927.1 764.7,1924.3 764.7,1921.4C764.7,1918.3 771.2,1915.1 771.2,1912C771.2,1910.6 770.2,1909.2 770.2,1907.8C770.2,1906.2 773,1904.7 773.3,1903.1C773.5,1902 773.5,1900.8 773.6,1899.7Z" fill="#808080" stroke="#000" stroke-width="1.25" stroke-linejoin="round"/>
<line x1="764.73" y1="1921.4" x2="782.48" y2="1921.4" stroke="#000" stroke-width="2"/>
<circle cx="773.6" cy="1907.8" r="1.2" fill="#000"/>
<circle cx="773.6" cy="1921.4" r="1.2" fill="#000"/>
<circle cx="773.6" cy="1957.3" r="1.2" fill="#000"/>
<path d="M803.4,1842.7C803.7,1846.5 803.8,1850.3 804.3,1854.1C804.9,1859.3 812,1864.6 812,1869.8C812,1875.5 806.8,1881.1 806.8,1886.8C806.8,1890.5 808.8,1894.3 808.8,1898C808.8,1902.2 808.2,1906.3 807.8,1910.5C807.5,1912.8 806.8,1915 806.8,1917.3C806.8,1924.1 810.8,1930.8 810.8,1937.6C810.8,1942.5 804.7,1947.4 804.1,1952.3C803.7,1955.9 803.6,1959.4 803.4,1963C803.2,1959.4 803.1,1955.9 802.7,1952.3C802.1,1947.4 796,1942.5 796,1937.6C796,1930.8 800,1924.1 800,1917.3C800,1915 799.3,1912.8 799,1910.5C798.6,1906.3 798,1902.2 798,1898C798,1894.3 800,1890.5 800,1886.8C800,1881.1 794.8,1875.5 794.8,1869.8C794.8,1864.6 801.9,1859.3 802.5,1854.1C803,1850.3 803.1,1846.5 803.4,1842.7Z" fill="#ffc9c3" stroke="#ff2000" stroke-width="1.25" stroke-linejoin="round"/>
<line x1="794.83" y1="1870" x2="811.97" y2="1870" stroke="#000" stroke-width="0.9"/>
<line x1="798.03" y1="1898.7" x2="808.77" y2="1898.7" stroke="#000" stroke-width="2"/>
<line x1="800.02" y1="1917.5" x2="806.78" y2="1917.5" stroke="#000" stroke-width="0.9"/>
<rect x="802.2" y="1868.6" width="2.4" height="2.4" fill="#000"/>
<rect x="802.2" y="1909.3" width="2.4" height="2.4" fill="#000"/>
<rect x="802.2" y="1936.4" width="2.4" height="2.4" fill="#000"/>
<path d="M853.2,1898.6C853.5,1900.3 853.5,1901.9 854,1903.6C854.6,1905.9 861.1,1908.2 861.1,1910.5C861.1,1912.3 859.6,1914.2 859.6,1916C859.6,1918.5 862.1,1920.9 862.1,1923.4C862.1,1926.3 854.2,1929.1 854.1,1932C853.7,1938 853.6,1944 853.6,1950C853.6,1952.4 856.6,1954.9 856.6,1957.3C856.6,1959.4 853.8,1961.5 853.5,1963.6C853.3,1965.1 853.3,1966.6 853.2,1968.1C853.1,1966.6 853.1,1965.1 852.9,1963.6C852.6,1961.5 849.8,1959.4 849.8,1957.3C849.8,1954.9 852.8,1952.4 852.8,1950C852.8,1944 852.7,1938 852.3,1932C852.2,1929.1 844.3,1926.3 844.3,1923.4C844.3,1920.9 846.8,1918.5 846.8,1916C846.8,1914.2 845.3,1912.3 845.3,1910.5C845.3,1908.2 851.8,1905.9 852.4,1903.6C852.9,1901.9 852.9,1900.3 853.2,1898.6Z" fill="#808080" stroke="#000" stroke-width="1.25" stroke-linejoin="round"/>
<line x1="846.83" y1="1916" x2="859.58" y2="1916" stroke="#000" stroke-width="2"/>
<circle cx="853.2" cy="1910.5" r="1.2" fill="#000"/>
<circle cx="853.2" cy="1923.4" r="1.2" fill="#000"/>
<circle cx="853.2" cy="1957.3" r="1.2" fill="#000"/>
<path d="M882.7,1908.8C883,1909.6 883.1,1910.4 883.6,1911.2C884.3,1912.4 891.6,1913.5 891.6,1914.6C891.6,1915.9 887.1,1917.2 887.1,1918.5C887.1,1920.1 892.1,1921.8 892.1,1923.4C892.1,1925.6 884.1,1927.8 884.1,1930C884.1,1933.1 886.6,1936.2 886.6,1939.3C886.6,1940.4 883.4,1941.5 883.1,1942.7C882.9,1943.5 882.8,1944.3 882.7,1945.1C882.6,1944.3 882.5,1943.5 882.3,1942.7C882,1941.5 878.8,1940.4 878.8,1939.3C878.8,1936.2 881.3,1933.1 881.3,1930C881.3,1927.8 873.3,1925.6 873.3,1923.4C873.3,1921.8 878.3,1920.1 878.3,1918.5C878.3,1917.2 873.8,1915.9 873.8,1914.6C873.8,1913.5 881.1,1912.4 881.8,1911.2C882.3,1910.4 882.4,1909.6 882.7,1908.8Z" fill="#ffc9c3" stroke="#ff2000" stroke-width="1.25" stroke-linejoin="round"/>
<line x1="873.83" y1="1914.6" x2="891.58" y2="1914.6" stroke="#000" stroke-width="0.9"/>
<line x1="873.86" y1="1922.4" x2="891.54" y2="1922.4" stroke="#000" stroke-width="2"/>
<rect x="881.5" y="1913.4" width="2.4" height="2.4" fill="#000"/>
<rect x="881.5" y="1922.2" width="2.4" height="2.4" fill="#000"/>
<rect x="881.5" y="1938.1" width="2.4" height="2.4" fill="#000"/>
<path d="M932.9,1871.5C933,1873.6 933,1875.8 933.2,1877.9C933.5,1880.9 936.3,1883.8 936.3,1886.8C936.3,1889.9 933.8,1892.9 933.8,1896C933.8,1900.8 937.3,1905.7 937.3,1910.5C937.3,1913.7 935.3,1916.8 935.3,1920C935.3,1923.8 941.8,1927.7 941.8,1931.5C941.8,1935 933.8,1938.5 933.8,1942C933.8,1947.5 936.3,1953.1 936.3,1958.6C936.3,1961.8 933.5,1964.9 933.2,1968.1C933,1970.3 933,1972.6 932.9,1974.9C932.8,1972.6 932.8,1970.3 932.6,1968.1C932.3,1964.9 929.5,1961.8 929.5,1958.6C929.5,1953.1 932,1947.5 932,1942C932,1938.5 924,1935 924,1931.5C924,1927.7 930.5,1923.8 930.5,1920C930.5,1916.8 928.5,1913.7 928.5,1910.5C928.5,1905.7 932,1900.8 932,1896C932,1892.9 929.5,1889.9 929.5,1886.8C929.5,1883.8 932.3,1880.9 932.6,1877.9C932.8,1875.8 932.8,1873.6 932.9,1871.5Z" fill="#808080" stroke="#000" stroke-width="1.25" stroke-linejoin="round"/>
<line x1="924.02" y1="1931.5" x2="941.77" y2="1931.5" stroke="#000" stroke-width="2"/>
<circle cx="932.9" cy="1886.8" r="1.2" fill="#000"/>
<circle cx="932.9" cy="1910.5" r="1.2" fill="#000"/>
<circle cx="932.9" cy="1931.5" r="1.2" fill="#000"/>
<circle cx="932.9" cy="1958.6" r="1.2" fill="#000"/>
<path d="M962.4,1913.9C962.7,1915.6 962.8,1917.2 963.2,1918.9C963.9,1921.2 970.8,1923.5 970.8,1925.8C970.8,1927.5 965.8,1929.3 965.8,1931C965.8,1933.8 970.8,1936.5 970.8,1939.3C970.8,1942.9 963.3,1946.4 963.3,1950C963.3,1954.3 965.8,1958.7 965.8,1963C965.8,1965 963,1966.9 962.7,1968.9C962.5,1970.3 962.5,1971.8 962.4,1973.2C962.3,1971.8 962.3,1970.3 962.1,1968.9C961.8,1966.9 959,1965 959,1963C959,1958.7 961.5,1954.3 961.5,1950C961.5,1946.4 954,1942.9 954,1939.3C954,1936.5 959,1933.8 959,1931C959,1929.3 954,1927.5 954,1925.8C954,1923.5 960.9,1921.2 961.6,1918.9C962,1917.2 962.1,1915.6 962.4,1913.9Z" fill="#ffc9c3" stroke="#ff2000" stroke-width="1.25" stroke-linejoin="round"/>
<line x1="954.02" y1="1925.8" x2="970.77" y2="1925.8" stroke="#000" stroke-width="0.9"/>
<line x1="954.02" y1="1939.3" x2="970.77" y2="1939.3" stroke="#000" stroke-width="2"/>
<rect x="961.2" y="1924.6" width="2.4" height="2.4" fill="#000"/>
<rect x="961.2" y="1938.1" width="2.4" height="2.4" fill="#000"/>
<rect x="961.2" y="1961.8" width="2.4" height="2.4" fill="#000"/>
<path d="M1010.8,1912.2C1011.1,1913.2 1011.2,1914.3 1011.6,1915.4C1012.3,1916.8 1019.2,1918.2 1019.2,1919.7C1019.2,1921.5 1012.2,1923.2 1012.2,1925C1012.2,1927.2 1014.2,1929.3 1014.2,1931.5C1014.2,1932.7 1012.2,1933.8 1012.2,1935C1012.2,1936.4 1014.2,1937.9 1014.2,1939.3C1014.2,1940.5 1011.4,1941.7 1011.1,1942.8C1010.9,1943.7 1010.9,1944.5 1010.8,1945.4C1010.7,1944.5 1010.7,1943.7 1010.5,1942.8C1010.2,1941.7 1007.4,1940.5 1007.4,1939.3C1007.4,1937.9 1009.4,1936.4 1009.4,1935C1009.4,1933.8 1007.4,1932.7 1007.4,1931.5C1007.4,1929.3 1009.4,1927.2 1009.4,1925C1009.4,1923.2 1002.4,1921.5 1002.4,1919.7C1002.4,1918.2 1009.3,1916.8 1010,1915.4C1010.4,1914.3 1010.5,1913.2 1010.8,1912.2Z" fill="#808080" stroke="#000" stroke-width="1.25" stroke-linejoin="round"/>
<line x1="1002.42" y1="1919.7" x2="1019.17" y2="1919.7" stroke="#000" stroke-width="0.9"/>
<circle cx="1010.8" cy="1919.7" r="1.2" fill="#000"/>
<circle cx="1010.8" cy="1931.5" r="1.2" fill="#000"/>
<circle cx="1010.8" cy="1939.3" r="1.2" fill="#000"/>
<path d="M1041.4,1864.7C1041.5,1865.5 1041.5,1866.3 1041.7,1867.1C1042,1868.3 1044.8,1869.4 1044.8,1870.5C1044.8,1872 1043.8,1873.5 1043.8,1875C1043.8,1876.7 1046.8,1878.3 1046.8,1880C1046.8,1881.3 1045.8,1882.7 1045.8,1884C1045.8,1885.5 1050.8,1887 1050.8,1888.5C1050.8,1890.1 1043.1,1891.8 1042.3,1893.4C1041.8,1894.6 1041.7,1895.8 1041.4,1897C1041.1,1895.8 1041,1894.6 1040.5,1893.4C1039.7,1891.8 1032,1890.1 1032,1888.5C1032,1887 1037,1885.5 1037,1884C1037,1882.7 1036,1881.3 1036,1880C1036,1878.3 1039,1876.7 1039,1875C1039,1873.5 1038,1872 1038,1870.5C1038,1869.4 1040.8,1868.3 1041.1,1867.1C1041.3,1866.3 1041.3,1865.5 1041.4,1864.7Z" fill="#ffc9c3" stroke="#ff2000" stroke-width="1.25" stroke-linejoin="round"/>
<line x1="1034.11" y1="1886.5" x2="1048.69" y2="1886.5" stroke="#000" stroke-width="2"/>
<line x1="1033.75" y1="1890" x2="1049.05" y2="1890" stroke="#000" stroke-width="0.9"/>
<rect x="1040.2" y="1869.3" width="2.4" height="2.4" fill="#000"/>
<rect x="1040.2" y="1878.8" width="2.4" height="2.4" fill="#000"/>
<rect x="1040.2" y="1887.3" width="2.4" height="2.4" fill="#000"/>
<text x="1380.7" y="1712.5" font-size="30.8" font-weight="bold" stroke="#262626" stroke-width="0.48" fill="#262626" textLength="65.4" lengthAdjust="spacingAndGlyphs">9 mo</text>
<line x1="1210.6" y1="1799.2" x2="1210.6" y2="2013.2" stroke="#000" stroke-width="2.4"/>
<line x1="1203.1" y1="2012" x2="1210.6" y2="2012" stroke="#000" stroke-width="2.4"/>
<text x="1198.4" y="2017.98" font-size="16.6" font-weight="bold" stroke="#000" stroke-width="0.33" text-anchor="end">0</text>
<line x1="1203.1" y1="1958.8" x2="1210.6" y2="1958.8" stroke="#000" stroke-width="2.4"/>
<text x="1198.4" y="1964.78" font-size="16.6" font-weight="bold" stroke="#000" stroke-width="0.33" text-anchor="end">1</text>
<line x1="1203.1" y1="1905.6" x2="1210.6" y2="1905.6" stroke="#000" stroke-width="2.4"/>
<text x="1198.4" y="1911.58" font-size="16.6" font-weight="bold" stroke="#000" stroke-width="0.33" text-anchor="end">2</text>
<line x1="1203.1" y1="1852.4" x2="1210.6" y2="1852.4" stroke="#000" stroke-width="2.4"/>
<text x="1198.4" y="1858.38" font-size="16.6" font-weight="bold" stroke="#000" stroke-width="0.33" text-anchor="end">3</text>
<line x1="1203.1" y1="1799.2" x2="1210.6" y2="1799.2" stroke="#000" stroke-width="2.4"/>
<text x="1198.4" y="1805.18" font-size="16.6" font-weight="bold" stroke="#000" stroke-width="0.33" text-anchor="end">4</text>
<line x1="1202.1" y1="2012" x2="1563.7" y2="2012" stroke="#000" stroke-width="2.6"/>
<line x1="1250.5" y1="2012" x2="1250.5" y2="2021" stroke="#000" stroke-width="2.6"/>
<text x="1253.3" y="2037" font-size="15.8" font-weight="bold" stroke="#000" stroke-width="0.32" text-anchor="end" transform="rotate(-45 1253.3 2037)">ATF4</text>
<line x1="1342" y1="2012" x2="1342" y2="2021" stroke="#000" stroke-width="2.6"/>
<text x="1344.8" y="2037" font-size="15.8" font-weight="bold" stroke="#000" stroke-width="0.32" text-anchor="end" transform="rotate(-45 1344.8 2037)">GADD34</text>
<line x1="1433.5" y1="2012" x2="1433.5" y2="2021" stroke="#000" stroke-width="2.6"/>
<text x="1436.3" y="2037" font-size="15.8" font-weight="bold" stroke="#000" stroke-width="0.32" text-anchor="end" transform="rotate(-45 1436.3 2037)">CHOP</text>
<line x1="1525" y1="2012" x2="1525" y2="2021" stroke="#000" stroke-width="2.6"/>
<text x="1527.8" y="2037" font-size="15.8" font-weight="bold" stroke="#000" stroke-width="0.32" text-anchor="end" transform="rotate(-45 1527.8 2037)">XBP1</text>
<text x="1155.1" y="1905.5" font-size="17.4" font-weight="bold" stroke="#000" stroke-width="0.35" text-anchor="middle" textLength="103.5" lengthAdjust="spacingAndGlyphs" transform="rotate(-90 1155.1 1905.5)">mRNA levels</text>
<text x="1175.2" y="1905.5" font-size="17.4" font-weight="bold" stroke="#000" stroke-width="0.35" text-anchor="middle" textLength="125.7" lengthAdjust="spacingAndGlyphs" transform="rotate(-90 1175.2 1905.5)">(relative to Ctrl)</text>
<text x="1342.6" y="1789.1" font-size="17.1" stroke="#000" stroke-width="0.27" text-anchor="middle">p = 0.0465</text>
<text x="1525.2" y="1789.1" font-size="17.1" stroke="#000" stroke-width="0.27" text-anchor="middle">p = 0.0338</text>
<polyline points="1325.2,1927 1325.2,1799.1 1359.2,1799.1 1359.2,1813.1" fill="none" stroke="#000" stroke-width="2.6" stroke-linejoin="round"/>
<polyline points="1507.5,1934.4 1507.5,1799.1 1541.5,1799.1 1541.5,1893.7" fill="none" stroke="#000" stroke-width="2.6" stroke-linejoin="round"/>
<path d="M1233.9,1935.9C1234.1,1937.2 1234.2,1938.6 1234.6,1939.9C1235.2,1941.8 1241.3,1943.6 1241.3,1945.5C1241.3,1947.3 1238.3,1949.2 1238.3,1951C1238.3,1953.7 1244.3,1956.5 1244.3,1959.2C1244.3,1961.8 1235.5,1964.4 1235.3,1967C1234.9,1970.7 1234.8,1974.3 1234.8,1978C1234.8,1980 1237.3,1981.9 1237.3,1983.9C1237.3,1985.8 1234.5,1987.6 1234.2,1989.5C1234,1990.8 1234,1992.2 1233.9,1993.5C1233.8,1992.2 1233.8,1990.8 1233.6,1989.5C1233.3,1987.6 1230.5,1985.8 1230.5,1983.9C1230.5,1981.9 1233,1980 1233,1978C1233,1974.3 1232.9,1970.7 1232.5,1967C1232.3,1964.4 1223.5,1961.8 1223.5,1959.2C1223.5,1956.5 1229.5,1953.7 1229.5,1951C1229.5,1949.2 1226.5,1947.3 1226.5,1945.5C1226.5,1943.6 1232.6,1941.8 1233.2,1939.9C1233.6,1938.6 1233.7,1937.2 1233.9,1935.9Z" fill="#808080" stroke="#000" stroke-width="1.25" stroke-linejoin="round"/>
<line x1="1223.53" y1="1959.2" x2="1244.28" y2="1959.2" stroke="#000" stroke-width="2"/>
<circle cx="1233.9" cy="1945.5" r="1.2" fill="#000"/>
<circle cx="1233.9" cy="1959.2" r="1.2" fill="#000"/>
<circle cx="1233.9" cy="1983.9" r="1.2" fill="#000"/>
<path d="M1267.9,1916.6C1268,1917.9 1268.1,1919.2 1268.3,1920.5C1268.7,1922.3 1272.3,1924.1 1272.3,1925.9C1272.3,1928.6 1269.3,1931.3 1269.3,1934C1269.3,1937.1 1271.3,1940.2 1271.3,1943.3C1271.3,1944.9 1270.3,1946.4 1270.3,1948C1270.3,1950.1 1278.3,1952.2 1278.3,1954.3C1278.3,1956.3 1269.7,1958.3 1268.9,1960.3C1268.4,1961.8 1268.2,1963.2 1267.9,1964.7C1267.6,1963.2 1267.4,1961.8 1266.9,1960.3C1266.1,1958.3 1257.5,1956.3 1257.5,1954.3C1257.5,1952.2 1265.5,1950.1 1265.5,1948C1265.5,1946.4 1264.5,1944.9 1264.5,1943.3C1264.5,1940.2 1266.5,1937.1 1266.5,1934C1266.5,1931.3 1263.5,1928.6 1263.5,1925.9C1263.5,1924.1 1267.1,1922.3 1267.5,1920.5C1267.7,1919.2 1267.8,1917.9 1267.9,1916.6Z" fill="#ffc9c3" stroke="#ff2000" stroke-width="1.25" stroke-linejoin="round"/>
<line x1="1263.62" y1="1950" x2="1272.18" y2="1950" stroke="#000" stroke-width="0.9"/>
<line x1="1257.53" y1="1954.3" x2="1278.28" y2="1954.3" stroke="#000" stroke-width="2"/>
<rect x="1266.7" y="1924.7" width="2.4" height="2.4" fill="#000"/>
<rect x="1266.7" y="1942.1" width="2.4" height="2.4" fill="#000"/>
<rect x="1266.7" y="1953.1" width="2.4" height="2.4" fill="#000"/>
<path d="M1325.2,1938.1C1325.5,1939.3 1325.6,1940.6 1326.1,1941.8C1326.9,1943.6 1334.6,1945.3 1334.6,1947C1334.6,1948.3 1331.6,1949.7 1331.6,1951C1331.6,1953.1 1335.6,1955.2 1335.6,1957.3C1335.6,1959.2 1327.6,1961.1 1327.6,1963C1327.6,1964.8 1328.6,1966.6 1328.6,1968.4C1328.6,1970.3 1326.6,1972.1 1326.6,1974C1326.6,1976.8 1328.6,1979.6 1328.6,1982.4C1328.6,1984 1325.8,1985.6 1325.5,1987.2C1325.3,1988.3 1325.3,1989.5 1325.2,1990.6C1325.1,1989.5 1325.1,1988.3 1324.9,1987.2C1324.6,1985.6 1321.8,1984 1321.8,1982.4C1321.8,1979.6 1323.8,1976.8 1323.8,1974C1323.8,1972.1 1321.8,1970.3 1321.8,1968.4C1321.8,1966.6 1322.8,1964.8 1322.8,1963C1322.8,1961.1 1314.8,1959.2 1314.8,1957.3C1314.8,1955.2 1318.8,1953.1 1318.8,1951C1318.8,1949.7 1315.8,1948.3 1315.8,1947C1315.8,1945.3 1323.5,1943.6 1324.3,1941.8C1324.8,1940.6 1324.9,1939.3 1325.2,1938.1Z" fill="#808080" stroke="#000" stroke-width="1.25" stroke-linejoin="round"/>
<line x1="1315.83" y1="1947" x2="1334.58" y2="1947" stroke="#000" stroke-width="0.9"/>
<line x1="1314.83" y1="1957.3" x2="1335.58" y2="1957.3" stroke="#000" stroke-width="2"/>
<circle cx="1325.2" cy="1947" r="1.2" fill="#000"/>
<circle cx="1325.2" cy="1957.3" r="1.2" fill="#000"/>
<circle cx="1325.2" cy="1968.4" r="1.2" fill="#000"/>
<circle cx="1325.2" cy="1982.4" r="1.2" fill="#000"/>
<path d="M1359.2,1824.9C1359.4,1828.4 1359.4,1832 1359.7,1835.5C1360.2,1840.4 1364.6,1845.2 1364.6,1850.1C1364.6,1856.3 1359.5,1862.4 1359.5,1868.6C1359.5,1877.7 1359.8,1886.9 1360.6,1896C1361,1901.6 1368.6,1907.3 1368.6,1912.9C1368.6,1919.1 1365.6,1925.2 1365.6,1931.4C1365.6,1936.3 1368.6,1941.3 1368.6,1946.2C1368.6,1950.1 1360.9,1954 1360.1,1958C1359.6,1960.8 1359.5,1963.7 1359.2,1966.5C1358.9,1963.7 1358.8,1960.8 1358.3,1958C1357.5,1954 1349.8,1950.1 1349.8,1946.2C1349.8,1941.3 1352.8,1936.3 1352.8,1931.4C1352.8,1925.2 1349.8,1919.1 1349.8,1912.9C1349.8,1907.3 1357.4,1901.6 1357.8,1896C1358.6,1886.9 1359,1877.7 1359,1868.6C1359,1862.4 1353.8,1856.3 1353.8,1850.1C1353.8,1845.2 1358.2,1840.4 1358.7,1835.5C1359,1832 1359,1828.4 1359.2,1824.9Z" fill="#ffc9c3" stroke="#ff2000" stroke-width="1.25" stroke-linejoin="round"/>
<line x1="1351.07" y1="1921.1" x2="1367.33" y2="1921.1" stroke="#000" stroke-width="2"/>
<line x1="1350.76" y1="1940.7" x2="1367.64" y2="1940.7" stroke="#000" stroke-width="0.9"/>
<rect x="1358" y="1848.9" width="2.4" height="2.4" fill="#000"/>
<rect x="1358" y="1913.6" width="2.4" height="2.4" fill="#000"/>
<rect x="1358" y="1939.5" width="2.4" height="2.4" fill="#000"/>
<path d="M1416.5,1914.8C1416.7,1916.5 1416.7,1918.2 1417,1919.9C1417.5,1922.3 1421.9,1924.6 1421.9,1927C1421.9,1930.3 1417.9,1933.7 1417.9,1937C1417.9,1941.9 1421.9,1946.9 1421.9,1951.8C1421.9,1955.2 1418.9,1958.6 1418.9,1962C1418.9,1966 1426.9,1969.9 1426.9,1973.9C1426.9,1977 1418.3,1980 1417.5,1983.1C1417,1985.3 1416.8,1987.6 1416.5,1989.8C1416.2,1987.6 1416,1985.3 1415.5,1983.1C1414.7,1980 1406.1,1977 1406.1,1973.9C1406.1,1969.9 1414.1,1966 1414.1,1962C1414.1,1958.6 1411.1,1955.2 1411.1,1951.8C1411.1,1946.9 1415.1,1941.9 1415.1,1937C1415.1,1933.7 1411.1,1930.3 1411.1,1927C1411.1,1924.6 1415.5,1922.3 1416,1919.9C1416.3,1918.2 1416.3,1916.5 1416.5,1914.8Z" fill="#808080" stroke="#000" stroke-width="1.25" stroke-linejoin="round"/>
<line x1="1406.12" y1="1973.9" x2="1426.88" y2="1973.9" stroke="#000" stroke-width="2"/>
<circle cx="1416.5" cy="1927" r="1.2" fill="#000"/>
<circle cx="1416.5" cy="1951.8" r="1.2" fill="#000"/>
<circle cx="1416.5" cy="1973.9" r="1.2" fill="#000"/>
<path d="M1450.2,1897.4C1450.3,1899.6 1450.3,1901.7 1450.5,1903.9C1450.8,1906.9 1453.6,1909.9 1453.6,1912.9C1453.6,1916.9 1451.1,1921 1451.1,1925C1451.1,1933.9 1460.6,1942.9 1460.6,1951.8C1460.6,1955.9 1451.6,1959.9 1451.6,1964C1451.6,1967.9 1453.6,1971.9 1453.6,1975.8C1453.6,1979 1450.8,1982.2 1450.5,1985.4C1450.3,1987.8 1450.3,1990.1 1450.2,1992.4C1450.1,1990.1 1450.1,1987.8 1449.9,1985.4C1449.6,1982.2 1446.8,1979 1446.8,1975.8C1446.8,1971.9 1448.8,1967.9 1448.8,1964C1448.8,1959.9 1439.8,1955.9 1439.8,1951.8C1439.8,1942.9 1449.3,1933.9 1449.3,1925C1449.3,1921 1446.8,1916.9 1446.8,1912.9C1446.8,1909.9 1449.6,1906.9 1449.9,1903.9C1450.1,1901.7 1450.1,1899.6 1450.2,1897.4Z" fill="#ffc9c3" stroke="#ff2000" stroke-width="1.25" stroke-linejoin="round"/>
<line x1="1439.83" y1="1951.8" x2="1460.58" y2="1951.8" stroke="#000" stroke-width="2"/>
<rect x="1449" y="1911.7" width="2.4" height="2.4" fill="#000"/>
<rect x="1449" y="1946.8" width="2.4" height="2.4" fill="#000"/>
<rect x="1449" y="1974.6" width="2.4" height="2.4" fill="#000"/>
<path d="M1507.5,1944.4C1507.8,1945.8 1508,1947.2 1508.5,1948.6C1509.3,1950.5 1517.9,1952.4 1517.9,1954.3C1517.9,1956.9 1510.7,1959.4 1509.9,1962C1509,1964.7 1508.4,1967.3 1508.4,1970C1508.4,1972.5 1510.9,1975.1 1510.9,1977.6C1510.9,1978.8 1508.1,1980 1507.8,1981.3C1507.6,1982.1 1507.6,1983 1507.5,1983.9C1507.4,1983 1507.4,1982.1 1507.2,1981.3C1506.9,1980 1504.1,1978.8 1504.1,1977.6C1504.1,1975.1 1506.6,1972.5 1506.6,1970C1506.6,1967.3 1506,1964.7 1505.1,1962C1504.3,1959.4 1497.1,1956.9 1497.1,1954.3C1497.1,1952.4 1505.7,1950.5 1506.5,1948.6C1507,1947.2 1507.2,1945.8 1507.5,1944.4Z" fill="#808080" stroke="#000" stroke-width="1.25" stroke-linejoin="round"/>
<line x1="1497.12" y1="1954.3" x2="1517.88" y2="1954.3" stroke="#000" stroke-width="2"/>
<circle cx="1507.5" cy="1954.3" r="1.2" fill="#000"/>
<circle cx="1507.5" cy="1958" r="1.2" fill="#000"/>
<circle cx="1507.5" cy="1977.6" r="1.2" fill="#000"/>
<path d="M1541.5,1904.8C1541.6,1906.2 1541.7,1907.6 1541.9,1909C1542.3,1910.9 1545.9,1912.9 1545.9,1914.8C1545.9,1916.9 1543.9,1918.9 1543.9,1921C1543.9,1924.5 1547.9,1927.9 1547.9,1931.4C1547.9,1933.6 1544.9,1935.8 1544.9,1938C1544.9,1942.6 1550.9,1947.2 1550.9,1951.8C1550.9,1954.3 1543.2,1956.8 1542.4,1959.3C1541.9,1961.1 1541.8,1962.9 1541.5,1964.7C1541.2,1962.9 1541.1,1961.1 1540.6,1959.3C1539.8,1956.8 1532.1,1954.3 1532.1,1951.8C1532.1,1947.2 1538.1,1942.6 1538.1,1938C1538.1,1935.8 1535.1,1933.6 1535.1,1931.4C1535.1,1927.9 1539.1,1924.5 1539.1,1921C1539.1,1918.9 1537.1,1916.9 1537.1,1914.8C1537.1,1912.9 1540.7,1910.9 1541.1,1909C1541.3,1907.6 1541.4,1906.2 1541.5,1904.8Z" fill="#ffc9c3" stroke="#ff2000" stroke-width="1.25" stroke-linejoin="round"/>
<line x1="1537.73" y1="1936.5" x2="1545.27" y2="1936.5" stroke="#000" stroke-width="2"/>
<line x1="1532.12" y1="1951.8" x2="1550.88" y2="1951.8" stroke="#000" stroke-width="0.9"/>
<rect x="1540.3" y="1913.6" width="2.4" height="2.4" fill="#000"/>
<rect x="1540.3" y="1930.2" width="2.4" height="2.4" fill="#000"/>
<rect x="1540.3" y="1950.6" width="2.4" height="2.4" fill="#000"/>
<rect x="1614.3" y="1807.5" width="22" height="12" fill="#808080" stroke="#000" stroke-width="1.4"/>
<rect x="1614.3" y="1837.8" width="22" height="12" fill="#ffc9c3" stroke="#ff2000" stroke-width="1.4"/>
<text x="1649.5" y="1819.8" font-size="17.4" stroke="#000" stroke-width="0.27">Ctrl</text>
<text x="1649.5" y="1850.1" font-size="17.4" stroke="#000" stroke-width="0.27">KO</text>
<text x="3.8" y="2163.3" font-size="34" font-weight="bold" fill="#262626" textLength="33.1" lengthAdjust="spacingAndGlyphs" stroke="#262626" stroke-width="1.1" stroke-linejoin="round">J)</text>
<text x="132.6" y="2167.1" font-size="30.8" font-weight="bold" stroke="#262626" stroke-width="0.48" fill="#262626" textLength="65.9" lengthAdjust="spacingAndGlyphs">3 mo</text>
<text x="416.2" y="2167.1" font-size="30.8" font-weight="bold" stroke="#262626" stroke-width="0.48" fill="#262626" textLength="65.9" lengthAdjust="spacingAndGlyphs">9 mo</text>
<text x="694.9" y="2170.2" font-size="30.8" font-weight="bold" stroke="#262626" stroke-width="0.48" fill="#262626" textLength="72.6" lengthAdjust="spacingAndGlyphs">18mo</text>
<line x1="110" y1="2212.3" x2="110" y2="2449.5" stroke="#000" stroke-width="2.2"/>
<line x1="102.5" y1="2448.4" x2="110" y2="2448.4" stroke="#000" stroke-width="2.2"/>
<text x="96" y="2454.7" font-size="17.5" font-weight="bold" stroke="#000" stroke-width="0.35" text-anchor="end">0</text>
<line x1="102.5" y1="2369.7" x2="110" y2="2369.7" stroke="#000" stroke-width="2.2"/>
<text x="96" y="2376" font-size="17.5" font-weight="bold" stroke="#000" stroke-width="0.35" text-anchor="end">1</text>
<line x1="102.5" y1="2291" x2="110" y2="2291" stroke="#000" stroke-width="2.2"/>
<text x="96" y="2297.3" font-size="17.5" font-weight="bold" stroke="#000" stroke-width="0.35" text-anchor="end">2</text>
<line x1="102.5" y1="2212.3" x2="110" y2="2212.3" stroke="#000" stroke-width="2.2"/>
<text x="96" y="2218.6" font-size="17.5" font-weight="bold" stroke="#000" stroke-width="0.35" text-anchor="end">3</text>
<line x1="100.9" y1="2448.4" x2="267.4" y2="2448.4" stroke="#000" stroke-width="2.2"/>
<line x1="154.4" y1="2448.4" x2="154.4" y2="2457.1" stroke="#000" stroke-width="2"/>
<text x="154.4" y="2479.7" font-size="17.5" font-weight="bold" stroke="#000" stroke-width="0.35" text-anchor="middle">Ctrl</text>
<line x1="222.2" y1="2448.4" x2="222.2" y2="2457.1" stroke="#000" stroke-width="2"/>
<text x="222.2" y="2479.7" font-size="17.5" font-weight="bold" stroke="#000" stroke-width="0.35" text-anchor="middle">KO</text>
<text x="50.8" y="2330.9" font-size="18.2" font-weight="bold" stroke="#000" stroke-width="0.36" text-anchor="middle" textLength="180.8" lengthAdjust="spacingAndGlyphs" transform="rotate(-90 50.8 2330.9)">Fbxl22 mRNA levels</text>
<text x="74" y="2330.9" font-size="18.2" font-weight="bold" stroke="#000" stroke-width="0.36" text-anchor="middle" textLength="139.4" lengthAdjust="spacingAndGlyphs" transform="rotate(-90 74 2330.9)">(relative to Ctrl)</text>
<path d="M154.4,2314C155.1,2317.7 155.4,2321.4 156.5,2325C158.2,2330.1 175.9,2335.2 175.9,2340.3C175.9,2348.5 161.2,2356.6 161.2,2364.8C161.2,2371.7 164.6,2378.6 164.6,2385.5C164.6,2390.5 159.2,2395.6 159.2,2400.6C159.2,2405 164.6,2409.4 164.6,2413.8C164.6,2418.9 156.2,2424 155.4,2429.1C154.9,2432.8 154.7,2436.5 154.4,2440.2C154.1,2436.5 153.9,2432.8 153.4,2429.1C152.6,2424 144.2,2418.9 144.2,2413.8C144.2,2409.4 149.6,2405 149.6,2400.6C149.6,2395.6 144.2,2390.5 144.2,2385.5C144.2,2378.6 147.6,2371.7 147.6,2364.8C147.6,2356.6 132.9,2348.5 132.9,2340.3C132.9,2335.2 150.6,2330.1 152.3,2325C153.4,2321.4 153.7,2317.7 154.4,2314Z" fill="#808080" stroke="#000" stroke-width="2.3" stroke-linejoin="round"/>
<line x1="132.95" y1="2340.3" x2="175.85" y2="2340.3" stroke="#000" stroke-width="2.2"/>
<line x1="147.44" y1="2406.3" x2="161.36" y2="2406.3" stroke="#000" stroke-width="1.1"/>
<circle cx="149.9" cy="2340.3" r="2.32" fill="#000"/>
<circle cx="160.1" cy="2340.3" r="2.32" fill="#000"/>
<circle cx="154.4" cy="2385.5" r="2.32" fill="#000"/>
<circle cx="154.4" cy="2413.8" r="2.32" fill="#000"/>
<path d="M222.2,2249.9C222.6,2254 222.7,2258 223.3,2262.1C224.1,2267.7 233,2273.4 233,2279C233,2286.3 224,2293.5 224,2300.8C224,2312.7 238.8,2324.7 238.8,2336.6C238.8,2347.3 234,2357.9 234,2368.6C234,2378 243.6,2387.4 243.6,2396.8C243.6,2405.9 226,2415 224.3,2424.1C223.2,2430.7 222.9,2437.3 222.2,2443.9C221.5,2437.3 221.2,2430.7 220.1,2424.1C218.4,2415 200.8,2405.9 200.8,2396.8C200.8,2387.4 210.3,2378 210.3,2368.6C210.3,2357.9 205.6,2347.3 205.6,2336.6C205.6,2324.7 220.3,2312.7 220.3,2300.8C220.3,2293.5 211.3,2286.3 211.3,2279C211.3,2273.4 220.3,2267.7 221.1,2262.1C221.7,2258 221.8,2254 222.2,2249.9Z" fill="#ffc9c3" stroke="#ff2000" stroke-width="2.3" stroke-linejoin="round"/>
<line x1="205.67" y1="2335.8" x2="238.73" y2="2335.8" stroke="#000" stroke-width="1.1"/>
<line x1="210.1" y1="2364.1" x2="234.3" y2="2364.1" stroke="#000" stroke-width="2.2"/>
<line x1="200.75" y1="2396.8" x2="243.65" y2="2396.8" stroke="#000" stroke-width="1.1"/>
<rect x="219.9" y="2276.7" width="4.6" height="4.6" fill="#000"/>
<rect x="219.9" y="2333.5" width="4.6" height="4.6" fill="#000"/>
<rect x="219.9" y="2349.3" width="4.6" height="4.6" fill="#000"/>
<rect x="219.9" y="2361.8" width="4.6" height="4.6" fill="#000"/>
<rect x="215.4" y="2391.9" width="4.6" height="4.6" fill="#000"/>
<rect x="224.8" y="2394.5" width="4.6" height="4.6" fill="#000"/>
<rect x="219.9" y="2412.6" width="4.6" height="4.6" fill="#000"/>
<line x1="394.7" y1="2212.3" x2="394.7" y2="2448.8" stroke="#000" stroke-width="2.2"/>
<line x1="387.2" y1="2447.7" x2="394.7" y2="2447.7" stroke="#000" stroke-width="2.2"/>
<text x="381.2" y="2454" font-size="17.5" font-weight="bold" stroke="#000" stroke-width="0.35" text-anchor="end">0</text>
<line x1="387.2" y1="2369.23" x2="394.7" y2="2369.23" stroke="#000" stroke-width="2.2"/>
<text x="381.2" y="2375.53" font-size="17.5" font-weight="bold" stroke="#000" stroke-width="0.35" text-anchor="end">1</text>
<line x1="387.2" y1="2290.77" x2="394.7" y2="2290.77" stroke="#000" stroke-width="2.2"/>
<text x="381.2" y="2297.07" font-size="17.5" font-weight="bold" stroke="#000" stroke-width="0.35" text-anchor="end">2</text>
<line x1="387.2" y1="2212.3" x2="394.7" y2="2212.3" stroke="#000" stroke-width="2.2"/>
<text x="381.2" y="2218.6" font-size="17.5" font-weight="bold" stroke="#000" stroke-width="0.35" text-anchor="end">3</text>
<line x1="384.9" y1="2447.7" x2="551.8" y2="2447.7" stroke="#000" stroke-width="2.2"/>
<line x1="438.8" y1="2447.7" x2="438.8" y2="2456.4" stroke="#000" stroke-width="2"/>
<text x="438.8" y="2479" font-size="17.5" font-weight="bold" stroke="#000" stroke-width="0.35" text-anchor="middle">Ctrl</text>
<line x1="506.6" y1="2447.7" x2="506.6" y2="2456.4" stroke="#000" stroke-width="2"/>
<text x="506.6" y="2479" font-size="17.5" font-weight="bold" stroke="#000" stroke-width="0.35" text-anchor="middle">KO</text>
<text x="336" y="2330" font-size="18.2" font-weight="bold" stroke="#000" stroke-width="0.36" text-anchor="middle" textLength="178.9" lengthAdjust="spacingAndGlyphs" transform="rotate(-90 336 2330)">Fbxl22 mRNA levels</text>
<text x="359.1" y="2330" font-size="18.2" font-weight="bold" stroke="#000" stroke-width="0.36" text-anchor="middle" textLength="139.4" lengthAdjust="spacingAndGlyphs" transform="rotate(-90 359.1 2330)">(relative to Ctrl)</text>
<text x="473.3" y="2239.8" font-size="18.3" stroke="#000" stroke-width="0.29" text-anchor="middle">p = 0.0885</text>
<polyline points="438.8,2297 438.8,2251.8 506.6,2251.8 506.6,2266.9" fill="none" stroke="#000" stroke-width="2.2" stroke-linejoin="round"/>
<path d="M438.8,2310.2C439.2,2312.6 439.3,2315 439.9,2317.3C440.7,2320.6 449.7,2323.9 449.7,2327.2C449.7,2333.5 441.7,2339.7 441.7,2346C441.7,2351 457.7,2356.1 457.7,2361.1C457.7,2364.2 454.7,2367.4 454.7,2370.5C454.7,2373.6 459.2,2376.8 459.2,2379.9C459.2,2384.9 441.7,2390 441.7,2395C441.7,2398.5 449.7,2402 449.7,2405.5C449.7,2408.6 440.7,2411.6 439.9,2414.7C439.3,2416.9 439.2,2419.1 438.8,2421.3C438.4,2419.1 438.3,2416.9 437.7,2414.7C436.9,2411.6 427.9,2408.6 427.9,2405.5C427.9,2402 435.9,2398.5 435.9,2395C435.9,2390 418.4,2384.9 418.4,2379.9C418.4,2376.8 422.9,2373.6 422.9,2370.5C422.9,2367.4 419.9,2364.2 419.9,2361.1C419.9,2356.1 435.9,2351 435.9,2346C435.9,2339.7 427.9,2333.5 427.9,2327.2C427.9,2323.9 436.9,2320.6 437.7,2317.3C438.3,2315 438.4,2312.6 438.8,2310.2Z" fill="#808080" stroke="#000" stroke-width="2.3" stroke-linejoin="round"/>
<line x1="422.95" y1="2370.5" x2="454.65" y2="2370.5" stroke="#000" stroke-width="2.2"/>
<line x1="430.68" y1="2389.5" x2="446.92" y2="2389.5" stroke="#000" stroke-width="1.1"/>
<circle cx="438.8" cy="2327.2" r="2.32" fill="#000"/>
<circle cx="435" cy="2360" r="2.32" fill="#000"/>
<circle cx="444.5" cy="2363" r="2.32" fill="#000"/>
<circle cx="435" cy="2380" r="2.32" fill="#000"/>
<circle cx="444.5" cy="2381" r="2.32" fill="#000"/>
<circle cx="438.8" cy="2405.5" r="2.32" fill="#000"/>
<path d="M506.6,2280.1C506.9,2282.7 507,2285.4 507.5,2288C508.3,2291.6 516,2295.3 516,2298.9C516,2303.3 509.5,2307.7 509.5,2312.1C509.5,2317.1 516,2322.2 516,2327.2C516,2330.3 510.5,2333.5 510.5,2336.6C510.5,2341.6 526.5,2346.6 526.5,2351.6C526.5,2357.4 510.1,2363.3 508.6,2369.1C507.5,2373.3 507.3,2377.6 506.6,2381.8C505.9,2377.6 505.7,2373.3 504.6,2369.1C503.1,2363.3 486.8,2357.4 486.8,2351.6C486.8,2346.6 502.8,2341.6 502.8,2336.6C502.8,2333.5 497.2,2330.3 497.2,2327.2C497.2,2322.2 503.8,2317.1 503.8,2312.1C503.8,2307.7 497.2,2303.3 497.2,2298.9C497.2,2295.3 504.9,2291.6 505.7,2288C506.2,2285.4 506.3,2282.7 506.6,2280.1Z" fill="#ffc9c3" stroke="#ff2000" stroke-width="2.3" stroke-linejoin="round"/>
<line x1="488.03" y1="2349" x2="525.17" y2="2349" stroke="#000" stroke-width="2.2"/>
<line x1="493.43" y1="2359.2" x2="519.77" y2="2359.2" stroke="#000" stroke-width="1.1"/>
<rect x="504.3" y="2296" width="4.6" height="4.6" fill="#000"/>
<rect x="504.3" y="2324.9" width="4.6" height="4.6" fill="#000"/>
<rect x="498.7" y="2346.7" width="4.6" height="4.6" fill="#000"/>
<rect x="509.2" y="2351.2" width="4.6" height="4.6" fill="#000"/>
<rect x="504.3" y="2363.3" width="4.6" height="4.6" fill="#000"/>
<line x1="677" y1="2212.2" x2="677" y2="2448.9" stroke="#000" stroke-width="2.2"/>
<line x1="669.5" y1="2447.8" x2="677" y2="2447.8" stroke="#000" stroke-width="2.2"/>
<text x="663.4" y="2454.1" font-size="17.5" font-weight="bold" stroke="#000" stroke-width="0.35" text-anchor="end">0</text>
<line x1="669.5" y1="2400.68" x2="677" y2="2400.68" stroke="#000" stroke-width="2.2"/>
<text x="663.4" y="2406.98" font-size="17.5" font-weight="bold" stroke="#000" stroke-width="0.35" text-anchor="end">2</text>
<line x1="669.5" y1="2353.56" x2="677" y2="2353.56" stroke="#000" stroke-width="2.2"/>
<text x="663.4" y="2359.86" font-size="17.5" font-weight="bold" stroke="#000" stroke-width="0.35" text-anchor="end">4</text>
<line x1="669.5" y1="2306.44" x2="677" y2="2306.44" stroke="#000" stroke-width="2.2"/>
<text x="663.4" y="2312.74" font-size="17.5" font-weight="bold" stroke="#000" stroke-width="0.35" text-anchor="end">6</text>
<line x1="669.5" y1="2259.32" x2="677" y2="2259.32" stroke="#000" stroke-width="2.2"/>
<text x="663.4" y="2265.62" font-size="17.5" font-weight="bold" stroke="#000" stroke-width="0.35" text-anchor="end">8</text>
<line x1="669.5" y1="2212.2" x2="677" y2="2212.2" stroke="#000" stroke-width="2.2"/>
<text x="663.4" y="2218.5" font-size="17.5" font-weight="bold" stroke="#000" stroke-width="0.35" text-anchor="end">10</text>
<line x1="667.8" y1="2447.8" x2="833.9" y2="2447.8" stroke="#000" stroke-width="2.2"/>
<line x1="722" y1="2447.8" x2="722" y2="2456.5" stroke="#000" stroke-width="2"/>
<text x="722" y="2479.1" font-size="17.5" font-weight="bold" stroke="#000" stroke-width="0.35" text-anchor="middle">Ctrl</text>
<line x1="789.5" y1="2447.8" x2="789.5" y2="2456.5" stroke="#000" stroke-width="2"/>
<text x="789.5" y="2479.1" font-size="17.5" font-weight="bold" stroke="#000" stroke-width="0.35" text-anchor="middle">KO</text>
<text x="608.1" y="2329.3" font-size="18.2" font-weight="bold" stroke="#000" stroke-width="0.36" text-anchor="middle" textLength="181.4" lengthAdjust="spacingAndGlyphs" transform="rotate(-90 608.1 2329.3)">Fbxl22 mRNA levels</text>
<text x="629.7" y="2329.3" font-size="18.2" font-weight="bold" stroke="#000" stroke-width="0.36" text-anchor="middle" textLength="139" lengthAdjust="spacingAndGlyphs" transform="rotate(-90 629.7 2329.3)">(relative to Ctrl)</text>
<text x="755.8" y="2227.8" font-size="18.3" stroke="#000" stroke-width="0.29" text-anchor="middle">p = 0.0293</text>
<polyline points="722,2382.7 722,2239.3 789.5,2239.3 789.5,2255.6" fill="none" stroke="#000" stroke-width="2.2" stroke-linejoin="round"/>
<path d="M722,2395.3C722.3,2396.7 722.4,2398.1 723,2399.5C723.7,2401.5 731.6,2403.4 731.6,2405.4C731.6,2407.4 725.9,2409.5 725.9,2411.5C725.9,2414 741.9,2416.5 741.9,2419C741.9,2422.2 730.9,2425.3 730.9,2428.5C730.9,2431.3 735.9,2434.2 735.9,2437C735.9,2439 724.4,2440.9 723.4,2442.9C722.6,2444.3 722.5,2445.7 722,2447.1C721.5,2445.7 721.4,2444.3 720.6,2442.9C719.6,2440.9 708.1,2439 708.1,2437C708.1,2434.2 713.1,2431.3 713.1,2428.5C713.1,2425.3 702.1,2422.2 702.1,2419C702.1,2416.5 718.1,2414 718.1,2411.5C718.1,2409.5 712.4,2407.4 712.4,2405.4C712.4,2403.4 720.3,2401.5 721,2399.5C721.6,2398.1 721.7,2396.7 722,2395.3Z" fill="#808080" stroke="#000" stroke-width="2.3" stroke-linejoin="round"/>
<line x1="702.15" y1="2419" x2="741.85" y2="2419" stroke="#000" stroke-width="2.2"/>
<line x1="708.34" y1="2436" x2="735.66" y2="2436" stroke="#000" stroke-width="1.1"/>
<circle cx="722" cy="2405.4" r="2.32" fill="#000"/>
<circle cx="717" cy="2418.5" r="2.32" fill="#000"/>
<circle cx="727" cy="2418.5" r="2.32" fill="#000"/>
<circle cx="722" cy="2427" r="2.32" fill="#000"/>
<circle cx="718" cy="2437" r="2.32" fill="#000"/>
<circle cx="726" cy="2437" r="2.32" fill="#000"/>
<path d="M789.5,2267.5C789.8,2271.8 789.9,2276 790.5,2280.3C791.3,2286.2 799.5,2292.1 799.5,2298C799.5,2301.9 792.4,2305.9 792.4,2309.8C792.4,2314.1 799.4,2318.4 799.4,2322.7C799.4,2327.5 793.4,2332.2 793.4,2337C793.4,2346.6 799.4,2356.2 799.4,2365.8C799.4,2369.7 796.4,2373.7 796.4,2377.6C796.4,2382.1 810,2386.7 810,2391.2C810,2396.8 801.4,2402.5 801.4,2408.1C801.4,2412.1 810,2416 810,2420C810,2425.2 793.1,2430.5 791.6,2435.7C790.4,2439.5 790.2,2443.3 789.5,2447.1C788.8,2443.3 788.6,2439.5 787.4,2435.7C785.9,2430.5 769,2425.2 769,2420C769,2416 777.6,2412.1 777.6,2408.1C777.6,2402.5 769,2396.8 769,2391.2C769,2386.7 782.6,2382.1 782.6,2377.6C782.6,2373.7 779.6,2369.7 779.6,2365.8C779.6,2356.2 785.6,2346.6 785.6,2337C785.6,2332.2 779.6,2327.5 779.6,2322.7C779.6,2318.4 786.6,2314.1 786.6,2309.8C786.6,2305.9 779.5,2301.9 779.5,2298C779.5,2292.1 787.7,2286.2 788.5,2280.3C789.1,2276 789.2,2271.8 789.5,2267.5Z" fill="#ffc9c3" stroke="#ff2000" stroke-width="2.3" stroke-linejoin="round"/>
<line x1="779.65" y1="2322.7" x2="799.35" y2="2322.7" stroke="#000" stroke-width="1.1"/>
<line x1="769.06" y1="2390.5" x2="809.94" y2="2390.5" stroke="#000" stroke-width="2.2"/>
<line x1="769.43" y1="2418.3" x2="809.57" y2="2418.3" stroke="#000" stroke-width="1.1"/>
<rect x="787.2" y="2295.7" width="4.6" height="4.6" fill="#000"/>
<rect x="787.2" y="2320.4" width="4.6" height="4.6" fill="#000"/>
<rect x="787.2" y="2364.2" width="4.6" height="4.6" fill="#000"/>
<rect x="781.7" y="2390.2" width="4.6" height="4.6" fill="#000"/>
<rect x="791.7" y="2387.7" width="4.6" height="4.6" fill="#000"/>
<rect x="787.2" y="2416.2" width="4.6" height="4.6" fill="#000"/>
<rect x="787.2" y="2421.7" width="4.6" height="4.6" fill="#000"/>
<text x="1115.5" y="2166.6" font-size="37.6" font-weight="bold" fill="#262626" textLength="37.5" lengthAdjust="spacingAndGlyphs" stroke="#262626" stroke-width="1.1" stroke-linejoin="round">K)</text>
<line x1="1172.8" y1="2205.7" x2="1172.8" y2="2441.6" stroke="#000" stroke-width="2"/>
<line x1="1164.8" y1="2440.6" x2="1172.8" y2="2440.6" stroke="#000" stroke-width="2"/>
<text x="1159" y="2447.01" font-size="17.8" font-weight="bold" stroke="#000" stroke-width="0.36" text-anchor="end">0</text>
<line x1="1164.8" y1="2393.62" x2="1172.8" y2="2393.62" stroke="#000" stroke-width="2"/>
<text x="1159" y="2400.03" font-size="17.8" font-weight="bold" stroke="#000" stroke-width="0.36" text-anchor="end">500</text>
<line x1="1164.8" y1="2346.64" x2="1172.8" y2="2346.64" stroke="#000" stroke-width="2"/>
<text x="1159" y="2353.05" font-size="17.8" font-weight="bold" stroke="#000" stroke-width="0.36" text-anchor="end">1000</text>
<line x1="1164.8" y1="2299.66" x2="1172.8" y2="2299.66" stroke="#000" stroke-width="2"/>
<text x="1159" y="2306.07" font-size="17.8" font-weight="bold" stroke="#000" stroke-width="0.36" text-anchor="end">1500</text>
<line x1="1164.8" y1="2252.68" x2="1172.8" y2="2252.68" stroke="#000" stroke-width="2"/>
<text x="1159" y="2259.09" font-size="17.8" font-weight="bold" stroke="#000" stroke-width="0.36" text-anchor="end">2000</text>
<line x1="1164.8" y1="2205.7" x2="1172.8" y2="2205.7" stroke="#000" stroke-width="2"/>
<text x="1159" y="2212.11" font-size="17.8" font-weight="bold" stroke="#000" stroke-width="0.36" text-anchor="end">2500</text>
<line x1="1162.1" y1="2440.6" x2="1569.6" y2="2440.6" stroke="#000" stroke-width="2"/>
<line x1="1264.4" y1="2440.6" x2="1264.4" y2="2449.7" stroke="#000" stroke-width="2"/>
<text x="1264.4" y="2471.4" font-size="17.8" font-weight="bold" stroke="#000" stroke-width="0.36" text-anchor="middle">3</text>
<line x1="1476.8" y1="2440.6" x2="1476.8" y2="2449.7" stroke="#000" stroke-width="2"/>
<text x="1476.8" y="2471.4" font-size="17.8" font-weight="bold" stroke="#000" stroke-width="0.36" text-anchor="middle">18</text>
<text x="1295.2" y="2489.2" font-size="18.99" font-weight="bold" stroke="#000" stroke-width="0.38" textLength="122.4" lengthAdjust="spacingAndGlyphs">Age (months)</text>
<text x="1108.2" y="2323.3" font-size="18.9" font-weight="bold" stroke="#000" stroke-width="0.38" text-anchor="middle" textLength="130.3" lengthAdjust="spacingAndGlyphs" transform="rotate(-90 1108.2 2323.3)">Distance (mts)</text>
<text x="1331.7" y="2143.7" font-size="18.3" stroke="#000" stroke-width="0.29" text-anchor="middle">p = 0.0005</text>
<text x="1265.2" y="2195" font-size="18.3" stroke="#000" stroke-width="0.29" text-anchor="middle">p = 0.0059</text>
<polyline points="1225.3,2171.3 1225.3,2156.3 1437.3,2156.3 1437.3,2260.2" fill="none" stroke="#000" stroke-width="2.2" stroke-linejoin="round"/>
<polyline points="1225.3,2221.9 1225.3,2207.7 1305.1,2207.7 1305.1,2279.9" fill="none" stroke="#000" stroke-width="2.2" stroke-linejoin="round"/>
<path d="M1225.3,2235.3C1225.8,2236.4 1226,2237.5 1226.8,2238.6C1227.9,2240.1 1240,2241.7 1240,2243.2C1240,2245.6 1228.1,2247.9 1228.1,2250.3C1228.1,2253.6 1241.1,2256.9 1241.1,2260.2C1241.1,2261.5 1236.1,2262.7 1236.1,2264C1236.1,2265.4 1249.8,2266.7 1249.8,2268.1C1249.8,2270.3 1238.6,2272.6 1234.1,2274.8C1231.1,2276.3 1226.9,2277.9 1226.2,2279.4C1225.7,2280.5 1225.6,2281.6 1225.3,2282.7C1225,2281.6 1224.9,2280.5 1224.4,2279.4C1223.7,2277.9 1219.5,2276.3 1216.5,2274.8C1212,2272.6 1200.8,2270.3 1200.8,2268.1C1200.8,2266.7 1214.5,2265.4 1214.5,2264C1214.5,2262.7 1209.5,2261.5 1209.5,2260.2C1209.5,2256.9 1222.5,2253.6 1222.5,2250.3C1222.5,2247.9 1210.6,2245.6 1210.6,2243.2C1210.6,2241.7 1222.7,2240.1 1223.8,2238.6C1224.6,2237.5 1224.8,2236.4 1225.3,2235.3Z" fill="#808080" stroke="#000" stroke-width="2.3" stroke-linejoin="round"/>
<line x1="1209.98" y1="2259" x2="1240.62" y2="2259" stroke="#000" stroke-width="1.1"/>
<line x1="1205.38" y1="2266.5" x2="1245.22" y2="2266.5" stroke="#000" stroke-width="2.2"/>
<line x1="1208.64" y1="2272" x2="1241.96" y2="2272" stroke="#000" stroke-width="1.1"/>
<circle cx="1225.3" cy="2243.2" r="2.32" fill="#000"/>
<circle cx="1225.3" cy="2259.8" r="2.32" fill="#000"/>
<circle cx="1218" cy="2267.2" r="2.32" fill="#000"/>
<circle cx="1232.5" cy="2268.5" r="2.32" fill="#000"/>
<circle cx="1225.3" cy="2274.8" r="2.32" fill="#000"/>
<path d="M1305.1,2291.8C1305.9,2293.3 1306.2,2294.8 1307.6,2296.3C1309.4,2298.3 1329.6,2300.4 1329.6,2302.4C1329.6,2305.4 1311.9,2308.5 1311.9,2311.5C1311.9,2314.4 1329.9,2317.3 1329.9,2320.2C1329.9,2322.2 1321.9,2324.1 1321.9,2326.1C1321.9,2327.4 1329.9,2328.8 1329.9,2330.1C1329.9,2332.4 1309.5,2334.7 1307.6,2336.9C1306.2,2338.6 1305.9,2340.2 1305.1,2341.9C1304.3,2340.2 1304,2338.6 1302.6,2336.9C1300.7,2334.7 1280.2,2332.4 1280.2,2330.1C1280.2,2328.8 1288.2,2327.4 1288.2,2326.1C1288.2,2324.1 1280.2,2322.2 1280.2,2320.2C1280.2,2317.3 1298.2,2314.4 1298.2,2311.5C1298.2,2308.5 1280.5,2305.4 1280.5,2302.4C1280.5,2300.4 1300.8,2298.3 1302.6,2296.3C1304,2294.8 1304.3,2293.3 1305.1,2291.8Z" fill="#ffc9c3" stroke="#ff2000" stroke-width="2.3" stroke-linejoin="round"/>
<line x1="1280.55" y1="2302.4" x2="1329.65" y2="2302.4" stroke="#000" stroke-width="1.1"/>
<line x1="1280.25" y1="2320.2" x2="1329.95" y2="2320.2" stroke="#000" stroke-width="2.2"/>
<line x1="1280.25" y1="2330.1" x2="1329.95" y2="2330.1" stroke="#000" stroke-width="1.1"/>
<rect x="1302.8" y="2300.1" width="4.6" height="4.6" fill="#000"/>
<rect x="1302.8" y="2317.9" width="4.6" height="4.6" fill="#000"/>
<rect x="1302.8" y="2327.8" width="4.6" height="4.6" fill="#000"/>
<path d="M1437.3,2274C1437.7,2276.2 1437.9,2278.4 1438.6,2280.6C1439.7,2283.7 1450.8,2286.7 1450.8,2289.8C1450.8,2293.7 1441.1,2297.7 1441.1,2301.6C1441.1,2304.9 1450.8,2308.2 1450.8,2311.5C1450.8,2314.8 1441.1,2318.1 1441.1,2321.4C1441.1,2326 1461.5,2330.6 1461.5,2335.2C1461.5,2339.1 1446.1,2343.1 1446.1,2347C1446.1,2349 1450.8,2351 1450.8,2353C1450.8,2355.9 1439.7,2358.8 1438.6,2361.7C1437.9,2363.8 1437.7,2365.9 1437.3,2368C1436.9,2365.9 1436.7,2363.8 1436,2361.7C1434.9,2358.8 1423.8,2355.9 1423.8,2353C1423.8,2351 1428.5,2349 1428.5,2347C1428.5,2343.1 1413.1,2339.1 1413.1,2335.2C1413.1,2330.6 1433.5,2326 1433.5,2321.4C1433.5,2318.1 1423.8,2314.8 1423.8,2311.5C1423.8,2308.2 1433.5,2304.9 1433.5,2301.6C1433.5,2297.7 1423.8,2293.7 1423.8,2289.8C1423.8,2286.7 1434.9,2283.7 1436,2280.6C1436.7,2278.4 1436.9,2276.2 1437.3,2274Z" fill="#808080" stroke="#000" stroke-width="2.3" stroke-linejoin="round"/>
<line x1="1413.15" y1="2335.2" x2="1461.45" y2="2335.2" stroke="#000" stroke-width="2.2"/>
<line x1="1427.28" y1="2345" x2="1447.32" y2="2345" stroke="#000" stroke-width="1.1"/>
<circle cx="1437.3" cy="2289.8" r="2.32" fill="#000"/>
<circle cx="1437.3" cy="2311.5" r="2.32" fill="#000"/>
<circle cx="1437.3" cy="2333" r="2.32" fill="#000"/>
<circle cx="1437.3" cy="2341" r="2.32" fill="#000"/>
<circle cx="1437.3" cy="2353" r="2.32" fill="#000"/>
<path d="M1516.3,2292.9C1516.7,2294.7 1516.9,2296.5 1517.6,2298.2C1518.6,2300.7 1527,2303.1 1529.1,2305.6C1531,2307.7 1531.7,2309.9 1533.1,2312C1535.6,2315.8 1541.1,2319.5 1541.1,2323.3C1541.1,2327.3 1529.1,2331.2 1529.1,2335.2C1529.1,2339.8 1535.1,2344.4 1535.1,2349C1535.1,2351.6 1535.1,2354.3 1535.1,2356.9C1535.1,2359.6 1519.6,2362.2 1518.2,2364.9C1517.1,2366.8 1516.9,2368.8 1516.3,2370.7C1515.7,2368.8 1515.5,2366.8 1514.4,2364.9C1513,2362.2 1497.5,2359.6 1497.5,2356.9C1497.5,2354.3 1497.5,2351.6 1497.5,2349C1497.5,2344.4 1503.5,2339.8 1503.5,2335.2C1503.5,2331.2 1491.5,2327.3 1491.5,2323.3C1491.5,2319.5 1497,2315.8 1499.5,2312C1500.9,2309.9 1501.6,2307.7 1503.5,2305.6C1505.6,2303.1 1514,2300.7 1515,2298.2C1515.7,2296.5 1515.9,2294.7 1516.3,2292.9Z" fill="#ffc9c3" stroke="#ff2000" stroke-width="2.3" stroke-linejoin="round"/>
<line x1="1497.89" y1="2314" x2="1534.71" y2="2314" stroke="#000" stroke-width="1.1"/>
<line x1="1493.24" y1="2326.2" x2="1539.36" y2="2326.2" stroke="#000" stroke-width="2.2"/>
<line x1="1497.45" y1="2348.8" x2="1535.15" y2="2348.8" stroke="#000" stroke-width="1.1"/>
<rect x="1514" y="2302.2" width="4.6" height="4.6" fill="#000"/>
<rect x="1514" y="2312.2" width="4.6" height="4.6" fill="#000"/>
<rect x="1514" y="2319.2" width="4.6" height="4.6" fill="#000"/>
<rect x="1514" y="2326.2" width="4.6" height="4.6" fill="#000"/>
<rect x="1514" y="2333.7" width="4.6" height="4.6" fill="#000"/>
<rect x="1514" y="2343.7" width="4.6" height="4.6" fill="#000"/>
<rect x="1514" y="2354.7" width="4.6" height="4.6" fill="#000"/>
<rect x="1618.3" y="2215.3" width="26" height="14.5" fill="#808080" stroke="#000" stroke-width="1.6"/>
<rect x="1618.3" y="2247.6" width="26" height="14.5" fill="#ffc9c3" stroke="#ff2000" stroke-width="1.6"/>
<text x="1658.5" y="2228.6" font-size="18.3" stroke="#000" stroke-width="0.29">Ctrl</text>
<text x="1658.5" y="2261" font-size="18.3" stroke="#000" stroke-width="0.29">KO</text></svg></body></html>
